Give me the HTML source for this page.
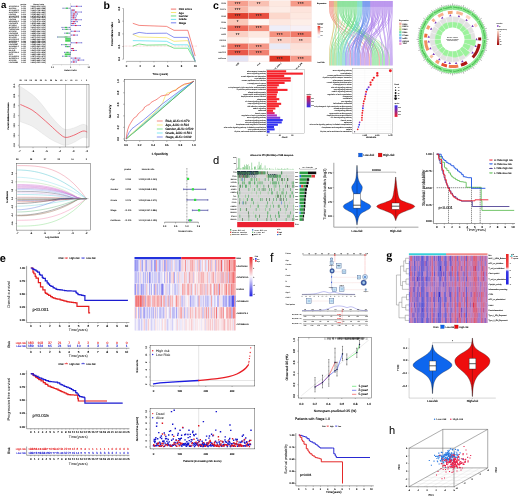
<!DOCTYPE html>
<html><head><meta charset="utf-8"><title>Figure</title>
<style>
html,body{margin:0;padding:0;background:#fff;overflow:hidden}
svg{display:block;font-family:"Liberation Sans",sans-serif}
text{font-family:"Liberation Sans",sans-serif;stroke:#000;stroke-width:.035em}
.m{text-anchor:middle}.e{text-anchor:end}.n{stroke:none}
</style></head><body>
<svg width="520" height="498" viewBox="0 0 520 498" shape-rendering="geometricPrecision" text-rendering="geometricPrecision">
<defs><filter id="bl" x="0" y="0" width="100%" height="100%"><feGaussianBlur stdDeviation="0.3"/></filter></defs>
<rect x="0" y="0" width="520" height="498" fill="#ffffff"/>
<g filter="url(#bl)">
<g id="panel_a">
<text x="1" y="8.1" font-size="9.6" class="n" font-weight="bold">a</text>
<text x="23.4" y="4.6" font-size="1.9" class="m n" font-weight="bold">pvalue</text>
<text x="38.6" y="4.6" font-size="1.9" class="m n" font-weight="bold">Hazard ratio</text>
<text x="8.8" y="6.95" font-size="1.8" class="n" font-weight="bold">AC005261.1</text>
<text x="23.4" y="6.95" font-size="1.8" class="m n" font-weight="bold">0.021</text>
<text x="30.4" y="6.95" font-size="1.8" class="n" font-weight="bold">2.401(1.921-3.121)</text>
<text x="8.8" y="8.87" font-size="1.8" class="n" font-weight="bold">AL13914</text>
<text x="23.4" y="8.87" font-size="1.8" class="m n" font-weight="bold">0.026</text>
<text x="30.4" y="8.87" font-size="1.8" class="n" font-weight="bold">1.837(1.469-2.388)</text>
<text x="8.8" y="10.79" font-size="1.8" class="n" font-weight="bold">AC104695.3</text>
<text x="23.4" y="10.79" font-size="1.8" class="m n" font-weight="bold">0.005</text>
<text x="30.4" y="10.79" font-size="1.8" class="n" font-weight="bold">2.160(1.728-2.809)</text>
<text x="8.8" y="12.71" font-size="1.8" class="n" font-weight="bold">AL117336.2</text>
<text x="23.4" y="12.71" font-size="1.8" class="m n" font-weight="bold">0.007</text>
<text x="30.4" y="12.71" font-size="1.8" class="n" font-weight="bold">1.295(1.036-1.683)</text>
<text x="8.8" y="14.63" font-size="1.8" class="n" font-weight="bold">LINC010</text>
<text x="23.4" y="14.63" font-size="1.8" class="m n" font-weight="bold">0.004</text>
<text x="30.4" y="14.63" font-size="1.8" class="n" font-weight="bold">2.328(1.863-3.027)</text>
<text x="8.8" y="16.55" font-size="1.8" class="n" font-weight="bold">AC010776.3</text>
<text x="23.4" y="16.55" font-size="1.8" class="m n" font-weight="bold">0.014</text>
<text x="30.4" y="16.55" font-size="1.8" class="n" font-weight="bold">0.671(0.537-0.873)</text>
<text x="8.8" y="18.47" font-size="1.8" class="n" font-weight="bold">AC073957.3</text>
<text x="23.4" y="18.47" font-size="1.8" class="m n" font-weight="bold">0.028</text>
<text x="30.4" y="18.47" font-size="1.8" class="n" font-weight="bold">1.395(1.116-1.813)</text>
<text x="8.8" y="20.39" font-size="1.8" class="n" font-weight="bold">LINC016</text>
<text x="23.4" y="20.39" font-size="1.8" class="m n" font-weight="bold">0.016</text>
<text x="30.4" y="20.39" font-size="1.8" class="n" font-weight="bold">0.772(0.618-1.004)</text>
<text x="8.8" y="22.31" font-size="1.8" class="n" font-weight="bold">AP000695.2</text>
<text x="23.4" y="22.31" font-size="1.8" class="m n" font-weight="bold">0.028</text>
<text x="30.4" y="22.31" font-size="1.8" class="n" font-weight="bold">0.712(0.570-0.926)</text>
<text x="8.8" y="24.23" font-size="1.8" class="n" font-weight="bold">LINC01579</text>
<text x="23.4" y="24.23" font-size="1.8" class="m n" font-weight="bold">0.037</text>
<text x="30.4" y="24.23" font-size="1.8" class="n" font-weight="bold">0.835(0.668-1.086)</text>
<text x="8.8" y="26.15" font-size="1.8" class="n" font-weight="bold">AC24504</text>
<text x="23.4" y="26.15" font-size="1.8" class="m n" font-weight="bold">0.015</text>
<text x="30.4" y="26.15" font-size="1.8" class="n" font-weight="bold">1.798(1.439-2.338)</text>
<text x="8.8" y="28.07" font-size="1.8" class="n" font-weight="bold">AL355312.2</text>
<text x="23.4" y="28.07" font-size="1.8" class="m n" font-weight="bold">0.038</text>
<text x="30.4" y="28.07" font-size="1.8" class="n" font-weight="bold">2.401(1.921-3.121)</text>
<text x="8.8" y="29.99" font-size="1.8" class="n" font-weight="bold">TNFRSF10A</text>
<text x="23.4" y="29.99" font-size="1.8" class="m n" font-weight="bold">0.037</text>
<text x="30.4" y="29.99" font-size="1.8" class="n" font-weight="bold">1.713(1.370-2.226)</text>
<text x="8.8" y="31.91" font-size="1.8" class="n" font-weight="bold">AC02636</text>
<text x="23.4" y="31.91" font-size="1.8" class="m n" font-weight="bold">0.004</text>
<text x="30.4" y="31.91" font-size="1.8" class="n" font-weight="bold">2.455(1.964-3.191)</text>
<text x="8.8" y="33.83" font-size="1.8" class="n" font-weight="bold">LINC00205</text>
<text x="23.4" y="33.83" font-size="1.8" class="m n" font-weight="bold">0.003</text>
<text x="30.4" y="33.83" font-size="1.8" class="n" font-weight="bold">1.658(1.326-2.155)</text>
<text x="8.8" y="35.75" font-size="1.8" class="n" font-weight="bold">AL161785.1</text>
<text x="23.4" y="35.75" font-size="1.8" class="m n" font-weight="bold">0.009</text>
<text x="30.4" y="35.75" font-size="1.8" class="n" font-weight="bold">1.150(0.920-1.495)</text>
<text x="8.8" y="37.67" font-size="1.8" class="n" font-weight="bold">AC14765</text>
<text x="23.4" y="37.67" font-size="1.8" class="m n" font-weight="bold">0.010</text>
<text x="30.4" y="37.67" font-size="1.8" class="n" font-weight="bold">1.627(1.302-2.115)</text>
<text x="8.8" y="39.59" font-size="1.8" class="n" font-weight="bold">AC022031.2</text>
<text x="23.4" y="39.59" font-size="1.8" class="m n" font-weight="bold">0.037</text>
<text x="30.4" y="39.59" font-size="1.8" class="n" font-weight="bold">1.186(0.949-1.542)</text>
<text x="8.8" y="41.51" font-size="1.8" class="n" font-weight="bold">AL512506.1</text>
<text x="23.4" y="41.51" font-size="1.8" class="m n" font-weight="bold">0.044</text>
<text x="30.4" y="41.51" font-size="1.8" class="n" font-weight="bold">0.943(0.755-1.226)</text>
<text x="8.8" y="43.43" font-size="1.8" class="n" font-weight="bold">AC08764</text>
<text x="23.4" y="43.43" font-size="1.8" class="m n" font-weight="bold">0.038</text>
<text x="30.4" y="43.43" font-size="1.8" class="n" font-weight="bold">1.685(1.348-2.191)</text>
<text x="8.8" y="45.35" font-size="1.8" class="n" font-weight="bold">LINC02587</text>
<text x="23.4" y="45.35" font-size="1.8" class="m n" font-weight="bold">0.013</text>
<text x="30.4" y="45.35" font-size="1.8" class="n" font-weight="bold">1.308(1.046-1.700)</text>
<text x="8.8" y="47.27" font-size="1.8" class="n" font-weight="bold">AL049840.2</text>
<text x="23.4" y="47.27" font-size="1.8" class="m n" font-weight="bold">0.036</text>
<text x="30.4" y="47.27" font-size="1.8" class="n" font-weight="bold">1.953(1.562-2.539)</text>
<text x="8.8" y="49.19" font-size="1.8" class="n" font-weight="bold">AC01673</text>
<text x="23.4" y="49.19" font-size="1.8" class="m n" font-weight="bold">0.037</text>
<text x="30.4" y="49.19" font-size="1.8" class="n" font-weight="bold">0.713(0.571-0.927)</text>
<text x="8.8" y="51.11" font-size="1.8" class="n" font-weight="bold">HAGLR</text>
<text x="23.4" y="51.11" font-size="1.8" class="m n" font-weight="bold">0.014</text>
<text x="30.4" y="51.11" font-size="1.8" class="n" font-weight="bold">1.543(1.235-2.006)</text>
<text x="8.8" y="53.03" font-size="1.8" class="n" font-weight="bold">AL357054.4</text>
<text x="23.4" y="53.03" font-size="1.8" class="m n" font-weight="bold">0.035</text>
<text x="30.4" y="53.03" font-size="1.8" class="n" font-weight="bold">1.412(1.130-1.836)</text>
<text x="8.8" y="54.95" font-size="1.8" class="n" font-weight="bold">PVT1</text>
<text x="23.4" y="54.95" font-size="1.8" class="m n" font-weight="bold">0.021</text>
<text x="30.4" y="54.95" font-size="1.8" class="n" font-weight="bold">1.485(1.188-1.930)</text>
<text x="8.8" y="56.87" font-size="1.8" class="n" font-weight="bold">AC104083.1</text>
<text x="23.4" y="56.87" font-size="1.8" class="m n" font-weight="bold">0.030</text>
<text x="30.4" y="56.87" font-size="1.8" class="n" font-weight="bold">1.287(1.030-1.673)</text>
<text x="8.8" y="58.79" font-size="1.8" class="n" font-weight="bold">AL355574.1</text>
<text x="23.4" y="58.79" font-size="1.8" class="m n" font-weight="bold">0.016</text>
<text x="30.4" y="58.79" font-size="1.8" class="n" font-weight="bold">2.109(1.687-2.742)</text>
<text x="8.8" y="60.71" font-size="1.8" class="n" font-weight="bold">AC09389</text>
<text x="23.4" y="60.71" font-size="1.8" class="m n" font-weight="bold">0.045</text>
<text x="30.4" y="60.71" font-size="1.8" class="n" font-weight="bold">2.082(1.665-2.706)</text>
<text x="8.8" y="62.63" font-size="1.8" class="n" font-weight="bold">LINC01980</text>
<text x="23.4" y="62.63" font-size="1.8" class="m n" font-weight="bold">0.006</text>
<text x="30.4" y="62.63" font-size="1.8" class="n" font-weight="bold">1.691(1.353-2.199)</text>
<path d="M70.5 3.5L70.5 63.5" stroke="#333" stroke-width="0.3" stroke-dasharray="0.6,0.5"/>
<path d="M71.2 6.3L81.7 6.3" stroke="#3a34c8" stroke-width="0.5"/>
<rect x="71.05" y="5.8" width="0.5" height="1" fill="#2a2ab8"/>
<rect x="81.35" y="5.8" width="0.5" height="1" fill="#2a2ab8"/>
<rect x="75.95" y="5.75" width="1.5" height="1.1" fill="#ee1838"/>
<path d="M62.8 8.22L70.2 8.22" stroke="#4a5a9a" stroke-width="0.5"/>
<rect x="62.65" y="7.72" width="0.5" height="1" fill="#2a2ab8"/>
<rect x="69.85" y="7.72" width="0.5" height="1" fill="#2a2ab8"/>
<rect x="65.8" y="7.67" width="2.2" height="1.1" fill="#35c84a"/>
<path d="M71 10.14L74.8 10.14" stroke="#3a34c8" stroke-width="0.5"/>
<rect x="70.85" y="9.64" width="0.5" height="1" fill="#2a2ab8"/>
<rect x="74.45" y="9.64" width="0.5" height="1" fill="#2a2ab8"/>
<rect x="72.25" y="9.59" width="1.5" height="1.1" fill="#ee1838"/>
<path d="M71 12.06L81.7 12.06" stroke="#3a34c8" stroke-width="0.5"/>
<rect x="70.85" y="11.56" width="0.5" height="1" fill="#2a2ab8"/>
<rect x="81.35" y="11.56" width="0.5" height="1" fill="#2a2ab8"/>
<rect x="75.05" y="11.51" width="1.5" height="1.1" fill="#ee1838"/>
<path d="M71 13.98L77.7 13.98" stroke="#3a34c8" stroke-width="0.5"/>
<rect x="70.85" y="13.48" width="0.5" height="1" fill="#2a2ab8"/>
<rect x="77.35" y="13.48" width="0.5" height="1" fill="#2a2ab8"/>
<rect x="73.25" y="13.43" width="1.5" height="1.1" fill="#ee1838"/>
<path d="M71 15.9L76.5 15.9" stroke="#3a34c8" stroke-width="0.5"/>
<rect x="70.85" y="15.4" width="0.5" height="1" fill="#2a2ab8"/>
<rect x="76.15" y="15.4" width="0.5" height="1" fill="#2a2ab8"/>
<rect x="72.75" y="15.35" width="1.5" height="1.1" fill="#ee1838"/>
<path d="M71 17.82L76 17.82" stroke="#3a34c8" stroke-width="0.5"/>
<rect x="70.85" y="17.32" width="0.5" height="1" fill="#2a2ab8"/>
<rect x="75.65" y="17.32" width="0.5" height="1" fill="#2a2ab8"/>
<rect x="72.75" y="17.27" width="1.5" height="1.1" fill="#ee1838"/>
<path d="M71 19.74L81.5 19.74" stroke="#3a34c8" stroke-width="0.5"/>
<rect x="70.85" y="19.24" width="0.5" height="1" fill="#2a2ab8"/>
<rect x="81.15" y="19.24" width="0.5" height="1" fill="#2a2ab8"/>
<rect x="75.25" y="19.19" width="1.5" height="1.1" fill="#ee1838"/>
<path d="M71 21.66L77.5 21.66" stroke="#3a34c8" stroke-width="0.5"/>
<rect x="70.85" y="21.16" width="0.5" height="1" fill="#2a2ab8"/>
<rect x="77.15" y="21.16" width="0.5" height="1" fill="#2a2ab8"/>
<rect x="73.25" y="21.11" width="1.5" height="1.1" fill="#ee1838"/>
<path d="M71 23.58L75.5 23.58" stroke="#3a34c8" stroke-width="0.5"/>
<rect x="70.85" y="23.08" width="0.5" height="1" fill="#2a2ab8"/>
<rect x="75.15" y="23.08" width="0.5" height="1" fill="#2a2ab8"/>
<rect x="72.25" y="23.03" width="1.5" height="1.1" fill="#ee1838"/>
<path d="M71 25.5L80.8 25.5" stroke="#3a34c8" stroke-width="0.5"/>
<rect x="70.85" y="25" width="0.5" height="1" fill="#2a2ab8"/>
<rect x="80.45" y="25" width="0.5" height="1" fill="#2a2ab8"/>
<rect x="75.05" y="24.95" width="1.5" height="1.1" fill="#ee1838"/>
<path d="M61.8 27.42L70 27.42" stroke="#4a5a9a" stroke-width="0.5"/>
<rect x="61.65" y="26.92" width="0.5" height="1" fill="#2a2ab8"/>
<rect x="69.65" y="26.92" width="0.5" height="1" fill="#2a2ab8"/>
<rect x="64.9" y="26.87" width="2.2" height="1.1" fill="#35c84a"/>
<path d="M62.3 29.34L70.5 29.34" stroke="#4a5a9a" stroke-width="0.5"/>
<rect x="62.15" y="28.84" width="0.5" height="1" fill="#2a2ab8"/>
<rect x="70.15" y="28.84" width="0.5" height="1" fill="#2a2ab8"/>
<rect x="65.4" y="28.79" width="2.2" height="1.1" fill="#35c84a"/>
<path d="M71 31.26L79.6 31.26" stroke="#3a34c8" stroke-width="0.5"/>
<rect x="70.85" y="30.76" width="0.5" height="1" fill="#2a2ab8"/>
<rect x="79.25" y="30.76" width="0.5" height="1" fill="#2a2ab8"/>
<rect x="74.25" y="30.71" width="1.5" height="1.1" fill="#ee1838"/>
<path d="M64.7 33.18L70 33.18" stroke="#4a5a9a" stroke-width="0.5"/>
<rect x="64.55" y="32.68" width="0.5" height="1" fill="#2a2ab8"/>
<rect x="69.65" y="32.68" width="0.5" height="1" fill="#2a2ab8"/>
<rect x="66.2" y="32.63" width="2.2" height="1.1" fill="#35c84a"/>
<path d="M71 35.1L77.7 35.1" stroke="#3a34c8" stroke-width="0.5"/>
<rect x="70.85" y="34.6" width="0.5" height="1" fill="#2a2ab8"/>
<rect x="77.35" y="34.6" width="0.5" height="1" fill="#2a2ab8"/>
<rect x="73.25" y="34.55" width="1.5" height="1.1" fill="#ee1838"/>
<rect x="57.5" y="36.22" width="13" height="1.6" fill="#a9c6c0"/>
<rect x="64.5" y="36.22" width="3" height="1.6" fill="#7fd08a"/>
<rect x="57.35" y="36.52" width="0.5" height="1" fill="#2a2ab8"/>
<rect x="65.2" y="38.09" width="5.3" height="1.7" fill="#48d05a"/>
<rect x="70.1" y="38.44" width="0.5" height="1" fill="#2a2ab8"/>
<rect x="65.2" y="40.01" width="5.3" height="1.7" fill="#48d05a"/>
<rect x="70.1" y="40.36" width="0.5" height="1" fill="#2a2ab8"/>
<path d="M71 42.78L82 42.78" stroke="#3a34c8" stroke-width="0.5"/>
<rect x="70.85" y="42.28" width="0.5" height="1" fill="#2a2ab8"/>
<rect x="81.65" y="42.28" width="0.5" height="1" fill="#2a2ab8"/>
<rect x="75.75" y="42.23" width="1.5" height="1.1" fill="#ee1838"/>
<path d="M61.3 44.7L70.5 44.7" stroke="#4a5a9a" stroke-width="0.5"/>
<rect x="61.15" y="44.2" width="0.5" height="1" fill="#2a2ab8"/>
<rect x="70.15" y="44.2" width="0.5" height="1" fill="#2a2ab8"/>
<rect x="64.9" y="44.15" width="2.2" height="1.1" fill="#35c84a"/>
<path d="M65.2 46.62L70 46.62" stroke="#4a5a9a" stroke-width="0.5"/>
<rect x="65.05" y="46.12" width="0.5" height="1" fill="#2a2ab8"/>
<rect x="69.65" y="46.12" width="0.5" height="1" fill="#2a2ab8"/>
<rect x="66.5" y="46.07" width="2.2" height="1.1" fill="#35c84a"/>
<path d="M71 48.54L73.8 48.54" stroke="#3a34c8" stroke-width="0.5"/>
<rect x="70.85" y="48.04" width="0.5" height="1" fill="#2a2ab8"/>
<rect x="73.45" y="48.04" width="0.5" height="1" fill="#2a2ab8"/>
<rect x="71.65" y="47.99" width="1.5" height="1.1" fill="#ee1838"/>
<path d="M71 50.46L76.3 50.46" stroke="#3a34c8" stroke-width="0.5"/>
<rect x="70.85" y="49.96" width="0.5" height="1" fill="#2a2ab8"/>
<rect x="75.95" y="49.96" width="0.5" height="1" fill="#2a2ab8"/>
<rect x="72.75" y="49.91" width="1.5" height="1.1" fill="#ee1838"/>
<path d="M64.2 52.38L70.5 52.38" stroke="#4a5a9a" stroke-width="0.5"/>
<rect x="64.05" y="51.88" width="0.5" height="1" fill="#2a2ab8"/>
<rect x="70.15" y="51.88" width="0.5" height="1" fill="#2a2ab8"/>
<rect x="66.4" y="51.83" width="2.2" height="1.1" fill="#35c84a"/>
<rect x="64.7" y="53.45" width="5.8" height="1.7" fill="#48d05a"/>
<rect x="70.1" y="53.8" width="0.5" height="1" fill="#2a2ab8"/>
<path d="M62.3 56.22L70 56.22" stroke="#4a5a9a" stroke-width="0.5"/>
<rect x="62.15" y="55.72" width="0.5" height="1" fill="#2a2ab8"/>
<rect x="69.65" y="55.72" width="0.5" height="1" fill="#2a2ab8"/>
<rect x="65.1" y="55.67" width="2.2" height="1.1" fill="#35c84a"/>
<path d="M71 58.14L80.1 58.14" stroke="#3a34c8" stroke-width="0.5"/>
<rect x="70.85" y="57.64" width="0.5" height="1" fill="#2a2ab8"/>
<rect x="79.75" y="57.64" width="0.5" height="1" fill="#2a2ab8"/>
<rect x="74.75" y="57.59" width="1.5" height="1.1" fill="#ee1838"/>
<path d="M72.9 60.06L84 60.06" stroke="#3a34c8" stroke-width="0.5"/>
<rect x="72.75" y="59.56" width="0.5" height="1" fill="#2a2ab8"/>
<rect x="83.65" y="59.56" width="0.5" height="1" fill="#2a2ab8"/>
<rect x="77.75" y="59.51" width="1.5" height="1.1" fill="#ee1838"/>
<path d="M71 61.98L76.7 61.98" stroke="#3a34c8" stroke-width="0.5"/>
<rect x="70.85" y="61.48" width="0.5" height="1" fill="#2a2ab8"/>
<rect x="76.35" y="61.48" width="0.5" height="1" fill="#2a2ab8"/>
<rect x="73.05" y="61.43" width="1.5" height="1.1" fill="#ee1838"/>
<path d="M52.5 64.6L88.75 64.6" stroke="#888" stroke-width="0.35"/>
<path d="M52.5 64.6L52.5 65.4" stroke="#888" stroke-width="0.3"/>
<path d="M61.5 64.6L61.5 65.4" stroke="#888" stroke-width="0.3"/>
<path d="M70.5 64.6L70.5 65.4" stroke="#888" stroke-width="0.3"/>
<path d="M79.6 64.6L79.6 65.4" stroke="#888" stroke-width="0.3"/>
<path d="M88.75 64.6L88.75 65.4" stroke="#888" stroke-width="0.3"/>
<text x="52.5" y="67.8" font-size="2.2" class="m n" font-weight="bold">0.1</text>
<text x="70.5" y="67.8" font-size="2.2" class="m n" font-weight="bold">1</text>
<text x="88.75" y="67.8" font-size="2.2" class="m n" font-weight="bold">10</text>
<text x="70.5" y="71.4" font-size="2.2" class="m n" font-weight="bold">Hazard ratio</text>
<path d="M20.4,86.5 C22.35,87.85 28.65,91.75 32.1,94.6 C35.55,97.45 38.08,100.13 41.1,103.6 C44.12,107.07 47.18,111.78 50.2,115.4 C53.22,119.02 56.65,122.95 59.2,125.3 C61.75,127.65 63.08,129.05 65.5,129.5 C67.92,129.95 70.83,128.85 73.7,128 C76.57,127.15 80.45,124.75 82.7,124.4 C84.95,124.05 86.45,125.65 87.2,125.9 L87.2,138 C86.45,137.9 84.95,136.65 82.7,137.4 C80.45,138.15 76.57,141.2 73.7,142.5 C70.83,143.8 67.92,145.05 65.5,145.2 C63.08,145.35 61.75,144.45 59.2,143.4 C56.65,142.35 53.22,140.72 50.2,138.9 C47.18,137.08 44.12,134.62 41.1,132.5 C38.08,130.38 35.55,128 32.1,126.2 C28.65,124.4 22.35,122.45 20.4,121.7Z" fill="#efefef" stroke="#d4d4d4" stroke-width="0.35"/>
<path d="M20.4,104.5 C22.35,105.42 28.65,107.88 32.1,110 C35.55,112.12 38.08,114.65 41.1,117.2 C44.12,119.75 47.18,122.58 50.2,125.3 C53.22,128.02 56.65,131.48 59.2,133.5 C61.75,135.52 63.08,137.1 65.5,137.4 C67.92,137.7 70.83,136.35 73.7,135.3 C76.57,134.25 80.45,131.65 82.7,131.1 C84.95,130.55 86.45,131.85 87.2,132" fill="none" stroke="#ee3344" stroke-width="0.7" />
<path d="M65.5 84.3L65.5 147" stroke="#777" stroke-width="0.4"/>
<path d="M86.7 84.3L86.7 147" stroke="#777" stroke-width="0.4"/>
<rect x="19.1" y="84.3" width="69.9" height="62.7" fill="none" stroke="#333" stroke-width="0.4"/>
<text x="20.6" y="80.9" font-size="2.0" class="m n" font-weight="bold">28</text>
<text x="25.67" y="80.9" font-size="2.0" class="m n" font-weight="bold">28</text>
<text x="30.74" y="80.9" font-size="2.0" class="m n" font-weight="bold">28</text>
<text x="35.81" y="80.9" font-size="2.0" class="m n" font-weight="bold">28</text>
<text x="40.88" y="80.9" font-size="2.0" class="m n" font-weight="bold">28</text>
<text x="45.95" y="80.9" font-size="2.0" class="m n" font-weight="bold">27</text>
<text x="51.02" y="80.9" font-size="2.0" class="m n" font-weight="bold">26</text>
<text x="56.08" y="80.9" font-size="2.0" class="m n" font-weight="bold">25</text>
<text x="61.15" y="80.9" font-size="2.0" class="m n" font-weight="bold">19</text>
<text x="66.22" y="80.9" font-size="2.0" class="m n" font-weight="bold">17</text>
<text x="71.29" y="80.9" font-size="2.0" class="m n" font-weight="bold">16</text>
<text x="76.36" y="80.9" font-size="2.0" class="m n" font-weight="bold">10</text>
<text x="81.43" y="80.9" font-size="2.0" class="m n" font-weight="bold">7</text>
<text x="86.5" y="80.9" font-size="2.0" class="m n" font-weight="bold">2</text>
<path d="M19.6 147L19.6 148.2" stroke="#222" stroke-width="0.3"/>
<text x="19.6" y="151.9" font-size="2.58" class="m">-7</text>
<path d="M33.02 147L33.02 148.2" stroke="#222" stroke-width="0.3"/>
<text x="33.02" y="151.9" font-size="2.58" class="m">-6</text>
<path d="M46.44 147L46.44 148.2" stroke="#222" stroke-width="0.3"/>
<text x="46.44" y="151.9" font-size="2.58" class="m">-5</text>
<path d="M59.86 147L59.86 148.2" stroke="#222" stroke-width="0.3"/>
<text x="59.86" y="151.9" font-size="2.58" class="m">-4</text>
<path d="M73.28 147L73.28 148.2" stroke="#222" stroke-width="0.3"/>
<text x="73.28" y="151.9" font-size="2.58" class="m">-3</text>
<path d="M86.7 147L86.7 148.2" stroke="#222" stroke-width="0.3"/>
<text x="86.7" y="151.9" font-size="2.58" class="m">-2</text>
<path d="M17.9 86L19.1 86" stroke="#222" stroke-width="0.3"/>
<text x="15.2" y="86" font-size="2.13" class="m" transform="rotate(-90 15.2 86)">13.0</text>
<path d="M17.9 95.87L19.1 95.87" stroke="#222" stroke-width="0.3"/>
<text x="15.2" y="95.87" font-size="2.13" class="m" transform="rotate(-90 15.2 95.87)">12.8</text>
<path d="M17.9 105.73L19.1 105.73" stroke="#222" stroke-width="0.3"/>
<text x="15.2" y="105.73" font-size="2.13" class="m" transform="rotate(-90 15.2 105.73)">12.6</text>
<path d="M17.9 115.6L19.1 115.6" stroke="#222" stroke-width="0.3"/>
<text x="15.2" y="115.6" font-size="2.13" class="m" transform="rotate(-90 15.2 115.6)">12.4</text>
<path d="M17.9 125.47L19.1 125.47" stroke="#222" stroke-width="0.3"/>
<text x="15.2" y="125.47" font-size="2.13" class="m" transform="rotate(-90 15.2 125.47)">12.2</text>
<path d="M17.9 135.33L19.1 135.33" stroke="#222" stroke-width="0.3"/>
<text x="15.2" y="135.33" font-size="2.13" class="m" transform="rotate(-90 15.2 135.33)">12.0</text>
<path d="M17.9 145.2L19.1 145.2" stroke="#222" stroke-width="0.3"/>
<text x="15.2" y="145.2" font-size="2.13" class="m" transform="rotate(-90 15.2 145.2)">11.8</text>
<text x="9.3" y="116" font-size="2.24" class="m" transform="rotate(-90 9.3 116)">Partial Likelihood Deviance</text>
<text x="17.3" y="160.4" font-size="2.2" class="m n" font-weight="bold">28</text>
<path d="M17.3 230.1L17.3 231.3" stroke="#222" stroke-width="0.3"/>
<text x="17.3" y="234.2" font-size="2.58" class="m">-7</text>
<text x="31.1" y="160.4" font-size="2.2" class="m n" font-weight="bold">28</text>
<path d="M31.1 230.1L31.1 231.3" stroke="#222" stroke-width="0.3"/>
<text x="31.1" y="234.2" font-size="2.58" class="m">-6</text>
<text x="44.9" y="160.4" font-size="2.2" class="m n" font-weight="bold">27</text>
<path d="M44.9 230.1L44.9 231.3" stroke="#222" stroke-width="0.3"/>
<text x="44.9" y="234.2" font-size="2.58" class="m">-5</text>
<text x="58.7" y="160.4" font-size="2.2" class="m n" font-weight="bold">22</text>
<path d="M58.7 230.1L58.7 231.3" stroke="#222" stroke-width="0.3"/>
<text x="58.7" y="234.2" font-size="2.58" class="m">-4</text>
<text x="72.5" y="160.4" font-size="2.2" class="m n" font-weight="bold">16</text>
<path d="M72.5 230.1L72.5 231.3" stroke="#222" stroke-width="0.3"/>
<text x="72.5" y="234.2" font-size="2.58" class="m">-3</text>
<text x="86.3" y="160.4" font-size="2.2" class="m n" font-weight="bold">2</text>
<path d="M86.3 230.1L86.3 231.3" stroke="#222" stroke-width="0.3"/>
<text x="86.3" y="234.2" font-size="2.58" class="m">-2</text>
<path d="M17.3,165.6 C18.02,165.6 20.18,165.6 21.61,165.61 C23.05,165.62 24.49,165.63 25.93,165.66 C27.36,165.7 28.8,165.74 30.24,165.82 C31.68,165.89 33.11,165.98 34.55,166.12 C35.99,166.25 37.42,166.4 38.86,166.61 C40.3,166.81 41.74,167.05 43.17,167.34 C44.61,167.63 46.05,167.97 47.49,168.36 C48.92,168.76 50.36,169.21 51.8,169.72 C53.24,170.24 54.67,170.82 56.11,171.47 C57.55,172.13 58.99,172.85 60.42,173.66 C61.86,174.46 63.3,175.35 64.74,176.32 C66.17,177.3 67.61,178.36 69.05,179.52 C70.49,180.68 71.92,181.94 73.36,183.3 C74.8,184.66 76.24,186.13 77.67,187.71 C79.11,189.29 80.55,190.98 81.99,192.79 C83.42,194.61 85.58,197.63 86.3,198.6" fill="none" stroke="#e8607a" stroke-width="0.38" />
<path d="M17.3,170 C18.02,170.01 20.18,170.02 21.61,170.08 C23.05,170.15 24.49,170.24 25.93,170.36 C27.36,170.49 28.8,170.65 30.24,170.85 C31.68,171.05 33.11,171.28 34.55,171.56 C35.99,171.83 37.42,172.14 38.86,172.49 C40.3,172.83 41.74,173.22 43.17,173.65 C44.61,174.07 46.05,174.54 47.49,175.04 C48.92,175.54 50.36,176.09 51.8,176.67 C53.24,177.26 54.67,177.88 56.11,178.54 C57.55,179.21 58.99,179.91 60.42,180.66 C61.86,181.41 63.3,182.19 64.74,183.02 C66.17,183.85 67.61,184.72 69.05,185.63 C70.49,186.54 71.92,187.5 73.36,188.49 C74.8,189.49 76.24,190.53 77.67,191.61 C79.11,192.69 80.55,193.81 81.99,194.98 C83.42,196.14 85.58,198 86.3,198.6" fill="none" stroke="#28b8c8" stroke-width="0.38" />
<path d="M17.3,177.3 C18.02,177.32 20.18,177.34 21.61,177.41 C23.05,177.48 24.49,177.58 25.93,177.71 C27.36,177.84 28.8,178 30.24,178.19 C31.68,178.37 33.11,178.59 34.55,178.83 C35.99,179.07 37.42,179.34 38.86,179.64 C40.3,179.93 41.74,180.26 43.17,180.6 C44.61,180.95 46.05,181.33 47.49,181.73 C48.92,182.13 50.36,182.56 51.8,183.01 C53.24,183.46 54.67,183.94 56.11,184.44 C57.55,184.94 58.99,185.47 60.42,186.02 C61.86,186.57 63.3,187.15 64.74,187.75 C66.17,188.35 67.61,188.98 69.05,189.63 C70.49,190.28 71.92,190.96 73.36,191.66 C74.8,192.36 76.24,193.08 77.67,193.83 C79.11,194.57 80.55,195.35 81.99,196.14 C83.42,196.94 85.58,198.19 86.3,198.6" fill="none" stroke="#7adcea" stroke-width="0.38" />
<path d="M17.3,181.8 C18.02,181.8 20.18,181.8 21.61,181.83 C23.05,181.85 24.49,181.89 25.93,181.95 C27.36,182.01 28.8,182.08 30.24,182.19 C31.68,182.29 33.11,182.42 34.55,182.58 C35.99,182.73 37.42,182.91 38.86,183.13 C40.3,183.34 41.74,183.58 43.17,183.85 C44.61,184.13 46.05,184.43 47.49,184.77 C48.92,185.12 50.36,185.49 51.8,185.9 C53.24,186.31 54.67,186.75 56.11,187.24 C57.55,187.72 58.99,188.24 60.42,188.8 C61.86,189.36 63.3,189.96 64.74,190.6 C66.17,191.24 67.61,191.92 69.05,192.65 C70.49,193.37 71.92,194.13 73.36,194.94 C74.8,195.75 76.24,196.89 77.67,197.5 C79.11,198.11 80.55,198.42 81.99,198.6 C83.42,198.78 85.58,198.6 86.3,198.6" fill="none" stroke="#a0d890" stroke-width="0.38" />
<path d="M17.3,184.5 C18.02,184.5 20.18,184.5 21.61,184.51 C23.05,184.53 24.49,184.55 25.93,184.58 C27.36,184.62 28.8,184.67 30.24,184.74 C31.68,184.81 33.11,184.89 34.55,185 C35.99,185.11 37.42,185.24 38.86,185.4 C40.3,185.56 41.74,185.74 43.17,185.95 C44.61,186.16 46.05,186.39 47.49,186.66 C48.92,186.93 50.36,187.23 51.8,187.56 C53.24,187.89 54.67,188.25 56.11,188.65 C57.55,189.06 58.99,189.49 60.42,189.96 C61.86,190.44 63.3,190.95 64.74,191.5 C66.17,192.05 67.61,192.64 69.05,193.28 C70.49,193.91 71.92,194.59 73.36,195.31 C74.8,196.03 76.24,197.06 77.67,197.6 C79.11,198.15 80.55,198.43 81.99,198.6 C83.42,198.77 85.58,198.6 86.3,198.6" fill="none" stroke="#d868d0" stroke-width="0.38" />
<path d="M17.3,185.3 C18.02,185.3 20.18,185.3 21.61,185.32 C23.05,185.34 24.49,185.37 25.93,185.42 C27.36,185.46 28.8,185.53 30.24,185.61 C31.68,185.69 33.11,185.79 34.55,185.91 C35.99,186.04 37.42,186.18 38.86,186.35 C40.3,186.52 41.74,186.71 43.17,186.93 C44.61,187.14 46.05,187.39 47.49,187.66 C48.92,187.92 50.36,188.22 51.8,188.54 C53.24,188.87 54.67,189.22 56.11,189.6 C57.55,189.99 58.99,190.4 60.42,190.84 C61.86,191.29 63.3,191.76 64.74,192.27 C66.17,192.78 67.61,193.31 69.05,193.89 C70.49,194.46 71.92,195.06 73.36,195.71 C74.8,196.35 76.24,197.25 77.67,197.73 C79.11,198.21 80.55,198.46 81.99,198.6 C83.42,198.74 85.58,198.6 86.3,198.6" fill="none" stroke="#c070e0" stroke-width="0.38" />
<path d="M17.3,186.2 C18.02,186.2 20.18,186.2 21.61,186.21 C23.05,186.22 24.49,186.22 25.93,186.25 C27.36,186.27 28.8,186.3 30.24,186.35 C31.68,186.4 33.11,186.46 34.55,186.54 C35.99,186.62 37.42,186.72 38.86,186.84 C40.3,186.96 41.74,187.1 43.17,187.27 C44.61,187.44 46.05,187.62 47.49,187.85 C48.92,188.07 50.36,188.31 51.8,188.59 C53.24,188.87 54.67,189.18 56.11,189.53 C57.55,189.87 58.99,190.25 60.42,190.67 C61.86,191.08 63.3,191.54 64.74,192.03 C66.17,192.53 67.61,193.06 69.05,193.64 C70.49,194.22 71.92,194.84 73.36,195.51 C74.8,196.18 76.24,197.14 77.67,197.66 C79.11,198.17 80.55,198.44 81.99,198.6 C83.42,198.76 85.58,198.6 86.3,198.6" fill="none" stroke="#e078c8" stroke-width="0.38" />
<path d="M17.3,187 C18.02,187 20.18,187 21.61,187.01 C23.05,187.03 24.49,187.05 25.93,187.08 C27.36,187.12 28.8,187.17 30.24,187.23 C31.68,187.29 33.11,187.37 34.55,187.47 C35.99,187.57 37.42,187.69 38.86,187.82 C40.3,187.96 41.74,188.12 43.17,188.3 C44.61,188.48 46.05,188.68 47.49,188.91 C48.92,189.14 50.36,189.39 51.8,189.67 C53.24,189.95 54.67,190.25 56.11,190.58 C57.55,190.91 58.99,191.27 60.42,191.66 C61.86,192.05 63.3,192.47 64.74,192.92 C66.17,193.36 67.61,193.84 69.05,194.35 C70.49,194.86 71.92,195.41 73.36,195.98 C74.8,196.56 76.24,197.37 77.67,197.81 C79.11,198.25 80.55,198.47 81.99,198.6 C83.42,198.73 85.58,198.6 86.3,198.6" fill="none" stroke="#b060d8" stroke-width="0.38" />
<path d="M17.3,187.8 C18.02,187.8 20.18,187.8 21.61,187.8 C23.05,187.81 24.49,187.82 25.93,187.84 C27.36,187.85 28.8,187.88 30.24,187.91 C31.68,187.95 33.11,188 34.55,188.06 C35.99,188.13 37.42,188.2 38.86,188.3 C40.3,188.4 41.74,188.51 43.17,188.65 C44.61,188.79 46.05,188.95 47.49,189.13 C48.92,189.32 50.36,189.53 51.8,189.76 C53.24,190 54.67,190.27 56.11,190.56 C57.55,190.86 58.99,191.19 60.42,191.55 C61.86,191.91 63.3,192.31 64.74,192.75 C66.17,193.18 67.61,193.65 69.05,194.16 C70.49,194.68 71.92,195.23 73.36,195.83 C74.8,196.43 76.24,197.29 77.67,197.75 C79.11,198.21 80.55,198.46 81.99,198.6 C83.42,198.74 85.58,198.6 86.3,198.6" fill="none" stroke="#e890d0" stroke-width="0.38" />
<path d="M17.3,188.5 C18.02,188.5 20.18,188.5 21.61,188.51 C23.05,188.52 24.49,188.53 25.93,188.56 C27.36,188.59 28.8,188.62 30.24,188.67 C31.68,188.72 33.11,188.78 34.55,188.86 C35.99,188.94 37.42,189.03 38.86,189.15 C40.3,189.26 41.74,189.39 43.17,189.54 C44.61,189.69 46.05,189.86 47.49,190.05 C48.92,190.24 50.36,190.45 51.8,190.69 C53.24,190.93 54.67,191.19 56.11,191.48 C57.55,191.76 58.99,192.07 60.42,192.41 C61.86,192.75 63.3,193.12 64.74,193.51 C66.17,193.91 67.61,194.33 69.05,194.79 C70.49,195.24 71.92,195.73 73.36,196.24 C74.8,196.76 76.24,197.49 77.67,197.89 C79.11,198.28 80.55,198.48 81.99,198.6 C83.42,198.72 85.58,198.6 86.3,198.6" fill="none" stroke="#9070d8" stroke-width="0.38" />
<path d="M17.3,191.4 C18.02,191.4 20.18,191.4 21.61,191.4 C23.05,191.41 24.49,191.42 25.93,191.43 C27.36,191.45 28.8,191.47 30.24,191.51 C31.68,191.54 33.11,191.58 34.55,191.64 C35.99,191.7 37.42,191.77 38.86,191.85 C40.3,191.94 41.74,192.03 43.17,192.15 C44.61,192.27 46.05,192.4 47.49,192.56 C48.92,192.71 50.36,192.89 51.8,193.08 C53.24,193.28 54.67,193.5 56.11,193.74 C57.55,193.99 58.99,194.25 60.42,194.55 C61.86,194.84 63.3,195.16 64.74,195.51 C66.17,195.86 67.61,196.23 69.05,196.64 C70.49,197.05 71.92,197.63 73.36,197.96 C74.8,198.29 76.24,198.49 77.67,198.6 C79.11,198.71 80.55,198.6 81.99,198.6 C83.42,198.6 85.58,198.6 86.3,198.6" fill="none" stroke="#404060" stroke-width="0.38" />
<path d="M17.3,194.5 C18.02,194.5 20.18,194.5 21.61,194.5 C23.05,194.51 24.49,194.52 25.93,194.53 C27.36,194.54 28.8,194.56 30.24,194.58 C31.68,194.61 33.11,194.64 34.55,194.68 C35.99,194.71 37.42,194.76 38.86,194.81 C40.3,194.87 41.74,194.93 43.17,195 C44.61,195.08 46.05,195.16 47.49,195.25 C48.92,195.35 50.36,195.45 51.8,195.56 C53.24,195.68 54.67,195.81 56.11,195.95 C57.55,196.08 58.99,196.24 60.42,196.4 C61.86,196.57 63.3,196.74 64.74,196.94 C66.17,197.13 67.61,197.33 69.05,197.55 C70.49,197.77 71.92,198.09 73.36,198.26 C74.8,198.43 76.24,198.54 77.67,198.6 C79.11,198.66 80.55,198.6 81.99,198.6 C83.42,198.6 85.58,198.6 86.3,198.6" fill="none" stroke="#50c8e0" stroke-width="0.38" />
<path d="M17.3,197.2 C18.02,197.2 20.18,197.2 21.61,197.2 C23.05,197.21 24.49,197.21 25.93,197.21 C27.36,197.22 28.8,197.23 30.24,197.24 C31.68,197.25 33.11,197.26 34.55,197.28 C35.99,197.29 37.42,197.31 38.86,197.33 C40.3,197.35 41.74,197.38 43.17,197.4 C44.61,197.43 46.05,197.46 47.49,197.49 C48.92,197.53 50.36,197.56 51.8,197.6 C53.24,197.64 54.67,197.69 56.11,197.73 C57.55,197.78 58.99,197.83 60.42,197.89 C61.86,197.94 63.3,198 64.74,198.07 C66.17,198.13 67.61,198.2 69.05,198.27 C70.49,198.34 71.92,198.44 73.36,198.49 C74.8,198.55 76.24,198.58 77.67,198.6 C79.11,198.62 80.55,198.6 81.99,198.6 C83.42,198.6 85.58,198.6 86.3,198.6" fill="none" stroke="#e07070" stroke-width="0.38" />
<path d="M17.3,198 C18.02,198 20.18,198 21.61,198 C23.05,198 24.49,198 25.93,198.01 C27.36,198.01 28.8,198.01 30.24,198.02 C31.68,198.02 33.11,198.03 34.55,198.03 C35.99,198.04 37.42,198.05 38.86,198.06 C40.3,198.06 41.74,198.08 43.17,198.09 C44.61,198.1 46.05,198.11 47.49,198.13 C48.92,198.14 50.36,198.16 51.8,198.17 C53.24,198.19 54.67,198.21 56.11,198.23 C57.55,198.25 58.99,198.27 60.42,198.3 C61.86,198.32 63.3,198.34 64.74,198.37 C66.17,198.4 67.61,198.43 69.05,198.46 C70.49,198.49 71.92,198.53 73.36,198.55 C74.8,198.58 76.24,198.59 77.67,198.6 C79.11,198.61 80.55,198.6 81.99,198.6 C83.42,198.6 85.58,198.6 86.3,198.6" fill="none" stroke="#888" stroke-width="0.38" />
<path d="M17.3,199.2 C18.02,199.2 20.18,199.2 21.61,199.2 C23.05,199.2 24.49,199.2 25.93,199.19 C27.36,199.19 28.8,199.19 30.24,199.18 C31.68,199.18 33.11,199.17 34.55,199.17 C35.99,199.16 37.42,199.15 38.86,199.14 C40.3,199.14 41.74,199.12 43.17,199.11 C44.61,199.1 46.05,199.09 47.49,199.07 C48.92,199.06 50.36,199.04 51.8,199.03 C53.24,199.01 54.67,198.99 56.11,198.97 C57.55,198.95 58.99,198.93 60.42,198.9 C61.86,198.88 63.3,198.86 64.74,198.83 C66.17,198.8 67.61,198.77 69.05,198.74 C70.49,198.71 71.92,198.67 73.36,198.65 C74.8,198.62 76.24,198.61 77.67,198.6 C79.11,198.59 80.55,198.6 81.99,198.6 C83.42,198.6 85.58,198.6 86.3,198.6" fill="none" stroke="#333" stroke-width="0.38" />
<path d="M17.3,199.8 C18.02,199.8 20.18,199.8 21.61,199.8 C23.05,199.8 24.49,199.79 25.93,199.79 C27.36,199.78 28.8,199.78 30.24,199.77 C31.68,199.76 33.11,199.75 34.55,199.73 C35.99,199.72 37.42,199.71 38.86,199.69 C40.3,199.67 41.74,199.65 43.17,199.63 C44.61,199.6 46.05,199.58 47.49,199.55 C48.92,199.52 50.36,199.49 51.8,199.45 C53.24,199.42 54.67,199.38 56.11,199.34 C57.55,199.3 58.99,199.26 60.42,199.21 C61.86,199.16 63.3,199.11 64.74,199.06 C66.17,199 67.61,198.95 69.05,198.89 C70.49,198.82 71.92,198.74 73.36,198.69 C74.8,198.64 76.24,198.62 77.67,198.6 C79.11,198.58 80.55,198.6 81.99,198.6 C83.42,198.6 85.58,198.6 86.3,198.6" fill="none" stroke="#a08050" stroke-width="0.38" />
<path d="M17.3,200.5 C18.02,200.5 20.18,200.5 21.61,200.5 C23.05,200.49 24.49,200.49 25.93,200.48 C27.36,200.47 28.8,200.46 30.24,200.45 C31.68,200.43 33.11,200.42 34.55,200.4 C35.99,200.38 37.42,200.35 38.86,200.32 C40.3,200.29 41.74,200.26 43.17,200.23 C44.61,200.19 46.05,200.15 47.49,200.1 C48.92,200.06 50.36,200.01 51.8,199.95 C53.24,199.9 54.67,199.84 56.11,199.77 C57.55,199.71 58.99,199.64 60.42,199.57 C61.86,199.49 63.3,199.41 64.74,199.33 C66.17,199.24 67.61,199.15 69.05,199.05 C70.49,198.96 71.92,198.82 73.36,198.75 C74.8,198.67 76.24,198.62 77.67,198.6 C79.11,198.58 80.55,198.6 81.99,198.6 C83.42,198.6 85.58,198.6 86.3,198.6" fill="none" stroke="#5050a0" stroke-width="0.38" />
<path d="M17.3,203.5 C18.02,203.49 20.18,203.47 21.61,203.42 C23.05,203.38 24.49,203.31 25.93,203.23 C27.36,203.14 28.8,203.04 30.24,202.93 C31.68,202.82 33.11,202.69 34.55,202.54 C35.99,202.4 37.42,202.24 38.86,202.07 C40.3,201.9 41.74,201.72 43.17,201.52 C44.61,201.32 46.05,201.11 47.49,200.88 C48.92,200.66 50.36,200.42 51.8,200.17 C53.24,199.92 54.67,199.65 56.11,199.39 C57.55,199.13 58.99,198.73 60.42,198.6 C61.86,198.47 63.3,198.6 64.74,198.6 C66.17,198.6 67.61,198.6 69.05,198.6 C70.49,198.6 71.92,198.6 73.36,198.6 C74.8,198.6 76.24,198.6 77.67,198.6 C79.11,198.6 80.55,198.6 81.99,198.6 C83.42,198.6 85.58,198.6 86.3,198.6" fill="none" stroke="#222" stroke-width="0.38" />
<path d="M17.3,206.2 C18.02,206.18 20.18,206.16 21.61,206.11 C23.05,206.06 24.49,205.99 25.93,205.9 C27.36,205.82 28.8,205.72 30.24,205.61 C31.68,205.49 33.11,205.37 34.55,205.23 C35.99,205.09 37.42,204.95 38.86,204.78 C40.3,204.62 41.74,204.45 43.17,204.27 C44.61,204.09 46.05,203.9 47.49,203.69 C48.92,203.49 50.36,203.28 51.8,203.05 C53.24,202.83 54.67,202.6 56.11,202.36 C57.55,202.11 58.99,201.86 60.42,201.6 C61.86,201.34 63.3,201.07 64.74,200.79 C66.17,200.52 67.61,200.23 69.05,199.93 C70.49,199.64 71.92,199.24 73.36,199.02 C74.8,198.8 76.24,198.67 77.67,198.6 C79.11,198.53 80.55,198.6 81.99,198.6 C83.42,198.6 85.58,198.6 86.3,198.6" fill="none" stroke="#60d0d8" stroke-width="0.38" />
<path d="M17.3,209.8 C18.02,209.77 20.18,209.72 21.61,209.62 C23.05,209.52 24.49,209.36 25.93,209.17 C27.36,208.99 28.8,208.76 30.24,208.5 C31.68,208.24 33.11,207.94 34.55,207.62 C35.99,207.29 37.42,206.93 38.86,206.54 C40.3,206.15 41.74,205.72 43.17,205.27 C44.61,204.82 46.05,204.33 47.49,203.82 C48.92,203.31 50.36,202.77 51.8,202.2 C53.24,201.63 54.67,201 56.11,200.4 C57.55,199.8 58.99,198.9 60.42,198.6 C61.86,198.3 63.3,198.6 64.74,198.6 C66.17,198.6 67.61,198.6 69.05,198.6 C70.49,198.6 71.92,198.6 73.36,198.6 C74.8,198.6 76.24,198.6 77.67,198.6 C79.11,198.6 80.55,198.6 81.99,198.6 C83.42,198.6 85.58,198.6 86.3,198.6" fill="none" stroke="#4868d8" stroke-width="0.38" />
<path d="M17.3,215.3 C18.02,215.29 20.18,215.27 21.61,215.22 C23.05,215.17 24.49,215.09 25.93,214.98 C27.36,214.87 28.8,214.74 30.24,214.58 C31.68,214.41 33.11,214.23 34.55,214.01 C35.99,213.8 37.42,213.56 38.86,213.29 C40.3,213.02 41.74,212.72 43.17,212.4 C44.61,212.08 46.05,211.73 47.49,211.35 C48.92,210.98 50.36,210.58 51.8,210.15 C53.24,209.72 54.67,209.26 56.11,208.78 C57.55,208.29 58.99,207.78 60.42,207.25 C61.86,206.71 63.3,206.15 64.74,205.56 C66.17,204.96 67.61,204.35 69.05,203.7 C70.49,203.06 71.92,202.39 73.36,201.69 C74.8,200.99 76.24,200.03 77.67,199.51 C79.11,199 80.55,198.75 81.99,198.6 C83.42,198.45 85.58,198.6 86.3,198.6" fill="none" stroke="#333" stroke-width="0.38" />
<path d="M17.3,215.8 C18.02,215.79 20.18,215.79 21.61,215.76 C23.05,215.73 24.49,215.69 25.93,215.62 C27.36,215.54 28.8,215.45 30.24,215.33 C31.68,215.21 33.11,215.07 34.55,214.9 C35.99,214.72 37.42,214.52 38.86,214.29 C40.3,214.06 41.74,213.8 43.17,213.5 C44.61,213.21 46.05,212.89 47.49,212.53 C48.92,212.17 50.36,211.78 51.8,211.35 C53.24,210.92 54.67,210.46 56.11,209.96 C57.55,209.47 58.99,208.94 60.42,208.36 C61.86,207.79 63.3,207.19 64.74,206.54 C66.17,205.9 67.61,205.21 69.05,204.49 C70.49,203.77 71.92,203.01 73.36,202.21 C74.8,201.4 76.24,200.28 77.67,199.68 C79.11,199.08 80.55,198.78 81.99,198.6 C83.42,198.42 85.58,198.6 86.3,198.6" fill="none" stroke="#885030" stroke-width="0.38" />
<path d="M17.3,220.3 C18.02,220.3 20.18,220.3 21.61,220.28 C23.05,220.27 24.49,220.25 25.93,220.2 C27.36,220.16 28.8,220.1 30.24,220.02 C31.68,219.94 33.11,219.84 34.55,219.71 C35.99,219.58 37.42,219.43 38.86,219.25 C40.3,219.06 41.74,218.85 43.17,218.61 C44.61,218.36 46.05,218.08 47.49,217.77 C48.92,217.46 50.36,217.11 51.8,216.72 C53.24,216.33 54.67,215.91 56.11,215.44 C57.55,214.97 58.99,214.46 60.42,213.91 C61.86,213.35 63.3,212.75 64.74,212.11 C66.17,211.46 67.61,210.77 69.05,210.03 C70.49,209.29 71.92,208.5 73.36,207.65 C74.8,206.81 76.24,205.92 77.67,204.97 C79.11,204.02 80.55,203.01 81.99,201.95 C83.42,200.89 85.58,199.16 86.3,198.6" fill="none" stroke="#f070a0" stroke-width="0.38" />
<path d="M17.3,226.1 C18.02,226.1 20.18,226.1 21.61,226.09 C23.05,226.07 24.49,226.06 25.93,226.02 C27.36,225.98 28.8,225.93 30.24,225.85 C31.68,225.77 33.11,225.67 34.55,225.53 C35.99,225.4 37.42,225.24 38.86,225.04 C40.3,224.84 41.74,224.61 43.17,224.34 C44.61,224.06 46.05,223.75 47.49,223.38 C48.92,223.02 50.36,222.61 51.8,222.15 C53.24,221.69 54.67,221.18 56.11,220.61 C57.55,220.04 58.99,219.41 60.42,218.72 C61.86,218.03 63.3,217.29 64.74,216.47 C66.17,215.65 67.61,214.77 69.05,213.81 C70.49,212.85 71.92,211.83 73.36,210.72 C74.8,209.62 76.24,208.44 77.67,207.18 C79.11,205.92 80.55,204.58 81.99,203.15 C83.42,201.72 85.58,199.36 86.3,198.6" fill="none" stroke="#70d870" stroke-width="0.38" />
<path d="M17.3,192.8 C18.02,192.8 20.18,192.8 21.61,192.81 C23.05,192.82 24.49,192.84 25.93,192.86 C27.36,192.88 28.8,192.92 30.24,192.96 C31.68,193 33.11,193.05 34.55,193.12 C35.99,193.18 37.42,193.25 38.86,193.34 C40.3,193.43 41.74,193.53 43.17,193.64 C44.61,193.75 46.05,193.87 47.49,194.01 C48.92,194.15 50.36,194.3 51.8,194.47 C53.24,194.64 54.67,194.82 56.11,195.02 C57.55,195.21 58.99,195.42 60.42,195.65 C61.86,195.88 63.3,196.13 64.74,196.39 C66.17,196.65 67.61,196.92 69.05,197.22 C70.49,197.51 71.92,197.92 73.36,198.15 C74.8,198.38 76.24,198.53 77.67,198.6 C79.11,198.67 80.55,198.6 81.99,198.6 C83.42,198.6 85.58,198.6 86.3,198.6" fill="none" stroke="#d0a0e0" stroke-width="0.38" />
<path d="M17.3,189.6 C18.02,189.6 20.18,189.6 21.61,189.61 C23.05,189.62 24.49,189.63 25.93,189.65 C27.36,189.68 28.8,189.71 30.24,189.76 C31.68,189.81 33.11,189.86 34.55,189.94 C35.99,190.02 37.42,190.11 38.86,190.22 C40.3,190.34 41.74,190.47 43.17,190.62 C44.61,190.77 46.05,190.95 47.49,191.15 C48.92,191.35 50.36,191.57 51.8,191.82 C53.24,192.07 54.67,192.34 56.11,192.65 C57.55,192.95 58.99,193.29 60.42,193.65 C61.86,194.02 63.3,194.41 64.74,194.84 C66.17,195.27 67.61,195.73 69.05,196.23 C70.49,196.73 71.92,197.43 73.36,197.83 C74.8,198.22 76.24,198.47 77.67,198.6 C79.11,198.73 80.55,198.6 81.99,198.6 C83.42,198.6 85.58,198.6 86.3,198.6" fill="none" stroke="#70a0e8" stroke-width="0.38" />
<path d="M17.3,201.8 C18.02,201.8 20.18,201.79 21.61,201.77 C23.05,201.75 24.49,201.73 25.93,201.7 C27.36,201.67 28.8,201.63 30.24,201.58 C31.68,201.54 33.11,201.49 34.55,201.44 C35.99,201.38 37.42,201.32 38.86,201.26 C40.3,201.2 41.74,201.13 43.17,201.05 C44.61,200.98 46.05,200.9 47.49,200.81 C48.92,200.73 50.36,200.64 51.8,200.54 C53.24,200.45 54.67,200.35 56.11,200.25 C57.55,200.14 58.99,200.03 60.42,199.92 C61.86,199.81 63.3,199.69 64.74,199.57 C66.17,199.45 67.61,199.32 69.05,199.19 C70.49,199.06 71.92,198.88 73.36,198.79 C74.8,198.69 76.24,198.63 77.67,198.6 C79.11,198.57 80.55,198.6 81.99,198.6 C83.42,198.6 85.58,198.6 86.3,198.6" fill="none" stroke="#c04040" stroke-width="0.38" />
<path d="M17.3,212 C18.02,211.99 20.18,211.97 21.61,211.92 C23.05,211.86 24.49,211.78 25.93,211.69 C27.36,211.59 28.8,211.46 30.24,211.32 C31.68,211.18 33.11,211.01 34.55,210.82 C35.99,210.64 37.42,210.43 38.86,210.2 C40.3,209.98 41.74,209.73 43.17,209.46 C44.61,209.19 46.05,208.9 47.49,208.6 C48.92,208.29 50.36,207.96 51.8,207.61 C53.24,207.27 54.67,206.9 56.11,206.51 C57.55,206.13 58.99,205.72 60.42,205.3 C61.86,204.87 63.3,204.43 64.74,203.97 C66.17,203.5 67.61,203.02 69.05,202.52 C70.49,202.02 71.92,201.5 73.36,200.97 C74.8,200.43 76.24,199.69 77.67,199.3 C79.11,198.9 80.55,198.72 81.99,198.6 C83.42,198.48 85.58,198.6 86.3,198.6" fill="none" stroke="#50b070" stroke-width="0.38" />
<path d="M86.3 198.6L88.5 198.6" stroke="#333" stroke-width="0.3"/>
<rect x="16.7" y="163.7" width="73.6" height="66.4" fill="none" stroke="#333" stroke-width="0.4"/>
<path d="M15.5 173.5L16.7 173.5" stroke="#222" stroke-width="0.3"/>
<text x="13.4" y="173.5" font-size="2.13" class="m" transform="rotate(-90 13.4 173.5)">0.6</text>
<path d="M15.5 181.83L16.7 181.83" stroke="#222" stroke-width="0.3"/>
<text x="13.4" y="181.83" font-size="2.13" class="m" transform="rotate(-90 13.4 181.83)">0.4</text>
<path d="M15.5 190.17L16.7 190.17" stroke="#222" stroke-width="0.3"/>
<text x="13.4" y="190.17" font-size="2.13" class="m" transform="rotate(-90 13.4 190.17)">0.2</text>
<path d="M15.5 198.5L16.7 198.5" stroke="#222" stroke-width="0.3"/>
<text x="13.4" y="198.5" font-size="2.13" class="m" transform="rotate(-90 13.4 198.5)">0.0</text>
<path d="M15.5 206.83L16.7 206.83" stroke="#222" stroke-width="0.3"/>
<text x="13.4" y="206.83" font-size="2.13" class="m" transform="rotate(-90 13.4 206.83)">-0.2</text>
<path d="M15.5 215.17L16.7 215.17" stroke="#222" stroke-width="0.3"/>
<text x="13.4" y="215.17" font-size="2.13" class="m" transform="rotate(-90 13.4 215.17)">-0.4</text>
<path d="M15.5 223.5L16.7 223.5" stroke="#222" stroke-width="0.3"/>
<text x="13.4" y="223.5" font-size="2.13" class="m" transform="rotate(-90 13.4 223.5)">-0.6</text>
<text x="8.2" y="197" font-size="2.35" class="m" transform="rotate(-90 8.2 197)">Coefficients</text>
<text x="52" y="237.8" font-size="2.46" class="m">Log Lambda</text>
</g>
<g id="panel_b">
<text x="103.6" y="8.5" font-size="10.5" class="n" font-weight="bold">b</text>
<path d="M123.5 8.5L123.5 59.2" stroke="#222" stroke-width="0.35"/>
<path d="M122.3 8.5L123.5 8.5" stroke="#222" stroke-width="0.3"/>
<text x="120.2" y="8.5" font-size="2.69" class="m" transform="rotate(-90 120.2 8.5)">0.8</text>
<path d="M122.3 21.18L123.5 21.18" stroke="#222" stroke-width="0.3"/>
<text x="120.2" y="21.18" font-size="2.69" class="m" transform="rotate(-90 120.2 21.18)">0.7</text>
<path d="M122.3 33.85L123.5 33.85" stroke="#222" stroke-width="0.3"/>
<text x="120.2" y="33.85" font-size="2.69" class="m" transform="rotate(-90 120.2 33.85)">0.6</text>
<path d="M122.3 46.53L123.5 46.53" stroke="#222" stroke-width="0.3"/>
<text x="120.2" y="46.53" font-size="2.69" class="m" transform="rotate(-90 120.2 46.53)">0.5</text>
<path d="M122.3 59.2L123.5 59.2" stroke="#222" stroke-width="0.3"/>
<text x="120.2" y="59.2" font-size="2.69" class="m" transform="rotate(-90 120.2 59.2)">0.4</text>
<path d="M126.4 61.4L195.2 61.4" stroke="#222" stroke-width="0.35"/>
<path d="M126.4 61.4L126.4 62.4" stroke="#222" stroke-width="0.3"/>
<text x="126.4" y="67" font-size="2.7" class="m">0</text>
<path d="M140.16 61.4L140.16 62.4" stroke="#222" stroke-width="0.3"/>
<text x="140.16" y="67" font-size="2.7" class="m">2</text>
<path d="M153.92 61.4L153.92 62.4" stroke="#222" stroke-width="0.3"/>
<text x="153.92" y="67" font-size="2.7" class="m">4</text>
<path d="M167.68 61.4L167.68 62.4" stroke="#222" stroke-width="0.3"/>
<text x="167.68" y="67" font-size="2.7" class="m">6</text>
<path d="M181.44 61.4L181.44 62.4" stroke="#222" stroke-width="0.3"/>
<text x="181.44" y="67" font-size="2.7" class="m">8</text>
<path d="M195.2 61.4L195.2 62.4" stroke="#222" stroke-width="0.3"/>
<text x="195.2" y="67" font-size="2.7" class="m">10</text>
<text x="160.3" y="74.6" font-size="2.8" class="m">Time (years)</text>
<text x="112.8" y="34" font-size="2.8" class="m" transform="rotate(-90 112.8 34)">Concordance index</text>
<path d="M123.5 46.1L197.5 46.1" stroke="#ee4444" stroke-width="0.3" stroke-dasharray="0.7,0.7"/>
<polyline points="132.8,46.1 139.1,44 146.5,45.1 166.6,44.8 174,48.2 187.8,48.2 195.2,61.3" fill="none" stroke="#2fd04a" stroke-width="0.6" stroke-linejoin="round"/>
<polyline points="132.8,40.6 166.6,41.3 174,44.8 187.8,44.8 195.2,61.3" fill="none" stroke="#30d8ee" stroke-width="0.6" stroke-linejoin="round"/>
<polyline points="132.8,34.3 139.1,37 166.6,37.7 174,41.3 187.8,40.6 195.2,61.3" fill="none" stroke="#f2dc3a" stroke-width="0.6" stroke-linejoin="round"/>
<polyline points="132.8,34.3 139.1,32.4 146.5,33.4 166.6,33.2 174,37.4 187.8,37.4 195.2,61.3" fill="none" stroke="#3a48e8" stroke-width="0.6" stroke-linejoin="round"/>
<polyline points="132.8,23.3 139.1,25.4 166.6,26.4 174,30.3 187.8,30.3 195.2,56" fill="none" stroke="#ee3a30" stroke-width="0.6" stroke-linejoin="round"/>
<path d="M170.9 9.1L176.2 9.1" stroke="#ee3a30" stroke-width="0.7"/>
<text x="178.7" y="10.1" font-size="2.85">Risk score</text>
<path d="M170.9 12.53L176.2 12.53" stroke="#f2dc3a" stroke-width="0.7"/>
<text x="178.7" y="13.53" font-size="2.85">Age</text>
<path d="M170.9 15.96L176.2 15.96" stroke="#2fd04a" stroke-width="0.7"/>
<text x="178.7" y="16.96" font-size="2.85">Gender</text>
<path d="M170.9 19.39L176.2 19.39" stroke="#30d8ee" stroke-width="0.7"/>
<text x="178.7" y="20.39" font-size="2.85">Grade</text>
<path d="M170.9 22.82L176.2 22.82" stroke="#3a48e8" stroke-width="0.7"/>
<text x="178.7" y="23.82" font-size="2.85">Stage</text>
<path d="M126.2 138.9L193.8 81.2" stroke="#111" stroke-width="0.45"/>
<polyline points="126.15,138.92 143.46,124.88 162.69,108.15 181.92,91.23 193.85,81.23" fill="none" stroke="#2fd04a" stroke-width="0.6" stroke-linejoin="round"/>
<polyline points="126.15,138.92 143.46,123.54 162.69,106.23 181.92,90.27 193.85,81.23" fill="none" stroke="#30d8ee" stroke-width="0.6" stroke-linejoin="round"/>
<polyline points="126.15,138.92 143.46,122.77 157.88,109.5 160.77,105.08 162.69,102.77 165,96.62 166.92,93.15 171.35,92 172.69,91.04 179.04,87.77 181.92,85.85 193.85,81.23" fill="none" stroke="#f2dc3a" stroke-width="0.6" stroke-linejoin="round"/>
<polyline points="126.15,138.92 127.69,135.46 129.04,132.58 131.92,128.73 143.46,120.08 162.69,103.73 181.92,89.31 193.85,81.23" fill="none" stroke="#3a48e8" stroke-width="0.6" stroke-linejoin="round"/>
<polyline points="126.15,138.92 126.92,133.54 127.69,129.69 129.04,125.85 130.38,123.54 131.92,121.04 133.85,118.15 136.73,116.23 138.08,113.92 139.62,112.77 141.92,110.46 143.46,109.5 144.62,107 145.38,106.62 147.69,105.08 149.23,104.69 151.15,102.38 152.12,101.81 154.62,100.46 155.96,99.88 158.46,98.15 158.85,97.96 160.77,96.04 165.58,95.08 168.46,94.69 170,92.77 172.31,91.23 176.15,90.27 177.69,88.15 179.04,87.38 181.92,85.46 184.81,83.92 189.62,83.15 193.85,81.23" fill="none" stroke="#ee3a30" stroke-width="0.6" stroke-linejoin="round"/>
<rect x="124.2" y="79.3" width="71.2" height="61.5" fill="none" stroke="#222" stroke-width="0.4"/>
<path d="M126.2 140.8L126.2 142" stroke="#222" stroke-width="0.3"/>
<text x="126.2" y="146.4" font-size="2.7" class="m">0.0</text>
<path d="M123 138.9L124.2 138.9" stroke="#222" stroke-width="0.3"/>
<text x="119" y="138.9" font-size="2.8" class="m" transform="rotate(-90 119 138.9)">0.0</text>
<path d="M139.72 140.8L139.72 142" stroke="#222" stroke-width="0.3"/>
<text x="139.72" y="146.4" font-size="2.7" class="m">0.2</text>
<path d="M123 127.36L124.2 127.36" stroke="#222" stroke-width="0.3"/>
<text x="119" y="127.36" font-size="2.8" class="m" transform="rotate(-90 119 127.36)">0.2</text>
<path d="M153.24 140.8L153.24 142" stroke="#222" stroke-width="0.3"/>
<text x="153.24" y="146.4" font-size="2.7" class="m">0.4</text>
<path d="M123 115.82L124.2 115.82" stroke="#222" stroke-width="0.3"/>
<text x="119" y="115.82" font-size="2.8" class="m" transform="rotate(-90 119 115.82)">0.4</text>
<path d="M166.76 140.8L166.76 142" stroke="#222" stroke-width="0.3"/>
<text x="166.76" y="146.4" font-size="2.7" class="m">0.6</text>
<path d="M123 104.28L124.2 104.28" stroke="#222" stroke-width="0.3"/>
<text x="119" y="104.28" font-size="2.8" class="m" transform="rotate(-90 119 104.28)">0.6</text>
<path d="M180.28 140.8L180.28 142" stroke="#222" stroke-width="0.3"/>
<text x="180.28" y="146.4" font-size="2.7" class="m">0.8</text>
<path d="M123 92.74L124.2 92.74" stroke="#222" stroke-width="0.3"/>
<text x="119" y="92.74" font-size="2.8" class="m" transform="rotate(-90 119 92.74)">0.8</text>
<path d="M193.8 140.8L193.8 142" stroke="#222" stroke-width="0.3"/>
<text x="193.8" y="146.4" font-size="2.7" class="m">1.0</text>
<path d="M123 81.2L124.2 81.2" stroke="#222" stroke-width="0.3"/>
<text x="119" y="81.2" font-size="2.8" class="m" transform="rotate(-90 119 81.2)">1.0</text>
<text x="159.8" y="155.2" font-size="3.1" class="m">1-Specificity</text>
<text x="111.4" y="111.4" font-size="3.0" class="m" transform="rotate(-90 111.4 111.4)">Sensitivity</text>
<path d="M156.9 121L162.7 121" stroke="#ee3a30" stroke-width="0.6"/>
<text x="165.4" y="122.1" font-size="3.15">Risk, AUC=0.679</text>
<path d="M156.9 125L162.7 125" stroke="#f2dc3a" stroke-width="0.6"/>
<text x="165.4" y="126.1" font-size="3.15">Age, AUC=0.594</text>
<path d="M156.9 129L162.7 129" stroke="#2fd04a" stroke-width="0.6"/>
<text x="165.4" y="130.1" font-size="3.15">Gender, AUC=0.522</text>
<path d="M156.9 133L162.7 133" stroke="#30d8ee" stroke-width="0.6"/>
<text x="165.4" y="134.1" font-size="3.15">Grade, AUC=0.561</text>
<path d="M156.9 137L162.7 137" stroke="#3a48e8" stroke-width="0.6"/>
<text x="165.4" y="138.1" font-size="3.15">Stage, AUC=0.632</text>
<text x="127.6" y="169.5" font-size="2.2" class="m n" font-weight="bold">pvalue</text>
<text x="148" y="169.5" font-size="2.2" class="m n" font-weight="bold">Hazard ratio</text>
<path d="M186.9 168L186.9 222" stroke="#111" stroke-width="0.45" stroke-dasharray="0.8,0.7"/>
<text x="110.6" y="179.7" font-size="2.2" class="n" font-weight="bold">Age</text>
<text x="128.2" y="179.7" font-size="2.2" class="m n" font-weight="bold">0.034</text>
<text x="147.8" y="179.7" font-size="2.2" class="m n" font-weight="bold">1.020(1.002-1.040)</text>
<path d="M187.4 178.9L188.6 178.9" stroke="#22228c" stroke-width="0.65"/>
<path d="M187.4 178L187.4 179.8" stroke="#22228c" stroke-width="0.5"/>
<path d="M188.6 178L188.6 179.8" stroke="#22228c" stroke-width="0.5"/>
<rect x="186.9" y="177.8" width="2.2" height="2.2" fill="#30e040"/>
<text x="110.6" y="190.1" font-size="2.2" class="n" font-weight="bold">Gender</text>
<text x="128.2" y="190.1" font-size="2.2" class="m n" font-weight="bold">0.224</text>
<text x="147.8" y="190.1" font-size="2.2" class="m n" font-weight="bold">1.246(0.868-1.805)</text>
<path d="M183.6 189.3L205.7 189.3" stroke="#22228c" stroke-width="0.65"/>
<path d="M183.6 188.4L183.6 190.2" stroke="#22228c" stroke-width="0.5"/>
<path d="M205.7 188.4L205.7 190.2" stroke="#22228c" stroke-width="0.5"/>
<rect x="191.8" y="188.2" width="2.2" height="2.2" fill="#30e040"/>
<text x="110.6" y="200.7" font-size="2.2" class="n" font-weight="bold">Grade</text>
<text x="128.2" y="200.7" font-size="2.2" class="m n" font-weight="bold">0.076</text>
<text x="147.8" y="200.7" font-size="2.2" class="m n" font-weight="bold">1.391(0.966-1.971)</text>
<path d="M186.9 199.9L207.9 199.9" stroke="#22228c" stroke-width="0.65"/>
<path d="M186.9 199L186.9 200.8" stroke="#22228c" stroke-width="0.5"/>
<path d="M207.9 199L207.9 200.8" stroke="#22228c" stroke-width="0.5"/>
<rect x="194" y="198.8" width="2.2" height="2.2" fill="#30e040"/>
<text x="110.6" y="211.1" font-size="2.2" class="n" font-weight="bold">Stage</text>
<text x="128.2" y="211.1" font-size="2.2" class="m n" font-weight="bold">&lt;0.001</text>
<text x="147.8" y="211.1" font-size="2.2" class="m n" font-weight="bold">1.534(1.247-1.886)</text>
<path d="M192.4 210.3L207.9 210.3" stroke="#22228c" stroke-width="0.65"/>
<path d="M192.4 209.4L192.4 211.2" stroke="#22228c" stroke-width="0.5"/>
<path d="M207.9 209.4L207.9 211.2" stroke="#22228c" stroke-width="0.5"/>
<rect x="198" y="209.2" width="2.2" height="2.2" fill="#30e040"/>
<text x="110.6" y="221.1" font-size="2.2" class="n" font-weight="bold">riskScore</text>
<text x="128.2" y="221.1" font-size="2.2" class="m n" font-weight="bold">&lt;0.001</text>
<text x="147.8" y="221.1" font-size="2.2" class="m n" font-weight="bold">1.101(1.069-1.135)</text>
<path d="M188.5 220.3L191.8 220.3" stroke="#22228c" stroke-width="0.65"/>
<path d="M188.5 219.4L188.5 221.2" stroke="#22228c" stroke-width="0.5"/>
<path d="M191.8 219.4L191.8 221.2" stroke="#22228c" stroke-width="0.5"/>
<rect x="189" y="219.2" width="2.2" height="2.2" fill="#30e040"/>
<path d="M164.6 222.2L198.4 222.2" stroke="#111" stroke-width="0.4"/>
<path d="M164.6 222.2L164.6 223.4" stroke="#111" stroke-width="0.35"/>
<text x="164.6" y="226.8" font-size="2.4" class="m n" font-weight="bold">0.0</text>
<path d="M175.6 222.2L175.6 223.4" stroke="#111" stroke-width="0.35"/>
<text x="175.6" y="226.8" font-size="2.4" class="m n" font-weight="bold">0.5</text>
<path d="M186.9 222.2L186.9 223.4" stroke="#111" stroke-width="0.35"/>
<text x="186.9" y="226.8" font-size="2.4" class="m n" font-weight="bold">1.0</text>
<path d="M198.4 222.2L198.4 223.4" stroke="#111" stroke-width="0.35"/>
<text x="198.4" y="226.8" font-size="2.4" class="m n" font-weight="bold">1.5</text>
<text x="185.5" y="232.2" font-size="2.4" class="m n" font-weight="bold">Hazard ratio</text>
</g>
<g id="panel_c">
<text x="213.1" y="8.8" font-size="10.5" class="n" font-weight="bold">c</text>
<rect x="227.3" y="0.7" width="21.05" height="6.11" fill="#f6a08f" stroke="#f3d6cf" stroke-width="0.25"/>
<text x="237.83" y="5.05" font-size="4.2" class="m n" style="fill:#222;stroke:#222" letter-spacing="0.45">***</text>
<rect x="248.35" y="0.7" width="21.05" height="6.11" fill="#f9c0b2" stroke="#f3d6cf" stroke-width="0.25"/>
<text x="258.88" y="5.05" font-size="4.2" class="m n" style="fill:#222;stroke:#222" letter-spacing="0.45">**</text>
<rect x="269.4" y="0.7" width="21.05" height="6.11" fill="#fde8e0" stroke="#f3d6cf" stroke-width="0.25"/>
<rect x="290.45" y="0.7" width="21.05" height="6.11" fill="#f59a88" stroke="#f3d6cf" stroke-width="0.25"/>
<text x="300.97" y="5.05" font-size="4.2" class="m n" style="fill:#222;stroke:#222" letter-spacing="0.45">***</text>
<rect x="227.3" y="6.81" width="21.05" height="6.11" fill="#f9b7a7" stroke="#f3d6cf" stroke-width="0.25"/>
<text x="237.83" y="11.16" font-size="4.2" class="m n" style="fill:#222;stroke:#222" letter-spacing="0.45">***</text>
<rect x="248.35" y="6.81" width="21.05" height="6.11" fill="#fce0d8" stroke="#f3d6cf" stroke-width="0.25"/>
<rect x="269.4" y="6.81" width="21.05" height="6.11" fill="#fdece6" stroke="#f3d6cf" stroke-width="0.25"/>
<rect x="290.45" y="6.81" width="21.05" height="6.11" fill="#fde4dc" stroke="#f3d6cf" stroke-width="0.25"/>
<rect x="227.3" y="12.92" width="21.05" height="6.11" fill="#e1402f" stroke="#f3d6cf" stroke-width="0.25"/>
<text x="237.83" y="17.27" font-size="4.2" class="m n" style="fill:#222;stroke:#222" letter-spacing="0.45">***</text>
<rect x="248.35" y="12.92" width="21.05" height="6.11" fill="#e8503f" stroke="#f3d6cf" stroke-width="0.25"/>
<text x="258.88" y="17.27" font-size="4.2" class="m n" style="fill:#222;stroke:#222" letter-spacing="0.45">***</text>
<rect x="269.4" y="12.92" width="21.05" height="6.11" fill="#fcd8cc" stroke="#f3d6cf" stroke-width="0.25"/>
<rect x="290.45" y="12.92" width="21.05" height="6.11" fill="#fde8e0" stroke="#f3d6cf" stroke-width="0.25"/>
<rect x="227.3" y="19.03" width="21.05" height="6.11" fill="#fbc8b8" stroke="#f3d6cf" stroke-width="0.25"/>
<text x="237.83" y="23.38" font-size="4.2" class="m n" style="fill:#222;stroke:#222" letter-spacing="0.45">*</text>
<rect x="248.35" y="19.03" width="21.05" height="6.11" fill="#fef6f2" stroke="#f3d6cf" stroke-width="0.25"/>
<rect x="269.4" y="19.03" width="21.05" height="6.11" fill="#fde8e0" stroke="#f3d6cf" stroke-width="0.25"/>
<rect x="290.45" y="19.03" width="21.05" height="6.11" fill="#fdeee8" stroke="#f3d6cf" stroke-width="0.25"/>
<rect x="227.3" y="25.14" width="21.05" height="6.11" fill="#ee6958" stroke="#f3d6cf" stroke-width="0.25"/>
<text x="237.83" y="29.49" font-size="4.2" class="m n" style="fill:#222;stroke:#222" letter-spacing="0.45">***</text>
<rect x="248.35" y="25.14" width="21.05" height="6.11" fill="#f4907e" stroke="#f3d6cf" stroke-width="0.25"/>
<text x="258.88" y="29.49" font-size="4.2" class="m n" style="fill:#222;stroke:#222" letter-spacing="0.45">***</text>
<rect x="269.4" y="25.14" width="21.05" height="6.11" fill="#eeeef8" stroke="#f3d6cf" stroke-width="0.25"/>
<rect x="290.45" y="25.14" width="21.05" height="6.11" fill="#f6f0f6" stroke="#f3d6cf" stroke-width="0.25"/>
<rect x="227.3" y="31.25" width="21.05" height="6.11" fill="#fbd0c4" stroke="#f3d6cf" stroke-width="0.25"/>
<text x="237.83" y="35.6" font-size="4.2" class="m n" style="fill:#222;stroke:#222" letter-spacing="0.45">**</text>
<rect x="248.35" y="31.25" width="21.05" height="6.11" fill="#fde8e0" stroke="#f3d6cf" stroke-width="0.25"/>
<rect x="269.4" y="31.25" width="21.05" height="6.11" fill="#f4907e" stroke="#f3d6cf" stroke-width="0.25"/>
<text x="279.92" y="35.6" font-size="4.2" class="m n" style="fill:#222;stroke:#222" letter-spacing="0.45">***</text>
<rect x="290.45" y="31.25" width="21.05" height="6.11" fill="#f07868" stroke="#f3d6cf" stroke-width="0.25"/>
<text x="300.97" y="35.6" font-size="4.2" class="m n" style="fill:#222;stroke:#222" letter-spacing="0.45">***</text>
<rect x="227.3" y="37.36" width="21.05" height="6.11" fill="#fdebe4" stroke="#f3d6cf" stroke-width="0.25"/>
<rect x="248.35" y="37.36" width="21.05" height="6.11" fill="#fff8f6" stroke="#f3d6cf" stroke-width="0.25"/>
<rect x="269.4" y="37.36" width="21.05" height="6.11" fill="#fbd0c4" stroke="#f3d6cf" stroke-width="0.25"/>
<text x="279.92" y="41.71" font-size="4.2" class="m n" style="fill:#222;stroke:#222" letter-spacing="0.45">**</text>
<rect x="290.45" y="37.36" width="21.05" height="6.11" fill="#fbc8bc" stroke="#f3d6cf" stroke-width="0.25"/>
<text x="300.97" y="41.71" font-size="4.2" class="m n" style="fill:#222;stroke:#222" letter-spacing="0.45">**</text>
<rect x="227.3" y="43.47" width="21.05" height="6.11" fill="#ee7060" stroke="#f3d6cf" stroke-width="0.25"/>
<text x="237.83" y="47.82" font-size="4.2" class="m n" style="fill:#222;stroke:#222" letter-spacing="0.45">***</text>
<rect x="248.35" y="43.47" width="21.05" height="6.11" fill="#f59888" stroke="#f3d6cf" stroke-width="0.25"/>
<text x="258.88" y="47.82" font-size="4.2" class="m n" style="fill:#222;stroke:#222" letter-spacing="0.45">***</text>
<rect x="269.4" y="43.47" width="21.05" height="6.11" fill="#eaeaf6" stroke="#f3d6cf" stroke-width="0.25"/>
<rect x="290.45" y="43.47" width="21.05" height="6.11" fill="#fce0d8" stroke="#f3d6cf" stroke-width="0.25"/>
<rect x="227.3" y="49.58" width="21.05" height="6.11" fill="#e85848" stroke="#f3d6cf" stroke-width="0.25"/>
<text x="237.83" y="53.93" font-size="4.2" class="m n" style="fill:#222;stroke:#222" letter-spacing="0.45">***</text>
<rect x="248.35" y="49.58" width="21.05" height="6.11" fill="#f08070" stroke="#f3d6cf" stroke-width="0.25"/>
<text x="258.88" y="53.93" font-size="4.2" class="m n" style="fill:#222;stroke:#222" letter-spacing="0.45">***</text>
<rect x="269.4" y="49.58" width="21.05" height="6.11" fill="#fdece6" stroke="#f3d6cf" stroke-width="0.25"/>
<rect x="290.45" y="49.58" width="21.05" height="6.11" fill="#fde4dc" stroke="#f3d6cf" stroke-width="0.25"/>
<rect x="227.3" y="55.69" width="21.05" height="6.11" fill="#e4e4f4" stroke="#f3d6cf" stroke-width="0.25"/>
<rect x="248.35" y="55.69" width="21.05" height="6.11" fill="#fffafa" stroke="#f3d6cf" stroke-width="0.25"/>
<rect x="269.4" y="55.69" width="21.05" height="6.11" fill="#e03828" stroke="#f3d6cf" stroke-width="0.25"/>
<text x="279.92" y="60.04" font-size="4.2" class="m n" style="fill:#222;stroke:#222" letter-spacing="0.45">***</text>
<rect x="290.45" y="55.69" width="21.05" height="6.11" fill="#f59888" stroke="#f3d6cf" stroke-width="0.25"/>
<text x="300.97" y="60.04" font-size="4.2" class="m n" style="fill:#222;stroke:#222" letter-spacing="0.45">***</text>
<text x="226" y="4.35" font-size="1.9" class="e" style="fill:#444;stroke:#444">CD28</text>
<text x="226" y="10.46" font-size="1.9" class="e" style="fill:#444;stroke:#444">CD274</text>
<text x="226" y="16.57" font-size="1.9" class="e" style="fill:#444;stroke:#444">CD80</text>
<text x="226" y="22.68" font-size="1.9" class="e" style="fill:#444;stroke:#444">CD86</text>
<text x="226" y="28.79" font-size="1.9" class="e" style="fill:#444;stroke:#444">CTLA4</text>
<text x="226" y="34.9" font-size="1.9" class="e" style="fill:#444;stroke:#444">LAG3</text>
<text x="226" y="41.02" font-size="1.9" class="e" style="fill:#444;stroke:#444">PDCD1</text>
<text x="226" y="47.12" font-size="1.9" class="e" style="fill:#444;stroke:#444">TIGIT</text>
<text x="226" y="53.23" font-size="1.9" class="e" style="fill:#444;stroke:#444">HAVCR2</text>
<text x="226" y="59.34" font-size="1.9" class="e" style="fill:#444;stroke:#444">riskScore</text>
<text x="239.33" y="63.4" font-size="1.9" class="e" transform="rotate(-45 239.33 63.4)">CCR</text>
<text x="260.38" y="63.4" font-size="1.9" class="e" transform="rotate(-45 260.38 63.4)">HLA</text>
<text x="281.42" y="63.4" font-size="1.9" class="e" transform="rotate(-45 281.42 63.4)">MHC_class_I</text>
<text x="302.47" y="63.4" font-size="1.9" class="e" transform="rotate(-45 302.47 63.4)">Type_II_IFN</text>
<defs><linearGradient id="cg1" x1="0" y1="0" x2="0" y2="1"><stop offset="0" stop-color="#e03020"/><stop offset="0.8" stop-color="#ffffff"/><stop offset="1" stop-color="#dcdcf4"/></linearGradient></defs>
<rect x="317.6" y="26" width="2.6" height="11.5" fill="url(#cg1)"/>
<text x="317.2" y="25.2" font-size="1.46">* p&lt;0.05</text>
<text x="317.2" y="23.8" font-size="1.46">** p&lt;0.01</text>
<text x="320.6" y="27.5" font-size="1.46">0.4</text>
<text x="320.6" y="31.9" font-size="1.46">0.2</text>
<text x="320.6" y="36.3" font-size="1.46">0.0</text>
<text x="317" y="4.2" font-size="1.9">Expression</text>
<text x="317.5" y="62.8" font-size="1.9">LncRNA</text>
<path d="M334.5 0.9V8.5C334.5 33.5 388.48 33.5 388.48 58.5V65.4h0.7V58.5C389.18 33.5 335.2 33.5 335.2 8.5V0.9z" fill="#d4c26c" fill-opacity=".72"/>
<path d="M341.56 0.9V8.5C341.56 33.5 389.18 33.5 389.18 58.5V65.4h0.71V58.5C389.89 33.5 342.28 33.5 342.28 8.5V0.9z" fill="#74dc88" fill-opacity=".72"/>
<path d="M331.74 0.9V8.5C331.74 33.5 378.62 33.5 378.62 58.5V65.4h0.69V58.5C379.31 33.5 332.43 33.5 332.43 8.5V0.9z" fill="#f08c80" fill-opacity=".72"/>
<path d="M333.11 0.9V8.5C333.11 33.5 379.31 33.5 379.31 58.5V65.4h0.69V58.5C379.99 33.5 333.8 33.5 333.8 8.5V0.9z" fill="#f08c80" fill-opacity=".72"/>
<path d="M338.72 0.9V8.5C338.72 33.5 383.54 33.5 383.54 58.5V65.4h0.71V58.5C384.25 33.5 339.43 33.5 339.43 8.5V0.9z" fill="#74dc88" fill-opacity=".72"/>
<path d="M339.43 0.9V8.5C339.43 33.5 379.99 33.5 379.99 58.5V65.4h0.71V58.5C380.7 33.5 340.14 33.5 340.14 8.5V0.9z" fill="#74dc88" fill-opacity=".72"/>
<path d="M340.14 0.9V8.5C340.14 33.5 380.7 33.5 380.7 58.5V65.4h0.71V58.5C381.42 33.5 340.85 33.5 340.85 8.5V0.9z" fill="#74dc88" fill-opacity=".72"/>
<path d="M329 0.9V8.5C329 33.5 368.75 33.5 368.75 58.5V65.4h0.69V58.5C369.43 33.5 329.69 33.5 329.69 8.5V0.9z" fill="#f08c80" fill-opacity=".72"/>
<path d="M342.27 0.9V8.5C342.27 33.5 381.42 33.5 381.42 58.5V65.4h0.71V58.5C382.13 33.5 342.99 33.5 342.99 8.5V0.9z" fill="#74dc88" fill-opacity=".72"/>
<path d="M330.37 0.9V8.5C330.37 33.5 369.43 33.5 369.43 58.5V65.4h0.69V58.5C370.12 33.5 331.06 33.5 331.06 8.5V0.9z" fill="#f08c80" fill-opacity=".72"/>
<path d="M345.83 0.9V8.5C345.83 33.5 384.25 33.5 384.25 58.5V65.4h0.71V58.5C384.96 33.5 346.54 33.5 346.54 8.5V0.9z" fill="#74dc88" fill-opacity=".72"/>
<path d="M335.2 0.9V8.5C335.2 33.5 371.53 33.5 371.53 58.5V65.4h0.7V58.5C372.23 33.5 335.9 33.5 335.9 8.5V0.9z" fill="#d4c26c" fill-opacity=".72"/>
<path d="M382.86 0.9V8.5C382.86 33.5 346.92 33.5 346.92 58.5V65.4h0.7V58.5C347.62 33.5 383.56 33.5 383.56 8.5V0.9z" fill="#ac80ea" fill-opacity=".72"/>
<path d="M331.06 0.9V8.5C331.06 33.5 364.55 33.5 364.55 58.5V65.4h0.69V58.5C365.23 33.5 331.74 33.5 331.74 8.5V0.9z" fill="#f08c80" fill-opacity=".72"/>
<path d="M340.85 0.9V8.5C340.85 33.5 373.65 33.5 373.65 58.5V65.4h0.71V58.5C374.36 33.5 341.56 33.5 341.56 8.5V0.9z" fill="#74dc88" fill-opacity=".72"/>
<path d="M378.64 0.9V8.5C378.64 33.5 346.21 33.5 346.21 58.5V65.4h0.7V58.5C346.92 33.5 379.34 33.5 379.34 8.5V0.9z" fill="#ac80ea" fill-opacity=".72"/>
<path d="M344.41 0.9V8.5C344.41 33.5 376.49 33.5 376.49 58.5V65.4h0.71V58.5C377.2 33.5 345.12 33.5 345.12 8.5V0.9z" fill="#74dc88" fill-opacity=".72"/>
<path d="M350.8 0.9V8.5C350.8 33.5 382.83 33.5 382.83 58.5V65.4h0.71V58.5C383.54 33.5 351.51 33.5 351.51 8.5V0.9z" fill="#74dc88" fill-opacity=".72"/>
<path d="M380.04 0.9V8.5C380.04 33.5 349.07 33.5 349.07 58.5V65.4h0.7V58.5C349.77 33.5 380.75 33.5 380.75 8.5V0.9z" fill="#ac80ea" fill-opacity=".72"/>
<path d="M347.25 0.9V8.5C347.25 33.5 377.91 33.5 377.91 58.5V65.4h0.71V58.5C378.62 33.5 347.96 33.5 347.96 8.5V0.9z" fill="#74dc88" fill-opacity=".72"/>
<path d="M329.69 0.9V8.5C329.69 33.5 360.35 33.5 360.35 58.5V65.4h0.69V58.5C361.03 33.5 330.37 33.5 330.37 8.5V0.9z" fill="#f08c80" fill-opacity=".72"/>
<path d="M342.99 0.9V8.5C342.99 33.5 372.94 33.5 372.94 58.5V65.4h0.71V58.5C373.65 33.5 343.7 33.5 343.7 8.5V0.9z" fill="#74dc88" fill-opacity=".72"/>
<path d="M345.12 0.9V8.5C345.12 33.5 375.07 33.5 375.07 58.5V65.4h0.71V58.5C375.78 33.5 345.83 33.5 345.83 8.5V0.9z" fill="#74dc88" fill-opacity=".72"/>
<path d="M389.89 0.9V8.5C389.89 33.5 361.73 33.5 361.73 58.5V65.4h0.7V58.5C362.44 33.5 390.59 33.5 390.59 8.5V0.9z" fill="#ac80ea" fill-opacity=".72"/>
<path d="M347.96 0.9V8.5C347.96 33.5 375.78 33.5 375.78 58.5V65.4h0.71V58.5C376.49 33.5 348.67 33.5 348.67 8.5V0.9z" fill="#74dc88" fill-opacity=".72"/>
<path d="M387.07 0.9V8.5C387.07 33.5 359.64 33.5 359.64 58.5V65.4h0.7V58.5C360.35 33.5 387.78 33.5 387.78 8.5V0.9z" fill="#ac80ea" fill-opacity=".72"/>
<path d="M391.29 0.9V8.5C391.29 33.5 365.94 33.5 365.94 58.5V65.4h0.7V58.5C366.64 33.5 392 33.5 392 8.5V0.9z" fill="#ac80ea" fill-opacity=".72"/>
<path d="M375.12 0.9V8.5C375.12 33.5 349.77 33.5 349.77 58.5V65.4h0.7V58.5C350.47 33.5 375.82 33.5 375.82 8.5V0.9z" fill="#ac80ea" fill-opacity=".72"/>
<path d="M349.38 0.9V8.5C349.38 33.5 374.36 33.5 374.36 58.5V65.4h0.71V58.5C375.07 33.5 350.09 33.5 350.09 8.5V0.9z" fill="#74dc88" fill-opacity=".72"/>
<path d="M360.91 0.9V8.5C360.91 33.5 336.79 33.5 336.79 58.5V65.4h0.74V58.5C337.53 33.5 361.66 33.5 361.66 8.5V0.9z" fill="#6cd8c0" fill-opacity=".72"/>
<path d="M361.66 0.9V8.5C361.66 33.5 337.53 33.5 337.53 58.5V65.4h0.74V58.5C338.27 33.5 362.4 33.5 362.4 8.5V0.9z" fill="#6cd8c0" fill-opacity=".72"/>
<path d="M377.93 0.9V8.5C377.93 33.5 353.98 33.5 353.98 58.5V65.4h0.7V58.5C354.68 33.5 378.64 33.5 378.64 8.5V0.9z" fill="#ac80ea" fill-opacity=".72"/>
<path d="M384.97 0.9V8.5C384.97 33.5 361.03 33.5 361.03 58.5V65.4h0.7V58.5C361.73 33.5 385.67 33.5 385.67 8.5V0.9z" fill="#ac80ea" fill-opacity=".72"/>
<path d="M353.65 0.9V8.5C353.65 33.5 377.2 33.5 377.2 58.5V65.4h0.71V58.5C377.91 33.5 354.36 33.5 354.36 8.5V0.9z" fill="#74dc88" fill-opacity=".72"/>
<path d="M376.53 0.9V8.5C376.53 33.5 353.28 33.5 353.28 58.5V65.4h0.7V58.5C353.98 33.5 377.23 33.5 377.23 8.5V0.9z" fill="#ac80ea" fill-opacity=".72"/>
<path d="M379.34 0.9V8.5C379.34 33.5 356.1 33.5 356.1 58.5V65.4h0.7V58.5C356.81 33.5 380.04 33.5 380.04 8.5V0.9z" fill="#ac80ea" fill-opacity=".72"/>
<path d="M368.07 0.9V8.5C368.07 33.5 345.5 33.5 345.5 58.5V65.4h0.71V58.5C346.21 33.5 368.78 33.5 368.78 8.5V0.9z" fill="#6088ec" fill-opacity=".72"/>
<path d="M370.9 0.9V8.5C370.9 33.5 348.36 33.5 348.36 58.5V65.4h0.7V58.5C349.07 33.5 371.61 33.5 371.61 8.5V0.9z" fill="#ac80ea" fill-opacity=".72"/>
<path d="M356.49 0.9V8.5C356.49 33.5 333.95 33.5 333.95 58.5V65.4h0.71V58.5C334.66 33.5 357.2 33.5 357.2 8.5V0.9z" fill="#74dc88" fill-opacity=".72"/>
<path d="M366.65 0.9V8.5C366.65 33.5 344.79 33.5 344.79 58.5V65.4h0.71V58.5C345.5 33.5 367.36 33.5 367.36 8.5V0.9z" fill="#6088ec" fill-opacity=".72"/>
<path d="M385.67 0.9V8.5C385.67 33.5 363.84 33.5 363.84 58.5V65.4h0.7V58.5C364.55 33.5 386.37 33.5 386.37 8.5V0.9z" fill="#ac80ea" fill-opacity=".72"/>
<path d="M352.23 0.9V8.5C352.23 33.5 330.41 33.5 330.41 58.5V65.4h0.71V58.5C331.12 33.5 352.94 33.5 352.94 8.5V0.9z" fill="#74dc88" fill-opacity=".72"/>
<path d="M373.72 0.9V8.5C373.72 33.5 352.58 33.5 352.58 58.5V65.4h0.7V58.5C353.28 33.5 374.42 33.5 374.42 8.5V0.9z" fill="#ac80ea" fill-opacity=".72"/>
<path d="M362.4 0.9V8.5C362.4 33.5 342.6 33.5 342.6 58.5V65.4h0.71V58.5C343.31 33.5 363.11 33.5 363.11 8.5V0.9z" fill="#6088ec" fill-opacity=".72"/>
<path d="M355.78 0.9V8.5C355.78 33.5 336.07 33.5 336.07 58.5V65.4h0.71V58.5C336.79 33.5 356.49 33.5 356.49 8.5V0.9z" fill="#74dc88" fill-opacity=".72"/>
<path d="M358.69 0.9V8.5C358.69 33.5 338.98 33.5 338.98 58.5V65.4h0.74V58.5C339.72 33.5 359.43 33.5 359.43 8.5V0.9z" fill="#6cd8c0" fill-opacity=".72"/>
<path d="M352.94 0.9V8.5C352.94 33.5 372.23 33.5 372.23 58.5V65.4h0.71V58.5C372.94 33.5 353.65 33.5 353.65 8.5V0.9z" fill="#74dc88" fill-opacity=".72"/>
<path d="M351.51 0.9V8.5C351.51 33.5 333.24 33.5 333.24 58.5V65.4h0.71V58.5C333.95 33.5 352.23 33.5 352.23 8.5V0.9z" fill="#74dc88" fill-opacity=".72"/>
<path d="M332.43 0.9V8.5C332.43 33.5 350.47 33.5 350.47 58.5V65.4h0.69V58.5C351.16 33.5 333.11 33.5 333.11 8.5V0.9z" fill="#f08c80" fill-opacity=".72"/>
<path d="M359.43 0.9V8.5C359.43 33.5 341.86 33.5 341.86 58.5V65.4h0.74V58.5C342.6 33.5 360.17 33.5 360.17 8.5V0.9z" fill="#6cd8c0" fill-opacity=".72"/>
<path d="M386.37 0.9V8.5C386.37 33.5 370.82 33.5 370.82 58.5V65.4h0.7V58.5C371.53 33.5 387.07 33.5 387.07 8.5V0.9z" fill="#ac80ea" fill-opacity=".72"/>
<path d="M383.56 0.9V8.5C383.56 33.5 368.05 33.5 368.05 58.5V65.4h0.7V58.5C368.75 33.5 384.26 33.5 384.26 8.5V0.9z" fill="#ac80ea" fill-opacity=".72"/>
<path d="M370.2 0.9V8.5C370.2 33.5 384.96 33.5 384.96 58.5V65.4h0.7V58.5C385.66 33.5 370.9 33.5 370.9 8.5V0.9z" fill="#ac80ea" fill-opacity=".72"/>
<path d="M350.09 0.9V8.5C350.09 33.5 335.36 33.5 335.36 58.5V65.4h0.71V58.5C336.07 33.5 350.8 33.5 350.8 8.5V0.9z" fill="#74dc88" fill-opacity=".72"/>
<path d="M346.54 0.9V8.5C346.54 33.5 332.53 33.5 332.53 58.5V65.4h0.71V58.5C333.24 33.5 347.25 33.5 347.25 8.5V0.9z" fill="#74dc88" fill-opacity=".72"/>
<path d="M343.7 0.9V8.5C343.7 33.5 329.7 33.5 329.7 58.5V65.4h0.71V58.5C330.41 33.5 344.41 33.5 344.41 8.5V0.9z" fill="#74dc88" fill-opacity=".72"/>
<path d="M354.36 0.9V8.5C354.36 33.5 340.44 33.5 340.44 58.5V65.4h0.71V58.5C341.15 33.5 355.07 33.5 355.07 8.5V0.9z" fill="#74dc88" fill-opacity=".72"/>
<path d="M355.07 0.9V8.5C355.07 33.5 341.15 33.5 341.15 58.5V65.4h0.71V58.5C341.86 33.5 355.78 33.5 355.78 8.5V0.9z" fill="#74dc88" fill-opacity=".72"/>
<path d="M357.2 0.9V8.5C357.2 33.5 343.31 33.5 343.31 58.5V65.4h0.74V58.5C344.05 33.5 357.94 33.5 357.94 8.5V0.9z" fill="#6cd8c0" fill-opacity=".72"/>
<path d="M357.94 0.9V8.5C357.94 33.5 344.05 33.5 344.05 58.5V65.4h0.74V58.5C344.79 33.5 358.69 33.5 358.69 8.5V0.9z" fill="#6cd8c0" fill-opacity=".72"/>
<path d="M380.75 0.9V8.5C380.75 33.5 367.34 33.5 367.34 58.5V65.4h0.7V58.5C368.05 33.5 381.45 33.5 381.45 8.5V0.9z" fill="#ac80ea" fill-opacity=".72"/>
<path d="M364.53 0.9V8.5C364.53 33.5 351.16 33.5 351.16 58.5V65.4h0.71V58.5C351.87 33.5 365.24 33.5 365.24 8.5V0.9z" fill="#6088ec" fill-opacity=".72"/>
<path d="M365.24 0.9V8.5C365.24 33.5 351.87 33.5 351.87 58.5V65.4h0.71V58.5C352.58 33.5 365.95 33.5 365.95 8.5V0.9z" fill="#6088ec" fill-opacity=".72"/>
<path d="M360.17 0.9V8.5C360.17 33.5 347.62 33.5 347.62 58.5V65.4h0.74V58.5C348.36 33.5 360.91 33.5 360.91 8.5V0.9z" fill="#6cd8c0" fill-opacity=".72"/>
<path d="M374.42 0.9V8.5C374.42 33.5 363.14 33.5 363.14 58.5V65.4h0.7V58.5C363.84 33.5 375.12 33.5 375.12 8.5V0.9z" fill="#ac80ea" fill-opacity=".72"/>
<path d="M369.49 0.9V8.5C369.49 33.5 358.93 33.5 358.93 58.5V65.4h0.71V58.5C359.64 33.5 370.2 33.5 370.2 8.5V0.9z" fill="#6088ec" fill-opacity=".72"/>
<path d="M368.78 0.9V8.5C368.78 33.5 358.22 33.5 358.22 58.5V65.4h0.71V58.5C358.93 33.5 369.49 33.5 369.49 8.5V0.9z" fill="#6088ec" fill-opacity=".72"/>
<path d="M372.31 0.9V8.5C372.31 33.5 362.44 33.5 362.44 58.5V65.4h0.7V58.5C363.14 33.5 373.01 33.5 373.01 8.5V0.9z" fill="#ac80ea" fill-opacity=".72"/>
<path d="M367.36 0.9V8.5C367.36 33.5 357.52 33.5 357.52 58.5V65.4h0.71V58.5C358.22 33.5 368.07 33.5 368.07 8.5V0.9z" fill="#6088ec" fill-opacity=".72"/>
<path d="M375.82 0.9V8.5C375.82 33.5 366.64 33.5 366.64 58.5V65.4h0.7V58.5C367.34 33.5 376.53 33.5 376.53 8.5V0.9z" fill="#ac80ea" fill-opacity=".72"/>
<path d="M365.95 0.9V8.5C365.95 33.5 356.81 33.5 356.81 58.5V65.4h0.71V58.5C357.52 33.5 366.65 33.5 366.65 8.5V0.9z" fill="#6088ec" fill-opacity=".72"/>
<path d="M348.67 0.9V8.5C348.67 33.5 339.72 33.5 339.72 58.5V65.4h0.71V58.5C340.44 33.5 349.38 33.5 349.38 8.5V0.9z" fill="#74dc88" fill-opacity=".72"/>
<path d="M363.82 0.9V8.5C363.82 33.5 355.39 33.5 355.39 58.5V65.4h0.71V58.5C356.1 33.5 364.53 33.5 364.53 8.5V0.9z" fill="#6088ec" fill-opacity=".72"/>
<path d="M363.11 0.9V8.5C363.11 33.5 354.68 33.5 354.68 58.5V65.4h0.71V58.5C355.39 33.5 363.82 33.5 363.82 8.5V0.9z" fill="#6088ec" fill-opacity=".72"/>
<path d="M373.01 0.9V8.5C373.01 33.5 365.23 33.5 365.23 58.5V65.4h0.7V58.5C365.94 33.5 373.72 33.5 373.72 8.5V0.9z" fill="#ac80ea" fill-opacity=".72"/>
<path d="M335.9 0.9V8.5C335.9 33.5 329 33.5 329 58.5V65.4h0.7V58.5C329.7 33.5 336.6 33.5 336.6 8.5V0.9z" fill="#d4c26c" fill-opacity=".72"/>
<path d="M384.26 0.9V8.5C384.26 33.5 389.89 33.5 389.89 58.5V65.4h0.7V58.5C390.59 33.5 384.97 33.5 384.97 8.5V0.9z" fill="#ac80ea" fill-opacity=".72"/>
<path d="M337.3 0.9V8.5C337.3 33.5 331.82 33.5 331.82 58.5V65.4h0.71V58.5C332.53 33.5 338.01 33.5 338.01 8.5V0.9z" fill="#74dc88" fill-opacity=".72"/>
<path d="M377.23 0.9V8.5C377.23 33.5 382.13 33.5 382.13 58.5V65.4h0.7V58.5C382.83 33.5 377.93 33.5 377.93 8.5V0.9z" fill="#ac80ea" fill-opacity=".72"/>
<path d="M392 0.9V8.5C392 33.5 387.77 33.5 387.77 58.5V65.4h0.7V58.5C388.48 33.5 392.7 33.5 392.7 8.5V0.9z" fill="#ac80ea" fill-opacity=".72"/>
<path d="M381.45 0.9V8.5C381.45 33.5 385.66 33.5 385.66 58.5V65.4h0.7V58.5C386.37 33.5 382.15 33.5 382.15 8.5V0.9z" fill="#ac80ea" fill-opacity=".72"/>
<path d="M382.15 0.9V8.5C382.15 33.5 386.37 33.5 386.37 58.5V65.4h0.7V58.5C387.07 33.5 382.86 33.5 382.86 8.5V0.9z" fill="#ac80ea" fill-opacity=".72"/>
<path d="M387.78 0.9V8.5C387.78 33.5 390.59 33.5 390.59 58.5V65.4h0.7V58.5C391.29 33.5 388.48 33.5 388.48 8.5V0.9z" fill="#ac80ea" fill-opacity=".72"/>
<path d="M333.8 0.9V8.5C333.8 33.5 331.12 33.5 331.12 58.5V65.4h0.7V58.5C331.82 33.5 334.5 33.5 334.5 8.5V0.9z" fill="#d4c26c" fill-opacity=".72"/>
<path d="M389.18 0.9V8.5C389.18 33.5 391.29 33.5 391.29 58.5V65.4h0.7V58.5C392 33.5 389.89 33.5 389.89 8.5V0.9z" fill="#ac80ea" fill-opacity=".72"/>
<path d="M336.6 0.9V8.5C336.6 33.5 334.66 33.5 334.66 58.5V65.4h0.7V58.5C335.36 33.5 337.3 33.5 337.3 8.5V0.9z" fill="#d4c26c" fill-opacity=".72"/>
<path d="M371.61 0.9V8.5C371.61 33.5 370.12 33.5 370.12 58.5V65.4h0.7V58.5C370.82 33.5 372.31 33.5 372.31 8.5V0.9z" fill="#ac80ea" fill-opacity=".72"/>
<path d="M388.48 0.9V8.5C388.48 33.5 387.07 33.5 387.07 58.5V65.4h0.7V58.5C387.77 33.5 389.18 33.5 389.18 8.5V0.9z" fill="#ac80ea" fill-opacity=".72"/>
<path d="M390.59 0.9V8.5C390.59 33.5 392 33.5 392 58.5V65.4h0.7V58.5C392.7 33.5 391.29 33.5 391.29 8.5V0.9z" fill="#ac80ea" fill-opacity=".72"/>
<path d="M338.01 0.9V8.5C338.01 33.5 338.27 33.5 338.27 58.5V65.4h0.71V58.5C338.98 33.5 338.72 33.5 338.72 8.5V0.9z" fill="#74dc88" fill-opacity=".72"/>
<rect x="329" y="0.9" width="4.8" height="6" fill="#f08c80" fill-opacity=".5"/>
<rect x="333.8" y="0.9" width="3.5" height="6" fill="#d4c26c" fill-opacity=".5"/>
<rect x="337.3" y="0.9" width="19.9" height="6" fill="#74dc88" fill-opacity=".5"/>
<rect x="357.2" y="0.9" width="5.2" height="6" fill="#6cd8c0" fill-opacity=".5"/>
<rect x="362.4" y="0.9" width="7.8" height="6" fill="#6088ec" fill-opacity=".5"/>
<rect x="370.2" y="0.9" width="22.5" height="6" fill="#ac80ea" fill-opacity=".5"/>
<text x="399" y="21.2" font-size="1.8" class="n" font-weight="bold">Expression</text>
<rect x="399.2" y="22.6" width="2.3" height="2.3" fill="#f4a79c"/>
<text x="402.4" y="24.5" font-size="1.9">CD28</text>
<rect x="399.2" y="25.45" width="2.3" height="2.3" fill="#dccf90"/>
<text x="402.4" y="27.35" font-size="1.9">CD274</text>
<rect x="399.2" y="28.3" width="2.3" height="2.3" fill="#b4dc7a"/>
<text x="402.4" y="30.2" font-size="1.9">CD80</text>
<rect x="399.2" y="31.15" width="2.3" height="2.3" fill="#6fdca6"/>
<text x="402.4" y="33.05" font-size="1.9">CD86</text>
<rect x="399.2" y="34" width="2.3" height="2.3" fill="#6fd4e0"/>
<text x="402.4" y="35.9" font-size="1.9">CTLA4</text>
<rect x="399.2" y="36.85" width="2.3" height="2.3" fill="#7aacf0"/>
<text x="402.4" y="38.75" font-size="1.9">LAG3</text>
<rect x="399.2" y="39.7" width="2.3" height="2.3" fill="#b894f0"/>
<text x="402.4" y="41.6" font-size="1.9">PDCD1</text>
<rect x="399.2" y="42.55" width="2.3" height="2.3" fill="#f094c8"/>
<text x="402.4" y="44.45" font-size="1.9">TIGIT</text>
<path d="M452.6 5.7L452.6 3.4" stroke="#222" stroke-width="0.35"/>
<path d="M454.72 5.77L454.8 4.47" stroke="#222" stroke-width="0.35"/>
<path d="M456.82 5.97L456.99 4.68" stroke="#222" stroke-width="0.35"/>
<path d="M458.91 6.3L459.16 5.02" stroke="#222" stroke-width="0.35"/>
<path d="M460.98 6.76L461.3 5.5" stroke="#222" stroke-width="0.35"/>
<path d="M463.01 7.35L463.72 5.16" stroke="#222" stroke-width="0.35"/>
<path d="M465.01 8.07L465.48 6.86" stroke="#222" stroke-width="0.35"/>
<path d="M466.95 8.91L467.5 7.73" stroke="#222" stroke-width="0.35"/>
<path d="M468.84 9.87L469.46 8.73" stroke="#222" stroke-width="0.35"/>
<path d="M470.66 10.95L471.35 9.85" stroke="#222" stroke-width="0.35"/>
<path d="M472.41 12.14L473.76 10.28" stroke="#222" stroke-width="0.35"/>
<path d="M474.08 13.43L474.91 12.43" stroke="#222" stroke-width="0.35"/>
<path d="M475.67 14.83L476.56 13.89" stroke="#222" stroke-width="0.35"/>
<path d="M477.17 16.33L478.11 15.44" stroke="#222" stroke-width="0.35"/>
<path d="M478.57 17.92L479.57 17.09" stroke="#222" stroke-width="0.35"/>
<path d="M479.86 19.59L481.72 18.24" stroke="#222" stroke-width="0.35"/>
<path d="M481.05 21.34L482.15 20.65" stroke="#222" stroke-width="0.35"/>
<path d="M482.13 23.16L483.27 22.54" stroke="#222" stroke-width="0.35"/>
<path d="M483.09 25.05L484.27 24.5" stroke="#222" stroke-width="0.35"/>
<path d="M483.93 26.99L485.14 26.52" stroke="#222" stroke-width="0.35"/>
<path d="M484.65 28.99L486.84 28.28" stroke="#222" stroke-width="0.35"/>
<path d="M485.24 31.02L486.5 30.7" stroke="#222" stroke-width="0.35"/>
<path d="M485.7 33.09L486.98 32.84" stroke="#222" stroke-width="0.35"/>
<path d="M486.03 35.18L487.32 35.01" stroke="#222" stroke-width="0.35"/>
<path d="M486.23 37.28L487.53 37.2" stroke="#222" stroke-width="0.35"/>
<path d="M486.3 39.4L488.6 39.4" stroke="#222" stroke-width="0.35"/>
<path d="M486.23 41.52L487.53 41.6" stroke="#222" stroke-width="0.35"/>
<path d="M486.03 43.62L487.32 43.79" stroke="#222" stroke-width="0.35"/>
<path d="M485.7 45.71L486.98 45.96" stroke="#222" stroke-width="0.35"/>
<path d="M485.24 47.78L486.5 48.1" stroke="#222" stroke-width="0.35"/>
<path d="M484.65 49.81L486.84 50.52" stroke="#222" stroke-width="0.35"/>
<path d="M483.93 51.81L485.14 52.28" stroke="#222" stroke-width="0.35"/>
<path d="M483.09 53.75L484.27 54.3" stroke="#222" stroke-width="0.35"/>
<path d="M482.13 55.64L483.27 56.26" stroke="#222" stroke-width="0.35"/>
<path d="M481.05 57.46L482.15 58.15" stroke="#222" stroke-width="0.35"/>
<path d="M479.86 59.21L481.72 60.56" stroke="#222" stroke-width="0.35"/>
<path d="M478.57 60.88L479.57 61.71" stroke="#222" stroke-width="0.35"/>
<path d="M477.17 62.47L478.11 63.36" stroke="#222" stroke-width="0.35"/>
<path d="M475.67 63.97L476.56 64.91" stroke="#222" stroke-width="0.35"/>
<path d="M474.08 65.37L474.91 66.37" stroke="#222" stroke-width="0.35"/>
<path d="M472.41 66.66L473.76 68.52" stroke="#222" stroke-width="0.35"/>
<path d="M470.66 67.85L471.35 68.95" stroke="#222" stroke-width="0.35"/>
<path d="M468.84 68.93L469.46 70.07" stroke="#222" stroke-width="0.35"/>
<path d="M466.95 69.89L467.5 71.07" stroke="#222" stroke-width="0.35"/>
<path d="M465.01 70.73L465.48 71.94" stroke="#222" stroke-width="0.35"/>
<path d="M463.01 71.45L463.72 73.64" stroke="#222" stroke-width="0.35"/>
<path d="M460.98 72.04L461.3 73.3" stroke="#222" stroke-width="0.35"/>
<path d="M458.91 72.5L459.16 73.78" stroke="#222" stroke-width="0.35"/>
<path d="M456.82 72.83L456.99 74.12" stroke="#222" stroke-width="0.35"/>
<path d="M454.72 73.03L454.8 74.33" stroke="#222" stroke-width="0.35"/>
<path d="M452.6 73.1L452.6 75.4" stroke="#222" stroke-width="0.35"/>
<path d="M450.48 73.03L450.4 74.33" stroke="#222" stroke-width="0.35"/>
<path d="M448.38 72.83L448.21 74.12" stroke="#222" stroke-width="0.35"/>
<path d="M446.29 72.5L446.04 73.78" stroke="#222" stroke-width="0.35"/>
<path d="M444.22 72.04L443.9 73.3" stroke="#222" stroke-width="0.35"/>
<path d="M442.19 71.45L441.48 73.64" stroke="#222" stroke-width="0.35"/>
<path d="M440.19 70.73L439.72 71.94" stroke="#222" stroke-width="0.35"/>
<path d="M438.25 69.89L437.7 71.07" stroke="#222" stroke-width="0.35"/>
<path d="M436.36 68.93L435.74 70.07" stroke="#222" stroke-width="0.35"/>
<path d="M434.54 67.85L433.85 68.95" stroke="#222" stroke-width="0.35"/>
<path d="M432.79 66.66L431.44 68.52" stroke="#222" stroke-width="0.35"/>
<path d="M431.12 65.37L430.29 66.37" stroke="#222" stroke-width="0.35"/>
<path d="M429.53 63.97L428.64 64.91" stroke="#222" stroke-width="0.35"/>
<path d="M428.03 62.47L427.09 63.36" stroke="#222" stroke-width="0.35"/>
<path d="M426.63 60.88L425.63 61.71" stroke="#222" stroke-width="0.35"/>
<path d="M425.34 59.21L423.48 60.56" stroke="#222" stroke-width="0.35"/>
<path d="M424.15 57.46L423.05 58.15" stroke="#222" stroke-width="0.35"/>
<path d="M423.07 55.64L421.93 56.26" stroke="#222" stroke-width="0.35"/>
<path d="M422.11 53.75L420.93 54.3" stroke="#222" stroke-width="0.35"/>
<path d="M421.27 51.81L420.06 52.28" stroke="#222" stroke-width="0.35"/>
<path d="M420.55 49.81L418.36 50.52" stroke="#222" stroke-width="0.35"/>
<path d="M419.96 47.78L418.7 48.1" stroke="#222" stroke-width="0.35"/>
<path d="M419.5 45.71L418.22 45.96" stroke="#222" stroke-width="0.35"/>
<path d="M419.17 43.62L417.88 43.79" stroke="#222" stroke-width="0.35"/>
<path d="M418.97 41.52L417.67 41.6" stroke="#222" stroke-width="0.35"/>
<path d="M418.9 39.4L416.6 39.4" stroke="#222" stroke-width="0.35"/>
<path d="M418.97 37.28L417.67 37.2" stroke="#222" stroke-width="0.35"/>
<path d="M419.17 35.18L417.88 35.01" stroke="#222" stroke-width="0.35"/>
<path d="M419.5 33.09L418.22 32.84" stroke="#222" stroke-width="0.35"/>
<path d="M419.96 31.02L418.7 30.7" stroke="#222" stroke-width="0.35"/>
<path d="M420.55 28.99L418.36 28.28" stroke="#222" stroke-width="0.35"/>
<path d="M421.27 26.99L420.06 26.52" stroke="#222" stroke-width="0.35"/>
<path d="M422.11 25.05L420.93 24.5" stroke="#222" stroke-width="0.35"/>
<path d="M423.07 23.16L421.93 22.54" stroke="#222" stroke-width="0.35"/>
<path d="M424.15 21.34L423.05 20.65" stroke="#222" stroke-width="0.35"/>
<path d="M425.34 19.59L423.48 18.24" stroke="#222" stroke-width="0.35"/>
<path d="M426.63 17.92L425.63 17.09" stroke="#222" stroke-width="0.35"/>
<path d="M428.03 16.33L427.09 15.44" stroke="#222" stroke-width="0.35"/>
<path d="M429.53 14.83L428.64 13.89" stroke="#222" stroke-width="0.35"/>
<path d="M431.12 13.43L430.29 12.43" stroke="#222" stroke-width="0.35"/>
<path d="M432.79 12.14L431.44 10.28" stroke="#222" stroke-width="0.35"/>
<path d="M434.54 10.95L433.85 9.85" stroke="#222" stroke-width="0.35"/>
<path d="M436.36 9.87L435.74 8.73" stroke="#222" stroke-width="0.35"/>
<path d="M438.25 8.91L437.7 7.73" stroke="#222" stroke-width="0.35"/>
<path d="M440.19 8.07L439.72 6.86" stroke="#222" stroke-width="0.35"/>
<path d="M442.19 7.35L441.48 5.16" stroke="#222" stroke-width="0.35"/>
<path d="M444.22 6.76L443.9 5.5" stroke="#222" stroke-width="0.35"/>
<path d="M446.29 6.3L446.04 5.02" stroke="#222" stroke-width="0.35"/>
<path d="M448.38 5.97L448.21 4.68" stroke="#222" stroke-width="0.35"/>
<path d="M450.48 5.77L450.4 4.47" stroke="#222" stroke-width="0.35"/>
<path d="M452.89 5.7A33.7 33.7 0 0 1 462.73 7.26L461.62 10.79A30 30 0 0 0 452.86 9.4z" fill="#90ec90" stroke="#3ecb4e" stroke-width="0.35"/>
<text x="457.58" y="7.94" font-size="1.9" class="m n" font-weight="bold" dominant-baseline="middle" style="fill:#158c2a" transform="rotate(9 457.58 7.94)">hsa04510</text>
<path d="M463.29 7.44A33.7 33.7 0 0 1 472.17 11.96L470.02 14.98A30 30 0 0 0 462.12 10.95z" fill="#90ec90" stroke="#3ecb4e" stroke-width="0.35"/>
<text x="467.06" y="11.02" font-size="1.9" class="m n" font-weight="bold" dominant-baseline="middle" style="fill:#158c2a" transform="rotate(27 467.06 11.02)">hsa04517</text>
<path d="M472.65 12.31A33.7 33.7 0 0 1 479.69 19.35L476.72 21.56A30 30 0 0 0 470.44 15.28z" fill="#90ec90" stroke="#3ecb4e" stroke-width="0.35"/>
<text x="475.12" y="16.88" font-size="1.9" class="m n" font-weight="bold" dominant-baseline="middle" style="fill:#158c2a" transform="rotate(45 475.12 16.88)">hsa04524</text>
<path d="M480.04 19.83A33.7 33.7 0 0 1 484.56 28.71L481.05 29.88A30 30 0 0 0 477.02 21.98z" fill="#90ec90" stroke="#3ecb4e" stroke-width="0.35"/>
<text x="480.98" y="24.94" font-size="1.9" class="m n" font-weight="bold" dominant-baseline="middle" style="fill:#158c2a" transform="rotate(63 480.98 24.94)">hsa04531</text>
<path d="M484.74 29.27A33.7 33.7 0 0 1 486.3 39.11L482.6 39.14A30 30 0 0 0 481.21 30.38z" fill="#90ec90" stroke="#3ecb4e" stroke-width="0.35"/>
<text x="484.06" y="34.42" font-size="1.9" class="m n" font-weight="bold" dominant-baseline="middle" style="fill:#158c2a" transform="rotate(81 484.06 34.42)">hsa04538</text>
<path d="M486.3 39.69A33.7 33.7 0 0 1 484.74 49.53L481.21 48.42A30 30 0 0 0 482.6 39.66z" fill="#90ec90" stroke="#3ecb4e" stroke-width="0.35"/>
<text x="484.06" y="44.38" font-size="1.9" class="m n" font-weight="bold" dominant-baseline="middle" style="fill:#158c2a" transform="rotate(279 484.06 44.38)">hsa04545</text>
<path d="M484.56 50.09A33.7 33.7 0 0 1 480.04 58.97L477.02 56.82A30 30 0 0 0 481.05 48.92z" fill="#90ec90" stroke="#3ecb4e" stroke-width="0.35"/>
<text x="480.98" y="53.86" font-size="1.9" class="m n" font-weight="bold" dominant-baseline="middle" style="fill:#158c2a" transform="rotate(297 480.98 53.86)">hsa04552</text>
<path d="M479.69 59.45A33.7 33.7 0 0 1 472.65 66.49L470.44 63.52A30 30 0 0 0 476.72 57.24z" fill="#90ec90" stroke="#3ecb4e" stroke-width="0.35"/>
<text x="475.12" y="61.92" font-size="1.9" class="m n" font-weight="bold" dominant-baseline="middle" style="fill:#158c2a" transform="rotate(315 475.12 61.92)">hsa04559</text>
<path d="M472.17 66.84A33.7 33.7 0 0 1 463.29 71.36L462.12 67.85A30 30 0 0 0 470.02 63.82z" fill="#90ec90" stroke="#3ecb4e" stroke-width="0.35"/>
<text x="467.06" y="67.78" font-size="1.9" class="m n" font-weight="bold" dominant-baseline="middle" style="fill:#158c2a" transform="rotate(333 467.06 67.78)">hsa04566</text>
<path d="M462.73 71.54A33.7 33.7 0 0 1 452.89 73.1L452.86 69.4A30 30 0 0 0 461.62 68.01z" fill="#90ec90" stroke="#3ecb4e" stroke-width="0.35"/>
<text x="457.58" y="70.86" font-size="1.9" class="m n" font-weight="bold" dominant-baseline="middle" style="fill:#158c2a" transform="rotate(351 457.58 70.86)">hsa04573</text>
<path d="M452.31 73.1A33.7 33.7 0 0 1 442.47 71.54L443.58 68.01A30 30 0 0 0 452.34 69.4z" fill="#90ec90" stroke="#3ecb4e" stroke-width="0.35"/>
<text x="447.62" y="70.86" font-size="1.9" class="m n" font-weight="bold" dominant-baseline="middle" style="fill:#158c2a" transform="rotate(369 447.62 70.86)">hsa04580</text>
<path d="M441.91 71.36A33.7 33.7 0 0 1 433.03 66.84L435.18 63.82A30 30 0 0 0 443.08 67.85z" fill="#90ec90" stroke="#3ecb4e" stroke-width="0.35"/>
<text x="438.14" y="67.78" font-size="1.9" class="m n" font-weight="bold" dominant-baseline="middle" style="fill:#158c2a" transform="rotate(387 438.14 67.78)">hsa04587</text>
<path d="M432.55 66.49A33.7 33.7 0 0 1 425.51 59.45L428.48 57.24A30 30 0 0 0 434.76 63.52z" fill="#90ec90" stroke="#3ecb4e" stroke-width="0.35"/>
<text x="430.08" y="61.92" font-size="1.9" class="m n" font-weight="bold" dominant-baseline="middle" style="fill:#158c2a" transform="rotate(405 430.08 61.92)">hsa04594</text>
<path d="M425.16 58.97A33.7 33.7 0 0 1 420.64 50.09L424.15 48.92A30 30 0 0 0 428.18 56.82z" fill="#90ec90" stroke="#3ecb4e" stroke-width="0.35"/>
<text x="424.22" y="53.86" font-size="1.9" class="m n" font-weight="bold" dominant-baseline="middle" style="fill:#158c2a" transform="rotate(423 424.22 53.86)">hsa04601</text>
<path d="M420.46 49.53A33.7 33.7 0 0 1 418.9 39.69L422.6 39.66A30 30 0 0 0 423.99 48.42z" fill="#90ec90" stroke="#3ecb4e" stroke-width="0.35"/>
<text x="421.14" y="44.38" font-size="1.9" class="m n" font-weight="bold" dominant-baseline="middle" style="fill:#158c2a" transform="rotate(441 421.14 44.38)">hsa04608</text>
<path d="M418.9 39.11A33.7 33.7 0 0 1 420.46 29.27L423.99 30.38A30 30 0 0 0 422.6 39.14z" fill="#90ec90" stroke="#3ecb4e" stroke-width="0.35"/>
<text x="421.14" y="34.42" font-size="1.9" class="m n" font-weight="bold" dominant-baseline="middle" style="fill:#158c2a" transform="rotate(279 421.14 34.42)">hsa04615</text>
<path d="M420.64 28.71A33.7 33.7 0 0 1 425.16 19.83L428.18 21.98A30 30 0 0 0 424.15 29.88z" fill="#90ec90" stroke="#3ecb4e" stroke-width="0.35"/>
<text x="424.22" y="24.94" font-size="1.9" class="m n" font-weight="bold" dominant-baseline="middle" style="fill:#158c2a" transform="rotate(297 424.22 24.94)">hsa04622</text>
<path d="M425.51 19.35A33.7 33.7 0 0 1 432.55 12.31L434.76 15.28A30 30 0 0 0 428.48 21.56z" fill="#90ec90" stroke="#3ecb4e" stroke-width="0.35"/>
<text x="430.08" y="16.88" font-size="1.9" class="m n" font-weight="bold" dominant-baseline="middle" style="fill:#158c2a" transform="rotate(315 430.08 16.88)">hsa04629</text>
<path d="M433.03 11.96A33.7 33.7 0 0 1 441.91 7.44L443.08 10.95A30 30 0 0 0 435.18 14.98z" fill="#90ec90" stroke="#3ecb4e" stroke-width="0.35"/>
<text x="438.14" y="11.02" font-size="1.9" class="m n" font-weight="bold" dominant-baseline="middle" style="fill:#158c2a" transform="rotate(333 438.14 11.02)">hsa04636</text>
<path d="M442.47 7.26A33.7 33.7 0 0 1 452.31 5.7L452.34 9.4A30 30 0 0 0 443.58 10.79z" fill="#90ec90" stroke="#3ecb4e" stroke-width="0.35"/>
<text x="447.62" y="7.94" font-size="1.9" class="m n" font-weight="bold" dominant-baseline="middle" style="fill:#158c2a" transform="rotate(351 447.62 7.94)">hsa04643</text>
<path d="M437.44 15.15A28.6 28.6 0 0 1 442.82 12.52L443.84 15.34A25.6 25.6 0 0 0 439.03 17.69z" fill="#f8b090"/>
<path d="M447.63 11.23A28.6 28.6 0 0 1 452.6 10.8L452.6 13.8A25.6 25.6 0 0 0 448.15 14.19z" fill="#f4a070"/>
<path d="M456.58 11.08A28.6 28.6 0 0 1 463.31 12.88L462.19 15.66A25.6 25.6 0 0 0 456.16 14.05z" fill="#f8b898"/>
<path d="M466.9 14.63A28.6 28.6 0 0 1 470.98 17.49L469.06 19.79A25.6 25.6 0 0 0 465.4 17.23z" fill="#fcd8c4"/>
<path d="M476.03 23A28.6 28.6 0 0 1 477.85 25.97L475.2 27.38A25.6 25.6 0 0 0 473.57 24.72z" fill="#fcd8c4"/>
<path d="M481.13 37.4A28.6 28.6 0 0 1 481.18 40.4L478.18 40.29A25.6 25.6 0 0 0 478.14 37.61z" fill="#8b0a0a"/>
<path d="M480.77 44.37A28.6 28.6 0 0 1 473.85 58.54L471.62 56.53A25.6 25.6 0 0 0 477.81 43.85z" fill="#a31515"/>
<path d="M467.76 63.65A28.6 28.6 0 0 1 461.44 66.6L460.51 63.75A25.6 25.6 0 0 0 466.17 61.11z" fill="#b01212"/>
<path d="M458.55 67.38A28.6 28.6 0 0 1 448.62 67.72L449.04 64.75A25.6 25.6 0 0 0 457.92 64.44z" fill="#f07850"/>
<path d="M446.65 67.38A28.6 28.6 0 0 1 440.97 65.53L442.19 62.79A25.6 25.6 0 0 0 447.28 64.44z" fill="#e85030"/>
<path d="M438.3 64.17A28.6 28.6 0 0 1 434.99 61.94L436.84 59.57A25.6 25.6 0 0 0 439.8 61.57z" fill="#f4a070"/>
<path d="M431.35 58.54A28.6 28.6 0 0 1 429.46 56.21L431.89 54.45A25.6 25.6 0 0 0 433.58 56.53z" fill="#f8c0a0"/>
<path d="M426.47 51.03A28.6 28.6 0 0 1 424.02 40.4L427.02 40.29A25.6 25.6 0 0 0 429.21 49.81z" fill="#f09060"/>
<path d="M424.07 37.4A28.6 28.6 0 0 1 424.62 33.45L427.56 34.08A25.6 25.6 0 0 0 427.06 37.61z" fill="#ee7040"/>
<path d="M426.08 28.69A28.6 28.6 0 0 1 427.83 25.1L430.43 26.6A25.6 25.6 0 0 0 428.86 29.81z" fill="#f4a070"/>
<path d="M431.35 20.26A28.6 28.6 0 0 1 433.46 18.15L435.47 20.38A25.6 25.6 0 0 0 433.58 22.27z" fill="#f8b090"/>
<path d="M441.01 18.78h2.6L442.31 16.53z" fill="#7a38b8"/>
<path d="M449.02 16.56h2.6L450.32 14.31z" fill="#7a38b8"/>
<path d="M457.62 17.3h2.6L458.92 15.05z" fill="#7a38b8"/>
<path d="M465.16 20.88h2.6L466.46 18.63z" fill="#7a38b8"/>
<path d="M471.19 27.1h2.6L472.49 24.85z" fill="#7a38b8"/>
<path d="M475.2 40.17h2.6L476.5 37.92z" fill="#7a38b8"/>
<path d="M474.28 46.93h2.6L475.58 44.68z" fill="#7a38b8"/>
<path d="M471.23 53.55h2.6L472.53 51.3z" fill="#7a38b8"/>
<path d="M461.05 62.17h2.6L462.35 59.92z" fill="#7a38b8"/>
<path d="M454.81 63.99h2.6L456.11 61.74z" fill="#7a38b8"/>
<path d="M448.41 64.07h2.6L449.71 61.82z" fill="#7a38b8"/>
<path d="M443.79 63.04h2.6L445.09 60.79z" fill="#7a38b8"/>
<path d="M438.02 60.22h2.6L439.32 57.97z" fill="#7a38b8"/>
<path d="M432.38 54.95h2.6L433.68 52.7z" fill="#7a38b8"/>
<path d="M429.09 49.17h2.6L430.39 46.92z" fill="#7a38b8"/>
<path d="M427.49 42.43h2.6L428.79 40.18z" fill="#7a38b8"/>
<path d="M427.54 37.8h2.6L428.84 35.55z" fill="#7a38b8"/>
<path d="M429.89 29.72h2.6L431.19 27.47z" fill="#7a38b8"/>
<path d="M434.38 23.47h2.6L435.68 21.22z" fill="#7a38b8"/>
<path d="M452.76 16.6A22.8 22.8 0 0 1 459.49 17.67L456.17 28.15A11.8 11.8 0 0 0 452.68 27.6z" fill="#e2e2e2" stroke="#f6f6f6" stroke-width="0.25"/>
<path d="M452.72 21.88A17.52 17.52 0 0 1 457.9 22.7L456.17 28.15A11.8 11.8 0 0 0 452.68 27.6z" fill="#9cf29c" stroke="#d8ffd8" stroke-width="0.2"/>
<path d="M459.8 17.77A22.8 22.8 0 0 1 465.87 20.86L459.47 29.81A11.8 11.8 0 0 0 456.32 28.2z" fill="#e2e2e2" stroke="#f6f6f6" stroke-width="0.25"/>
<path d="M458.23 22.46A17.85 17.85 0 0 1 462.99 24.89L459.47 29.81A11.8 11.8 0 0 0 456.32 28.2z" fill="#9cf29c" stroke="#d8ffd8" stroke-width="0.2"/>
<path d="M466.13 21.05A22.8 22.8 0 0 1 470.95 25.87L462.1 32.4A11.8 11.8 0 0 0 459.6 29.9z" fill="#e2e2e2" stroke="#f6f6f6" stroke-width="0.25"/>
<path d="M462.87 25.48A17.3 17.3 0 0 1 466.52 29.13L462.1 32.4A11.8 11.8 0 0 0 459.6 29.9z" fill="#9cf29c" stroke="#d8ffd8" stroke-width="0.2"/>
<path d="M471.14 26.13A22.8 22.8 0 0 1 474.23 32.2L463.8 35.68A11.8 11.8 0 0 0 462.19 32.53z" fill="#e2e2e2" stroke="#f6f6f6" stroke-width="0.25"/>
<path d="M467.11 29.01A17.85 17.85 0 0 1 469.54 33.77L463.8 35.68A11.8 11.8 0 0 0 462.19 32.53z" fill="#9cf29c" stroke="#d8ffd8" stroke-width="0.2"/>
<path d="M474.33 32.51A22.8 22.8 0 0 1 475.4 39.24L464.4 39.32A11.8 11.8 0 0 0 463.85 35.83z" fill="#e2e2e2" stroke="#f6f6f6" stroke-width="0.25"/>
<path d="M470.35 33.77A18.62 18.62 0 0 1 471.22 39.27L464.4 39.32A11.8 11.8 0 0 0 463.85 35.83z" fill="#9cf29c" stroke="#d8ffd8" stroke-width="0.2"/>
<path d="M475.4 39.56A22.8 22.8 0 0 1 474.33 46.29L463.85 42.97A11.8 11.8 0 0 0 464.4 39.48z" fill="#e2e2e2" stroke="#f6f6f6" stroke-width="0.25"/>
<path d="M475.95 39.56A23.35 23.35 0 0 1 474.86 46.46L463.85 42.97A11.8 11.8 0 0 0 464.4 39.48z" fill="#9cf29c" stroke="#d8ffd8" stroke-width="0.2"/>
<path d="M474.23 46.6A22.8 22.8 0 0 1 471.14 52.67L462.19 46.27A11.8 11.8 0 0 0 463.8 43.12z" fill="#e2e2e2" stroke="#f6f6f6" stroke-width="0.25"/>
<path d="M470.69 45.42A19.06 19.06 0 0 1 468.1 50.5L462.19 46.27A11.8 11.8 0 0 0 463.8 43.12z" fill="#9cf29c" stroke="#d8ffd8" stroke-width="0.2"/>
<path d="M470.95 52.93A22.8 22.8 0 0 1 466.13 57.75L459.6 48.9A11.8 11.8 0 0 0 462.1 46.4z" fill="#e2e2e2" stroke="#f6f6f6" stroke-width="0.25"/>
<path d="M469.89 52.15A21.48 21.48 0 0 1 465.35 56.69L459.6 48.9A11.8 11.8 0 0 0 462.1 46.4z" fill="#9cf29c" stroke="#d8ffd8" stroke-width="0.2"/>
<path d="M465.87 57.94A22.8 22.8 0 0 1 459.8 61.03L456.32 50.6A11.8 11.8 0 0 0 459.47 48.99z" fill="#e2e2e2" stroke="#f6f6f6" stroke-width="0.25"/>
<path d="M463.44 54.54A18.62 18.62 0 0 1 458.48 57.07L456.32 50.6A11.8 11.8 0 0 0 459.47 48.99z" fill="#9cf29c" stroke="#d8ffd8" stroke-width="0.2"/>
<path d="M459.49 61.13A22.8 22.8 0 0 1 452.76 62.2L452.68 51.2A11.8 11.8 0 0 0 456.17 50.65z" fill="#e2e2e2" stroke="#f6f6f6" stroke-width="0.25"/>
<path d="M458.1 56.73A18.18 18.18 0 0 1 452.73 57.58L452.68 51.2A11.8 11.8 0 0 0 456.17 50.65z" fill="#9cf29c" stroke="#d8ffd8" stroke-width="0.2"/>
<path d="M452.44 62.2A22.8 22.8 0 0 1 445.71 61.13L449.03 50.65A11.8 11.8 0 0 0 452.52 51.2z" fill="#e2e2e2" stroke="#f6f6f6" stroke-width="0.25"/>
<path d="M452.48 56.92A17.52 17.52 0 0 1 447.3 56.1L449.03 50.65A11.8 11.8 0 0 0 452.52 51.2z" fill="#9cf29c" stroke="#d8ffd8" stroke-width="0.2"/>
<path d="M445.4 61.03A22.8 22.8 0 0 1 439.33 57.94L445.73 48.99A11.8 11.8 0 0 0 448.88 50.6z" fill="#e2e2e2" stroke="#f6f6f6" stroke-width="0.25"/>
<path d="M446.97 56.34A17.85 17.85 0 0 1 442.21 53.91L445.73 48.99A11.8 11.8 0 0 0 448.88 50.6z" fill="#9cf29c" stroke="#d8ffd8" stroke-width="0.2"/>
<path d="M439.07 57.75A22.8 22.8 0 0 1 434.25 52.93L443.1 46.4A11.8 11.8 0 0 0 445.6 48.9z" fill="#e2e2e2" stroke="#f6f6f6" stroke-width="0.25"/>
<path d="M442.33 53.32A17.3 17.3 0 0 1 438.68 49.67L443.1 46.4A11.8 11.8 0 0 0 445.6 48.9z" fill="#9cf29c" stroke="#d8ffd8" stroke-width="0.2"/>
<path d="M434.06 52.67A22.8 22.8 0 0 1 430.97 46.6L441.4 43.12A11.8 11.8 0 0 0 443.01 46.27z" fill="#e2e2e2" stroke="#f6f6f6" stroke-width="0.25"/>
<path d="M438.35 49.6A17.52 17.52 0 0 1 435.98 44.93L441.4 43.12A11.8 11.8 0 0 0 443.01 46.27z" fill="#9cf29c" stroke="#d8ffd8" stroke-width="0.2"/>
<path d="M430.87 46.29A22.8 22.8 0 0 1 429.8 39.56L440.8 39.48A11.8 11.8 0 0 0 441.35 42.97z" fill="#e2e2e2" stroke="#f6f6f6" stroke-width="0.25"/>
<path d="M435.59 44.8A17.85 17.85 0 0 1 434.75 39.52L440.8 39.48A11.8 11.8 0 0 0 441.35 42.97z" fill="#9cf29c" stroke="#d8ffd8" stroke-width="0.2"/>
<path d="M429.8 39.24A22.8 22.8 0 0 1 430.87 32.51L441.35 35.83A11.8 11.8 0 0 0 440.8 39.32z" fill="#e2e2e2" stroke="#f6f6f6" stroke-width="0.25"/>
<path d="M435.08 39.28A17.52 17.52 0 0 1 435.9 34.1L441.35 35.83A11.8 11.8 0 0 0 440.8 39.32z" fill="#9cf29c" stroke="#d8ffd8" stroke-width="0.2"/>
<path d="M430.97 32.2A22.8 22.8 0 0 1 434.06 26.13L443.01 32.53A11.8 11.8 0 0 0 441.4 35.68z" fill="#e2e2e2" stroke="#f6f6f6" stroke-width="0.25"/>
<path d="M436.18 33.94A17.3 17.3 0 0 1 438.53 29.33L443.01 32.53A11.8 11.8 0 0 0 441.4 35.68z" fill="#9cf29c" stroke="#d8ffd8" stroke-width="0.2"/>
<path d="M434.25 25.87A22.8 22.8 0 0 1 439.07 21.05L445.6 29.9A11.8 11.8 0 0 0 443.1 32.4z" fill="#e2e2e2" stroke="#f6f6f6" stroke-width="0.25"/>
<path d="M438.5 29A17.52 17.52 0 0 1 442.2 25.3L445.6 29.9A11.8 11.8 0 0 0 443.1 32.4z" fill="#9cf29c" stroke="#d8ffd8" stroke-width="0.2"/>
<path d="M439.33 20.86A22.8 22.8 0 0 1 445.4 17.77L448.88 28.2A11.8 11.8 0 0 0 445.73 29.81z" fill="#e2e2e2" stroke="#f6f6f6" stroke-width="0.25"/>
<path d="M442.21 24.89A17.85 17.85 0 0 1 446.97 22.46L448.88 28.2A11.8 11.8 0 0 0 445.73 29.81z" fill="#9cf29c" stroke="#d8ffd8" stroke-width="0.2"/>
<path d="M445.71 17.67A22.8 22.8 0 0 1 452.44 16.6L452.52 27.6A11.8 11.8 0 0 0 449.03 28.15z" fill="#e2e2e2" stroke="#f6f6f6" stroke-width="0.25"/>
<path d="M447.3 22.7A17.52 17.52 0 0 1 452.48 21.88L452.52 27.6A11.8 11.8 0 0 0 449.03 28.15z" fill="#9cf29c" stroke="#d8ffd8" stroke-width="0.2"/>
<circle cx="452.6" cy="39.4" r="11.7" fill="#fff"/>
<text x="452.6" y="38.2" font-size="1.4" class="m" style="fill:#444;stroke:#444">Number of Genes</text>
<text x="452.6" y="39.8" font-size="1.4" class="m" style="fill:#444;stroke:#444">Number of selected</text>
<text x="452.6" y="41.4" font-size="1.4" class="m" style="fill:#444;stroke:#444">Rich Factor(0-1)</text>
<text x="496.5" y="24.4" font-size="1.6" class="n" font-weight="bold">Number</text>
<text x="496.5" y="29.6" font-size="1.5" class="n" font-weight="bold">-log10(Pvalue)</text>
<rect x="497" y="25.2" width="1.6" height="1.6" fill="#8a48c8"/>
<text x="499" y="26.6" font-size="1.46">up</text>
<defs><linearGradient id="cg2" x1="0" y1="0" x2="0" y2="1"><stop offset="0" stop-color="#fde0d0"/><stop offset="1" stop-color="#a00808"/></linearGradient></defs>
<rect x="497" y="30.6" width="2.2" height="14.4" fill="url(#cg2)"/>
<text x="499.8" y="32.2" font-size="1.46">2</text>
<text x="499.8" y="34.7" font-size="1.46">4</text>
<text x="499.8" y="37.2" font-size="1.46">6</text>
<text x="499.8" y="39.7" font-size="1.46">8</text>
<text x="499.8" y="42.2" font-size="1.46">10</text>
<text x="499.8" y="44.7" font-size="1.46">12</text>
<rect x="266.9" y="69.4" width="37.3" height="63.8" fill="#fff" stroke="#777" stroke-width="0.3"/>
<path d="M279.4 69.4L279.4 133.2" stroke="#e8e8e8" stroke-width="0.3"/>
<path d="M291.9 69.4L291.9 133.2" stroke="#e8e8e8" stroke-width="0.3"/>
<rect x="266.9" y="70.27" width="19.25" height="2.08" fill="#f5202a"/>
<text x="266" y="71.91" font-size="1.6" class="e n" style="fill:#222;stroke:#222" font-weight="bold">ECM-receptor interaction</text>
<rect x="266.9" y="72.59" width="35.98" height="2.08" fill="#f5202a"/>
<text x="266" y="74.23" font-size="1.6" class="e n" style="fill:#222;stroke:#222" font-weight="bold">MAPK signaling pathway</text>
<rect x="266.9" y="74.91" width="17.33" height="2.08" fill="#f5202a"/>
<text x="266" y="76.55" font-size="1.6" class="e n" style="fill:#222;stroke:#222" font-weight="bold">Protein digestion and absorption</text>
<rect x="266.9" y="77.24" width="23.87" height="2.08" fill="#f5202a"/>
<text x="266" y="78.88" font-size="1.6" class="e n" style="fill:#222;stroke:#222" font-weight="bold">Focal adhesion</text>
<rect x="266.9" y="79.56" width="23.87" height="2.08" fill="#f5202a"/>
<text x="266" y="81.2" font-size="1.6" class="e n" style="fill:#222;stroke:#222" font-weight="bold">Human papillomavirus infection</text>
<rect x="266.9" y="81.88" width="17.72" height="2.08" fill="#f5202a"/>
<text x="266" y="83.52" font-size="1.6" class="e n" style="fill:#222;stroke:#222" font-weight="bold">Proteoglycans in cancer</text>
<rect x="266.9" y="84.2" width="11.95" height="2.08" fill="#f5202a"/>
<text x="266" y="85.85" font-size="1.6" class="e n" style="fill:#222;stroke:#222" font-weight="bold">Amoebiasis</text>
<rect x="266.9" y="86.53" width="10.41" height="2.08" fill="#f5202a"/>
<text x="266" y="88.17" font-size="1.6" class="e n" style="fill:#222;stroke:#222" font-weight="bold">Arrhythmogenic right ventricular cardiomyopathy</text>
<rect x="266.9" y="88.85" width="20.6" height="2.08" fill="#f5202a"/>
<text x="266" y="90.49" font-size="1.6" class="e n" style="fill:#222;stroke:#222" font-weight="bold">Cytokine-cytokine receptor interaction</text>
<rect x="266.9" y="91.17" width="10.98" height="2.08" fill="#f5202a"/>
<text x="266" y="92.82" font-size="1.6" class="e n" style="fill:#222;stroke:#222" font-weight="bold">Dilated cardiomyopathy</text>
<rect x="266.9" y="93.5" width="10.02" height="2.08" fill="#f5202a"/>
<text x="266" y="95.14" font-size="1.6" class="e n" style="fill:#222;stroke:#222" font-weight="bold">Hypertrophic cardiomyopathy</text>
<rect x="266.9" y="95.82" width="9.64" height="2.08" fill="#f5202a"/>
<text x="266" y="97.46" font-size="1.6" class="e n" style="fill:#222;stroke:#222" font-weight="bold">Staphylococcus aureus infection</text>
<rect x="266.9" y="98.14" width="12.33" height="2.08" fill="#f5202a"/>
<text x="266" y="99.78" font-size="1.6" class="e n" style="fill:#222;stroke:#222" font-weight="bold">Phagosome</text>
<rect x="266.9" y="100.47" width="10.02" height="2.08" fill="#f5202a"/>
<text x="266" y="102.11" font-size="1.6" class="e n" style="fill:#222;stroke:#222" font-weight="bold">TGF-beta signaling pathway</text>
<rect x="266.9" y="102.79" width="14.25" height="2.08" fill="#f5202a"/>
<text x="266" y="104.43" font-size="1.6" class="e n" style="fill:#222;stroke:#222" font-weight="bold">Rap1 signaling pathway</text>
<rect x="266.9" y="105.11" width="11.95" height="2.08" fill="#f5202a"/>
<text x="266" y="106.75" font-size="1.6" class="e n" style="fill:#222;stroke:#222" font-weight="bold">Cell adhesion molecules</text>
<rect x="266.9" y="107.44" width="8.48" height="2.08" fill="#f5202a"/>
<text x="266" y="109.08" font-size="1.6" class="e n" style="fill:#222;stroke:#222" font-weight="bold">Relaxin signaling</text>
<rect x="266.9" y="109.76" width="6.18" height="2.08" fill="#f5202a"/>
<text x="266" y="111.4" font-size="1.6" class="e n" style="fill:#222;stroke:#222" font-weight="bold">Melanoma</text>
<rect x="266.9" y="112.08" width="7.72" height="2.08" fill="#e0206a"/>
<text x="266" y="113.72" font-size="1.6" class="e n" style="fill:#222;stroke:#222" font-weight="bold">Gastric cancer</text>
<rect x="266.9" y="114.4" width="10.02" height="2.08" fill="#b030c0"/>
<text x="266" y="116.05" font-size="1.6" class="e n" style="fill:#222;stroke:#222" font-weight="bold">Regulation of actin cytoskeleton</text>
<rect x="266.9" y="116.73" width="13.29" height="2.08" fill="#8038d8"/>
<text x="266" y="118.37" font-size="1.6" class="e n" style="fill:#222;stroke:#222" font-weight="bold">MAPK signaling pathway</text>
<rect x="266.9" y="119.05" width="15.79" height="2.08" fill="#3030f0"/>
<text x="266" y="120.69" font-size="1.6" class="e n" style="fill:#222;stroke:#222" font-weight="bold">Wnt/Ras signaling pathway</text>
<rect x="266.9" y="121.37" width="14.83" height="2.08" fill="#3030f0"/>
<text x="266" y="123.02" font-size="1.6" class="e n" style="fill:#222;stroke:#222" font-weight="bold">PI3K-Akt signaling pathway</text>
<rect x="266.9" y="123.7" width="10.98" height="2.08" fill="#3030f0"/>
<text x="266" y="125.34" font-size="1.6" class="e n" style="fill:#222;stroke:#222" font-weight="bold">Complement and coagulation cascades</text>
<rect x="266.9" y="126.02" width="7.14" height="2.08" fill="#3030f0"/>
<text x="266" y="127.66" font-size="1.6" class="e n" style="fill:#222;stroke:#222" font-weight="bold">AGE-RAGE signaling pathway in diabetic complications</text>
<rect x="266.9" y="128.34" width="7.72" height="2.08" fill="#3030f0"/>
<text x="266" y="129.98" font-size="1.6" class="e n" style="fill:#222;stroke:#222" font-weight="bold">Axon guidance pathway</text>
<rect x="266.9" y="130.67" width="2.72" height="2.08" fill="#3030f0"/>
<text x="266" y="132.31" font-size="1.6" class="e n" style="fill:#222;stroke:#222" font-weight="bold">Glycine, serine and threonine metabolism</text>
<text x="267.3" y="135.9" font-size="1.9" class="m">0</text>
<text x="279.8" y="135.9" font-size="1.9" class="m">10</text>
<text x="292.3" y="135.9" font-size="1.9" class="m">20</text>
<text x="284.6" y="138.2" font-size="2.13" class="m">Count</text>
<defs><linearGradient id="cg3" x1="0" y1="0" x2="0" y2="1"><stop offset="0" stop-color="#f5202a"/><stop offset="1" stop-color="#3030f0"/></linearGradient></defs>
<rect x="306.7" y="95.7" width="3.9" height="11.6" fill="url(#cg3)"/>
<text x="306.5" y="94.8" font-size="1.68">qvalue</text>
<text x="311" y="98.5" font-size="1.46">0.01</text>
<text x="311" y="102.1" font-size="1.46">0.02</text>
<text x="311" y="105.7" font-size="1.46">0.03</text>
<rect x="352.7" y="68.2" width="40" height="65" fill="#fff" stroke="#777" stroke-width="0.3"/>
<path d="M364.8 68.2L364.8 133.2" stroke="#eeeeee" stroke-width="0.25"/>
<path d="M377.3 68.2L377.3 133.2" stroke="#eeeeee" stroke-width="0.25"/>
<path d="M390.4 68.2L390.4 133.2" stroke="#eeeeee" stroke-width="0.25"/>
<path d="M352.7 70.73L392.7 70.73" stroke="#f0f0f0" stroke-width="0.25"/>
<path d="M352.7 73.08L392.7 73.08" stroke="#f0f0f0" stroke-width="0.25"/>
<path d="M352.7 75.42L392.7 75.42" stroke="#f0f0f0" stroke-width="0.25"/>
<path d="M352.7 77.77L392.7 77.77" stroke="#f0f0f0" stroke-width="0.25"/>
<path d="M352.7 80.12L392.7 80.12" stroke="#f0f0f0" stroke-width="0.25"/>
<path d="M352.7 82.46L392.7 82.46" stroke="#f0f0f0" stroke-width="0.25"/>
<path d="M352.7 84.81L392.7 84.81" stroke="#f0f0f0" stroke-width="0.25"/>
<path d="M352.7 87.15L392.7 87.15" stroke="#f0f0f0" stroke-width="0.25"/>
<path d="M352.7 89.5L392.7 89.5" stroke="#f0f0f0" stroke-width="0.25"/>
<path d="M352.7 91.85L392.7 91.85" stroke="#f0f0f0" stroke-width="0.25"/>
<path d="M352.7 94.19L392.7 94.19" stroke="#f0f0f0" stroke-width="0.25"/>
<path d="M352.7 96.54L392.7 96.54" stroke="#f0f0f0" stroke-width="0.25"/>
<path d="M352.7 98.88L392.7 98.88" stroke="#f0f0f0" stroke-width="0.25"/>
<path d="M352.7 101.23L392.7 101.23" stroke="#f0f0f0" stroke-width="0.25"/>
<path d="M352.7 103.58L392.7 103.58" stroke="#f0f0f0" stroke-width="0.25"/>
<path d="M352.7 105.92L392.7 105.92" stroke="#f0f0f0" stroke-width="0.25"/>
<path d="M352.7 108.27L392.7 108.27" stroke="#f0f0f0" stroke-width="0.25"/>
<path d="M352.7 110.62L392.7 110.62" stroke="#f0f0f0" stroke-width="0.25"/>
<path d="M352.7 112.96L392.7 112.96" stroke="#f0f0f0" stroke-width="0.25"/>
<path d="M352.7 115.31L392.7 115.31" stroke="#f0f0f0" stroke-width="0.25"/>
<path d="M352.7 117.65L392.7 117.65" stroke="#f0f0f0" stroke-width="0.25"/>
<path d="M352.7 120L392.7 120" stroke="#f0f0f0" stroke-width="0.25"/>
<path d="M352.7 122.35L392.7 122.35" stroke="#f0f0f0" stroke-width="0.25"/>
<path d="M352.7 124.69L392.7 124.69" stroke="#f0f0f0" stroke-width="0.25"/>
<path d="M352.7 127.04L392.7 127.04" stroke="#f0f0f0" stroke-width="0.25"/>
<path d="M352.7 129.38L392.7 129.38" stroke="#f0f0f0" stroke-width="0.25"/>
<path d="M352.7 131.73L392.7 131.73" stroke="#f0f0f0" stroke-width="0.25"/>
<circle cx="390.38" cy="70.73" r="1.45" fill="#ee1c24"/>
<text x="351.8" y="71.33" font-size="1.6" class="e n" style="fill:#222;stroke:#222" font-weight="bold">MAPK signaling pathway</text>
<circle cx="377.31" cy="73.08" r="1.2" fill="#ee1c24"/>
<text x="351.8" y="73.68" font-size="1.6" class="e n" style="fill:#222;stroke:#222" font-weight="bold">Focal adhesion</text>
<circle cx="377.31" cy="75.42" r="1.2" fill="#ee1c24"/>
<text x="351.8" y="76.02" font-size="1.6" class="e n" style="fill:#222;stroke:#222" font-weight="bold">Human papillomavirus infection</text>
<circle cx="373.85" cy="77.77" r="1.1" fill="#ee1c24"/>
<text x="351.8" y="78.37" font-size="1.6" class="e n" style="fill:#222;stroke:#222" font-weight="bold">Cytokine-cytokine receptor interaction</text>
<circle cx="372.5" cy="80.12" r="1.1" fill="#ee1c24"/>
<text x="351.8" y="80.72" font-size="1.6" class="e n" style="fill:#222;stroke:#222" font-weight="bold">ECM-receptor interaction</text>
<circle cx="370.58" cy="82.46" r="1.05" fill="#ee1c24"/>
<text x="351.8" y="83.06" font-size="1.6" class="e n" style="fill:#222;stroke:#222" font-weight="bold">Protein digestion and absorption</text>
<circle cx="370.58" cy="84.81" r="1.05" fill="#ee1c24"/>
<text x="351.8" y="85.41" font-size="1.6" class="e n" style="fill:#222;stroke:#222" font-weight="bold">Proteoglycans in cancer</text>
<circle cx="368.65" cy="87.15" r="1" fill="#8a30c8"/>
<text x="351.8" y="87.75" font-size="1.6" class="e n" style="fill:#222;stroke:#222" font-weight="bold">PI3K-Akt signaling pathway</text>
<circle cx="367.12" cy="89.5" r="1" fill="#3030e8"/>
<text x="351.8" y="90.1" font-size="1.6" class="e n" style="fill:#222;stroke:#222" font-weight="bold">Rap1 signaling pathway</text>
<circle cx="366.15" cy="91.85" r="1" fill="#ee1c24"/>
<text x="351.8" y="92.45" font-size="1.6" class="e n" style="fill:#222;stroke:#222" font-weight="bold">Relaxin signaling pathway</text>
<circle cx="365.77" cy="94.19" r="1" fill="#8a30c8"/>
<text x="351.8" y="94.79" font-size="1.6" class="e n" style="fill:#222;stroke:#222" font-weight="bold">Regulation of actin cytoskeleton</text>
<circle cx="365.19" cy="96.54" r="0.95" fill="#ee1c24"/>
<text x="351.8" y="97.14" font-size="1.6" class="e n" style="fill:#222;stroke:#222" font-weight="bold">Phagosome</text>
<circle cx="364.81" cy="98.88" r="0.95" fill="#ee1c24"/>
<text x="351.8" y="99.48" font-size="1.6" class="e n" style="fill:#222;stroke:#222" font-weight="bold">Amoebiasis</text>
<circle cx="363.85" cy="101.23" r="0.95" fill="#ee1c24"/>
<text x="351.8" y="101.83" font-size="1.6" class="e n" style="fill:#222;stroke:#222" font-weight="bold">Wnt signaling</text>
<circle cx="363.46" cy="103.58" r="0.9" fill="#ee1c24"/>
<text x="351.8" y="104.18" font-size="1.6" class="e n" style="fill:#222;stroke:#222" font-weight="bold">Cell adhesion molecules</text>
<circle cx="363.08" cy="105.92" r="0.9" fill="#c02890"/>
<text x="351.8" y="106.52" font-size="1.6" class="e n" style="fill:#222;stroke:#222" font-weight="bold">Arrhythmogenic right ventricular cardiomyopathy</text>
<circle cx="362.88" cy="108.27" r="0.9" fill="#3030e8"/>
<text x="351.8" y="108.87" font-size="1.6" class="e n" style="fill:#222;stroke:#222" font-weight="bold">Dilated cardiomyopathy</text>
<circle cx="362.69" cy="110.62" r="0.9" fill="#ee1c24"/>
<text x="351.8" y="111.22" font-size="1.6" class="e n" style="fill:#222;stroke:#222" font-weight="bold">Ras signaling pathway</text>
<circle cx="362.31" cy="112.96" r="0.9" fill="#ee1c24"/>
<text x="351.8" y="113.56" font-size="1.6" class="e n" style="fill:#222;stroke:#222" font-weight="bold">Hypertrophic cardiomyopathy</text>
<circle cx="362.12" cy="115.31" r="0.85" fill="#ee1c24"/>
<text x="351.8" y="115.91" font-size="1.6" class="e n" style="fill:#222;stroke:#222" font-weight="bold">Staphylococcus aureus infection</text>
<circle cx="361.92" cy="117.65" r="0.85" fill="#ee1c24"/>
<text x="351.8" y="118.25" font-size="1.6" class="e n" style="fill:#222;stroke:#222" font-weight="bold">TGF-beta signaling pathway</text>
<circle cx="361.92" cy="120" r="0.85" fill="#ee1c24"/>
<text x="351.8" y="120.6" font-size="1.6" class="e n" style="fill:#222;stroke:#222" font-weight="bold">Gastric cancer</text>
<circle cx="359.62" cy="122.35" r="0.85" fill="#8a30c8"/>
<text x="351.8" y="122.95" font-size="1.6" class="e n" style="fill:#222;stroke:#222" font-weight="bold">Melanoma</text>
<circle cx="359.23" cy="124.69" r="0.85" fill="#3030e8"/>
<text x="351.8" y="125.29" font-size="1.6" class="e n" style="fill:#222;stroke:#222" font-weight="bold">AGE-RAGE signaling pathway in diabetic complications</text>
<circle cx="358.46" cy="127.04" r="0.8" fill="#3030e8"/>
<text x="351.8" y="127.64" font-size="1.6" class="e n" style="fill:#222;stroke:#222" font-weight="bold">Complement and coagulation cascades</text>
<circle cx="357.69" cy="129.38" r="0.8" fill="#ee1c24"/>
<text x="351.8" y="129.98" font-size="1.6" class="e n" style="fill:#222;stroke:#222" font-weight="bold">Malaria</text>
<circle cx="354.62" cy="131.73" r="0.6" fill="#201030"/>
<text x="351.8" y="132.33" font-size="1.6" class="e n" style="fill:#222;stroke:#222" font-weight="bold">Glycine, serine and threonine metabolism</text>
<text x="364.8" y="135.9" font-size="1.79" class="m">0.025</text>
<text x="377.3" y="135.9" font-size="1.79" class="m">0.050</text>
<text x="390.4" y="135.9" font-size="1.79" class="m">0.075</text>
<text x="371" y="138" font-size="2.13" class="m">GeneRatio</text>
<text x="394.2" y="85.4" font-size="1.79">Count</text>
<circle cx="395.6" cy="87.4" r="0.5" fill="#111"/>
<text x="397.8" y="88" font-size="1.46">10</text>
<circle cx="395.6" cy="90.2" r="0.7" fill="#111"/>
<text x="397.8" y="90.8" font-size="1.46">15</text>
<circle cx="395.6" cy="93" r="0.9" fill="#111"/>
<text x="397.8" y="93.6" font-size="1.46">20</text>
<circle cx="395.6" cy="95.8" r="1.1" fill="#111"/>
<text x="397.8" y="96.4" font-size="1.46">25</text>
<circle cx="395.6" cy="98.6" r="1.3" fill="#111"/>
<text x="397.8" y="99.2" font-size="1.46">30</text>
<defs><linearGradient id="cg4" x1="0" y1="0" x2="0" y2="1"><stop offset="0" stop-color="#3030f0"/><stop offset="1" stop-color="#f5202a"/></linearGradient></defs>
<rect x="394.6" y="105.3" width="2.9" height="11.6" fill="url(#cg4)"/>
<text x="394.4" y="104.4" font-size="1.68">qvalue</text>
<text x="398" y="108" font-size="1.46">0.03</text>
<text x="398" y="111.6" font-size="1.46">0.02</text>
<text x="398" y="115.2" font-size="1.46">0.01</text>
</g>
<g id="panel_d">
<text x="212.9" y="163.5" font-size="11.2" class="n">d</text>
<text x="272" y="155.6" font-size="2.35" class="m n" font-weight="bold" style="stroke:#000;stroke-width:.08px">Altered in 173 (50.29%) of 195 samples.</text>
<path d="M236.6 157.3L236.6 169.5" stroke="#333" stroke-width="0.25"/>
<rect x="237.2" y="167.94" width="0.48" height="1.56" fill="#4fb35a"/>
<rect x="237.8" y="166.96" width="0.48" height="2.54" fill="#a8dca8"/>
<rect x="238.4" y="158.19" width="0.48" height="11.31" fill="#4fb35a"/>
<rect x="239" y="168.5" width="0.48" height="1" fill="#a8dca8"/>
<rect x="239.6" y="158.25" width="0.48" height="11.25" fill="#4fb35a"/>
<rect x="240.2" y="168.49" width="0.48" height="1.01" fill="#4fb35a"/>
<rect x="240.8" y="168.24" width="0.48" height="1.26" fill="#4fb35a"/>
<rect x="241.4" y="169.48" width="0.48" height="0.02" fill="#4fb35a"/>
<rect x="242" y="168.98" width="0.48" height="0.52" fill="#a8dca8"/>
<rect x="242.6" y="167.18" width="0.48" height="2.32" fill="#4fb35a"/>
<rect x="243.2" y="166.95" width="0.48" height="2.55" fill="#4fb35a"/>
<rect x="243.8" y="167.96" width="0.48" height="1.54" fill="#4fb35a"/>
<rect x="244.4" y="164.76" width="0.48" height="4.74" fill="#4fb35a"/>
<rect x="245" y="169.11" width="0.48" height="0.39" fill="#a8dca8"/>
<rect x="245.6" y="166.21" width="0.48" height="3.29" fill="#4fb35a"/>
<rect x="246.2" y="164.29" width="0.48" height="5.21" fill="#4fb35a"/>
<rect x="246.8" y="167.69" width="0.48" height="1.81" fill="#4fb35a"/>
<rect x="247.4" y="164.97" width="0.48" height="4.53" fill="#4fb35a"/>
<rect x="248" y="164.06" width="0.48" height="5.44" fill="#a8dca8"/>
<rect x="248.6" y="168.93" width="0.48" height="0.57" fill="#4fb35a"/>
<rect x="249.2" y="166.21" width="0.48" height="3.29" fill="#4fb35a"/>
<rect x="249.8" y="168.93" width="0.48" height="0.57" fill="#4fb35a"/>
<rect x="250.4" y="169.49" width="0.48" height="0.01" fill="#4fb35a"/>
<rect x="251" y="168.84" width="0.48" height="0.66" fill="#4fb35a"/>
<rect x="251.6" y="162.56" width="0.48" height="6.94" fill="#4fb35a"/>
<rect x="252.2" y="168.45" width="0.48" height="1.05" fill="#4fb35a"/>
<rect x="252.8" y="169.41" width="0.48" height="0.09" fill="#a8dca8"/>
<rect x="253.4" y="169.46" width="0.48" height="0.04" fill="#4fb35a"/>
<rect x="254" y="166.52" width="0.48" height="2.98" fill="#4fb35a"/>
<rect x="254.6" y="167.02" width="0.48" height="2.48" fill="#4fb35a"/>
<rect x="255.2" y="166.48" width="0.48" height="3.02" fill="#4fb35a"/>
<rect x="255.8" y="169.18" width="0.48" height="0.32" fill="#a8dca8"/>
<rect x="256.4" y="169.15" width="0.48" height="0.35" fill="#4fb35a"/>
<rect x="257" y="165.25" width="0.48" height="4.25" fill="#a8dca8"/>
<rect x="257.6" y="168.82" width="0.48" height="0.68" fill="#4fb35a"/>
<rect x="258.2" y="168.31" width="0.48" height="1.19" fill="#4fb35a"/>
<rect x="258.8" y="161.75" width="0.48" height="7.75" fill="#4fb35a"/>
<rect x="259.4" y="166.36" width="0.48" height="3.14" fill="#4fb35a"/>
<rect x="260" y="164.84" width="0.48" height="4.66" fill="#4fb35a"/>
<rect x="260.6" y="168.83" width="0.48" height="0.67" fill="#4fb35a"/>
<rect x="261.2" y="162.98" width="0.48" height="6.52" fill="#a8dca8"/>
<rect x="261.8" y="168.24" width="0.48" height="1.26" fill="#4fb35a"/>
<rect x="262.4" y="168.89" width="0.48" height="0.61" fill="#4fb35a"/>
<rect x="263" y="169.37" width="0.48" height="0.13" fill="#4fb35a"/>
<rect x="263.6" y="167.63" width="0.48" height="1.87" fill="#a8dca8"/>
<rect x="264.2" y="169.22" width="0.48" height="0.28" fill="#4fb35a"/>
<rect x="264.8" y="165.43" width="0.48" height="4.07" fill="#4fb35a"/>
<rect x="265.4" y="169.07" width="0.48" height="0.43" fill="#4fb35a"/>
<rect x="266" y="168.71" width="0.48" height="0.79" fill="#4fb35a"/>
<rect x="266.6" y="169.25" width="0.48" height="0.25" fill="#4fb35a"/>
<rect x="267.2" y="168.39" width="0.48" height="1.11" fill="#4fb35a"/>
<rect x="267.8" y="169.19" width="0.48" height="0.31" fill="#a8dca8"/>
<rect x="268.4" y="169.44" width="0.48" height="0.06" fill="#4fb35a"/>
<rect x="269" y="168.15" width="0.48" height="1.35" fill="#4fb35a"/>
<rect x="269.6" y="168.8" width="0.48" height="0.7" fill="#4fb35a"/>
<rect x="270.2" y="169.24" width="0.48" height="0.26" fill="#4fb35a"/>
<rect x="270.8" y="168.66" width="0.48" height="0.84" fill="#4fb35a"/>
<rect x="271.4" y="169.23" width="0.48" height="0.27" fill="#a8dca8"/>
<rect x="272" y="168.64" width="0.48" height="0.86" fill="#a8dca8"/>
<rect x="272.6" y="169.23" width="0.48" height="0.27" fill="#4fb35a"/>
<rect x="273.2" y="168.91" width="0.48" height="0.59" fill="#4fb35a"/>
<rect x="273.8" y="169.35" width="0.48" height="0.15" fill="#4fb35a"/>
<rect x="274.4" y="169.43" width="0.48" height="0.07" fill="#4fb35a"/>
<rect x="275" y="167.49" width="0.48" height="2.01" fill="#a8dca8"/>
<rect x="275.6" y="169.06" width="0.48" height="0.44" fill="#4fb35a"/>
<rect x="276.2" y="169.31" width="0.48" height="0.19" fill="#4fb35a"/>
<rect x="276.8" y="169.36" width="0.48" height="0.14" fill="#4fb35a"/>
<rect x="277.4" y="168.59" width="0.48" height="0.91" fill="#4fb35a"/>
<rect x="278" y="168.81" width="0.48" height="0.69" fill="#4fb35a"/>
<rect x="278.6" y="168.97" width="0.48" height="0.53" fill="#4fb35a"/>
<rect x="279.2" y="168.86" width="0.48" height="0.64" fill="#4fb35a"/>
<rect x="279.8" y="168.95" width="0.48" height="0.55" fill="#4fb35a"/>
<rect x="280.4" y="169.2" width="0.48" height="0.3" fill="#4fb35a"/>
<rect x="281" y="168.97" width="0.48" height="0.53" fill="#4fb35a"/>
<rect x="281.6" y="168.19" width="0.48" height="1.31" fill="#4fb35a"/>
<rect x="282.2" y="169.11" width="0.48" height="0.39" fill="#4fb35a"/>
<rect x="282.8" y="169.14" width="0.48" height="0.36" fill="#4fb35a"/>
<rect x="283.4" y="169" width="0.48" height="0.5" fill="#4fb35a"/>
<rect x="284" y="168.74" width="0.48" height="0.76" fill="#4fb35a"/>
<rect x="284.6" y="168.78" width="0.48" height="0.72" fill="#4fb35a"/>
<rect x="285.2" y="169.04" width="0.48" height="0.46" fill="#4fb35a"/>
<rect x="285.8" y="168.71" width="0.48" height="0.79" fill="#4fb35a"/>
<rect x="286.4" y="168.67" width="0.48" height="0.83" fill="#a8dca8"/>
<rect x="287" y="168.98" width="0.48" height="0.52" fill="#a8dca8"/>
<rect x="287.6" y="168.09" width="0.48" height="1.41" fill="#4fb35a"/>
<rect x="288.2" y="169.16" width="0.48" height="0.34" fill="#4fb35a"/>
<rect x="288.8" y="168.68" width="0.48" height="0.82" fill="#a8dca8"/>
<rect x="289.4" y="169.21" width="0.48" height="0.29" fill="#4fb35a"/>
<rect x="290" y="168.93" width="0.48" height="0.57" fill="#4fb35a"/>
<rect x="290.6" y="169.42" width="0.48" height="0.08" fill="#4fb35a"/>
<rect x="291.2" y="169.11" width="0.48" height="0.39" fill="#4fb35a"/>
<rect x="291.8" y="169.25" width="0.48" height="0.25" fill="#4fb35a"/>
<rect x="292.4" y="168.83" width="0.48" height="0.67" fill="#4fb35a"/>
<rect x="293" y="168.93" width="0.48" height="0.57" fill="#4fb35a"/>
<rect x="293.6" y="169.42" width="0.48" height="0.08" fill="#4fb35a"/>
<text x="236.2" y="158.3" font-size="1.46" class="e">1037</text>
<text x="236.2" y="163.9" font-size="1.46" class="e">518</text>
<text x="236.2" y="169.5" font-size="1.46" class="e">0</text>
<rect x="237.2" y="171.2" width="57" height="50" fill="#d4d4d4"/>
<path d="M237.2 171.2L294.2 171.2" stroke="#f2f2f2" stroke-width="0.3"/>
<path d="M237.2 174.53L294.2 174.53" stroke="#f2f2f2" stroke-width="0.3"/>
<path d="M237.2 177.87L294.2 177.87" stroke="#f2f2f2" stroke-width="0.3"/>
<path d="M237.2 181.2L294.2 181.2" stroke="#f2f2f2" stroke-width="0.3"/>
<path d="M237.2 184.53L294.2 184.53" stroke="#f2f2f2" stroke-width="0.3"/>
<path d="M237.2 187.87L294.2 187.87" stroke="#f2f2f2" stroke-width="0.3"/>
<path d="M237.2 191.2L294.2 191.2" stroke="#f2f2f2" stroke-width="0.3"/>
<path d="M237.2 194.53L294.2 194.53" stroke="#f2f2f2" stroke-width="0.3"/>
<path d="M237.2 197.87L294.2 197.87" stroke="#f2f2f2" stroke-width="0.3"/>
<path d="M237.2 201.2L294.2 201.2" stroke="#f2f2f2" stroke-width="0.3"/>
<path d="M237.2 204.53L294.2 204.53" stroke="#f2f2f2" stroke-width="0.3"/>
<path d="M237.2 207.87L294.2 207.87" stroke="#f2f2f2" stroke-width="0.3"/>
<path d="M237.2 211.2L294.2 211.2" stroke="#f2f2f2" stroke-width="0.3"/>
<path d="M237.2 214.53L294.2 214.53" stroke="#f2f2f2" stroke-width="0.3"/>
<path d="M237.2 217.87L294.2 217.87" stroke="#f2f2f2" stroke-width="0.3"/>
<path d="M237.2 221.2L294.2 221.2" stroke="#f2f2f2" stroke-width="0.3"/>
<rect x="237.24" y="171.35" width="0.52" height="3.03" fill="#2a8a3c"/>
<rect x="237.84" y="171.35" width="0.52" height="3.03" fill="#2a8a3c"/>
<rect x="238.44" y="171.35" width="0.52" height="3.03" fill="#1b5e20"/>
<rect x="239.04" y="171.35" width="0.52" height="3.03" fill="#1f7a33"/>
<rect x="239.64" y="171.35" width="0.52" height="3.03" fill="#1f7a33"/>
<rect x="240.24" y="171.35" width="0.52" height="3.03" fill="#1f7a33"/>
<rect x="240.84" y="171.35" width="0.52" height="3.03" fill="#2f9e44"/>
<rect x="241.44" y="171.35" width="0.52" height="3.03" fill="#1b5e20"/>
<rect x="242.04" y="171.35" width="0.52" height="3.03" fill="#1f7a33"/>
<rect x="242.64" y="171.35" width="0.52" height="3.03" fill="#1b5e20"/>
<rect x="243.24" y="171.35" width="0.52" height="3.03" fill="#2f9e44"/>
<rect x="243.84" y="171.35" width="0.52" height="3.03" fill="#2f9e44"/>
<rect x="244.44" y="171.35" width="0.52" height="3.03" fill="#2f9e44"/>
<rect x="245.04" y="171.35" width="0.52" height="3.03" fill="#1f7a33"/>
<rect x="245.64" y="171.35" width="0.52" height="3.03" fill="#2f9e44"/>
<rect x="246.24" y="171.35" width="0.52" height="3.03" fill="#2a8a3c"/>
<rect x="246.84" y="171.35" width="0.52" height="3.03" fill="#2f9e44"/>
<rect x="247.44" y="171.35" width="0.52" height="3.03" fill="#1b5e20"/>
<rect x="248.04" y="171.35" width="0.52" height="3.03" fill="#2a8a3c"/>
<rect x="248.64" y="171.35" width="0.52" height="3.03" fill="#2f9e44"/>
<rect x="249.24" y="171.35" width="0.52" height="3.03" fill="#2f9e44"/>
<rect x="249.84" y="171.35" width="0.52" height="3.03" fill="#1f7a33"/>
<rect x="250.44" y="171.35" width="0.52" height="3.03" fill="#3a6ae0"/>
<rect x="251.04" y="171.35" width="0.52" height="3.03" fill="#2f9e44"/>
<rect x="251.64" y="171.35" width="0.52" height="3.03" fill="#1f7a33"/>
<rect x="252.24" y="171.35" width="0.52" height="3.03" fill="#1b5e20"/>
<rect x="252.84" y="171.35" width="0.52" height="3.03" fill="#3a6ae0"/>
<rect x="253.44" y="171.35" width="0.52" height="3.03" fill="#1b5e20"/>
<rect x="254.04" y="171.35" width="0.52" height="3.03" fill="#2f9e44"/>
<rect x="254.64" y="171.35" width="0.52" height="3.03" fill="#c9a46a"/>
<rect x="255.24" y="171.35" width="0.52" height="3.03" fill="#1f7a33"/>
<rect x="255.84" y="171.35" width="0.52" height="3.03" fill="#2f9e44"/>
<rect x="256.44" y="171.35" width="0.52" height="3.03" fill="#2f9e44"/>
<rect x="257.04" y="171.35" width="0.52" height="3.03" fill="#2f9e44"/>
<rect x="257.64" y="171.35" width="0.52" height="3.03" fill="#2f9e44"/>
<rect x="258.24" y="171.35" width="0.52" height="3.03" fill="#1f7a33"/>
<rect x="258.84" y="171.35" width="0.52" height="3.03" fill="#2f9e44"/>
<rect x="259.44" y="171.35" width="0.52" height="3.03" fill="#2f9e44"/>
<rect x="260.04" y="171.35" width="0.52" height="3.03" fill="#1f7a33"/>
<rect x="260.64" y="171.35" width="0.52" height="3.03" fill="#1f7a33"/>
<rect x="261.24" y="171.35" width="0.52" height="3.03" fill="#1b5e20"/>
<rect x="261.84" y="171.35" width="0.52" height="3.03" fill="#e03a3a"/>
<rect x="262.44" y="171.35" width="0.52" height="3.03" fill="#1f7a33"/>
<rect x="263.04" y="171.35" width="0.52" height="3.03" fill="#2f9e44"/>
<rect x="263.64" y="171.35" width="0.52" height="3.03" fill="#2a8a3c"/>
<rect x="264.24" y="171.35" width="0.52" height="3.03" fill="#1f7a33"/>
<rect x="264.84" y="171.35" width="0.52" height="3.03" fill="#1f7a33"/>
<rect x="267.24" y="171.35" width="0.52" height="3.03" fill="#1b5e20"/>
<rect x="281.04" y="171.35" width="0.52" height="3.03" fill="#1f7a33"/>
<rect x="281.64" y="171.35" width="0.52" height="3.03" fill="#1f7a33"/>
<text x="236.4" y="173.47" font-size="1.7" class="e n" font-weight="bold">TTN</text>
<text x="295" y="173.47" font-size="1.6" class="n" font-weight="bold">51%</text>
<rect x="237.24" y="174.68" width="0.52" height="3.03" fill="#a8dca8"/>
<rect x="237.84" y="174.68" width="0.52" height="3.03" fill="#1b5e20"/>
<rect x="238.44" y="174.68" width="0.52" height="3.03" fill="#74c476"/>
<rect x="239.04" y="174.68" width="0.52" height="3.03" fill="#b89a6a"/>
<rect x="239.64" y="174.68" width="0.52" height="3.03" fill="#111"/>
<rect x="240.24" y="174.68" width="0.52" height="3.03" fill="#8a9a7a"/>
<rect x="240.84" y="174.68" width="0.52" height="3.03" fill="#74c476"/>
<rect x="241.44" y="174.68" width="0.52" height="3.03" fill="#8a9a7a"/>
<rect x="242.04" y="174.68" width="0.52" height="3.03" fill="#8a9a7a"/>
<rect x="242.64" y="174.68" width="0.52" height="3.03" fill="#e03a3a"/>
<rect x="243.24" y="174.68" width="0.52" height="3.03" fill="#2f9e44"/>
<rect x="243.84" y="174.68" width="0.52" height="3.03" fill="#1b5e20"/>
<rect x="244.44" y="174.68" width="0.52" height="3.03" fill="#2f9e44"/>
<rect x="245.04" y="174.68" width="0.52" height="3.03" fill="#e03a3a"/>
<rect x="245.64" y="174.68" width="0.52" height="3.03" fill="#8a9a7a"/>
<rect x="246.24" y="174.68" width="0.52" height="3.03" fill="#1b5e20"/>
<rect x="246.84" y="174.68" width="0.52" height="3.03" fill="#1b5e20"/>
<rect x="247.44" y="174.68" width="0.52" height="3.03" fill="#2f9e44"/>
<rect x="248.04" y="174.68" width="0.52" height="3.03" fill="#74c476"/>
<rect x="248.64" y="174.68" width="0.52" height="3.03" fill="#74c476"/>
<rect x="249.24" y="174.68" width="0.52" height="3.03" fill="#a8dca8"/>
<rect x="266.64" y="174.68" width="0.52" height="3.03" fill="#c9a46a"/>
<rect x="267.24" y="174.68" width="0.52" height="3.03" fill="#a8dca8"/>
<rect x="267.84" y="174.68" width="0.52" height="3.03" fill="#2f9e44"/>
<rect x="268.44" y="174.68" width="0.52" height="3.03" fill="#2f9e44"/>
<rect x="269.04" y="174.68" width="0.52" height="3.03" fill="#2f9e44"/>
<rect x="269.64" y="174.68" width="0.52" height="3.03" fill="#74c476"/>
<rect x="270.24" y="174.68" width="0.52" height="3.03" fill="#2f9e44"/>
<rect x="270.84" y="174.68" width="0.52" height="3.03" fill="#a8dca8"/>
<rect x="271.44" y="174.68" width="0.52" height="3.03" fill="#2f9e44"/>
<rect x="272.64" y="174.68" width="0.52" height="3.03" fill="#2f9e44"/>
<rect x="273.24" y="174.68" width="0.52" height="3.03" fill="#2f9e44"/>
<rect x="273.84" y="174.68" width="0.52" height="3.03" fill="#2f9e44"/>
<rect x="274.44" y="174.68" width="0.52" height="3.03" fill="#2f9e44"/>
<rect x="275.04" y="174.68" width="0.52" height="3.03" fill="#c9a46a"/>
<rect x="275.64" y="174.68" width="0.52" height="3.03" fill="#2f9e44"/>
<rect x="276.24" y="174.68" width="0.52" height="3.03" fill="#2f9e44"/>
<rect x="276.84" y="174.68" width="0.52" height="3.03" fill="#2f9e44"/>
<rect x="277.44" y="174.68" width="0.52" height="3.03" fill="#2f9e44"/>
<rect x="278.04" y="174.68" width="0.52" height="3.03" fill="#a8dca8"/>
<rect x="278.64" y="174.68" width="0.52" height="3.03" fill="#2f9e44"/>
<rect x="279.24" y="174.68" width="0.52" height="3.03" fill="#2f9e44"/>
<rect x="279.84" y="174.68" width="0.52" height="3.03" fill="#2f9e44"/>
<rect x="280.44" y="174.68" width="0.52" height="3.03" fill="#2f9e44"/>
<rect x="286.44" y="174.68" width="0.52" height="3.03" fill="#a8dca8"/>
<text x="236.4" y="176.8" font-size="1.7" class="e n" font-weight="bold">TP53</text>
<text x="295" y="176.8" font-size="1.6" class="n" font-weight="bold">44%</text>
<rect x="237.84" y="178.02" width="0.52" height="3.03" fill="#2f9e44"/>
<rect x="240.84" y="178.02" width="0.52" height="3.03" fill="#2f9e44"/>
<rect x="242.04" y="178.02" width="0.52" height="3.03" fill="#3a6ae0"/>
<rect x="244.44" y="178.02" width="0.52" height="3.03" fill="#2f9e44"/>
<rect x="250.44" y="178.02" width="0.52" height="3.03" fill="#74c476"/>
<rect x="251.04" y="178.02" width="0.52" height="3.03" fill="#2f9e44"/>
<rect x="252.24" y="178.02" width="0.52" height="3.03" fill="#74c476"/>
<rect x="254.04" y="178.02" width="0.52" height="3.03" fill="#2f9e44"/>
<rect x="256.44" y="178.02" width="0.52" height="3.03" fill="#2f9e44"/>
<rect x="257.04" y="178.02" width="0.52" height="3.03" fill="#a8dca8"/>
<rect x="258.84" y="178.02" width="0.52" height="3.03" fill="#c9a46a"/>
<rect x="264.84" y="178.02" width="0.52" height="3.03" fill="#2f9e44"/>
<rect x="268.44" y="178.02" width="0.52" height="3.03" fill="#2f9e44"/>
<rect x="272.04" y="178.02" width="0.52" height="3.03" fill="#1b5e20"/>
<rect x="272.64" y="178.02" width="0.52" height="3.03" fill="#2f9e44"/>
<rect x="276.84" y="178.02" width="0.52" height="3.03" fill="#a8dca8"/>
<rect x="277.44" y="178.02" width="0.52" height="3.03" fill="#2f9e44"/>
<rect x="279.24" y="178.02" width="0.52" height="3.03" fill="#74c476"/>
<rect x="281.04" y="178.02" width="0.52" height="3.03" fill="#1b5e20"/>
<rect x="282.24" y="178.02" width="0.52" height="3.03" fill="#1b5e20"/>
<rect x="284.04" y="178.02" width="0.52" height="3.03" fill="#2f9e44"/>
<rect x="287.04" y="178.02" width="0.52" height="3.03" fill="#1b5e20"/>
<rect x="287.64" y="178.02" width="0.52" height="3.03" fill="#1b5e20"/>
<text x="236.4" y="180.13" font-size="1.7" class="e n" font-weight="bold">MUC16</text>
<text x="295" y="180.13" font-size="1.6" class="n" font-weight="bold">31%</text>
<rect x="238.44" y="181.35" width="0.52" height="3.03" fill="#2f9e44"/>
<rect x="242.04" y="181.35" width="0.52" height="3.03" fill="#2f9e44"/>
<rect x="243.24" y="181.35" width="0.52" height="3.03" fill="#74c476"/>
<rect x="244.44" y="181.35" width="0.52" height="3.03" fill="#2f9e44"/>
<rect x="248.64" y="181.35" width="0.52" height="3.03" fill="#2f9e44"/>
<rect x="249.24" y="181.35" width="0.52" height="3.03" fill="#2f9e44"/>
<rect x="250.44" y="181.35" width="0.52" height="3.03" fill="#2f9e44"/>
<rect x="252.24" y="181.35" width="0.52" height="3.03" fill="#a8dca8"/>
<rect x="254.04" y="181.35" width="0.52" height="3.03" fill="#2f9e44"/>
<rect x="254.64" y="181.35" width="0.52" height="3.03" fill="#2f9e44"/>
<rect x="257.04" y="181.35" width="0.52" height="3.03" fill="#74c476"/>
<rect x="258.24" y="181.35" width="0.52" height="3.03" fill="#a8dca8"/>
<rect x="258.84" y="181.35" width="0.52" height="3.03" fill="#2f9e44"/>
<rect x="260.64" y="181.35" width="0.52" height="3.03" fill="#2f9e44"/>
<rect x="261.84" y="181.35" width="0.52" height="3.03" fill="#2f9e44"/>
<rect x="270.24" y="181.35" width="0.52" height="3.03" fill="#74c476"/>
<rect x="272.04" y="181.35" width="0.52" height="3.03" fill="#2f9e44"/>
<rect x="273.24" y="181.35" width="0.52" height="3.03" fill="#2f9e44"/>
<rect x="274.44" y="181.35" width="0.52" height="3.03" fill="#2f9e44"/>
<rect x="275.04" y="181.35" width="0.52" height="3.03" fill="#2f9e44"/>
<rect x="276.24" y="181.35" width="0.52" height="3.03" fill="#2f9e44"/>
<rect x="278.04" y="181.35" width="0.52" height="3.03" fill="#2f9e44"/>
<rect x="279.24" y="181.35" width="0.52" height="3.03" fill="#a8dca8"/>
<rect x="282.24" y="181.35" width="0.52" height="3.03" fill="#74c476"/>
<rect x="286.44" y="181.35" width="0.52" height="3.03" fill="#74c476"/>
<rect x="291.84" y="181.35" width="0.52" height="3.03" fill="#2f9e44"/>
<rect x="293.04" y="181.35" width="0.52" height="3.03" fill="#2f9e44"/>
<text x="236.4" y="183.47" font-size="1.7" class="e n" font-weight="bold">LRP1B</text>
<text x="295" y="183.47" font-size="1.6" class="n" font-weight="bold">26%</text>
<rect x="239.64" y="184.68" width="0.52" height="3.03" fill="#2f9e44"/>
<rect x="240.24" y="184.68" width="0.52" height="3.03" fill="#1b5e20"/>
<rect x="242.04" y="184.68" width="0.52" height="3.03" fill="#2f9e44"/>
<rect x="245.04" y="184.68" width="0.52" height="3.03" fill="#2f9e44"/>
<rect x="245.64" y="184.68" width="0.52" height="3.03" fill="#2f9e44"/>
<rect x="246.24" y="184.68" width="0.52" height="3.03" fill="#2f9e44"/>
<rect x="248.04" y="184.68" width="0.52" height="3.03" fill="#a8dca8"/>
<rect x="250.44" y="184.68" width="0.52" height="3.03" fill="#74c476"/>
<rect x="256.44" y="184.68" width="0.52" height="3.03" fill="#74c476"/>
<rect x="257.04" y="184.68" width="0.52" height="3.03" fill="#2f9e44"/>
<rect x="260.04" y="184.68" width="0.52" height="3.03" fill="#a8dca8"/>
<rect x="263.64" y="184.68" width="0.52" height="3.03" fill="#2f9e44"/>
<rect x="268.44" y="184.68" width="0.52" height="3.03" fill="#1b5e20"/>
<rect x="273.84" y="184.68" width="0.52" height="3.03" fill="#2f9e44"/>
<rect x="274.44" y="184.68" width="0.52" height="3.03" fill="#a8dca8"/>
<rect x="275.64" y="184.68" width="0.52" height="3.03" fill="#2f9e44"/>
<rect x="279.24" y="184.68" width="0.52" height="3.03" fill="#2f9e44"/>
<rect x="285.24" y="184.68" width="0.52" height="3.03" fill="#2f9e44"/>
<rect x="287.04" y="184.68" width="0.52" height="3.03" fill="#111"/>
<rect x="288.84" y="184.68" width="0.52" height="3.03" fill="#74c476"/>
<rect x="292.44" y="184.68" width="0.52" height="3.03" fill="#2f9e44"/>
<rect x="293.64" y="184.68" width="0.52" height="3.03" fill="#1b5e20"/>
<text x="236.4" y="186.8" font-size="1.7" class="e n" font-weight="bold">ARID1A</text>
<text x="295" y="186.8" font-size="1.6" class="n" font-weight="bold">25%</text>
<rect x="239.04" y="188.02" width="0.52" height="3.03" fill="#1b5e20"/>
<rect x="248.64" y="188.02" width="0.52" height="3.03" fill="#2f9e44"/>
<rect x="252.24" y="188.02" width="0.52" height="3.03" fill="#a8dca8"/>
<rect x="254.04" y="188.02" width="0.52" height="3.03" fill="#2f9e44"/>
<rect x="257.04" y="188.02" width="0.52" height="3.03" fill="#a8dca8"/>
<rect x="258.84" y="188.02" width="0.52" height="3.03" fill="#2f9e44"/>
<rect x="261.84" y="188.02" width="0.52" height="3.03" fill="#2f9e44"/>
<rect x="263.64" y="188.02" width="0.52" height="3.03" fill="#1b5e20"/>
<rect x="264.84" y="188.02" width="0.52" height="3.03" fill="#2f9e44"/>
<rect x="269.04" y="188.02" width="0.52" height="3.03" fill="#2f9e44"/>
<rect x="271.44" y="188.02" width="0.52" height="3.03" fill="#2f9e44"/>
<rect x="274.44" y="188.02" width="0.52" height="3.03" fill="#74c476"/>
<rect x="279.24" y="188.02" width="0.52" height="3.03" fill="#74c476"/>
<rect x="280.44" y="188.02" width="0.52" height="3.03" fill="#a8dca8"/>
<rect x="282.84" y="188.02" width="0.52" height="3.03" fill="#2f9e44"/>
<rect x="290.04" y="188.02" width="0.52" height="3.03" fill="#2f9e44"/>
<text x="236.4" y="190.13" font-size="1.7" class="e n" font-weight="bold">SYNE1</text>
<text x="295" y="190.13" font-size="1.6" class="n" font-weight="bold">23%</text>
<rect x="237.24" y="191.35" width="0.52" height="3.03" fill="#1b5e20"/>
<rect x="239.64" y="191.35" width="0.52" height="3.03" fill="#2f9e44"/>
<rect x="251.64" y="191.35" width="0.52" height="3.03" fill="#a8dca8"/>
<rect x="256.44" y="191.35" width="0.52" height="3.03" fill="#74c476"/>
<rect x="260.04" y="191.35" width="0.52" height="3.03" fill="#74c476"/>
<rect x="267.84" y="191.35" width="0.52" height="3.03" fill="#74c476"/>
<rect x="271.44" y="191.35" width="0.52" height="3.03" fill="#2f9e44"/>
<rect x="272.04" y="191.35" width="0.52" height="3.03" fill="#2f9e44"/>
<rect x="276.84" y="191.35" width="0.52" height="3.03" fill="#1b5e20"/>
<rect x="277.44" y="191.35" width="0.52" height="3.03" fill="#a8dca8"/>
<rect x="279.24" y="191.35" width="0.52" height="3.03" fill="#a8dca8"/>
<rect x="281.64" y="191.35" width="0.52" height="3.03" fill="#2f9e44"/>
<rect x="282.24" y="191.35" width="0.52" height="3.03" fill="#74c476"/>
<rect x="282.84" y="191.35" width="0.52" height="3.03" fill="#2f9e44"/>
<rect x="286.44" y="191.35" width="0.52" height="3.03" fill="#2f9e44"/>
<rect x="291.24" y="191.35" width="0.52" height="3.03" fill="#74c476"/>
<rect x="292.44" y="191.35" width="0.52" height="3.03" fill="#2f9e44"/>
<text x="236.4" y="193.47" font-size="1.7" class="e n" font-weight="bold">CSMD3</text>
<text x="295" y="193.47" font-size="1.6" class="n" font-weight="bold">21%</text>
<rect x="238.44" y="194.68" width="0.52" height="3.03" fill="#2f9e44"/>
<rect x="245.04" y="194.68" width="0.52" height="3.03" fill="#74c476"/>
<rect x="248.04" y="194.68" width="0.52" height="3.03" fill="#2f9e44"/>
<rect x="258.24" y="194.68" width="0.52" height="3.03" fill="#a8dca8"/>
<rect x="275.64" y="194.68" width="0.52" height="3.03" fill="#74c476"/>
<rect x="276.84" y="194.68" width="0.52" height="3.03" fill="#a8dca8"/>
<rect x="277.44" y="194.68" width="0.52" height="3.03" fill="#1b5e20"/>
<rect x="278.04" y="194.68" width="0.52" height="3.03" fill="#1b5e20"/>
<rect x="280.44" y="194.68" width="0.52" height="3.03" fill="#1b5e20"/>
<rect x="281.04" y="194.68" width="0.52" height="3.03" fill="#a8dca8"/>
<rect x="283.44" y="194.68" width="0.52" height="3.03" fill="#74c476"/>
<rect x="285.24" y="194.68" width="0.52" height="3.03" fill="#2f9e44"/>
<rect x="289.44" y="194.68" width="0.52" height="3.03" fill="#74c476"/>
<rect x="290.04" y="194.68" width="0.52" height="3.03" fill="#2f9e44"/>
<rect x="293.04" y="194.68" width="0.52" height="3.03" fill="#2f9e44"/>
<text x="236.4" y="196.8" font-size="1.7" class="e n" font-weight="bold">FLG</text>
<text x="295" y="196.8" font-size="1.6" class="n" font-weight="bold">20%</text>
<rect x="239.64" y="198.02" width="0.52" height="3.03" fill="#2f9e44"/>
<rect x="243.24" y="198.02" width="0.52" height="3.03" fill="#a8dca8"/>
<rect x="246.84" y="198.02" width="0.52" height="3.03" fill="#74c476"/>
<rect x="247.44" y="198.02" width="0.52" height="3.03" fill="#2f9e44"/>
<rect x="251.04" y="198.02" width="0.52" height="3.03" fill="#2f9e44"/>
<rect x="252.24" y="198.02" width="0.52" height="3.03" fill="#2f9e44"/>
<rect x="260.04" y="198.02" width="0.52" height="3.03" fill="#2f9e44"/>
<rect x="261.84" y="198.02" width="0.52" height="3.03" fill="#2f9e44"/>
<rect x="266.04" y="198.02" width="0.52" height="3.03" fill="#1b5e20"/>
<rect x="269.04" y="198.02" width="0.52" height="3.03" fill="#1b5e20"/>
<rect x="273.24" y="198.02" width="0.52" height="3.03" fill="#2f9e44"/>
<rect x="276.24" y="198.02" width="0.52" height="3.03" fill="#2f9e44"/>
<rect x="279.84" y="198.02" width="0.52" height="3.03" fill="#111"/>
<rect x="281.04" y="198.02" width="0.52" height="3.03" fill="#2f9e44"/>
<rect x="283.44" y="198.02" width="0.52" height="3.03" fill="#1b5e20"/>
<rect x="286.44" y="198.02" width="0.52" height="3.03" fill="#2f9e44"/>
<text x="236.4" y="200.13" font-size="1.7" class="e n" font-weight="bold">FAT4</text>
<text x="295" y="200.13" font-size="1.6" class="n" font-weight="bold">19%</text>
<rect x="239.04" y="201.35" width="0.52" height="3.03" fill="#1b5e20"/>
<rect x="242.64" y="201.35" width="0.52" height="3.03" fill="#3a6ae0"/>
<rect x="243.24" y="201.35" width="0.52" height="3.03" fill="#2f9e44"/>
<rect x="245.64" y="201.35" width="0.52" height="3.03" fill="#1b5e20"/>
<rect x="251.64" y="201.35" width="0.52" height="3.03" fill="#a8dca8"/>
<rect x="253.44" y="201.35" width="0.52" height="3.03" fill="#2f9e44"/>
<rect x="257.64" y="201.35" width="0.52" height="3.03" fill="#a8dca8"/>
<rect x="267.24" y="201.35" width="0.52" height="3.03" fill="#2f9e44"/>
<rect x="272.04" y="201.35" width="0.52" height="3.03" fill="#74c476"/>
<rect x="281.04" y="201.35" width="0.52" height="3.03" fill="#3a6ae0"/>
<rect x="284.04" y="201.35" width="0.52" height="3.03" fill="#74c476"/>
<rect x="289.44" y="201.35" width="0.52" height="3.03" fill="#a8dca8"/>
<text x="236.4" y="203.47" font-size="1.7" class="e n" font-weight="bold">PCLO</text>
<text x="295" y="203.47" font-size="1.6" class="n" font-weight="bold">18%</text>
<rect x="250.44" y="204.68" width="0.52" height="3.03" fill="#74c476"/>
<rect x="257.04" y="204.68" width="0.52" height="3.03" fill="#74c476"/>
<rect x="258.24" y="204.68" width="0.52" height="3.03" fill="#2f9e44"/>
<rect x="265.44" y="204.68" width="0.52" height="3.03" fill="#a8dca8"/>
<rect x="266.64" y="204.68" width="0.52" height="3.03" fill="#2f9e44"/>
<rect x="270.24" y="204.68" width="0.52" height="3.03" fill="#74c476"/>
<rect x="273.24" y="204.68" width="0.52" height="3.03" fill="#2f9e44"/>
<rect x="277.44" y="204.68" width="0.52" height="3.03" fill="#a8dca8"/>
<rect x="278.04" y="204.68" width="0.52" height="3.03" fill="#a8dca8"/>
<rect x="278.64" y="204.68" width="0.52" height="3.03" fill="#1b5e20"/>
<rect x="279.24" y="204.68" width="0.52" height="3.03" fill="#74c476"/>
<rect x="284.64" y="204.68" width="0.52" height="3.03" fill="#2f9e44"/>
<rect x="287.04" y="204.68" width="0.52" height="3.03" fill="#2f9e44"/>
<rect x="293.04" y="204.68" width="0.52" height="3.03" fill="#74c476"/>
<text x="236.4" y="206.8" font-size="1.7" class="e n" font-weight="bold">CSMD1</text>
<text x="295" y="206.8" font-size="1.6" class="n" font-weight="bold">17%</text>
<rect x="240.24" y="208.02" width="0.52" height="3.03" fill="#2f9e44"/>
<rect x="245.64" y="208.02" width="0.52" height="3.03" fill="#a8dca8"/>
<rect x="246.24" y="208.02" width="0.52" height="3.03" fill="#1b5e20"/>
<rect x="255.84" y="208.02" width="0.52" height="3.03" fill="#2f9e44"/>
<rect x="259.44" y="208.02" width="0.52" height="3.03" fill="#a8dca8"/>
<rect x="265.44" y="208.02" width="0.52" height="3.03" fill="#74c476"/>
<rect x="269.64" y="208.02" width="0.52" height="3.03" fill="#2f9e44"/>
<rect x="280.44" y="208.02" width="0.52" height="3.03" fill="#2f9e44"/>
<rect x="285.84" y="208.02" width="0.52" height="3.03" fill="#2f9e44"/>
<rect x="293.64" y="208.02" width="0.52" height="3.03" fill="#74c476"/>
<text x="236.4" y="210.13" font-size="1.7" class="e n" font-weight="bold">DNAH5</text>
<text x="295" y="210.13" font-size="1.6" class="n" font-weight="bold">17%</text>
<rect x="248.04" y="211.35" width="0.52" height="3.03" fill="#1b5e20"/>
<rect x="253.44" y="211.35" width="0.52" height="3.03" fill="#a8dca8"/>
<rect x="267.24" y="211.35" width="0.52" height="3.03" fill="#2f9e44"/>
<rect x="267.84" y="211.35" width="0.52" height="3.03" fill="#74c476"/>
<rect x="278.04" y="211.35" width="0.52" height="3.03" fill="#2f9e44"/>
<rect x="278.64" y="211.35" width="0.52" height="3.03" fill="#2f9e44"/>
<rect x="285.24" y="211.35" width="0.52" height="3.03" fill="#a8dca8"/>
<rect x="290.04" y="211.35" width="0.52" height="3.03" fill="#2f9e44"/>
<text x="236.4" y="213.47" font-size="1.7" class="e n" font-weight="bold">OBSCN</text>
<text x="295" y="213.47" font-size="1.6" class="n" font-weight="bold">16%</text>
<rect x="239.64" y="214.68" width="0.52" height="3.03" fill="#2f9e44"/>
<rect x="248.64" y="214.68" width="0.52" height="3.03" fill="#1b5e20"/>
<rect x="255.24" y="214.68" width="0.52" height="3.03" fill="#2f9e44"/>
<rect x="255.84" y="214.68" width="0.52" height="3.03" fill="#74c476"/>
<rect x="259.44" y="214.68" width="0.52" height="3.03" fill="#1b5e20"/>
<rect x="267.24" y="214.68" width="0.52" height="3.03" fill="#2f9e44"/>
<rect x="270.24" y="214.68" width="0.52" height="3.03" fill="#2f9e44"/>
<rect x="275.04" y="214.68" width="0.52" height="3.03" fill="#2f9e44"/>
<rect x="278.64" y="214.68" width="0.52" height="3.03" fill="#2f9e44"/>
<rect x="279.24" y="214.68" width="0.52" height="3.03" fill="#2f9e44"/>
<rect x="287.64" y="214.68" width="0.52" height="3.03" fill="#2f9e44"/>
<rect x="288.84" y="214.68" width="0.52" height="3.03" fill="#2f9e44"/>
<rect x="293.04" y="214.68" width="0.52" height="3.03" fill="#2f9e44"/>
<text x="236.4" y="216.8" font-size="1.7" class="e n" font-weight="bold">ZFHX4</text>
<text x="295" y="216.8" font-size="1.6" class="n" font-weight="bold">15%</text>
<rect x="242.04" y="218.02" width="0.52" height="3.03" fill="#1b5e20"/>
<rect x="248.64" y="218.02" width="0.52" height="3.03" fill="#74c476"/>
<rect x="257.04" y="218.02" width="0.52" height="3.03" fill="#2f9e44"/>
<rect x="266.64" y="218.02" width="0.52" height="3.03" fill="#1b5e20"/>
<rect x="270.84" y="218.02" width="0.52" height="3.03" fill="#2f9e44"/>
<rect x="276.24" y="218.02" width="0.52" height="3.03" fill="#2f9e44"/>
<rect x="285.84" y="218.02" width="0.52" height="3.03" fill="#2f9e44"/>
<rect x="292.44" y="218.02" width="0.52" height="3.03" fill="#2f9e44"/>
<rect x="293.64" y="218.02" width="0.52" height="3.03" fill="#1b5e20"/>
<text x="236.4" y="220.13" font-size="1.7" class="e n" font-weight="bold">HMCN1</text>
<text x="295" y="220.13" font-size="1.6" class="n" font-weight="bold">15%</text>
<rect x="237.3" y="171.5" width="0.96" height="2.73" fill="none" stroke="#123" stroke-width="0.3"/>
<rect x="238.5" y="171.5" width="0.96" height="2.73" fill="none" stroke="#123" stroke-width="0.3"/>
<rect x="239.7" y="171.5" width="0.96" height="2.73" fill="none" stroke="#123" stroke-width="0.3"/>
<rect x="240.9" y="171.5" width="0.96" height="2.73" fill="none" stroke="#123" stroke-width="0.3"/>
<rect x="242.1" y="171.5" width="0.96" height="2.73" fill="none" stroke="#123" stroke-width="0.3"/>
<rect x="243.3" y="171.5" width="0.96" height="2.73" fill="none" stroke="#123" stroke-width="0.3"/>
<rect x="244.5" y="171.5" width="0.96" height="2.73" fill="none" stroke="#123" stroke-width="0.3"/>
<rect x="245.7" y="171.5" width="0.96" height="2.73" fill="none" stroke="#123" stroke-width="0.3"/>
<rect x="246.9" y="171.5" width="0.96" height="2.73" fill="none" stroke="#123" stroke-width="0.3"/>
<rect x="248.1" y="171.5" width="0.96" height="2.73" fill="none" stroke="#123" stroke-width="0.3"/>
<rect x="249.3" y="171.5" width="0.96" height="2.73" fill="none" stroke="#123" stroke-width="0.3"/>
<rect x="250.5" y="171.5" width="0.96" height="2.73" fill="none" stroke="#123" stroke-width="0.3"/>
<rect x="251.7" y="171.5" width="0.96" height="2.73" fill="none" stroke="#123" stroke-width="0.3"/>
<rect x="252.9" y="171.5" width="0.96" height="2.73" fill="none" stroke="#123" stroke-width="0.3"/>
<rect x="254.1" y="171.5" width="0.96" height="2.73" fill="none" stroke="#123" stroke-width="0.3"/>
<rect x="255.3" y="171.5" width="0.96" height="2.73" fill="none" stroke="#123" stroke-width="0.3"/>
<rect x="256.5" y="171.5" width="0.96" height="2.73" fill="none" stroke="#123" stroke-width="0.3"/>
<rect x="257.7" y="171.5" width="0.96" height="2.73" fill="none" stroke="#123" stroke-width="0.3"/>
<rect x="238.5" y="174.83" width="1.32" height="2.73" fill="none" stroke="#345" stroke-width="0.25"/>
<rect x="240.3" y="174.83" width="1.32" height="2.73" fill="none" stroke="#345" stroke-width="0.25"/>
<rect x="242.1" y="174.83" width="1.32" height="2.73" fill="none" stroke="#345" stroke-width="0.25"/>
<rect x="243.9" y="174.83" width="1.32" height="2.73" fill="none" stroke="#345" stroke-width="0.25"/>
<rect x="245.7" y="174.83" width="1.32" height="2.73" fill="none" stroke="#345" stroke-width="0.25"/>
<rect x="247.5" y="174.83" width="1.32" height="2.73" fill="none" stroke="#345" stroke-width="0.25"/>
<rect x="249.3" y="174.83" width="1.32" height="2.73" fill="none" stroke="#345" stroke-width="0.25"/>
<rect x="251.1" y="174.83" width="1.32" height="2.73" fill="none" stroke="#345" stroke-width="0.25"/>
<rect x="252.9" y="174.83" width="1.32" height="2.73" fill="none" stroke="#345" stroke-width="0.25"/>
<rect x="254.7" y="174.83" width="1.32" height="2.73" fill="none" stroke="#345" stroke-width="0.25"/>
<rect x="268.5" y="174.83" width="1.32" height="2.73" fill="none" stroke="#345" stroke-width="0.25"/>
<rect x="270.3" y="174.83" width="1.32" height="2.73" fill="none" stroke="#345" stroke-width="0.25"/>
<rect x="272.1" y="174.83" width="1.32" height="2.73" fill="none" stroke="#345" stroke-width="0.25"/>
<rect x="273.9" y="174.83" width="1.32" height="2.73" fill="none" stroke="#345" stroke-width="0.25"/>
<rect x="275.7" y="174.83" width="1.32" height="2.73" fill="none" stroke="#345" stroke-width="0.25"/>
<rect x="237.2" y="222" width="57" height="5.2" fill="#ea2430"/>
<text x="295" y="225.4" font-size="1.7" class="n" font-weight="bold">Risk</text>
<path d="M299.5 169.3L316.2 169.3" stroke="#333" stroke-width="0.25"/>
<text x="307.8" y="168.2" font-size="1.57" class="m">No. of samples</text>
<text x="299.5" y="168.6" font-size="1.34" class="m">0</text>
<text x="316.2" y="168.6" font-size="1.34" class="m">99</text>
<rect x="299.5" y="171.55" width="8.5" height="2.63" fill="#2f9e44"/>
<rect x="308" y="171.55" width="8.2" height="2.63" fill="#111"/>
<rect x="299.5" y="174.88" width="1.6" height="2.63" fill="#2a6ae0"/>
<rect x="301.1" y="174.88" width="10.4" height="2.63" fill="#2f9e44"/>
<rect x="311.5" y="174.88" width="3.5" height="2.63" fill="#e03a3a"/>
<rect x="299.5" y="178.22" width="7.4" height="2.63" fill="#2f9e44"/>
<rect x="306.9" y="178.22" width="2.3" height="2.63" fill="#111"/>
<rect x="299.5" y="181.55" width="6.9" height="2.63" fill="#2f9e44"/>
<rect x="306.4" y="181.55" width="2.3" height="2.63" fill="#111"/>
<rect x="299.5" y="184.88" width="1.6" height="2.63" fill="#2a6ae0"/>
<rect x="301.1" y="184.88" width="2.3" height="2.63" fill="#e03a3a"/>
<rect x="303.4" y="184.88" width="2.3" height="2.63" fill="#2f9e44"/>
<rect x="305.7" y="184.88" width="2.3" height="2.63" fill="#111"/>
<rect x="299.5" y="188.22" width="5.1" height="2.63" fill="#2f9e44"/>
<rect x="304.6" y="188.22" width="2.3" height="2.63" fill="#111"/>
<rect x="299.5" y="191.55" width="5" height="2.63" fill="#2f9e44"/>
<rect x="304.5" y="191.55" width="2" height="2.63" fill="#111"/>
<rect x="299.5" y="194.88" width="4.8" height="2.63" fill="#2f9e44"/>
<rect x="304.3" y="194.88" width="1.8" height="2.63" fill="#111"/>
<rect x="299.5" y="198.22" width="4.6" height="2.63" fill="#2f9e44"/>
<rect x="304.1" y="198.22" width="1.6" height="2.63" fill="#111"/>
<rect x="299.5" y="201.55" width="4.4" height="2.63" fill="#2f9e44"/>
<rect x="303.9" y="201.55" width="1.5" height="2.63" fill="#111"/>
<rect x="299.5" y="204.88" width="1" height="2.63" fill="#2a6ae0"/>
<rect x="300.5" y="204.88" width="3.4" height="2.63" fill="#2f9e44"/>
<rect x="303.9" y="204.88" width="1.4" height="2.63" fill="#111"/>
<rect x="299.5" y="208.22" width="4" height="2.63" fill="#2f9e44"/>
<rect x="303.5" y="208.22" width="1.4" height="2.63" fill="#111"/>
<rect x="299.5" y="211.55" width="1.2" height="2.63" fill="#2a6ae0"/>
<rect x="300.7" y="211.55" width="2.8" height="2.63" fill="#2f9e44"/>
<rect x="303.5" y="211.55" width="1.2" height="2.63" fill="#111"/>
<rect x="299.5" y="214.88" width="3.4" height="2.63" fill="#2f9e44"/>
<rect x="302.9" y="214.88" width="1.2" height="2.63" fill="#111"/>
<rect x="299.5" y="218.22" width="3" height="2.63" fill="#2f9e44"/>
<rect x="302.5" y="218.22" width="1.1" height="2.63" fill="#111"/>
<rect x="230" y="229.2" width="1.3" height="1.3" fill="#2f9e44"/>
<text x="231.9" y="230.5" font-size="1.65" class="n" font-weight="bold">Frame_Shift_Del</text>
<rect x="230" y="231.6" width="1.3" height="1.3" fill="#e03a3a"/>
<text x="231.9" y="232.9" font-size="1.65" class="n" font-weight="bold">Missense_Mutation</text>
<rect x="230" y="234" width="1.3" height="1.3" fill="#c9a46a"/>
<text x="231.9" y="235.3" font-size="1.65" class="n" font-weight="bold">Nonsense_Mutation</text>
<rect x="252" y="229.2" width="1.3" height="1.3" fill="#2a6ae0"/>
<text x="253.9" y="230.5" font-size="1.65" class="n" font-weight="bold">Frame_Shift_Ins</text>
<rect x="252" y="231.6" width="1.3" height="1.3" fill="#74c476"/>
<text x="253.9" y="232.9" font-size="1.65" class="n" font-weight="bold">In_Frame_Del</text>
<rect x="252" y="234" width="1.3" height="1.3" fill="#111"/>
<text x="253.9" y="235.3" font-size="1.65" class="n" font-weight="bold">Multi_Hit</text>
<text x="277" y="230.4" font-size="1.6" class="n" font-weight="bold">Risk</text>
<rect x="277" y="231.6" width="1.2" height="1.2" fill="#ea2430"/>
<text x="278.8" y="232.8" font-size="1.68">high</text>
<rect x="277" y="234" width="1.2" height="1.2" fill="#2a6ae0"/>
<text x="278.8" y="235.2" font-size="1.68">low</text>
<path d="M333.8 162.8L333.8 227.2" stroke="#222" stroke-width="0.4"/>
<path d="M333.8 227.2L418.4 227.2" stroke="#222" stroke-width="0.4"/>
<path d="M332.6 172.8L333.8 172.8" stroke="#222" stroke-width="0.3"/>
<text x="331.8" y="173.8" font-size="2.8" class="e">7.5</text>
<path d="M332.6 187.6L333.8 187.6" stroke="#222" stroke-width="0.3"/>
<text x="331.8" y="188.6" font-size="2.8" class="e">5.0</text>
<path d="M332.6 201.8L333.8 201.8" stroke="#222" stroke-width="0.3"/>
<text x="331.8" y="202.8" font-size="2.8" class="e">2.5</text>
<path d="M332.6 216.2L333.8 216.2" stroke="#222" stroke-width="0.3"/>
<text x="331.8" y="217.2" font-size="2.8" class="e">0.0</text>
<text x="325.8" y="194" font-size="3.9" class="m n" style="fill:#444;stroke:#444" transform="rotate(-90 325.8 194)">Tumor mutation burden (log2)</text>
<path d="M356.95,165.4 C356.89,166.45 356.75,169.58 356.58,171.7 C356.41,173.82 356.29,176.33 355.94,178.1 C355.59,179.87 355.1,181.07 354.5,182.3 C353.9,183.53 352.82,184.62 352.35,185.5 C351.88,186.38 351.7,186.72 351.7,187.6 C351.7,188.48 352,189.75 352.35,190.8 C352.7,191.85 353.53,192.85 353.8,193.9 C354.07,194.95 354.24,196.03 354,197.1 C353.76,198.17 353.27,199.42 352.35,200.3 C351.43,201.18 349.77,201.7 348.5,202.4 C347.23,203.1 345.57,203.8 344.7,204.5 C343.82,205.2 343.25,205.88 343.25,206.6 C343.25,207.32 343.82,208.08 344.7,208.8 C345.57,209.52 347.23,210.2 348.5,210.9 C349.77,211.6 351.28,212.12 352.35,213 C353.42,213.88 354.27,214.97 354.9,216.2 C355.53,217.43 355.81,219 356.15,220.4 C356.49,221.8 356.8,223.9 356.95,224.6 C357.1,225.3 356.9,225.3 357.05,224.6 C357.2,223.9 357.51,221.8 357.85,220.4 C358.19,219 358.47,217.43 359.1,216.2 C359.73,214.97 360.58,213.88 361.65,213 C362.72,212.12 364.23,211.6 365.5,210.9 C366.77,210.2 368.43,209.52 369.3,208.8 C370.18,208.08 370.75,207.32 370.75,206.6 C370.75,205.88 370.18,205.2 369.3,204.5 C368.43,203.8 366.77,203.1 365.5,202.4 C364.23,201.7 362.57,201.18 361.65,200.3 C360.73,199.42 360.24,198.17 360,197.1 C359.76,196.03 359.93,194.95 360.2,193.9 C360.47,192.85 361.3,191.85 361.65,190.8 C362,189.75 362.3,188.48 362.3,187.6 C362.3,186.72 362.12,186.38 361.65,185.5 C361.18,184.62 360.1,183.53 359.5,182.3 C358.9,181.07 358.41,179.87 358.06,178.1 C357.71,176.33 357.59,173.82 357.42,171.7 C357.25,169.58 357.11,166.45 357.05,165.4Z" fill="#1166ee" stroke="#111" stroke-width="0.3" />
<path d="M395.65,177 C395.55,177.88 395.27,180.53 395.07,182.3 C394.87,184.07 394.68,185.83 394.43,187.6 C394.19,189.37 393.89,191.32 393.6,192.9 C393.31,194.48 393.23,195.87 392.7,197.1 C392.17,198.33 391.67,199.42 390.4,200.3 C389.13,201.18 386.97,201.7 385.1,202.4 C383.23,203.1 380.6,203.8 379.2,204.5 C377.8,205.2 376.6,205.88 376.7,206.6 C376.8,207.32 378.33,208.08 379.8,208.8 C381.27,209.52 383.73,210.2 385.5,210.9 C387.27,211.6 389.12,212.3 390.4,213 C391.68,213.7 392.46,214.22 393.2,215.1 C393.94,215.98 394.44,217.42 394.85,218.3 C395.26,219.18 395.5,220.05 395.65,220.4 C395.8,220.75 395.6,220.75 395.75,220.4 C395.9,220.05 396.14,219.18 396.55,218.3 C396.96,217.42 397.46,215.98 398.2,215.1 C398.94,214.22 399.72,213.7 401,213 C402.28,212.3 404.13,211.6 405.9,210.9 C407.67,210.2 410.13,209.52 411.6,208.8 C413.07,208.08 414.6,207.32 414.7,206.6 C414.8,205.88 413.6,205.2 412.2,204.5 C410.8,203.8 408.17,203.1 406.3,202.4 C404.43,201.7 402.27,201.18 401,200.3 C399.73,199.42 399.23,198.33 398.7,197.1 C398.17,195.87 398.09,194.48 397.8,192.9 C397.51,191.32 397.21,189.37 396.97,187.6 C396.72,185.83 396.53,184.07 396.33,182.3 C396.13,180.53 395.85,177.88 395.75,177Z" fill="#ee1111" stroke="#111" stroke-width="0.3" />
<path d="M357 165.4L357 224.6" stroke="#111" stroke-width="0.3"/>
<path d="M395.7 177L395.7 220.4" stroke="#111" stroke-width="0.3"/>
<rect x="353.2" y="193.9" width="7.6" height="14.2" fill="#fff" stroke="#111" stroke-width="0.35"/>
<path d="M353.2 205.2L360.8 205.2" stroke="#111" stroke-width="0.7"/>
<rect x="391.9" y="203" width="7.6" height="6.4" fill="#fff" stroke="#111" stroke-width="0.35"/>
<path d="M391.9 206.2L399.5 206.2" stroke="#111" stroke-width="0.7"/>
<polyline points="357,173.2 357,172.2 395.7,172.2 395.7,173.2" fill="none" stroke="#222" stroke-width="0.3" />
<text x="376.3" y="171.3" font-size="2.9" class="m">0.0014</text>
<rect x="358.5" y="153.1" width="3.8" height="3.8" fill="#1166ee" stroke="#0a3a99" stroke-width="0.3"/>
<text x="363.4" y="156.1" font-size="2.9">Low-risk</text>
<rect x="378.2" y="153.1" width="3.8" height="3.8" fill="#ee1111" stroke="#880a0a" stroke-width="0.3"/>
<text x="383.1" y="156.1" font-size="2.9">High-risk</text>
<text x="357" y="231.6" font-size="2.9" class="m">Low-risk</text>
<text x="395.7" y="231.6" font-size="2.9" class="m">High-risk</text>
<path d="M357 227.2L357 228.4" stroke="#222" stroke-width="0.3"/>
<path d="M395.7 227.2L395.7 228.4" stroke="#222" stroke-width="0.3"/>
<path d="M433.5 152.1L433.5 223.5" stroke="#222" stroke-width="0.45"/>
<path d="M433.5 223.5L515 223.5" stroke="#222" stroke-width="0.45"/>
<path d="M432.3 154.2L433.5 154.2" stroke="#222" stroke-width="0.3"/>
<text x="431.6" y="155.2" font-size="2.9" class="e">1.00</text>
<path d="M432.3 171L433.5 171" stroke="#222" stroke-width="0.3"/>
<text x="431.6" y="172" font-size="2.9" class="e">0.75</text>
<path d="M432.3 187.7L433.5 187.7" stroke="#222" stroke-width="0.3"/>
<text x="431.6" y="188.7" font-size="2.9" class="e">0.50</text>
<path d="M432.3 204.6L433.5 204.6" stroke="#222" stroke-width="0.3"/>
<text x="431.6" y="205.6" font-size="2.9" class="e">0.25</text>
<path d="M432.3 221.3L433.5 221.3" stroke="#222" stroke-width="0.3"/>
<text x="431.6" y="222.3" font-size="2.9" class="e">0.00</text>
<path d="M436.7 223.5L436.7 224.7" stroke="#222" stroke-width="0.3"/>
<text x="436.7" y="227.8" font-size="2.9" class="m">0</text>
<path d="M444.32 223.5L444.32 224.7" stroke="#222" stroke-width="0.3"/>
<text x="444.32" y="227.8" font-size="2.9" class="m">1</text>
<path d="M451.94 223.5L451.94 224.7" stroke="#222" stroke-width="0.3"/>
<text x="451.94" y="227.8" font-size="2.9" class="m">2</text>
<path d="M459.56 223.5L459.56 224.7" stroke="#222" stroke-width="0.3"/>
<text x="459.56" y="227.8" font-size="2.9" class="m">3</text>
<path d="M467.18 223.5L467.18 224.7" stroke="#222" stroke-width="0.3"/>
<text x="467.18" y="227.8" font-size="2.9" class="m">4</text>
<path d="M474.8 223.5L474.8 224.7" stroke="#222" stroke-width="0.3"/>
<text x="474.8" y="227.8" font-size="2.9" class="m">5</text>
<path d="M482.42 223.5L482.42 224.7" stroke="#222" stroke-width="0.3"/>
<text x="482.42" y="227.8" font-size="2.9" class="m">6</text>
<path d="M490.04 223.5L490.04 224.7" stroke="#222" stroke-width="0.3"/>
<text x="490.04" y="227.8" font-size="2.9" class="m">7</text>
<path d="M497.66 223.5L497.66 224.7" stroke="#222" stroke-width="0.3"/>
<text x="497.66" y="227.8" font-size="2.9" class="m">8</text>
<path d="M505.28 223.5L505.28 224.7" stroke="#222" stroke-width="0.3"/>
<text x="505.28" y="227.8" font-size="2.9" class="m">9</text>
<path d="M512.9 223.5L512.9 224.7" stroke="#222" stroke-width="0.3"/>
<text x="512.9" y="227.8" font-size="2.9" class="m">10</text>
<text x="476.3" y="230.9" font-size="3.7" class="m n">Time(years)</text>
<text x="424.9" y="187.8" font-size="4.3" class="m n" style="fill:#333;stroke:#333" transform="rotate(-90 424.9 187.8)">Survival probability</text>
<path d="M436.7 187.7L481.2 187.7" stroke="#222" stroke-width="0.6" stroke-dasharray="1.1,0.9"/>
<path d="M448.5 187.7L448.5 223.5" stroke="#222" stroke-width="0.6" stroke-dasharray="1.1,0.9"/>
<path d="M471.5 187.7L471.5 223.5" stroke="#222" stroke-width="0.6" stroke-dasharray="1.1,0.9"/>
<path d="M480.2 187.7L480.2 223.5" stroke="#222" stroke-width="0.6" stroke-dasharray="1.1,0.9"/>
<path d="M436.7,154.2 H438.22 V155.59 H439.2 V156.5 H441.12 V160.34 H442.1 V162.3 H444.47 V167.04 H445 V168.1 H446.87 V170.46 H448.8 V172.9 H450.47 V175.08 H451.7 V176.7 H452.96 V177.64 H453.82 V178.27 H455.6 V179.6 H457.41 V180.5 H459.4 V181.5 H460.81 V181.71 H462.71 V181.99 H464.23 V182.21 H465.76 V182.44 H466.2 V182.5 H466.2 V187.3 H481.2 V187.3 H481.2 V200.8 H481.9 V200.8 H481.9 V210.4 H514.2 V210.4" fill="none" stroke="#52b848" stroke-width="0.8"/>
<path d="M436.7,154.2 H439.2 V154.2 H441.2 V156.5 H442.39 V158.32 H443.1 V159.4 H444.23 V160.53 H446 V162.3 H447.88 V163.3 H448.8 V163.8 H450.66 V165.09 H451.7 V165.8 H453.94 V167.58 H454.6 V168.1 H455.65 V169.15 H457.5 V171 H459.17 V172.1 H460.4 V172.9 H461.7 V174.61 H463.3 V176.7 H464.9 V177.03 H466.72 V177.41 H467.59 V177.59 H468.1 V177.7 H471.5 V177.7 H471.5 V188.3 H485.4 V188.3" fill="none" stroke="#1a50e0" stroke-width="0.9"/>
<path d="M436.7,154.2 H439.2 V160.4 H440.05 V163.51 H442.1 V171 H442.9 V173.66 H444.09 V177.57 H445 V180.6 H445.83 V182.62 H446.81 V185.04 H447.9 V187.7 H449.53 V190.73 H450.8 V193.1 H452.39 V194.96 H453.12 V195.82 H453.7 V196.5 H455.75 V198.07 H457.5 V199.4 H459.15 V200.18 H461.3 V201.2 H471.5 V201.2 H472.3 V206.5 H509.4 V206.5" fill="none" stroke="#3a2a88" stroke-width="0.8"/>
<path d="M436.7,154.2 H438.65 V158.26 H439.2 V159.4 H441.55 V167.99 H442.1 V170 H443.58 V174.9 H445 V179.6 H446.29 V183.47 H447.12 V185.96 H447.9 V188.3 H449.42 V191.29 H450.8 V194 H452.7 V196.16 H453.7 V197.3 H454.87 V198.07 H456.19 V198.94 H457.5 V199.8 H459.9 V200.43 H461.3 V200.8 H475 V200.8 H475 V199.8 H488.3 V199.8" fill="none" stroke="#ee2030" stroke-width="0.9"/>
<text x="438.6" y="209.4" font-size="3.9" class="n" style="stroke:#000;stroke-width:.1px">p&lt;0.001</text>
<path d="M489.2 160L492.7 160" stroke="#ee2030" stroke-width="0.8"/>
<text x="491" y="160.7" font-size="2.69" class="m" style="fill:#ee2030;stroke:#ee2030">+</text>
<text x="494" y="160.8" font-size="2.52">H-TMB+high risk</text>
<path d="M489.2 163.8L492.7 163.8" stroke="#1a50e0" stroke-width="0.8"/>
<text x="491" y="164.5" font-size="2.69" class="m" style="fill:#1a50e0;stroke:#1a50e0">+</text>
<text x="494" y="164.6" font-size="2.52">H-TMB+low risk</text>
<path d="M489.2 168.5L492.7 168.5" stroke="#3a2a88" stroke-width="0.8"/>
<text x="491" y="169.2" font-size="2.69" class="m" style="fill:#3a2a88;stroke:#3a2a88">+</text>
<text x="494" y="169.3" font-size="2.52">L-TMB+high risk</text>
<path d="M489.2 172.9L492.7 172.9" stroke="#52b848" stroke-width="0.8"/>
<text x="491" y="173.6" font-size="2.69" class="m" style="fill:#52b848;stroke:#52b848">+</text>
<text x="494" y="173.7" font-size="2.52">L-TMB+low risk</text>
</g>
<g id="panel_e">
<text x="-0.3" y="261.9" font-size="11" class="n" font-weight="bold">e</text>
<path d="M26.6 265.9L26.6 322.5" stroke="#222" stroke-width="0.4"/>
<path d="M26.6 322.5L129.4 322.5" stroke="#222" stroke-width="0.4"/>
<path d="M25.6 268L26.6 268" stroke="#222" stroke-width="0.3"/>
<text x="24.9" y="268.95" font-size="2.7" class="e">1.00</text>
<path d="M25.6 281L26.6 281" stroke="#222" stroke-width="0.3"/>
<text x="24.9" y="281.95" font-size="2.7" class="e">0.75</text>
<path d="M25.6 294.1L26.6 294.1" stroke="#222" stroke-width="0.3"/>
<text x="24.9" y="295.05" font-size="2.7" class="e">0.50</text>
<path d="M25.6 307.1L26.6 307.1" stroke="#222" stroke-width="0.3"/>
<text x="24.9" y="308.05" font-size="2.7" class="e">0.25</text>
<path d="M25.6 320.2L26.6 320.2" stroke="#222" stroke-width="0.3"/>
<text x="24.9" y="321.15" font-size="2.7" class="e">0.00</text>
<path d="M30.8 322.5L30.8 323.5" stroke="#222" stroke-width="0.3"/>
<text x="30.8" y="326.5" font-size="3.0" class="m">0</text>
<path d="M40.38 322.5L40.38 323.5" stroke="#222" stroke-width="0.3"/>
<text x="40.38" y="326.5" font-size="3.0" class="m">1</text>
<path d="M49.96 322.5L49.96 323.5" stroke="#222" stroke-width="0.3"/>
<text x="49.96" y="326.5" font-size="3.0" class="m">2</text>
<path d="M59.54 322.5L59.54 323.5" stroke="#222" stroke-width="0.3"/>
<text x="59.54" y="326.5" font-size="3.0" class="m">3</text>
<path d="M69.12 322.5L69.12 323.5" stroke="#222" stroke-width="0.3"/>
<text x="69.12" y="326.5" font-size="3.0" class="m">4</text>
<path d="M78.7 322.5L78.7 323.5" stroke="#222" stroke-width="0.3"/>
<text x="78.7" y="326.5" font-size="3.0" class="m">5</text>
<path d="M88.28 322.5L88.28 323.5" stroke="#222" stroke-width="0.3"/>
<text x="88.28" y="326.5" font-size="3.0" class="m">6</text>
<path d="M97.86 322.5L97.86 323.5" stroke="#222" stroke-width="0.3"/>
<text x="97.86" y="326.5" font-size="3.0" class="m">7</text>
<path d="M107.44 322.5L107.44 323.5" stroke="#222" stroke-width="0.3"/>
<text x="107.44" y="326.5" font-size="3.0" class="m">8</text>
<path d="M117.02 322.5L117.02 323.5" stroke="#222" stroke-width="0.3"/>
<text x="117.02" y="326.5" font-size="3.0" class="m">9</text>
<path d="M126.6 322.5L126.6 323.5" stroke="#222" stroke-width="0.3"/>
<text x="126.6" y="326.5" font-size="3.0" class="m">10</text>
<text x="78.3" y="331" font-size="3.6" class="m n">Time(years)</text>
<text x="10.4" y="294.6" font-size="3.9" class="m n" transform="rotate(-90 10.4 294.6)">Overall survival</text>
<path d="M30.8,268 H32.99 V272.14 H33.85 V273.76 H35.2 V276.3 H36.09 V278.07 H38.38 V282.61 H40.5 V286.8 H42.88 V289.78 H45.08 V292.53 H45.7 V293.3 H47.15 V294.28 H48.66 V295.3 H50.6 V296.62 H52.2 V297.7 H53.64 V298.08 H55.32 V298.53 H56.25 V298.78 H57.55 V299.12 H60.1 V299.8 H61.51 V300.18 H62.53 V300.45 H63.82 V300.8 H65.16 V301.16 H66.72 V301.58 H67.9 V301.9 H69.65 V302.11 H71.63 V302.35 H73.41 V302.57 H74.17 V302.66 H75.49 V302.82 H77 V303 H77 V306.4 H87.5 V306.4 H88.8 V312.9 H90.1 V312.9" fill="none" stroke="#e41a1c" stroke-width="1.2"/>
<path d="M30.8,268 H32.33 V268.82 H33.49 V269.44 H34.44 V269.94 H35.91 V270.73 H36.6 V271.1 H37.54 V272.16 H39.46 V274.31 H40.22 V275.16 H42.24 V277.43 H43.1 V278.4 H45.31 V280.82 H47.18 V282.86 H48.31 V284.1 H49.6 V285.5 H50.96 V286.31 H53.07 V287.58 H54.19 V288.25 H56.1 V289.4 H57.68 V289.62 H59.94 V289.94 H62.26 V290.27 H64.51 V290.59 H65.3 V290.7 H66.05 V290.74 H67.26 V290.81 H68.21 V290.86 H69.37 V290.92 H71.11 V291.02 H73.39 V291.14 H74.4 V291.2 H76.01 V292.6 H76.74 V293.24 H77.81 V294.18 H78.3 V294.6 H79.86 V294.91 H81.73 V295.28 H82.59 V295.45 H83.4 V295.6 H84.9 V295.9 H84.9 V300.4 H127.9 V300.4" fill="none" stroke="#1a1ad0" stroke-width="1.2"/>
<text x="32.6" y="311.2" font-size="4.4" class="n" style="stroke:#000;stroke-width:.1px">p&lt;0.001</text>
<text x="58.6" y="258.8" font-size="2.58">Risk</text>
<path d="M64.6 258L68 258" stroke="#e41a1c" stroke-width="0.7"/>
<text x="66.3" y="258.75" font-size="2.69" class="m" style="fill:#e41a1c;stroke:#e41a1c">+</text>
<text x="69.4" y="258.8" font-size="2.58">High risk</text>
<path d="M81.4 258L84.8 258" stroke="#1a1ad0" stroke-width="0.7"/>
<text x="83.1" y="258.75" font-size="2.69" class="m" style="fill:#1a1ad0;stroke:#1a1ad0">+</text>
<text x="86.2" y="258.8" font-size="2.58">Low risk</text>
<text x="25.8" y="343.7" font-size="2.58" class="e" style="fill:#e41a1c;stroke:#e41a1c">High risk</text>
<text x="25.8" y="347" font-size="2.58" class="e" style="fill:#1a1ad0;stroke:#1a1ad0">Low risk</text>
<text x="10.2" y="344.55" font-size="3.3" class="m" transform="rotate(-90 10.2 344.55)">Risk</text>
<path d="M26.6 340.7L26.6 348.3" stroke="#222" stroke-width="0.4"/>
<path d="M26.6 348.3L129.4 348.3" stroke="#222" stroke-width="0.4"/>
<text x="30.8" y="343.7" font-size="3.3" class="m" style="fill:#e41a1c;stroke:#e41a1c">183</text>
<text x="30.8" y="347" font-size="3.3" class="m" style="fill:#1a1ad0;stroke:#1a1ad0">189</text>
<path d="M30.8 348.3L30.8 349.3" stroke="#222" stroke-width="0.3"/>
<text x="30.8" y="352.5" font-size="3.0" class="m">0</text>
<text x="40.38" y="343.7" font-size="3.3" class="m" style="fill:#e41a1c;stroke:#e41a1c">103</text>
<text x="40.38" y="347" font-size="3.3" class="m" style="fill:#1a1ad0;stroke:#1a1ad0">134</text>
<path d="M40.38 348.3L40.38 349.3" stroke="#222" stroke-width="0.3"/>
<text x="40.38" y="352.5" font-size="3.0" class="m">1</text>
<text x="49.96" y="343.7" font-size="3.3" class="m" style="fill:#e41a1c;stroke:#e41a1c">37</text>
<text x="49.96" y="347" font-size="3.3" class="m" style="fill:#1a1ad0;stroke:#1a1ad0">65</text>
<path d="M49.96 348.3L49.96 349.3" stroke="#222" stroke-width="0.3"/>
<text x="49.96" y="352.5" font-size="3.0" class="m">2</text>
<text x="59.54" y="343.7" font-size="3.3" class="m" style="fill:#e41a1c;stroke:#e41a1c">21</text>
<text x="59.54" y="347" font-size="3.3" class="m" style="fill:#1a1ad0;stroke:#1a1ad0">24</text>
<path d="M59.54 348.3L59.54 349.3" stroke="#222" stroke-width="0.3"/>
<text x="59.54" y="352.5" font-size="3.0" class="m">3</text>
<text x="69.12" y="343.7" font-size="3.3" class="m" style="fill:#e41a1c;stroke:#e41a1c">7</text>
<text x="69.12" y="347" font-size="3.3" class="m" style="fill:#1a1ad0;stroke:#1a1ad0">14</text>
<path d="M69.12 348.3L69.12 349.3" stroke="#222" stroke-width="0.3"/>
<text x="69.12" y="352.5" font-size="3.0" class="m">4</text>
<text x="78.7" y="343.7" font-size="3.3" class="m" style="fill:#e41a1c;stroke:#e41a1c">3</text>
<text x="78.7" y="347" font-size="3.3" class="m" style="fill:#1a1ad0;stroke:#1a1ad0">10</text>
<path d="M78.7 348.3L78.7 349.3" stroke="#222" stroke-width="0.3"/>
<text x="78.7" y="352.5" font-size="3.0" class="m">5</text>
<text x="88.28" y="343.7" font-size="3.3" class="m" style="fill:#e41a1c;stroke:#e41a1c">2</text>
<text x="88.28" y="347" font-size="3.3" class="m" style="fill:#1a1ad0;stroke:#1a1ad0">4</text>
<path d="M88.28 348.3L88.28 349.3" stroke="#222" stroke-width="0.3"/>
<text x="88.28" y="352.5" font-size="3.0" class="m">6</text>
<text x="97.86" y="343.7" font-size="3.3" class="m" style="fill:#e41a1c;stroke:#e41a1c">0</text>
<text x="97.86" y="347" font-size="3.3" class="m" style="fill:#1a1ad0;stroke:#1a1ad0">3</text>
<path d="M97.86 348.3L97.86 349.3" stroke="#222" stroke-width="0.3"/>
<text x="97.86" y="352.5" font-size="3.0" class="m">7</text>
<text x="107.44" y="343.7" font-size="3.3" class="m" style="fill:#e41a1c;stroke:#e41a1c">0</text>
<text x="107.44" y="347" font-size="3.3" class="m" style="fill:#1a1ad0;stroke:#1a1ad0">3</text>
<path d="M107.44 348.3L107.44 349.3" stroke="#222" stroke-width="0.3"/>
<text x="107.44" y="352.5" font-size="3.0" class="m">8</text>
<text x="117.02" y="343.7" font-size="3.3" class="m" style="fill:#e41a1c;stroke:#e41a1c">0</text>
<text x="117.02" y="347" font-size="3.3" class="m" style="fill:#1a1ad0;stroke:#1a1ad0">3</text>
<path d="M117.02 348.3L117.02 349.3" stroke="#222" stroke-width="0.3"/>
<text x="117.02" y="352.5" font-size="3.0" class="m">9</text>
<text x="126.6" y="343.7" font-size="3.3" class="m" style="fill:#e41a1c;stroke:#e41a1c">0</text>
<text x="126.6" y="347" font-size="3.3" class="m" style="fill:#1a1ad0;stroke:#1a1ad0">1</text>
<path d="M126.6 348.3L126.6 349.3" stroke="#222" stroke-width="0.3"/>
<text x="126.6" y="352.5" font-size="3.0" class="m">10</text>
<text x="78.3" y="357.2" font-size="3.6" class="m n">Time(years)</text>
<path d="M26.6 370.4L26.6 428.7" stroke="#222" stroke-width="0.4"/>
<path d="M26.6 428.7L129.4 428.7" stroke="#222" stroke-width="0.4"/>
<path d="M25.6 373.6L26.6 373.6" stroke="#222" stroke-width="0.3"/>
<text x="24.9" y="374.55" font-size="2.7" class="e">1.00</text>
<path d="M25.6 386.9L26.6 386.9" stroke="#222" stroke-width="0.3"/>
<text x="24.9" y="387.85" font-size="2.7" class="e">0.75</text>
<path d="M25.6 400.2L26.6 400.2" stroke="#222" stroke-width="0.3"/>
<text x="24.9" y="401.15" font-size="2.7" class="e">0.50</text>
<path d="M25.6 413.5L26.6 413.5" stroke="#222" stroke-width="0.3"/>
<text x="24.9" y="414.45" font-size="2.7" class="e">0.25</text>
<path d="M25.6 426.8L26.6 426.8" stroke="#222" stroke-width="0.3"/>
<text x="24.9" y="427.75" font-size="2.7" class="e">0.00</text>
<path d="M30.8 428.7L30.8 429.7" stroke="#222" stroke-width="0.3"/>
<text x="30.8" y="432.9" font-size="2.8" class="m">0</text>
<path d="M34.68 428.7L34.68 429.7" stroke="#222" stroke-width="0.3"/>
<text x="34.68" y="432.9" font-size="2.8" class="m">1</text>
<path d="M38.57 428.7L38.57 429.7" stroke="#222" stroke-width="0.3"/>
<text x="38.57" y="432.9" font-size="2.8" class="m">2</text>
<path d="M42.45 428.7L42.45 429.7" stroke="#222" stroke-width="0.3"/>
<text x="42.45" y="432.9" font-size="2.8" class="m">3</text>
<path d="M46.34 428.7L46.34 429.7" stroke="#222" stroke-width="0.3"/>
<text x="46.34" y="432.9" font-size="2.8" class="m">4</text>
<path d="M50.22 428.7L50.22 429.7" stroke="#222" stroke-width="0.3"/>
<text x="50.22" y="432.9" font-size="2.8" class="m">5</text>
<path d="M54.1 428.7L54.1 429.7" stroke="#222" stroke-width="0.3"/>
<text x="54.1" y="432.9" font-size="2.8" class="m">6</text>
<path d="M57.99 428.7L57.99 429.7" stroke="#222" stroke-width="0.3"/>
<text x="57.99" y="432.9" font-size="2.8" class="m">7</text>
<path d="M61.87 428.7L61.87 429.7" stroke="#222" stroke-width="0.3"/>
<text x="61.87" y="432.9" font-size="2.8" class="m">8</text>
<path d="M65.76 428.7L65.76 429.7" stroke="#222" stroke-width="0.3"/>
<text x="65.76" y="432.9" font-size="2.8" class="m">9</text>
<path d="M69.64 428.7L69.64 429.7" stroke="#222" stroke-width="0.3"/>
<text x="69.64" y="432.9" font-size="2.8" class="m">10</text>
<path d="M73.52 428.7L73.52 429.7" stroke="#222" stroke-width="0.3"/>
<text x="73.52" y="432.9" font-size="2.8" class="m">11</text>
<path d="M77.41 428.7L77.41 429.7" stroke="#222" stroke-width="0.3"/>
<text x="77.41" y="432.9" font-size="2.8" class="m">12</text>
<path d="M81.29 428.7L81.29 429.7" stroke="#222" stroke-width="0.3"/>
<text x="81.29" y="432.9" font-size="2.8" class="m">13</text>
<path d="M85.18 428.7L85.18 429.7" stroke="#222" stroke-width="0.3"/>
<text x="85.18" y="432.9" font-size="2.8" class="m">14</text>
<path d="M89.06 428.7L89.06 429.7" stroke="#222" stroke-width="0.3"/>
<text x="89.06" y="432.9" font-size="2.8" class="m">15</text>
<path d="M92.94 428.7L92.94 429.7" stroke="#222" stroke-width="0.3"/>
<text x="92.94" y="432.9" font-size="2.8" class="m">16</text>
<path d="M96.83 428.7L96.83 429.7" stroke="#222" stroke-width="0.3"/>
<text x="96.83" y="432.9" font-size="2.8" class="m">17</text>
<path d="M100.71 428.7L100.71 429.7" stroke="#222" stroke-width="0.3"/>
<text x="100.71" y="432.9" font-size="2.8" class="m">18</text>
<path d="M104.6 428.7L104.6 429.7" stroke="#222" stroke-width="0.3"/>
<text x="104.6" y="432.9" font-size="2.8" class="m">19</text>
<path d="M108.48 428.7L108.48 429.7" stroke="#222" stroke-width="0.3"/>
<text x="108.48" y="432.9" font-size="2.8" class="m">20</text>
<path d="M112.36 428.7L112.36 429.7" stroke="#222" stroke-width="0.3"/>
<text x="112.36" y="432.9" font-size="2.8" class="m">21</text>
<path d="M116.25 428.7L116.25 429.7" stroke="#222" stroke-width="0.3"/>
<text x="116.25" y="432.9" font-size="2.8" class="m">22</text>
<path d="M120.13 428.7L120.13 429.7" stroke="#222" stroke-width="0.3"/>
<text x="120.13" y="432.9" font-size="2.8" class="m">23</text>
<path d="M124.02 428.7L124.02 429.7" stroke="#222" stroke-width="0.3"/>
<text x="124.02" y="432.9" font-size="2.8" class="m">24</text>
<path d="M127.9 428.7L127.9 429.7" stroke="#222" stroke-width="0.3"/>
<text x="127.9" y="432.9" font-size="2.8" class="m">25</text>
<text x="78.3" y="437.6" font-size="3.6" class="m n">Time(years)</text>
<text x="10.4" y="399.2" font-size="3.9" class="m n" transform="rotate(-90 10.4 399.2)">Progression free survival</text>
<path d="M30.8,373.6 H33.15 V375.28 H34.12 V375.97 H35.61 V377.03 H36.43 V377.62 H37.65 V378.49 H38.59 V379.17 H39.2 V379.6 H41.02 V380.9 H43.31 V382.53 H45.2 V383.88 H45.95 V384.42 H47.8 V385.74 H48.3 V386.1 H50.33 V386.91 H51.55 V387.39 H53.12 V388.01 H54.34 V388.5 H56.1 V389.2 H58.06 V390.04 H59.48 V390.66 H60.55 V391.12 H61.54 V391.54 H62.58 V391.99 H64 V392.6 H64.78 V393.02 H66.2 V393.78 H67.9 V394.7 H70.15 V394.82 H71 V394.87 H72.25 V394.94 H73.09 V394.99 H73.8 V395.02 H74.62 V395.07 H75.65 V395.13 H77 V395.2 H77.76 V398.58 H78.3 V401 H107 V401" fill="none" stroke="#e41a1c" stroke-width="1.2"/>
<path d="M30.8,373.6 H31.52 V373.96 H33.26 V374.83 H34.13 V375.27 H35.75 V376.07 H36.45 V376.42 H38.07 V377.23 H39.2 V377.8 H40.01 V378.12 H41.67 V378.78 H43.1 V379.34 H43.85 V379.64 H45.57 V380.32 H46.38 V380.64 H48.3 V381.4 H50 V381.57 H51.5 V381.73 H53.16 V381.9 H53.99 V381.98 H55.12 V382.1 H56.1 V382.2 H57.53 V382.91 H59.73 V383.99 H60.96 V384.6 H62.23 V385.23 H64 V386.1 H64.95 V386.48 H66.42 V387.07 H68.09 V387.74 H69.68 V388.37 H70.5 V388.7 H71.57 V389.5 H73.16 V390.69 H75.7 V392.6 H77.05 V393.98 H78.52 V395.49 H79.6 V396.6 H82 V397.19 H84.21 V397.73 H84.9 V397.9 H84.9 V403.1 H122.7 V403.1" fill="none" stroke="#1a1ad0" stroke-width="1.2"/>
<text x="32.6" y="417" font-size="4.4" class="n" style="stroke:#000;stroke-width:.1px">p=0.015</text>
<text x="58.6" y="364.5" font-size="2.58">Risk</text>
<path d="M64.6 363.7L68 363.7" stroke="#e41a1c" stroke-width="0.7"/>
<text x="66.3" y="364.45" font-size="2.69" class="m" style="fill:#e41a1c;stroke:#e41a1c">+</text>
<text x="69.4" y="364.5" font-size="2.58">High risk</text>
<path d="M81.4 363.7L84.8 363.7" stroke="#1a1ad0" stroke-width="0.7"/>
<text x="83.1" y="364.45" font-size="2.69" class="m" style="fill:#1a1ad0;stroke:#1a1ad0">+</text>
<text x="86.2" y="364.5" font-size="2.58">Low risk</text>
<text x="25.8" y="449.6" font-size="2.58" class="e" style="fill:#e41a1c;stroke:#e41a1c">High risk</text>
<text x="25.8" y="453.5" font-size="2.58" class="e" style="fill:#1a1ad0;stroke:#1a1ad0">Low risk</text>
<text x="10.2" y="450.75" font-size="3.3" class="m" transform="rotate(-90 10.2 450.75)">Risk</text>
<path d="M26.6 446.6L26.6 455.3" stroke="#222" stroke-width="0.4"/>
<path d="M26.6 455.3L129.4 455.3" stroke="#222" stroke-width="0.4"/>
<text x="30.8" y="449.6" font-size="3.0" class="m" style="fill:#e41a1c;stroke:#e41a1c">183</text>
<text x="30.8" y="453.5" font-size="3.0" class="m" style="fill:#1a1ad0;stroke:#1a1ad0">189</text>
<path d="M30.8 455.3L30.8 456.3" stroke="#222" stroke-width="0.3"/>
<text x="30.8" y="460.3" font-size="2.8" class="m">0</text>
<text x="34.68" y="449.6" font-size="3.0" class="m" style="fill:#e41a1c;stroke:#e41a1c">160</text>
<text x="34.68" y="453.5" font-size="3.0" class="m" style="fill:#1a1ad0;stroke:#1a1ad0">172</text>
<path d="M34.68 455.3L34.68 456.3" stroke="#222" stroke-width="0.3"/>
<text x="34.68" y="460.3" font-size="2.8" class="m">1</text>
<text x="38.57" y="449.6" font-size="3.0" class="m" style="fill:#e41a1c;stroke:#e41a1c">141</text>
<text x="38.57" y="453.5" font-size="3.0" class="m" style="fill:#1a1ad0;stroke:#1a1ad0">159</text>
<path d="M38.57 455.3L38.57 456.3" stroke="#222" stroke-width="0.3"/>
<text x="38.57" y="460.3" font-size="2.8" class="m">2</text>
<text x="42.45" y="449.6" font-size="3.0" class="m" style="fill:#e41a1c;stroke:#e41a1c">118</text>
<text x="42.45" y="453.5" font-size="3.0" class="m" style="fill:#1a1ad0;stroke:#1a1ad0">138</text>
<path d="M42.45 455.3L42.45 456.3" stroke="#222" stroke-width="0.3"/>
<text x="42.45" y="460.3" font-size="2.8" class="m">3</text>
<text x="46.34" y="449.6" font-size="3.0" class="m" style="fill:#e41a1c;stroke:#e41a1c">87</text>
<text x="46.34" y="453.5" font-size="3.0" class="m" style="fill:#1a1ad0;stroke:#1a1ad0">116</text>
<path d="M46.34 455.3L46.34 456.3" stroke="#222" stroke-width="0.3"/>
<text x="46.34" y="460.3" font-size="2.8" class="m">4</text>
<text x="50.22" y="449.6" font-size="3.0" class="m" style="fill:#e41a1c;stroke:#e41a1c">70</text>
<text x="50.22" y="453.5" font-size="3.0" class="m" style="fill:#1a1ad0;stroke:#1a1ad0">95</text>
<path d="M50.22 455.3L50.22 456.3" stroke="#222" stroke-width="0.3"/>
<text x="50.22" y="460.3" font-size="2.8" class="m">5</text>
<text x="54.1" y="449.6" font-size="3.0" class="m" style="fill:#e41a1c;stroke:#e41a1c">58</text>
<text x="54.1" y="453.5" font-size="3.0" class="m" style="fill:#1a1ad0;stroke:#1a1ad0">77</text>
<path d="M54.1 455.3L54.1 456.3" stroke="#222" stroke-width="0.3"/>
<text x="54.1" y="460.3" font-size="2.8" class="m">6</text>
<text x="57.99" y="449.6" font-size="3.0" class="m" style="fill:#e41a1c;stroke:#e41a1c">42</text>
<text x="57.99" y="453.5" font-size="3.0" class="m" style="fill:#1a1ad0;stroke:#1a1ad0">61</text>
<path d="M57.99 455.3L57.99 456.3" stroke="#222" stroke-width="0.3"/>
<text x="57.99" y="460.3" font-size="2.8" class="m">7</text>
<text x="61.87" y="449.6" font-size="3.0" class="m" style="fill:#e41a1c;stroke:#e41a1c">31</text>
<text x="61.87" y="453.5" font-size="3.0" class="m" style="fill:#1a1ad0;stroke:#1a1ad0">44</text>
<path d="M61.87 455.3L61.87 456.3" stroke="#222" stroke-width="0.3"/>
<text x="61.87" y="460.3" font-size="2.8" class="m">8</text>
<text x="65.76" y="449.6" font-size="3.0" class="m" style="fill:#e41a1c;stroke:#e41a1c">22</text>
<text x="65.76" y="453.5" font-size="3.0" class="m" style="fill:#1a1ad0;stroke:#1a1ad0">32</text>
<path d="M65.76 455.3L65.76 456.3" stroke="#222" stroke-width="0.3"/>
<text x="65.76" y="460.3" font-size="2.8" class="m">9</text>
<text x="69.64" y="449.6" font-size="3.0" class="m" style="fill:#e41a1c;stroke:#e41a1c">15</text>
<text x="69.64" y="453.5" font-size="3.0" class="m" style="fill:#1a1ad0;stroke:#1a1ad0">27</text>
<path d="M69.64 455.3L69.64 456.3" stroke="#222" stroke-width="0.3"/>
<text x="69.64" y="460.3" font-size="2.8" class="m">10</text>
<text x="73.52" y="449.6" font-size="3.0" class="m" style="fill:#e41a1c;stroke:#e41a1c">12</text>
<text x="73.52" y="453.5" font-size="3.0" class="m" style="fill:#1a1ad0;stroke:#1a1ad0">19</text>
<path d="M73.52 455.3L73.52 456.3" stroke="#222" stroke-width="0.3"/>
<text x="73.52" y="460.3" font-size="2.8" class="m">11</text>
<text x="77.41" y="449.6" font-size="3.0" class="m" style="fill:#e41a1c;stroke:#e41a1c">6</text>
<text x="77.41" y="453.5" font-size="3.0" class="m" style="fill:#1a1ad0;stroke:#1a1ad0">14</text>
<path d="M77.41 455.3L77.41 456.3" stroke="#222" stroke-width="0.3"/>
<text x="77.41" y="460.3" font-size="2.8" class="m">12</text>
<text x="81.29" y="449.6" font-size="3.0" class="m" style="fill:#e41a1c;stroke:#e41a1c">5</text>
<text x="81.29" y="453.5" font-size="3.0" class="m" style="fill:#1a1ad0;stroke:#1a1ad0">5</text>
<path d="M81.29 455.3L81.29 456.3" stroke="#222" stroke-width="0.3"/>
<text x="81.29" y="460.3" font-size="2.8" class="m">13</text>
<text x="85.18" y="449.6" font-size="3.0" class="m" style="fill:#e41a1c;stroke:#e41a1c">4</text>
<text x="85.18" y="453.5" font-size="3.0" class="m" style="fill:#1a1ad0;stroke:#1a1ad0">5</text>
<path d="M85.18 455.3L85.18 456.3" stroke="#222" stroke-width="0.3"/>
<text x="85.18" y="460.3" font-size="2.8" class="m">14</text>
<text x="89.06" y="449.6" font-size="3.0" class="m" style="fill:#e41a1c;stroke:#e41a1c">1</text>
<text x="89.06" y="453.5" font-size="3.0" class="m" style="fill:#1a1ad0;stroke:#1a1ad0">5</text>
<path d="M89.06 455.3L89.06 456.3" stroke="#222" stroke-width="0.3"/>
<text x="89.06" y="460.3" font-size="2.8" class="m">15</text>
<text x="92.94" y="449.6" font-size="3.0" class="m" style="fill:#e41a1c;stroke:#e41a1c">1</text>
<text x="92.94" y="453.5" font-size="3.0" class="m" style="fill:#1a1ad0;stroke:#1a1ad0">3</text>
<path d="M92.94 455.3L92.94 456.3" stroke="#222" stroke-width="0.3"/>
<text x="92.94" y="460.3" font-size="2.8" class="m">16</text>
<text x="96.83" y="449.6" font-size="3.0" class="m" style="fill:#e41a1c;stroke:#e41a1c">1</text>
<text x="96.83" y="453.5" font-size="3.0" class="m" style="fill:#1a1ad0;stroke:#1a1ad0">3</text>
<path d="M96.83 455.3L96.83 456.3" stroke="#222" stroke-width="0.3"/>
<text x="96.83" y="460.3" font-size="2.8" class="m">17</text>
<text x="100.71" y="449.6" font-size="3.0" class="m" style="fill:#e41a1c;stroke:#e41a1c">1</text>
<text x="100.71" y="453.5" font-size="3.0" class="m" style="fill:#1a1ad0;stroke:#1a1ad0">3</text>
<path d="M100.71 455.3L100.71 456.3" stroke="#222" stroke-width="0.3"/>
<text x="100.71" y="460.3" font-size="2.8" class="m">18</text>
<text x="104.6" y="449.6" font-size="3.0" class="m" style="fill:#e41a1c;stroke:#e41a1c">1</text>
<text x="104.6" y="453.5" font-size="3.0" class="m" style="fill:#1a1ad0;stroke:#1a1ad0">3</text>
<path d="M104.6 455.3L104.6 456.3" stroke="#222" stroke-width="0.3"/>
<text x="104.6" y="460.3" font-size="2.8" class="m">19</text>
<text x="108.48" y="449.6" font-size="3.0" class="m" style="fill:#e41a1c;stroke:#e41a1c">1</text>
<text x="108.48" y="453.5" font-size="3.0" class="m" style="fill:#1a1ad0;stroke:#1a1ad0">3</text>
<path d="M108.48 455.3L108.48 456.3" stroke="#222" stroke-width="0.3"/>
<text x="108.48" y="460.3" font-size="2.8" class="m">20</text>
<text x="112.36" y="449.6" font-size="3.0" class="m" style="fill:#e41a1c;stroke:#e41a1c">0</text>
<text x="112.36" y="453.5" font-size="3.0" class="m" style="fill:#1a1ad0;stroke:#1a1ad0">3</text>
<path d="M112.36 455.3L112.36 456.3" stroke="#222" stroke-width="0.3"/>
<text x="112.36" y="460.3" font-size="2.8" class="m">21</text>
<text x="116.25" y="449.6" font-size="3.0" class="m" style="fill:#e41a1c;stroke:#e41a1c">0</text>
<text x="116.25" y="453.5" font-size="3.0" class="m" style="fill:#1a1ad0;stroke:#1a1ad0">2</text>
<path d="M116.25 455.3L116.25 456.3" stroke="#222" stroke-width="0.3"/>
<text x="116.25" y="460.3" font-size="2.8" class="m">22</text>
<text x="120.13" y="449.6" font-size="3.0" class="m" style="fill:#e41a1c;stroke:#e41a1c">0</text>
<text x="120.13" y="453.5" font-size="3.0" class="m" style="fill:#1a1ad0;stroke:#1a1ad0">1</text>
<path d="M120.13 455.3L120.13 456.3" stroke="#222" stroke-width="0.3"/>
<text x="120.13" y="460.3" font-size="2.8" class="m">23</text>
<text x="124.02" y="449.6" font-size="3.0" class="m" style="fill:#e41a1c;stroke:#e41a1c">0</text>
<text x="124.02" y="453.5" font-size="3.0" class="m" style="fill:#1a1ad0;stroke:#1a1ad0">0</text>
<path d="M124.02 455.3L124.02 456.3" stroke="#222" stroke-width="0.3"/>
<text x="124.02" y="460.3" font-size="2.8" class="m">24</text>
<text x="127.9" y="449.6" font-size="3.0" class="m" style="fill:#e41a1c;stroke:#e41a1c">0</text>
<text x="127.9" y="453.5" font-size="3.0" class="m" style="fill:#1a1ad0;stroke:#1a1ad0">0</text>
<path d="M127.9 455.3L127.9 456.3" stroke="#222" stroke-width="0.3"/>
<text x="127.9" y="460.3" font-size="2.8" class="m">25</text>
<text x="78.3" y="465" font-size="3.6" class="m n">Time(years)</text>
<rect x="134.5" y="257" width="46.8" height="2.3" fill="#2233dd"/>
<rect x="181.3" y="257" width="54.2" height="2.3" fill="#ee2233"/>
<path d="M134.5 260h0.77v11.75h-0.77zM146.04 260h0.77v11.75h-0.77zM157.59 260h0.77v11.75h-0.77zM159.03 260h0.77v11.75h-0.77zM179.23 260h0.77v11.75h-0.77zM138.11 271.75h0.77v11.75h-0.77zM143.16 271.75h0.77v11.75h-0.77zM148.93 271.75h0.77v11.75h-0.77zM149.65 271.75h0.77v11.75h-0.77zM164.08 271.75h0.77v11.75h-0.77zM166.96 271.75h0.77v11.75h-0.77zM188.61 271.75h0.77v11.75h-0.77zM224.68 271.75h0.77v11.75h-0.77zM134.5 283.5h0.77v11.75h-0.77zM135.22 283.5h0.77v11.75h-0.77zM138.11 283.5h0.77v11.75h-0.77zM139.55 283.5h0.77v11.75h-0.77zM140.99 283.5h0.77v11.75h-0.77zM143.16 283.5h0.77v11.75h-0.77zM148.93 283.5h0.77v11.75h-0.77zM142.44 295.25h0.77v11.75h-0.77zM145.32 295.25h0.77v11.75h-0.77zM209.53 295.25h0.77v11.75h-0.77zM214.58 295.25h0.77v11.75h-0.77zM223.24 295.25h0.77v11.75h-0.77zM231.17 295.25h0.77v11.75h-0.77zM143.16 307h0.77v11.75h-0.77zM147.49 307h0.77v11.75h-0.77zM156.86 307h0.77v11.75h-0.77zM159.75 307h0.77v11.75h-0.77zM170.57 307h0.77v11.75h-0.77z" fill="#918ff0"/>
<path d="M135.22 260h0.77v11.75h-0.77zM151.09 260h0.77v11.75h-0.77zM164.08 260h0.77v11.75h-0.77zM165.52 260h0.77v11.75h-0.77zM170.57 260h0.77v11.75h-0.77zM178.51 260h0.77v11.75h-0.77zM151.81 271.75h0.77v11.75h-0.77zM174.18 271.75h0.77v11.75h-0.77zM141.71 283.5h0.77v11.75h-0.77zM151.09 283.5h0.77v11.75h-0.77zM153.98 283.5h0.77v11.75h-0.77zM159.75 283.5h0.77v11.75h-0.77zM164.8 295.25h0.77v11.75h-0.77zM191.49 295.25h0.77v11.75h-0.77zM224.68 295.25h0.77v11.75h-0.77zM226.12 295.25h0.77v11.75h-0.77zM230.45 295.25h0.77v11.75h-0.77z" fill="#7c7aee"/>
<path d="M135.94 260h0.77v11.75h-0.77zM137.39 260h0.77v11.75h-0.77zM138.11 260h0.77v11.75h-0.77zM150.37 260h0.77v11.75h-0.77zM166.96 260h0.77v11.75h-0.77zM172.01 260h0.77v11.75h-0.77zM174.9 260h0.77v11.75h-0.77zM188.61 260h0.77v11.75h-0.77zM197.26 260h0.77v11.75h-0.77zM200.15 260h0.77v11.75h-0.77zM204.48 260h0.77v11.75h-0.77zM210.97 260h0.77v11.75h-0.77zM134.5 271.75h0.77v11.75h-0.77zM135.22 271.75h0.77v11.75h-0.77zM135.94 271.75h0.77v11.75h-0.77zM139.55 271.75h0.77v11.75h-0.77zM146.76 271.75h0.77v11.75h-0.77zM147.49 271.75h0.77v11.75h-0.77zM153.98 271.75h0.77v11.75h-0.77zM156.14 271.75h0.77v11.75h-0.77zM158.31 271.75h0.77v11.75h-0.77zM159.03 271.75h0.77v11.75h-0.77zM159.75 271.75h0.77v11.75h-0.77zM180.67 271.75h0.77v11.75h-0.77zM192.94 271.75h0.77v11.75h-0.77zM215.3 271.75h0.77v11.75h-0.77zM221.79 271.75h0.77v11.75h-0.77zM136.66 283.5h0.77v11.75h-0.77zM137.39 283.5h0.77v11.75h-0.77zM142.44 283.5h0.77v11.75h-0.77zM143.88 283.5h0.77v11.75h-0.77zM147.49 283.5h0.77v11.75h-0.77zM149.65 283.5h0.77v11.75h-0.77zM154.7 283.5h0.77v11.75h-0.77zM156.86 283.5h0.77v11.75h-0.77zM157.59 283.5h0.77v11.75h-0.77zM159.03 283.5h0.77v11.75h-0.77zM162.64 283.5h0.77v11.75h-0.77zM163.36 283.5h0.77v11.75h-0.77zM166.96 283.5h0.77v11.75h-0.77zM174.18 283.5h0.77v11.75h-0.77zM177.79 283.5h0.77v11.75h-0.77zM166.24 295.25h0.77v11.75h-0.77zM182.11 295.25h0.77v11.75h-0.77zM182.84 295.25h0.77v11.75h-0.77zM184.28 295.25h0.77v11.75h-0.77zM194.38 295.25h0.77v11.75h-0.77zM197.26 295.25h0.77v11.75h-0.77zM197.99 295.25h0.77v11.75h-0.77zM208.09 295.25h0.77v11.75h-0.77zM211.69 295.25h0.77v11.75h-0.77zM216.74 295.25h0.77v11.75h-0.77zM217.46 295.25h0.77v11.75h-0.77zM223.96 295.25h0.77v11.75h-0.77zM227.56 295.25h0.77v11.75h-0.77zM228.29 295.25h0.77v11.75h-0.77zM139.55 307h0.77v11.75h-0.77zM140.99 307h0.77v11.75h-0.77zM146.76 307h0.77v11.75h-0.77zM151.09 307h0.77v11.75h-0.77zM151.81 307h0.77v11.75h-0.77zM159.03 307h0.77v11.75h-0.77zM160.47 307h0.77v11.75h-0.77zM162.64 307h0.77v11.75h-0.77zM163.36 307h0.77v11.75h-0.77zM169.13 307h0.77v11.75h-0.77zM172.01 307h0.77v11.75h-0.77zM172.74 307h0.77v11.75h-0.77zM174.18 307h0.77v11.75h-0.77zM176.34 307h0.77v11.75h-0.77zM178.51 307h0.77v11.75h-0.77zM203.04 307h0.77v11.75h-0.77zM136.66 318.75h0.77v11.75h-0.77zM140.99 318.75h0.77v11.75h-0.77zM146.04 318.75h0.77v11.75h-0.77zM151.09 318.75h0.77v11.75h-0.77zM172.01 318.75h0.77v11.75h-0.77z" fill="#bbb8f4"/>
<path d="M136.66 260h0.77v11.75h-0.77zM145.32 271.75h0.77v11.75h-0.77zM161.19 283.5h0.77v11.75h-0.77zM190.05 295.25h0.77v11.75h-0.77zM229.01 295.25h0.77v11.75h-0.77zM234.78 295.25h0.77v11.75h-0.77zM175.62 307h0.77v11.75h-0.77z" fill="#6766ec"/>
<path d="M138.83 260h0.77v11.75h-0.77zM143.16 260h0.77v11.75h-0.77zM143.88 260h0.77v11.75h-0.77zM172.74 260h0.77v11.75h-0.77zM184.28 260h0.77v11.75h-0.77zM203.04 260h0.77v11.75h-0.77zM203.76 260h0.77v11.75h-0.77zM206.64 260h0.77v11.75h-0.77zM213.86 260h0.77v11.75h-0.77zM217.46 260h0.77v11.75h-0.77zM223.24 260h0.77v11.75h-0.77zM137.39 271.75h0.77v11.75h-0.77zM142.44 271.75h0.77v11.75h-0.77zM144.6 271.75h0.77v11.75h-0.77zM162.64 271.75h0.77v11.75h-0.77zM163.36 271.75h0.77v11.75h-0.77zM168.41 271.75h0.77v11.75h-0.77zM170.57 271.75h0.77v11.75h-0.77zM172.01 271.75h0.77v11.75h-0.77zM174.9 271.75h0.77v11.75h-0.77zM186.44 271.75h0.77v11.75h-0.77zM194.38 271.75h0.77v11.75h-0.77zM195.1 271.75h0.77v11.75h-0.77zM195.82 271.75h0.77v11.75h-0.77zM197.26 271.75h0.77v11.75h-0.77zM208.09 271.75h0.77v11.75h-0.77zM148.21 283.5h0.77v11.75h-0.77zM151.81 283.5h0.77v11.75h-0.77zM152.54 283.5h0.77v11.75h-0.77zM160.47 283.5h0.77v11.75h-0.77zM164.08 283.5h0.77v11.75h-0.77zM167.69 283.5h0.77v11.75h-0.77zM170.57 283.5h0.77v11.75h-0.77zM171.29 283.5h0.77v11.75h-0.77zM175.62 283.5h0.77v11.75h-0.77zM180.67 283.5h0.77v11.75h-0.77zM192.94 283.5h0.77v11.75h-0.77zM197.99 283.5h0.77v11.75h-0.77zM211.69 283.5h0.77v11.75h-0.77zM212.41 283.5h0.77v11.75h-0.77zM223.24 283.5h0.77v11.75h-0.77zM154.7 295.25h0.77v11.75h-0.77zM174.18 295.25h0.77v11.75h-0.77zM179.23 295.25h0.77v11.75h-0.77zM186.44 295.25h0.77v11.75h-0.77zM187.16 295.25h0.77v11.75h-0.77zM195.82 295.25h0.77v11.75h-0.77zM199.43 295.25h0.77v11.75h-0.77zM200.87 295.25h0.77v11.75h-0.77zM208.81 295.25h0.77v11.75h-0.77zM213.14 295.25h0.77v11.75h-0.77zM216.02 295.25h0.77v11.75h-0.77zM136.66 307h0.77v11.75h-0.77zM137.39 307h0.77v11.75h-0.77zM145.32 307h0.77v11.75h-0.77zM153.98 307h0.77v11.75h-0.77zM158.31 307h0.77v11.75h-0.77zM166.96 307h0.77v11.75h-0.77zM167.69 307h0.77v11.75h-0.77zM171.29 307h0.77v11.75h-0.77zM174.9 307h0.77v11.75h-0.77zM197.26 307h0.77v11.75h-0.77zM215.3 307h0.77v11.75h-0.77zM217.46 307h0.77v11.75h-0.77zM223.96 307h0.77v11.75h-0.77zM224.68 307h0.77v11.75h-0.77zM225.4 307h0.77v11.75h-0.77zM135.94 318.75h0.77v11.75h-0.77zM137.39 318.75h0.77v11.75h-0.77zM140.27 318.75h0.77v11.75h-0.77zM144.6 318.75h0.77v11.75h-0.77zM148.93 318.75h0.77v11.75h-0.77zM153.26 318.75h0.77v11.75h-0.77zM154.7 318.75h0.77v11.75h-0.77zM156.14 318.75h0.77v11.75h-0.77zM158.31 318.75h0.77v11.75h-0.77zM159.75 318.75h0.77v11.75h-0.77zM160.47 318.75h0.77v11.75h-0.77zM162.64 318.75h0.77v11.75h-0.77zM163.36 318.75h0.77v11.75h-0.77zM169.13 318.75h0.77v11.75h-0.77zM173.46 318.75h0.77v11.75h-0.77zM174.18 318.75h0.77v11.75h-0.77zM174.9 318.75h0.77v11.75h-0.77zM177.79 318.75h0.77v11.75h-0.77zM180.67 318.75h0.77v11.75h-0.77zM182.84 318.75h0.77v11.75h-0.77zM187.16 318.75h0.77v11.75h-0.77zM187.89 318.75h0.77v11.75h-0.77zM190.05 318.75h0.77v11.75h-0.77zM194.38 318.75h0.77v11.75h-0.77zM196.54 318.75h0.77v11.75h-0.77zM197.99 318.75h0.77v11.75h-0.77zM198.71 318.75h0.77v11.75h-0.77zM200.15 318.75h0.77v11.75h-0.77zM202.31 318.75h0.77v11.75h-0.77zM203.04 318.75h0.77v11.75h-0.77zM209.53 318.75h0.77v11.75h-0.77zM210.97 318.75h0.77v11.75h-0.77zM213.14 318.75h0.77v11.75h-0.77zM219.63 318.75h0.77v11.75h-0.77zM226.12 318.75h0.77v11.75h-0.77zM231.17 318.75h0.77v11.75h-0.77z" fill="#faf6fa"/>
<path d="M139.55 260h0.77v11.75h-0.77zM140.99 260h0.77v11.75h-0.77zM148.21 260h0.77v11.75h-0.77zM148.93 260h0.77v11.75h-0.77zM151.81 260h0.77v11.75h-0.77zM152.54 260h0.77v11.75h-0.77zM158.31 260h0.77v11.75h-0.77zM160.47 260h0.77v11.75h-0.77zM168.41 260h0.77v11.75h-0.77zM169.13 260h0.77v11.75h-0.77zM169.85 260h0.77v11.75h-0.77zM175.62 260h0.77v11.75h-0.77zM176.34 260h0.77v11.75h-0.77zM177.06 260h0.77v11.75h-0.77zM180.67 260h0.77v11.75h-0.77zM185.72 260h0.77v11.75h-0.77zM199.43 260h0.77v11.75h-0.77zM205.92 260h0.77v11.75h-0.77zM140.27 271.75h0.77v11.75h-0.77zM141.71 271.75h0.77v11.75h-0.77zM143.88 271.75h0.77v11.75h-0.77zM154.7 271.75h0.77v11.75h-0.77zM155.42 271.75h0.77v11.75h-0.77zM161.19 271.75h0.77v11.75h-0.77zM164.8 271.75h0.77v11.75h-0.77zM173.46 271.75h0.77v11.75h-0.77zM176.34 271.75h0.77v11.75h-0.77zM177.79 271.75h0.77v11.75h-0.77zM178.51 271.75h0.77v11.75h-0.77zM198.71 271.75h0.77v11.75h-0.77zM220.35 271.75h0.77v11.75h-0.77zM140.27 283.5h0.77v11.75h-0.77zM153.26 283.5h0.77v11.75h-0.77zM156.14 283.5h0.77v11.75h-0.77zM164.8 283.5h0.77v11.75h-0.77zM166.24 283.5h0.77v11.75h-0.77zM168.41 283.5h0.77v11.75h-0.77zM172.01 283.5h0.77v11.75h-0.77zM176.34 283.5h0.77v11.75h-0.77zM177.06 283.5h0.77v11.75h-0.77zM185.72 283.5h0.77v11.75h-0.77zM192.21 283.5h0.77v11.75h-0.77zM205.2 283.5h0.77v11.75h-0.77zM205.92 283.5h0.77v11.75h-0.77zM213.14 283.5h0.77v11.75h-0.77zM230.45 283.5h0.77v11.75h-0.77zM160.47 295.25h0.77v11.75h-0.77zM169.13 295.25h0.77v11.75h-0.77zM180.67 295.25h0.77v11.75h-0.77zM181.39 295.25h0.77v11.75h-0.77zM192.21 295.25h0.77v11.75h-0.77zM200.15 295.25h0.77v11.75h-0.77zM205.92 295.25h0.77v11.75h-0.77zM206.64 295.25h0.77v11.75h-0.77zM213.86 295.25h0.77v11.75h-0.77zM141.71 307h0.77v11.75h-0.77zM146.04 307h0.77v11.75h-0.77zM149.65 307h0.77v11.75h-0.77zM152.54 307h0.77v11.75h-0.77zM161.19 307h0.77v11.75h-0.77zM161.91 307h0.77v11.75h-0.77zM164.08 307h0.77v11.75h-0.77zM166.24 307h0.77v11.75h-0.77zM182.11 307h0.77v11.75h-0.77zM183.56 307h0.77v11.75h-0.77zM186.44 307h0.77v11.75h-0.77zM187.16 307h0.77v11.75h-0.77zM207.36 307h0.77v11.75h-0.77zM209.53 307h0.77v11.75h-0.77zM216.74 307h0.77v11.75h-0.77zM135.22 318.75h0.77v11.75h-0.77zM138.11 318.75h0.77v11.75h-0.77zM138.83 318.75h0.77v11.75h-0.77zM139.55 318.75h0.77v11.75h-0.77zM141.71 318.75h0.77v11.75h-0.77zM145.32 318.75h0.77v11.75h-0.77zM152.54 318.75h0.77v11.75h-0.77zM153.98 318.75h0.77v11.75h-0.77zM166.96 318.75h0.77v11.75h-0.77zM167.69 318.75h0.77v11.75h-0.77zM176.34 318.75h0.77v11.75h-0.77zM205.2 318.75h0.77v11.75h-0.77zM213.86 318.75h0.77v11.75h-0.77zM233.34 318.75h0.77v11.75h-0.77z" fill="#d0cdf6"/>
<path d="M140.27 260h0.77v11.75h-0.77zM144.6 260h0.77v11.75h-0.77zM163.36 260h0.77v11.75h-0.77zM166.24 260h0.77v11.75h-0.77zM183.56 260h0.77v11.75h-0.77zM190.77 260h0.77v11.75h-0.77zM192.94 260h0.77v11.75h-0.77zM205.2 260h0.77v11.75h-0.77zM208.81 260h0.77v11.75h-0.77zM211.69 260h0.77v11.75h-0.77zM214.58 260h0.77v11.75h-0.77zM216.02 260h0.77v11.75h-0.77zM216.74 260h0.77v11.75h-0.77zM225.4 260h0.77v11.75h-0.77zM190.77 271.75h0.77v11.75h-0.77zM192.21 271.75h0.77v11.75h-0.77zM193.66 271.75h0.77v11.75h-0.77zM197.99 271.75h0.77v11.75h-0.77zM199.43 271.75h0.77v11.75h-0.77zM214.58 271.75h0.77v11.75h-0.77zM218.19 271.75h0.77v11.75h-0.77zM225.4 271.75h0.77v11.75h-0.77zM226.12 271.75h0.77v11.75h-0.77zM231.89 271.75h0.77v11.75h-0.77zM146.04 283.5h0.77v11.75h-0.77zM198.71 283.5h0.77v11.75h-0.77zM206.64 283.5h0.77v11.75h-0.77zM210.97 283.5h0.77v11.75h-0.77zM221.07 283.5h0.77v11.75h-0.77zM223.96 283.5h0.77v11.75h-0.77zM147.49 295.25h0.77v11.75h-0.77zM150.37 295.25h0.77v11.75h-0.77zM151.81 295.25h0.77v11.75h-0.77zM152.54 295.25h0.77v11.75h-0.77zM153.26 295.25h0.77v11.75h-0.77zM162.64 295.25h0.77v11.75h-0.77zM163.36 295.25h0.77v11.75h-0.77zM171.29 295.25h0.77v11.75h-0.77zM175.62 295.25h0.77v11.75h-0.77zM179.95 295.25h0.77v11.75h-0.77zM135.94 307h0.77v11.75h-0.77zM138.83 307h0.77v11.75h-0.77zM154.7 307h0.77v11.75h-0.77zM169.85 307h0.77v11.75h-0.77zM187.89 307h0.77v11.75h-0.77zM196.54 307h0.77v11.75h-0.77zM212.41 307h0.77v11.75h-0.77zM214.58 307h0.77v11.75h-0.77zM220.35 307h0.77v11.75h-0.77zM228.29 307h0.77v11.75h-0.77zM143.88 318.75h0.77v11.75h-0.77zM164.8 318.75h0.77v11.75h-0.77zM210.25 318.75h0.77v11.75h-0.77zM214.58 318.75h0.77v11.75h-0.77zM216.02 318.75h0.77v11.75h-0.77zM223.96 318.75h0.77v11.75h-0.77zM224.68 318.75h0.77v11.75h-0.77zM228.29 318.75h0.77v11.75h-0.77zM234.06 318.75h0.77v11.75h-0.77zM234.78 318.75h0.77v11.75h-0.77z" fill="#f6b8bb"/>
<path d="M141.71 260h0.77v11.75h-0.77zM142.44 260h0.77v11.75h-0.77zM145.32 260h0.77v11.75h-0.77zM146.76 260h0.77v11.75h-0.77zM153.98 260h0.77v11.75h-0.77zM159.75 260h0.77v11.75h-0.77zM161.91 260h0.77v11.75h-0.77zM164.8 260h0.77v11.75h-0.77zM167.69 260h0.77v11.75h-0.77zM179.95 260h0.77v11.75h-0.77zM215.3 260h0.77v11.75h-0.77zM221.79 260h0.77v11.75h-0.77zM136.66 271.75h0.77v11.75h-0.77zM150.37 271.75h0.77v11.75h-0.77zM157.59 271.75h0.77v11.75h-0.77zM169.13 271.75h0.77v11.75h-0.77zM169.85 271.75h0.77v11.75h-0.77zM208.81 271.75h0.77v11.75h-0.77zM228.29 271.75h0.77v11.75h-0.77zM145.32 283.5h0.77v11.75h-0.77zM169.13 283.5h0.77v11.75h-0.77zM174.9 283.5h0.77v11.75h-0.77zM218.19 283.5h0.77v11.75h-0.77zM168.41 295.25h0.77v11.75h-0.77zM192.94 295.25h0.77v11.75h-0.77zM201.59 295.25h0.77v11.75h-0.77zM203.04 295.25h0.77v11.75h-0.77zM205.2 295.25h0.77v11.75h-0.77zM207.36 295.25h0.77v11.75h-0.77zM218.19 295.25h0.77v11.75h-0.77zM222.51 295.25h0.77v11.75h-0.77zM225.4 295.25h0.77v11.75h-0.77zM229.73 295.25h0.77v11.75h-0.77zM135.22 307h0.77v11.75h-0.77zM138.11 307h0.77v11.75h-0.77zM140.27 307h0.77v11.75h-0.77zM143.88 307h0.77v11.75h-0.77zM144.6 307h0.77v11.75h-0.77zM148.93 307h0.77v11.75h-0.77zM153.26 307h0.77v11.75h-0.77zM155.42 307h0.77v11.75h-0.77zM173.46 307h0.77v11.75h-0.77zM184.28 307h0.77v11.75h-0.77zM202.31 307h0.77v11.75h-0.77zM210.97 307h0.77v11.75h-0.77zM231.17 307h0.77v11.75h-0.77zM231.89 307h0.77v11.75h-0.77z" fill="#a6a4f2"/>
<path d="M147.49 260h0.77v11.75h-0.77zM162.64 260h0.77v11.75h-0.77zM182.84 260h0.77v11.75h-0.77zM187.89 260h0.77v11.75h-0.77zM189.33 260h0.77v11.75h-0.77zM195.82 260h0.77v11.75h-0.77zM197.99 260h0.77v11.75h-0.77zM209.53 260h0.77v11.75h-0.77zM213.14 260h0.77v11.75h-0.77zM218.91 260h0.77v11.75h-0.77zM138.83 271.75h0.77v11.75h-0.77zM140.99 271.75h0.77v11.75h-0.77zM146.04 271.75h0.77v11.75h-0.77zM148.21 271.75h0.77v11.75h-0.77zM156.86 271.75h0.77v11.75h-0.77zM165.52 271.75h0.77v11.75h-0.77zM167.69 271.75h0.77v11.75h-0.77zM179.95 271.75h0.77v11.75h-0.77zM181.39 271.75h0.77v11.75h-0.77zM183.56 271.75h0.77v11.75h-0.77zM185 271.75h0.77v11.75h-0.77zM187.89 271.75h0.77v11.75h-0.77zM204.48 271.75h0.77v11.75h-0.77zM205.2 271.75h0.77v11.75h-0.77zM205.92 271.75h0.77v11.75h-0.77zM206.64 271.75h0.77v11.75h-0.77zM209.53 271.75h0.77v11.75h-0.77zM210.25 271.75h0.77v11.75h-0.77zM210.97 271.75h0.77v11.75h-0.77zM212.41 271.75h0.77v11.75h-0.77zM213.86 271.75h0.77v11.75h-0.77zM216.02 271.75h0.77v11.75h-0.77zM218.91 271.75h0.77v11.75h-0.77zM138.83 283.5h0.77v11.75h-0.77zM146.76 283.5h0.77v11.75h-0.77zM172.74 283.5h0.77v11.75h-0.77zM179.95 283.5h0.77v11.75h-0.77zM186.44 283.5h0.77v11.75h-0.77zM189.33 283.5h0.77v11.75h-0.77zM191.49 283.5h0.77v11.75h-0.77zM193.66 283.5h0.77v11.75h-0.77zM199.43 283.5h0.77v11.75h-0.77zM200.87 283.5h0.77v11.75h-0.77zM208.09 283.5h0.77v11.75h-0.77zM208.81 283.5h0.77v11.75h-0.77zM215.3 283.5h0.77v11.75h-0.77zM217.46 283.5h0.77v11.75h-0.77zM220.35 283.5h0.77v11.75h-0.77zM226.84 283.5h0.77v11.75h-0.77zM146.04 295.25h0.77v11.75h-0.77zM165.52 295.25h0.77v11.75h-0.77zM166.96 295.25h0.77v11.75h-0.77zM170.57 295.25h0.77v11.75h-0.77zM172.74 295.25h0.77v11.75h-0.77zM183.56 295.25h0.77v11.75h-0.77zM185 295.25h0.77v11.75h-0.77zM187.89 295.25h0.77v11.75h-0.77zM203.76 295.25h0.77v11.75h-0.77zM218.91 295.25h0.77v11.75h-0.77zM221.07 295.25h0.77v11.75h-0.77zM142.44 307h0.77v11.75h-0.77zM156.14 307h0.77v11.75h-0.77zM164.8 307h0.77v11.75h-0.77zM179.95 307h0.77v11.75h-0.77zM181.39 307h0.77v11.75h-0.77zM190.77 307h0.77v11.75h-0.77zM192.94 307h0.77v11.75h-0.77zM193.66 307h0.77v11.75h-0.77zM200.15 307h0.77v11.75h-0.77zM203.76 307h0.77v11.75h-0.77zM208.81 307h0.77v11.75h-0.77zM218.19 307h0.77v11.75h-0.77zM218.91 307h0.77v11.75h-0.77zM143.16 318.75h0.77v11.75h-0.77zM149.65 318.75h0.77v11.75h-0.77zM157.59 318.75h0.77v11.75h-0.77zM164.08 318.75h0.77v11.75h-0.77zM165.52 318.75h0.77v11.75h-0.77zM170.57 318.75h0.77v11.75h-0.77zM175.62 318.75h0.77v11.75h-0.77zM179.23 318.75h0.77v11.75h-0.77zM182.11 318.75h0.77v11.75h-0.77zM183.56 318.75h0.77v11.75h-0.77zM185 318.75h0.77v11.75h-0.77zM185.72 318.75h0.77v11.75h-0.77zM186.44 318.75h0.77v11.75h-0.77zM188.61 318.75h0.77v11.75h-0.77zM189.33 318.75h0.77v11.75h-0.77zM192.21 318.75h0.77v11.75h-0.77zM192.94 318.75h0.77v11.75h-0.77zM195.1 318.75h0.77v11.75h-0.77zM195.82 318.75h0.77v11.75h-0.77zM197.26 318.75h0.77v11.75h-0.77zM199.43 318.75h0.77v11.75h-0.77zM201.59 318.75h0.77v11.75h-0.77zM203.76 318.75h0.77v11.75h-0.77zM204.48 318.75h0.77v11.75h-0.77zM205.92 318.75h0.77v11.75h-0.77zM207.36 318.75h0.77v11.75h-0.77zM216.74 318.75h0.77v11.75h-0.77zM217.46 318.75h0.77v11.75h-0.77zM218.91 318.75h0.77v11.75h-0.77zM220.35 318.75h0.77v11.75h-0.77zM221.07 318.75h0.77v11.75h-0.77zM221.79 318.75h0.77v11.75h-0.77zM225.4 318.75h0.77v11.75h-0.77zM229.01 318.75h0.77v11.75h-0.77zM232.61 318.75h0.77v11.75h-0.77z" fill="#f8e1e5"/>
<path d="M149.65 260h0.77v11.75h-0.77zM155.42 260h0.77v11.75h-0.77zM171.29 260h0.77v11.75h-0.77zM174.18 260h0.77v11.75h-0.77zM181.39 260h0.77v11.75h-0.77zM182.11 260h0.77v11.75h-0.77zM187.16 260h0.77v11.75h-0.77zM193.66 260h0.77v11.75h-0.77zM194.38 260h0.77v11.75h-0.77zM196.54 260h0.77v11.75h-0.77zM201.59 260h0.77v11.75h-0.77zM202.31 260h0.77v11.75h-0.77zM212.41 260h0.77v11.75h-0.77zM220.35 260h0.77v11.75h-0.77zM222.51 260h0.77v11.75h-0.77zM166.24 271.75h0.77v11.75h-0.77zM171.29 271.75h0.77v11.75h-0.77zM177.06 271.75h0.77v11.75h-0.77zM179.23 271.75h0.77v11.75h-0.77zM190.05 271.75h0.77v11.75h-0.77zM191.49 271.75h0.77v11.75h-0.77zM196.54 271.75h0.77v11.75h-0.77zM200.15 271.75h0.77v11.75h-0.77zM202.31 271.75h0.77v11.75h-0.77zM203.76 271.75h0.77v11.75h-0.77zM216.74 271.75h0.77v11.75h-0.77zM217.46 271.75h0.77v11.75h-0.77zM223.96 271.75h0.77v11.75h-0.77zM227.56 271.75h0.77v11.75h-0.77zM135.94 283.5h0.77v11.75h-0.77zM165.52 283.5h0.77v11.75h-0.77zM178.51 283.5h0.77v11.75h-0.77zM183.56 283.5h0.77v11.75h-0.77zM185 283.5h0.77v11.75h-0.77zM194.38 283.5h0.77v11.75h-0.77zM196.54 283.5h0.77v11.75h-0.77zM197.26 283.5h0.77v11.75h-0.77zM203.04 283.5h0.77v11.75h-0.77zM203.76 283.5h0.77v11.75h-0.77zM209.53 283.5h0.77v11.75h-0.77zM219.63 283.5h0.77v11.75h-0.77zM221.79 283.5h0.77v11.75h-0.77zM222.51 283.5h0.77v11.75h-0.77zM227.56 283.5h0.77v11.75h-0.77zM156.14 295.25h0.77v11.75h-0.77zM159.03 295.25h0.77v11.75h-0.77zM174.9 295.25h0.77v11.75h-0.77zM177.06 295.25h0.77v11.75h-0.77zM177.79 295.25h0.77v11.75h-0.77zM188.61 295.25h0.77v11.75h-0.77zM219.63 295.25h0.77v11.75h-0.77zM134.5 307h0.77v11.75h-0.77zM165.52 307h0.77v11.75h-0.77zM177.79 307h0.77v11.75h-0.77zM179.23 307h0.77v11.75h-0.77zM182.84 307h0.77v11.75h-0.77zM185 307h0.77v11.75h-0.77zM189.33 307h0.77v11.75h-0.77zM191.49 307h0.77v11.75h-0.77zM192.21 307h0.77v11.75h-0.77zM195.82 307h0.77v11.75h-0.77zM197.99 307h0.77v11.75h-0.77zM199.43 307h0.77v11.75h-0.77zM200.87 307h0.77v11.75h-0.77zM201.59 307h0.77v11.75h-0.77zM206.64 307h0.77v11.75h-0.77zM210.25 307h0.77v11.75h-0.77zM211.69 307h0.77v11.75h-0.77zM147.49 318.75h0.77v11.75h-0.77zM148.21 318.75h0.77v11.75h-0.77zM155.42 318.75h0.77v11.75h-0.77zM161.91 318.75h0.77v11.75h-0.77zM177.06 318.75h0.77v11.75h-0.77zM190.77 318.75h0.77v11.75h-0.77zM191.49 318.75h0.77v11.75h-0.77zM206.64 318.75h0.77v11.75h-0.77zM208.09 318.75h0.77v11.75h-0.77zM208.81 318.75h0.77v11.75h-0.77zM211.69 318.75h0.77v11.75h-0.77zM212.41 318.75h0.77v11.75h-0.77zM215.3 318.75h0.77v11.75h-0.77zM218.19 318.75h0.77v11.75h-0.77zM222.51 318.75h0.77v11.75h-0.77zM223.24 318.75h0.77v11.75h-0.77zM226.84 318.75h0.77v11.75h-0.77zM227.56 318.75h0.77v11.75h-0.77zM229.73 318.75h0.77v11.75h-0.77zM230.45 318.75h0.77v11.75h-0.77zM231.89 318.75h0.77v11.75h-0.77z" fill="#f7cdd0"/>
<path d="M153.26 260h0.77v11.75h-0.77zM156.86 260h0.77v11.75h-0.77zM161.19 260h0.77v11.75h-0.77zM173.46 260h0.77v11.75h-0.77zM177.79 260h0.77v11.75h-0.77zM186.44 260h0.77v11.75h-0.77zM195.1 260h0.77v11.75h-0.77zM200.87 260h0.77v11.75h-0.77zM207.36 260h0.77v11.75h-0.77zM151.09 271.75h0.77v11.75h-0.77zM152.54 271.75h0.77v11.75h-0.77zM153.26 271.75h0.77v11.75h-0.77zM160.47 271.75h0.77v11.75h-0.77zM161.91 271.75h0.77v11.75h-0.77zM175.62 271.75h0.77v11.75h-0.77zM182.11 271.75h0.77v11.75h-0.77zM182.84 271.75h0.77v11.75h-0.77zM187.16 271.75h0.77v11.75h-0.77zM144.6 283.5h0.77v11.75h-0.77zM150.37 283.5h0.77v11.75h-0.77zM158.31 283.5h0.77v11.75h-0.77zM169.85 283.5h0.77v11.75h-0.77zM173.46 283.5h0.77v11.75h-0.77zM179.23 283.5h0.77v11.75h-0.77zM181.39 283.5h0.77v11.75h-0.77zM190.05 283.5h0.77v11.75h-0.77zM195.82 283.5h0.77v11.75h-0.77zM202.31 283.5h0.77v11.75h-0.77zM134.5 295.25h0.77v11.75h-0.77zM151.09 295.25h0.77v11.75h-0.77zM161.91 295.25h0.77v11.75h-0.77zM173.46 295.25h0.77v11.75h-0.77zM185.72 295.25h0.77v11.75h-0.77zM189.33 295.25h0.77v11.75h-0.77zM190.77 295.25h0.77v11.75h-0.77zM193.66 295.25h0.77v11.75h-0.77zM195.1 295.25h0.77v11.75h-0.77zM196.54 295.25h0.77v11.75h-0.77zM202.31 295.25h0.77v11.75h-0.77zM204.48 295.25h0.77v11.75h-0.77zM210.25 295.25h0.77v11.75h-0.77zM212.41 295.25h0.77v11.75h-0.77zM215.3 295.25h0.77v11.75h-0.77zM220.35 295.25h0.77v11.75h-0.77zM221.79 295.25h0.77v11.75h-0.77zM226.84 295.25h0.77v11.75h-0.77zM148.21 307h0.77v11.75h-0.77zM150.37 307h0.77v11.75h-0.77zM157.59 307h0.77v11.75h-0.77zM168.41 307h0.77v11.75h-0.77zM177.06 307h0.77v11.75h-0.77zM185.72 307h0.77v11.75h-0.77zM188.61 307h0.77v11.75h-0.77zM194.38 307h0.77v11.75h-0.77zM205.2 307h0.77v11.75h-0.77zM213.14 307h0.77v11.75h-0.77zM222.51 307h0.77v11.75h-0.77zM134.5 318.75h0.77v11.75h-0.77zM142.44 318.75h0.77v11.75h-0.77zM146.76 318.75h0.77v11.75h-0.77zM150.37 318.75h0.77v11.75h-0.77zM151.81 318.75h0.77v11.75h-0.77zM156.86 318.75h0.77v11.75h-0.77zM159.03 318.75h0.77v11.75h-0.77zM161.19 318.75h0.77v11.75h-0.77zM166.24 318.75h0.77v11.75h-0.77zM168.41 318.75h0.77v11.75h-0.77zM169.85 318.75h0.77v11.75h-0.77zM171.29 318.75h0.77v11.75h-0.77zM172.74 318.75h0.77v11.75h-0.77zM178.51 318.75h0.77v11.75h-0.77zM179.95 318.75h0.77v11.75h-0.77zM181.39 318.75h0.77v11.75h-0.77zM184.28 318.75h0.77v11.75h-0.77zM193.66 318.75h0.77v11.75h-0.77zM200.87 318.75h0.77v11.75h-0.77z" fill="#e5e1f8"/>
<path d="M154.7 260h0.77v11.75h-0.77zM161.91 283.5h0.77v11.75h-0.77zM231.89 295.25h0.77v11.75h-0.77zM232.61 295.25h0.77v11.75h-0.77z" fill="#5251ea"/>
<path d="M156.14 260h0.77v11.75h-0.77zM192.21 260h0.77v11.75h-0.77zM208.09 260h0.77v11.75h-0.77zM218.19 260h0.77v11.75h-0.77zM219.63 260h0.77v11.75h-0.77zM223.96 260h0.77v11.75h-0.77zM226.84 260h0.77v11.75h-0.77zM231.89 260h0.77v11.75h-0.77zM172.74 271.75h0.77v11.75h-0.77zM189.33 271.75h0.77v11.75h-0.77zM201.59 271.75h0.77v11.75h-0.77zM211.69 271.75h0.77v11.75h-0.77zM213.14 271.75h0.77v11.75h-0.77zM222.51 271.75h0.77v11.75h-0.77zM226.84 271.75h0.77v11.75h-0.77zM229.73 271.75h0.77v11.75h-0.77zM231.17 271.75h0.77v11.75h-0.77zM234.06 271.75h0.77v11.75h-0.77zM182.11 283.5h0.77v11.75h-0.77zM210.25 283.5h0.77v11.75h-0.77zM214.58 283.5h0.77v11.75h-0.77zM216.74 283.5h0.77v11.75h-0.77zM225.4 283.5h0.77v11.75h-0.77zM228.29 283.5h0.77v11.75h-0.77zM231.89 283.5h0.77v11.75h-0.77zM233.34 283.5h0.77v11.75h-0.77zM234.78 283.5h0.77v11.75h-0.77zM138.83 295.25h0.77v11.75h-0.77zM143.16 295.25h0.77v11.75h-0.77zM143.88 295.25h0.77v11.75h-0.77zM146.76 295.25h0.77v11.75h-0.77zM148.21 295.25h0.77v11.75h-0.77zM148.93 295.25h0.77v11.75h-0.77zM153.98 295.25h0.77v11.75h-0.77zM158.31 295.25h0.77v11.75h-0.77zM159.75 295.25h0.77v11.75h-0.77zM167.69 295.25h0.77v11.75h-0.77zM169.85 295.25h0.77v11.75h-0.77zM210.97 295.25h0.77v11.75h-0.77zM234.06 295.25h0.77v11.75h-0.77zM208.09 307h0.77v11.75h-0.77zM213.86 307h0.77v11.75h-0.77zM221.07 307h0.77v11.75h-0.77zM234.06 307h0.77v11.75h-0.77zM234.78 307h0.77v11.75h-0.77z" fill="#f28f91"/>
<path d="M185 260h0.77v11.75h-0.77zM198.71 260h0.77v11.75h-0.77zM227.56 260h0.77v11.75h-0.77zM229.73 260h0.77v11.75h-0.77zM229.01 271.75h0.77v11.75h-0.77zM234.78 271.75h0.77v11.75h-0.77zM187.89 283.5h0.77v11.75h-0.77zM190.77 283.5h0.77v11.75h-0.77zM201.59 283.5h0.77v11.75h-0.77zM213.86 283.5h0.77v11.75h-0.77zM232.61 283.5h0.77v11.75h-0.77zM135.22 295.25h0.77v11.75h-0.77zM135.94 295.25h0.77v11.75h-0.77zM136.66 295.25h0.77v11.75h-0.77zM139.55 295.25h0.77v11.75h-0.77zM141.71 295.25h0.77v11.75h-0.77zM161.19 295.25h0.77v11.75h-0.77zM198.71 295.25h0.77v11.75h-0.77zM205.92 307h0.77v11.75h-0.77zM223.24 307h0.77v11.75h-0.77z" fill="#f17a7c"/>
<path d="M190.05 260h0.77v11.75h-0.77zM191.49 260h0.77v11.75h-0.77zM210.25 260h0.77v11.75h-0.77zM224.68 260h0.77v11.75h-0.77zM226.12 260h0.77v11.75h-0.77zM228.29 260h0.77v11.75h-0.77zM230.45 260h0.77v11.75h-0.77zM231.17 260h0.77v11.75h-0.77zM232.61 260h0.77v11.75h-0.77zM184.28 271.75h0.77v11.75h-0.77zM185.72 271.75h0.77v11.75h-0.77zM200.87 271.75h0.77v11.75h-0.77zM203.04 271.75h0.77v11.75h-0.77zM207.36 271.75h0.77v11.75h-0.77zM219.63 271.75h0.77v11.75h-0.77zM221.07 271.75h0.77v11.75h-0.77zM223.24 271.75h0.77v11.75h-0.77zM230.45 271.75h0.77v11.75h-0.77zM155.42 283.5h0.77v11.75h-0.77zM182.84 283.5h0.77v11.75h-0.77zM184.28 283.5h0.77v11.75h-0.77zM187.16 283.5h0.77v11.75h-0.77zM188.61 283.5h0.77v11.75h-0.77zM195.1 283.5h0.77v11.75h-0.77zM200.15 283.5h0.77v11.75h-0.77zM204.48 283.5h0.77v11.75h-0.77zM207.36 283.5h0.77v11.75h-0.77zM216.02 283.5h0.77v11.75h-0.77zM224.68 283.5h0.77v11.75h-0.77zM229.01 283.5h0.77v11.75h-0.77zM229.73 283.5h0.77v11.75h-0.77zM234.06 283.5h0.77v11.75h-0.77zM144.6 295.25h0.77v11.75h-0.77zM149.65 295.25h0.77v11.75h-0.77zM155.42 295.25h0.77v11.75h-0.77zM156.86 295.25h0.77v11.75h-0.77zM157.59 295.25h0.77v11.75h-0.77zM164.08 295.25h0.77v11.75h-0.77zM172.01 295.25h0.77v11.75h-0.77zM178.51 295.25h0.77v11.75h-0.77zM190.05 307h0.77v11.75h-0.77zM195.1 307h0.77v11.75h-0.77zM198.71 307h0.77v11.75h-0.77zM204.48 307h0.77v11.75h-0.77zM219.63 307h0.77v11.75h-0.77zM221.79 307h0.77v11.75h-0.77zM226.12 307h0.77v11.75h-0.77zM226.84 307h0.77v11.75h-0.77zM227.56 307h0.77v11.75h-0.77zM229.01 307h0.77v11.75h-0.77zM230.45 307h0.77v11.75h-0.77zM232.61 307h0.77v11.75h-0.77z" fill="#f4a4a6"/>
<path d="M221.07 260h0.77v11.75h-0.77zM140.27 295.25h0.77v11.75h-0.77z" fill="#ec3d3d"/>
<path d="M229.01 260h0.77v11.75h-0.77zM232.61 271.75h0.77v11.75h-0.77z" fill="#eb2828"/>
<path d="M233.34 260h0.77v11.75h-0.77zM234.06 260h0.77v11.75h-0.77zM226.12 283.5h0.77v11.75h-0.77zM231.17 283.5h0.77v11.75h-0.77zM137.39 295.25h0.77v11.75h-0.77zM138.11 295.25h0.77v11.75h-0.77zM140.99 295.25h0.77v11.75h-0.77zM176.34 295.25h0.77v11.75h-0.77zM229.73 307h0.77v11.75h-0.77z" fill="#f06667"/>
<path d="M234.78 260h0.77v11.75h-0.77zM233.34 271.75h0.77v11.75h-0.77zM218.91 283.5h0.77v11.75h-0.77zM180.67 307h0.77v11.75h-0.77zM216.02 307h0.77v11.75h-0.77zM233.34 307h0.77v11.75h-0.77z" fill="#ee5152"/>
<path d="M233.34 295.25h0.77v11.75h-0.77z" fill="#2828e6"/>
<path d="M134.5 271.75L235.5 271.75" stroke="#fff" stroke-width="0.25"/>
<path d="M134.5 283.5L235.5 283.5" stroke="#fff" stroke-width="0.25"/>
<path d="M134.5 295.25L235.5 295.25" stroke="#fff" stroke-width="0.25"/>
<path d="M134.5 307L235.5 307" stroke="#fff" stroke-width="0.25"/>
<path d="M134.5 318.75L235.5 318.75" stroke="#fff" stroke-width="0.25"/>
<text x="236.6" y="266.6" font-size="2.13">LINC01094</text>
<text x="236.6" y="278.35" font-size="2.13">AC147651.1</text>
<text x="236.6" y="290.1" font-size="2.13">HAGLR</text>
<text x="236.6" y="301.85" font-size="2.13">AC016394.2</text>
<text x="236.6" y="313.6" font-size="2.13">AL355574.1</text>
<text x="236.6" y="325.35" font-size="2.13">AC026369.3</text>
<text x="236.6" y="259" font-size="2.13">Risk</text>
<defs><linearGradient id="eg1" x1="0" y1="0" x2="0" y2="1"><stop offset="0" stop-color="#e62222"/><stop offset="0.5" stop-color="#fbf6fb"/><stop offset="1" stop-color="#2222e2"/></linearGradient></defs>
<rect x="249.5" y="257" width="3" height="39.3" fill="url(#eg1)"/>
<text x="253.2" y="260" font-size="1.68">4</text>
<text x="253.2" y="268.8" font-size="1.68">2</text>
<text x="253.2" y="277.6" font-size="1.68">0</text>
<text x="253.2" y="286.4" font-size="1.68">-2</text>
<text x="253.2" y="295.2" font-size="1.68">-4</text>
<text x="254.8" y="257.4" font-size="1.68">Risk</text>
<rect x="255" y="258.1" width="1.6" height="1.6" fill="#2233dd"/>
<text x="257" y="259.5" font-size="1.46">low</text>
<rect x="255" y="260.1" width="1.6" height="1.6" fill="#ee2233"/>
<text x="257" y="261.5" font-size="1.46">high</text>
<rect x="150.1" y="345.8" width="104.7" height="40.2" fill="none" stroke="#222" stroke-width="0.4"/>
<path d="M198.7 345.8L198.7 386" stroke="#555" stroke-width="0.3" stroke-dasharray="0.5,0.5"/>
<path d="M150.1 380.5L254.8 380.5" stroke="#555" stroke-width="0.3" stroke-dasharray="0.5,0.5"/>
<polyline points="153.5,383.8 160,382.9 175,381.9 198.7,380.5" fill="none" stroke="#1a1ae0" stroke-width="1.3" stroke-linecap="round"/>
<path d="M198.7,380.5 C201.8,380.18 212.28,379.23 217.3,378.6 C222.32,377.97 225.53,377.47 228.8,376.7 C232.07,375.93 234.58,375.02 236.9,374 C239.22,372.98 241.17,371.65 242.7,370.6 C244.23,369.55 245.15,368.67 246.1,367.7 C247.05,366.73 248.02,365.28 248.4,364.8" fill="none" stroke="#e81c24" stroke-width="1.3" stroke-linecap="round"/>
<circle cx="248.8" cy="362.8" r="0.65" fill="#e81c24"/>
<circle cx="249" cy="361.3" r="0.65" fill="#e81c24"/>
<circle cx="249.4" cy="358.6" r="0.65" fill="#e81c24"/>
<circle cx="249.8" cy="356.1" r="0.65" fill="#e81c24"/>
<circle cx="250.2" cy="352.5" r="0.65" fill="#e81c24"/>
<circle cx="250.7" cy="347.8" r="0.65" fill="#e81c24"/>
<circle cx="152.7" cy="350.7" r="0.7" fill="#ee1c24"/>
<text x="156" y="351.9" font-size="3.5" class="n">High risk</text>
<circle cx="152.7" cy="354.5" r="0.7" fill="#1a1ae0"/>
<text x="156" y="355.8" font-size="3.5" class="n">Low Risk</text>
<path d="M153.5 386L153.5 387" stroke="#222" stroke-width="0.3"/>
<text x="153.5" y="391.6" font-size="2.8" class="m">0</text>
<path d="M179.8 386L179.8 387" stroke="#222" stroke-width="0.3"/>
<text x="179.8" y="391.6" font-size="2.8" class="m">100</text>
<path d="M205.8 386L205.8 387" stroke="#222" stroke-width="0.3"/>
<text x="205.8" y="391.6" font-size="2.8" class="m">200</text>
<path d="M232.1 386L232.1 387" stroke="#222" stroke-width="0.3"/>
<text x="232.1" y="391.6" font-size="2.8" class="m">300</text>
<path d="M149.1 384.4L150.1 384.4" stroke="#222" stroke-width="0.3"/>
<text x="146.6" y="384.4" font-size="2.35" class="m" transform="rotate(-90 146.6 384.4)">2</text>
<path d="M149.1 377.02L150.1 377.02" stroke="#222" stroke-width="0.3"/>
<text x="146.6" y="377.02" font-size="2.35" class="m" transform="rotate(-90 146.6 377.02)">4</text>
<path d="M149.1 369.64L150.1 369.64" stroke="#222" stroke-width="0.3"/>
<text x="146.6" y="369.64" font-size="2.35" class="m" transform="rotate(-90 146.6 369.64)">6</text>
<path d="M149.1 362.26L150.1 362.26" stroke="#222" stroke-width="0.3"/>
<text x="146.6" y="362.26" font-size="2.35" class="m" transform="rotate(-90 146.6 362.26)">8</text>
<path d="M149.1 354.88L150.1 354.88" stroke="#222" stroke-width="0.3"/>
<text x="146.6" y="354.88" font-size="2.35" class="m" transform="rotate(-90 146.6 354.88)">10</text>
<path d="M149.1 347.5L150.1 347.5" stroke="#222" stroke-width="0.3"/>
<text x="146.6" y="347.5" font-size="2.35" class="m" transform="rotate(-90 146.6 347.5)">12</text>
<text x="138.4" y="366.2" font-size="2.8" class="m" transform="rotate(-90 138.4 366.2)">Risk score</text>
<rect x="150.1" y="408.7" width="104.7" height="40.2" fill="none" stroke="#222" stroke-width="0.4"/>
<path d="M198.7 408.7L198.7 448.9" stroke="#555" stroke-width="0.3" stroke-dasharray="0.5,0.5"/>
<path d="M152.8 445.03h1.4v1.4h-1.4zM153.33 440.42h1.4v1.4h-1.4zM153.59 438.79h1.4v1.4h-1.4zM154.11 441.77h1.4v1.4h-1.4zM154.38 445h1.4v1.4h-1.4zM154.64 440.46h1.4v1.4h-1.4zM154.9 438.71h1.4v1.4h-1.4zM155.17 437.06h1.4v1.4h-1.4zM155.43 444.99h1.4v1.4h-1.4zM155.69 444.87h1.4v1.4h-1.4zM155.95 443.2h1.4v1.4h-1.4zM156.22 422.36h1.4v1.4h-1.4zM156.48 442.87h1.4v1.4h-1.4zM157 438.01h1.4v1.4h-1.4zM157.27 444.8h1.4v1.4h-1.4zM158.06 431.91h1.4v1.4h-1.4zM158.32 444.71h1.4v1.4h-1.4zM158.84 441.38h1.4v1.4h-1.4zM159.37 442.35h1.4v1.4h-1.4zM159.63 436.86h1.4v1.4h-1.4zM159.9 443.83h1.4v1.4h-1.4zM160.42 445.71h1.4v1.4h-1.4zM160.68 435.36h1.4v1.4h-1.4zM160.95 437.75h1.4v1.4h-1.4zM162 440.61h1.4v1.4h-1.4zM162.52 443.14h1.4v1.4h-1.4zM163.05 441.19h1.4v1.4h-1.4zM163.31 440.29h1.4v1.4h-1.4zM163.57 432.32h1.4v1.4h-1.4zM163.84 445.48h1.4v1.4h-1.4zM164.36 442.41h1.4v1.4h-1.4zM164.89 438.08h1.4v1.4h-1.4zM165.15 435.76h1.4v1.4h-1.4zM165.41 443.79h1.4v1.4h-1.4zM165.68 443.8h1.4v1.4h-1.4zM165.94 437.96h1.4v1.4h-1.4zM166.2 440.67h1.4v1.4h-1.4zM166.99 443.29h1.4v1.4h-1.4zM167.25 442.15h1.4v1.4h-1.4zM167.52 438.83h1.4v1.4h-1.4zM167.78 443.75h1.4v1.4h-1.4zM168.04 434.33h1.4v1.4h-1.4zM168.31 444.72h1.4v1.4h-1.4zM168.57 441.21h1.4v1.4h-1.4zM168.83 430.72h1.4v1.4h-1.4zM169.09 445.04h1.4v1.4h-1.4zM169.62 444.45h1.4v1.4h-1.4zM169.88 430.06h1.4v1.4h-1.4zM170.41 445.38h1.4v1.4h-1.4zM170.93 439.58h1.4v1.4h-1.4zM171.2 445.48h1.4v1.4h-1.4zM171.46 444.47h1.4v1.4h-1.4zM171.72 434.06h1.4v1.4h-1.4zM171.98 423.54h1.4v1.4h-1.4zM172.51 438.33h1.4v1.4h-1.4zM172.77 444.51h1.4v1.4h-1.4zM173.56 443.66h1.4v1.4h-1.4zM173.82 443.73h1.4v1.4h-1.4zM174.09 441.84h1.4v1.4h-1.4zM174.61 427.84h1.4v1.4h-1.4zM174.88 442.2h1.4v1.4h-1.4zM175.14 444.89h1.4v1.4h-1.4zM175.4 439.27h1.4v1.4h-1.4zM176.72 441.48h1.4v1.4h-1.4zM176.98 434.51h1.4v1.4h-1.4zM177.5 432.73h1.4v1.4h-1.4zM178.03 437.96h1.4v1.4h-1.4zM178.29 443.62h1.4v1.4h-1.4zM179.08 439.3h1.4v1.4h-1.4zM179.34 429.55h1.4v1.4h-1.4zM179.61 438.02h1.4v1.4h-1.4zM180.39 444.81h1.4v1.4h-1.4zM180.66 437.6h1.4v1.4h-1.4zM180.92 434.52h1.4v1.4h-1.4zM181.18 445.71h1.4v1.4h-1.4zM181.71 444.11h1.4v1.4h-1.4zM182.23 427.14h1.4v1.4h-1.4zM182.5 443.55h1.4v1.4h-1.4zM182.76 443.11h1.4v1.4h-1.4zM183.02 444.36h1.4v1.4h-1.4zM183.29 443.99h1.4v1.4h-1.4zM183.55 444.3h1.4v1.4h-1.4zM183.81 443.23h1.4v1.4h-1.4zM184.07 434.08h1.4v1.4h-1.4zM184.34 439.15h1.4v1.4h-1.4zM184.6 442.85h1.4v1.4h-1.4zM184.86 433.51h1.4v1.4h-1.4zM185.12 445.17h1.4v1.4h-1.4zM185.39 444.1h1.4v1.4h-1.4zM185.65 444.19h1.4v1.4h-1.4zM185.91 445.72h1.4v1.4h-1.4zM186.18 441.01h1.4v1.4h-1.4zM186.44 443.29h1.4v1.4h-1.4zM186.7 442.7h1.4v1.4h-1.4zM186.96 444.35h1.4v1.4h-1.4zM187.23 433.82h1.4v1.4h-1.4zM187.49 436.95h1.4v1.4h-1.4zM187.75 443.75h1.4v1.4h-1.4zM188.02 442.38h1.4v1.4h-1.4zM188.28 429.53h1.4v1.4h-1.4zM188.54 439.95h1.4v1.4h-1.4zM188.8 445.62h1.4v1.4h-1.4zM189.33 436.1h1.4v1.4h-1.4zM189.59 433.66h1.4v1.4h-1.4zM189.86 445.59h1.4v1.4h-1.4zM190.12 445.2h1.4v1.4h-1.4zM190.38 441.02h1.4v1.4h-1.4zM190.64 438.99h1.4v1.4h-1.4zM191.43 439.19h1.4v1.4h-1.4zM191.96 431.79h1.4v1.4h-1.4zM192.22 430.62h1.4v1.4h-1.4zM192.48 444.26h1.4v1.4h-1.4zM192.75 442.7h1.4v1.4h-1.4zM193.01 434.08h1.4v1.4h-1.4zM193.53 434.86h1.4v1.4h-1.4zM193.8 445.8h1.4v1.4h-1.4zM194.06 443.63h1.4v1.4h-1.4zM194.32 442.07h1.4v1.4h-1.4zM194.59 444.91h1.4v1.4h-1.4zM194.85 442.79h1.4v1.4h-1.4zM195.11 433.62h1.4v1.4h-1.4zM195.64 442.68h1.4v1.4h-1.4zM195.9 443.56h1.4v1.4h-1.4zM196.16 437.71h1.4v1.4h-1.4zM196.43 444.29h1.4v1.4h-1.4zM196.95 442.36h1.4v1.4h-1.4zM197.21 439.56h1.4v1.4h-1.4zM197.48 444.51h1.4v1.4h-1.4zM198.26 444.38h1.4v1.4h-1.4zM198.79 440.48h1.4v1.4h-1.4zM199.05 444.37h1.4v1.4h-1.4zM199.32 443.72h1.4v1.4h-1.4zM199.84 445.63h1.4v1.4h-1.4zM200.37 444.11h1.4v1.4h-1.4zM200.63 445.37h1.4v1.4h-1.4zM200.89 444.26h1.4v1.4h-1.4zM201.42 440.6h1.4v1.4h-1.4zM201.68 443.06h1.4v1.4h-1.4zM201.94 442.17h1.4v1.4h-1.4zM202.21 445.78h1.4v1.4h-1.4zM202.47 443.81h1.4v1.4h-1.4zM203 444.46h1.4v1.4h-1.4zM203.26 445.69h1.4v1.4h-1.4zM203.52 442.51h1.4v1.4h-1.4zM203.78 443.91h1.4v1.4h-1.4zM204.05 444.23h1.4v1.4h-1.4zM205.1 439.35h1.4v1.4h-1.4zM205.36 444.52h1.4v1.4h-1.4zM205.62 443.61h1.4v1.4h-1.4zM205.89 435.46h1.4v1.4h-1.4zM206.41 442.35h1.4v1.4h-1.4zM206.67 445.27h1.4v1.4h-1.4zM207.2 444.61h1.4v1.4h-1.4zM207.46 445.75h1.4v1.4h-1.4zM207.73 442.57h1.4v1.4h-1.4zM208.25 437.42h1.4v1.4h-1.4zM208.78 435.27h1.4v1.4h-1.4zM209.04 444.88h1.4v1.4h-1.4zM209.83 444.11h1.4v1.4h-1.4zM210.09 441.63h1.4v1.4h-1.4zM210.35 445.24h1.4v1.4h-1.4zM210.62 442.85h1.4v1.4h-1.4zM210.88 433.55h1.4v1.4h-1.4zM211.14 442.61h1.4v1.4h-1.4zM211.67 444.73h1.4v1.4h-1.4zM211.93 443.59h1.4v1.4h-1.4zM212.19 435.01h1.4v1.4h-1.4zM212.98 445.36h1.4v1.4h-1.4zM213.24 444.12h1.4v1.4h-1.4zM214.82 440.52h1.4v1.4h-1.4zM215.08 429.39h1.4v1.4h-1.4zM215.61 445.13h1.4v1.4h-1.4zM216.14 441.84h1.4v1.4h-1.4zM216.66 443.44h1.4v1.4h-1.4zM217.19 444.81h1.4v1.4h-1.4zM218.24 441.4h1.4v1.4h-1.4zM218.76 441.32h1.4v1.4h-1.4zM219.03 443.17h1.4v1.4h-1.4zM219.29 443.86h1.4v1.4h-1.4zM219.81 431.06h1.4v1.4h-1.4zM220.6 445.62h1.4v1.4h-1.4zM220.87 445.62h1.4v1.4h-1.4zM221.13 444.54h1.4v1.4h-1.4zM222.44 441.36h1.4v1.4h-1.4zM222.71 443.78h1.4v1.4h-1.4zM222.97 444.94h1.4v1.4h-1.4zM223.23 445.07h1.4v1.4h-1.4zM223.76 443.87h1.4v1.4h-1.4zM224.28 439.23h1.4v1.4h-1.4zM224.55 436.17h1.4v1.4h-1.4zM224.81 440.99h1.4v1.4h-1.4zM225.86 441.5h1.4v1.4h-1.4zM226.12 444.17h1.4v1.4h-1.4zM226.38 444.78h1.4v1.4h-1.4zM226.65 445.77h1.4v1.4h-1.4zM227.17 442.83h1.4v1.4h-1.4zM227.7 443.4h1.4v1.4h-1.4zM227.96 441.21h1.4v1.4h-1.4zM228.22 439.2h1.4v1.4h-1.4zM228.49 443.97h1.4v1.4h-1.4zM228.75 440.94h1.4v1.4h-1.4zM229.01 437.87h1.4v1.4h-1.4zM229.28 442.34h1.4v1.4h-1.4zM229.54 445.59h1.4v1.4h-1.4zM229.8 445.74h1.4v1.4h-1.4zM230.06 429.63h1.4v1.4h-1.4zM230.33 444.39h1.4v1.4h-1.4zM230.85 442.98h1.4v1.4h-1.4zM232.43 442.82h1.4v1.4h-1.4zM232.69 445.72h1.4v1.4h-1.4zM232.95 439.54h1.4v1.4h-1.4zM234.53 443.42h1.4v1.4h-1.4zM235.06 438.46h1.4v1.4h-1.4zM235.32 442.9h1.4v1.4h-1.4zM235.58 439.23h1.4v1.4h-1.4zM236.63 438.81h1.4v1.4h-1.4zM236.9 445.7h1.4v1.4h-1.4zM237.16 443.91h1.4v1.4h-1.4zM237.42 443.43h1.4v1.4h-1.4zM237.69 444.83h1.4v1.4h-1.4zM238.47 441.44h1.4v1.4h-1.4zM239 445.09h1.4v1.4h-1.4zM239.26 444.77h1.4v1.4h-1.4zM240.05 441.48h1.4v1.4h-1.4zM241.1 440.5h1.4v1.4h-1.4zM241.36 441.01h1.4v1.4h-1.4zM241.63 435.54h1.4v1.4h-1.4zM242.42 445.13h1.4v1.4h-1.4zM242.68 434.23h1.4v1.4h-1.4zM242.94 445.37h1.4v1.4h-1.4zM243.2 445.08h1.4v1.4h-1.4zM243.47 439.37h1.4v1.4h-1.4zM243.73 441.59h1.4v1.4h-1.4zM244.26 442.5h1.4v1.4h-1.4zM244.52 445.15h1.4v1.4h-1.4zM244.78 445.46h1.4v1.4h-1.4zM245.04 437.24h1.4v1.4h-1.4zM245.31 444.83h1.4v1.4h-1.4zM245.83 441.62h1.4v1.4h-1.4zM246.1 441.06h1.4v1.4h-1.4zM246.88 443.28h1.4v1.4h-1.4zM247.15 444.21h1.4v1.4h-1.4zM247.41 444.66h1.4v1.4h-1.4zM247.67 444.21h1.4v1.4h-1.4zM247.93 444.3h1.4v1.4h-1.4zM248.2 443.75h1.4v1.4h-1.4zM248.99 439.87h1.4v1.4h-1.4zM249.51 443.42h1.4v1.4h-1.4zM249.77 443.76h1.4v1.4h-1.4zM250.3 429.48h1.4v1.4h-1.4zM173.5 409.5h1.4v1.4h-1.4zM170.8 410.9h1.4v1.4h-1.4zM215.6 410.9h1.4v1.4h-1.4zM202.7 420.9h1.4v1.4h-1.4zM229.3 424.3h1.4v1.4h-1.4zM155.9 425.6h1.4v1.4h-1.4z" fill="#1616cc"/>
<path d="M153.06 444.01h1.4v1.4h-1.4zM153.85 445.26h1.4v1.4h-1.4zM156.74 443.48h1.4v1.4h-1.4zM157.53 442.2h1.4v1.4h-1.4zM157.79 442.82h1.4v1.4h-1.4zM158.58 445.59h1.4v1.4h-1.4zM159.11 445.25h1.4v1.4h-1.4zM160.16 445.24h1.4v1.4h-1.4zM161.21 442.81h1.4v1.4h-1.4zM161.47 444.63h1.4v1.4h-1.4zM161.74 433.24h1.4v1.4h-1.4zM162.26 442.45h1.4v1.4h-1.4zM162.79 445.78h1.4v1.4h-1.4zM164.1 434.19h1.4v1.4h-1.4zM164.63 444.34h1.4v1.4h-1.4zM166.47 444.05h1.4v1.4h-1.4zM166.73 444.9h1.4v1.4h-1.4zM169.36 444.44h1.4v1.4h-1.4zM170.15 445.5h1.4v1.4h-1.4zM170.67 445.68h1.4v1.4h-1.4zM172.25 443.96h1.4v1.4h-1.4zM173.04 435.66h1.4v1.4h-1.4zM173.3 442.32h1.4v1.4h-1.4zM174.35 443.63h1.4v1.4h-1.4zM175.66 439.64h1.4v1.4h-1.4zM175.93 445.56h1.4v1.4h-1.4zM176.19 445.41h1.4v1.4h-1.4zM176.45 443.1h1.4v1.4h-1.4zM177.24 442.37h1.4v1.4h-1.4zM177.77 440.11h1.4v1.4h-1.4zM178.55 445.03h1.4v1.4h-1.4zM178.82 441.64h1.4v1.4h-1.4zM179.87 442.32h1.4v1.4h-1.4zM180.13 443.8h1.4v1.4h-1.4zM181.45 442.65h1.4v1.4h-1.4zM181.97 426.68h1.4v1.4h-1.4zM189.07 444.68h1.4v1.4h-1.4zM190.91 445.15h1.4v1.4h-1.4zM191.17 442.91h1.4v1.4h-1.4zM191.69 442.03h1.4v1.4h-1.4zM193.27 438.49h1.4v1.4h-1.4zM195.37 441.49h1.4v1.4h-1.4zM196.69 443.34h1.4v1.4h-1.4zM197.74 445.23h1.4v1.4h-1.4zM198 441.33h1.4v1.4h-1.4zM198.53 444.22h1.4v1.4h-1.4zM199.58 439.02h1.4v1.4h-1.4zM200.1 443.91h1.4v1.4h-1.4zM201.16 445.11h1.4v1.4h-1.4zM202.73 442.02h1.4v1.4h-1.4zM204.31 445.53h1.4v1.4h-1.4zM204.57 445.06h1.4v1.4h-1.4zM204.84 445.52h1.4v1.4h-1.4zM206.15 442.43h1.4v1.4h-1.4zM206.94 444h1.4v1.4h-1.4zM207.99 442.52h1.4v1.4h-1.4zM208.51 441.24h1.4v1.4h-1.4zM209.3 439.69h1.4v1.4h-1.4zM209.57 440.61h1.4v1.4h-1.4zM211.41 442.89h1.4v1.4h-1.4zM212.46 443.93h1.4v1.4h-1.4zM212.72 434.4h1.4v1.4h-1.4zM213.51 443.79h1.4v1.4h-1.4zM213.77 442.1h1.4v1.4h-1.4zM214.03 445.31h1.4v1.4h-1.4zM214.3 441.3h1.4v1.4h-1.4zM214.56 444.6h1.4v1.4h-1.4zM215.35 444.69h1.4v1.4h-1.4zM215.87 445.55h1.4v1.4h-1.4zM216.4 444.38h1.4v1.4h-1.4zM216.92 444.13h1.4v1.4h-1.4zM217.45 445.54h1.4v1.4h-1.4zM217.71 436.08h1.4v1.4h-1.4zM217.98 439.21h1.4v1.4h-1.4zM218.5 445.78h1.4v1.4h-1.4zM219.55 444.56h1.4v1.4h-1.4zM220.08 440.16h1.4v1.4h-1.4zM220.34 443.27h1.4v1.4h-1.4zM221.39 445.18h1.4v1.4h-1.4zM221.65 440.75h1.4v1.4h-1.4zM221.92 441.35h1.4v1.4h-1.4zM222.18 445.34h1.4v1.4h-1.4zM223.49 445.18h1.4v1.4h-1.4zM224.02 443.95h1.4v1.4h-1.4zM225.07 444.03h1.4v1.4h-1.4zM225.33 444.05h1.4v1.4h-1.4zM225.6 444.13h1.4v1.4h-1.4zM226.91 444.79h1.4v1.4h-1.4zM227.44 440.14h1.4v1.4h-1.4zM230.59 445.36h1.4v1.4h-1.4zM231.12 445.4h1.4v1.4h-1.4zM231.38 444.22h1.4v1.4h-1.4zM231.64 444.66h1.4v1.4h-1.4zM231.9 437.99h1.4v1.4h-1.4zM232.17 444.88h1.4v1.4h-1.4zM233.22 442.12h1.4v1.4h-1.4zM233.48 444.8h1.4v1.4h-1.4zM233.74 445.32h1.4v1.4h-1.4zM234.01 442.94h1.4v1.4h-1.4zM234.27 443.19h1.4v1.4h-1.4zM234.79 445.56h1.4v1.4h-1.4zM235.85 442.5h1.4v1.4h-1.4zM236.11 443.87h1.4v1.4h-1.4zM236.37 440.49h1.4v1.4h-1.4zM237.95 444.21h1.4v1.4h-1.4zM238.21 445.65h1.4v1.4h-1.4zM238.74 443.64h1.4v1.4h-1.4zM239.53 444.87h1.4v1.4h-1.4zM239.79 443.4h1.4v1.4h-1.4zM240.31 444.5h1.4v1.4h-1.4zM240.58 445.55h1.4v1.4h-1.4zM240.84 444.62h1.4v1.4h-1.4zM241.89 440.4h1.4v1.4h-1.4zM242.15 445.34h1.4v1.4h-1.4zM243.99 438.79h1.4v1.4h-1.4zM245.57 444.14h1.4v1.4h-1.4zM246.36 445.37h1.4v1.4h-1.4zM246.62 442.52h1.4v1.4h-1.4zM248.46 440.87h1.4v1.4h-1.4zM248.72 445.76h1.4v1.4h-1.4zM249.25 443.19h1.4v1.4h-1.4zM250.04 439.69h1.4v1.4h-1.4zM198 425h1.4v1.4h-1.4zM161.7 422.6h1.4v1.4h-1.4z" fill="#de1820"/>
<circle cx="152.7" cy="413.6" r="0.7" fill="#ee1c24"/>
<text x="156" y="414.8" font-size="3.5" class="n">Dead</text>
<circle cx="152.7" cy="417.7" r="0.7" fill="#1a1ae0"/>
<text x="156" y="418.9" font-size="3.5" class="n">Alive</text>
<path d="M153.5 448.9L153.5 449.9" stroke="#222" stroke-width="0.3"/>
<text x="153.5" y="454.7" font-size="2.8" class="m">0</text>
<path d="M179.8 448.9L179.8 449.9" stroke="#222" stroke-width="0.3"/>
<text x="179.8" y="454.7" font-size="2.8" class="m">100</text>
<path d="M205.8 448.9L205.8 449.9" stroke="#222" stroke-width="0.3"/>
<text x="205.8" y="454.7" font-size="2.8" class="m">200</text>
<path d="M232.1 448.9L232.1 449.9" stroke="#222" stroke-width="0.3"/>
<text x="232.1" y="454.7" font-size="2.8" class="m">300</text>
<path d="M149.1 446.8L150.1 446.8" stroke="#222" stroke-width="0.3"/>
<text x="146.6" y="446.8" font-size="2.35" class="m" transform="rotate(-90 146.6 446.8)">0</text>
<path d="M149.1 440.9L150.1 440.9" stroke="#222" stroke-width="0.3"/>
<text x="146.6" y="440.9" font-size="2.35" class="m" transform="rotate(-90 146.6 440.9)">2</text>
<path d="M149.1 435L150.1 435" stroke="#222" stroke-width="0.3"/>
<text x="146.6" y="435" font-size="2.35" class="m" transform="rotate(-90 146.6 435)">4</text>
<path d="M149.1 429.1L150.1 429.1" stroke="#222" stroke-width="0.3"/>
<text x="146.6" y="429.1" font-size="2.35" class="m" transform="rotate(-90 146.6 429.1)">6</text>
<path d="M149.1 423.2L150.1 423.2" stroke="#222" stroke-width="0.3"/>
<text x="146.6" y="423.2" font-size="2.35" class="m" transform="rotate(-90 146.6 423.2)">8</text>
<path d="M149.1 417.3L150.1 417.3" stroke="#222" stroke-width="0.3"/>
<text x="146.6" y="417.3" font-size="2.35" class="m" transform="rotate(-90 146.6 417.3)">10</text>
<path d="M149.1 411.4L150.1 411.4" stroke="#222" stroke-width="0.3"/>
<text x="146.6" y="411.4" font-size="2.35" class="m" transform="rotate(-90 146.6 411.4)">12</text>
<text x="138.4" y="429" font-size="2.7" class="m" transform="rotate(-90 138.4 429)">Survival time (years)</text>
<text x="202.3" y="462" font-size="2.8" class="m">Patients (increasing risk score)</text>
</g>
<g id="panel_f">
<text x="270" y="261.9" font-size="12.7" class="n">f</text>
<text x="285.6" y="254.1" font-size="1.7" class="n" font-weight="bold">Points</text>
<text x="285.6" y="261" font-size="1.7" class="n" font-weight="bold">Age</text>
<text x="285.6" y="264.5" font-size="1.7" class="n" font-weight="bold">Gender</text>
<text x="285.6" y="270.2" font-size="1.7" class="n" font-weight="bold">M</text>
<text x="285.6" y="276.4" font-size="1.7" class="n" font-weight="bold">Grade</text>
<text x="285.6" y="282.1" font-size="1.7" class="n" font-weight="bold">N</text>
<text x="285.6" y="287.4" font-size="1.7" class="n" font-weight="bold">Stage</text>
<text x="285.6" y="292.5" font-size="1.7" class="n" font-weight="bold">Age**</text>
<text x="285.6" y="298.3" font-size="1.7" class="n" font-weight="bold">risk***</text>
<text x="285.6" y="305.3" font-size="1.7" class="n" font-weight="bold">Total points</text>
<text x="301.6" y="314.7" font-size="1.4" class="e">Pr( futime &gt; 5 )</text>
<text x="301.6" y="318.9" font-size="1.4" class="e">Pr( futime &gt; 3 )</text>
<text x="301.6" y="323.5" font-size="1.4" class="e">Pr( futime &gt; 1 )</text>
<path d="M302.9 255L366.8 255" stroke="#222" stroke-width="0.4"/>
<path d="M302.9 254.1L302.9 255" stroke="#222" stroke-width="0.25"/>
<text x="302.9" y="253.5" font-size="1.46" class="m">0</text>
<path d="M309.29 254.1L309.29 255" stroke="#222" stroke-width="0.25"/>
<text x="309.29" y="253.5" font-size="1.46" class="m">10</text>
<path d="M315.68 254.1L315.68 255" stroke="#222" stroke-width="0.25"/>
<text x="315.68" y="253.5" font-size="1.46" class="m">20</text>
<path d="M322.07 254.1L322.07 255" stroke="#222" stroke-width="0.25"/>
<text x="322.07" y="253.5" font-size="1.46" class="m">30</text>
<path d="M328.46 254.1L328.46 255" stroke="#222" stroke-width="0.25"/>
<text x="328.46" y="253.5" font-size="1.46" class="m">40</text>
<path d="M334.85 254.1L334.85 255" stroke="#222" stroke-width="0.25"/>
<text x="334.85" y="253.5" font-size="1.46" class="m">50</text>
<path d="M341.24 254.1L341.24 255" stroke="#222" stroke-width="0.25"/>
<text x="341.24" y="253.5" font-size="1.46" class="m">60</text>
<path d="M347.63 254.1L347.63 255" stroke="#222" stroke-width="0.25"/>
<text x="347.63" y="253.5" font-size="1.46" class="m">70</text>
<path d="M354.02 254.1L354.02 255" stroke="#222" stroke-width="0.25"/>
<text x="354.02" y="253.5" font-size="1.46" class="m">80</text>
<path d="M360.41 254.1L360.41 255" stroke="#222" stroke-width="0.25"/>
<text x="360.41" y="253.5" font-size="1.46" class="m">90</text>
<path d="M366.8 254.1L366.8 255" stroke="#222" stroke-width="0.25"/>
<text x="366.8" y="253.5" font-size="1.46" class="m">100</text>
<path d="M365 255L365 277" stroke="#ee3030" stroke-width="0.35" stroke-dasharray="0.6,0.5"/>
<path d="M334.8 255L334.8 262" stroke="#ee3030" stroke-width="0.35" stroke-dasharray="0.6,0.5"/>
<circle cx="334.8" cy="255" r="0.7" fill="#ee3030"/>
<circle cx="365" cy="255" r="0.7" fill="#ee3030"/>
<path d="M331.6 257L331.6 290" stroke="#5a6ab0" stroke-width="0.35"/>
<path d="M334.5 271.8L344 271.8" stroke="#e09088" stroke-width="0.3" stroke-dasharray="0.5,0.45"/>
<path d="M333 277.3L359 277.3" stroke="#e09088" stroke-width="0.3" stroke-dasharray="0.5,0.45"/>
<path d="M333 282.7L363.7 282.7" stroke="#e09088" stroke-width="0.3" stroke-dasharray="0.5,0.45"/>
<path d="M344 289.7L365.9 289.7" stroke="#e09088" stroke-width="0.3" stroke-dasharray="0.5,0.45"/>
<path d="M311 301L329.5 301" stroke="#e09088" stroke-width="0.3" stroke-dasharray="0.5,0.45"/>
<rect x="330.4" y="258.1" width="2.4" height="2.4" fill="#d6ebf8" stroke="#3a5a8e" stroke-width="0.4"/>
<rect x="331" y="258.7" width="1.2" height="1.2" fill="#a8cce8"/>
<rect x="330.1" y="261.5" width="3" height="3" fill="#d6ebf8" stroke="#3a5a8e" stroke-width="0.4"/>
<rect x="330.85" y="262.25" width="1.5" height="1.5" fill="#a8cce8"/>
<text x="331.6" y="265.6" font-size="1.12" class="m">FEMALE</text>
<rect x="336.7" y="263.7" width="4.4" height="4.4" fill="#d6ebf8" stroke="#3a5a8e" stroke-width="0.4"/>
<rect x="337.8" y="264.8" width="2.2" height="2.2" fill="#a8cce8"/>
<text x="338.9" y="266.4" font-size="1.23" class="m">MALE</text>
<circle cx="332.1" cy="270.9" r="2.3" fill="#3a5aa8" stroke="#2c4478" stroke-width="0.35"/>
<circle cx="332.1" cy="270.9" r="1.15" fill="#a8cce8"/>
<rect x="342.1" y="269.9" width="3.8" height="3.8" fill="#d6ebf8" stroke="#3a5a8e" stroke-width="0.4"/>
<rect x="343.05" y="270.85" width="1.9" height="1.9" fill="#a8cce8"/>
<rect x="331.1" y="276.2" width="1" height="1.4" fill="#3a5ad0"/>
<rect x="331.1" y="281.7" width="1" height="1.4" fill="#3a5ad0"/>
<rect x="357.3" y="275.6" width="3.4" height="3.4" fill="#d6ebf8" stroke="#3a5a8e" stroke-width="0.4"/>
<rect x="358.15" y="276.45" width="1.7" height="1.7" fill="#a8cce8"/>
<circle cx="365" cy="276.9" r="2.5" fill="#d6ebf8" stroke="#2c4478" stroke-width="0.35"/>
<circle cx="365" cy="276.9" r="1.25" fill="#6a96d8"/>
<circle cx="363.7" cy="282.7" r="2.7" fill="#3a5aa8" stroke="#2c4478" stroke-width="0.35"/>
<circle cx="363.7" cy="282.7" r="1.35" fill="#a8cce8"/>
<text x="330.8" y="287.6" font-size="1.23" class="m">Stage I</text>
<text x="341.8" y="286.4" font-size="1.23" class="m">Stage III</text>
<text x="365.9" y="292" font-size="1.23" class="m">Stage IV</text>
<rect x="332.6" y="287.8" width="3.8" height="3.8" fill="#d6ebf8" stroke="#3a5a8e" stroke-width="0.4"/>
<rect x="333.55" y="288.75" width="1.9" height="1.9" fill="#a8cce8"/>
<rect x="339.6" y="286.9" width="4.4" height="4.4" fill="#d6ebf8" stroke="#3a5a8e" stroke-width="0.4"/>
<rect x="340.7" y="288" width="2.2" height="2.2" fill="#a8cce8"/>
<rect x="365.1" y="288.9" width="1.6" height="1.6" fill="#d6ebf8" stroke="#3a5a8e" stroke-width="0.4"/>
<rect x="365.5" y="289.3" width="0.8" height="0.8" fill="#a8cce8"/>
<path d="M302,294.4 C303.33,294.37 307.67,294.33 310,294.2 C312.33,294.07 314.17,293.93 316,293.6 C317.83,293.27 319.67,292.53 321,292.2 C322.33,291.87 323,291.58 324,291.6 C325,291.62 326,292.07 327,292.3 C328,292.53 329,293.02 330,293 C331,292.98 332,292.27 333,292.2 C334,292.13 334.67,292.33 336,292.6 C337.33,292.87 339,293.52 341,293.8 C343,294.08 345.67,294.2 348,294.3 C350.33,294.4 353.83,294.38 355,294.4" fill="none" stroke="#4a4ad8" stroke-width="0.35" />
<path d="M302 294.6L355 294.6" stroke="#222" stroke-width="0.35"/>
<path d="M302 294.6L302 295.3" stroke="#222" stroke-width="0.2"/>
<text x="302" y="296.7" font-size="1.23" class="m">25</text>
<path d="M306.08 294.6L306.08 295.3" stroke="#222" stroke-width="0.2"/>
<text x="306.08" y="296.7" font-size="1.23" class="m">30</text>
<path d="M310.16 294.6L310.16 295.3" stroke="#222" stroke-width="0.2"/>
<text x="310.16" y="296.7" font-size="1.23" class="m">35</text>
<path d="M314.24 294.6L314.24 295.3" stroke="#222" stroke-width="0.2"/>
<text x="314.24" y="296.7" font-size="1.23" class="m">40</text>
<path d="M318.32 294.6L318.32 295.3" stroke="#222" stroke-width="0.2"/>
<text x="318.32" y="296.7" font-size="1.23" class="m">45</text>
<path d="M322.4 294.6L322.4 295.3" stroke="#222" stroke-width="0.2"/>
<text x="322.4" y="296.7" font-size="1.23" class="m">50</text>
<path d="M326.48 294.6L326.48 295.3" stroke="#222" stroke-width="0.2"/>
<text x="326.48" y="296.7" font-size="1.23" class="m">55</text>
<path d="M330.56 294.6L330.56 295.3" stroke="#222" stroke-width="0.2"/>
<text x="330.56" y="296.7" font-size="1.23" class="m">60</text>
<path d="M334.64 294.6L334.64 295.3" stroke="#222" stroke-width="0.2"/>
<text x="334.64" y="296.7" font-size="1.23" class="m">65</text>
<path d="M338.72 294.6L338.72 295.3" stroke="#222" stroke-width="0.2"/>
<text x="338.72" y="296.7" font-size="1.23" class="m">70</text>
<path d="M342.8 294.6L342.8 295.3" stroke="#222" stroke-width="0.2"/>
<text x="342.8" y="296.7" font-size="1.23" class="m">75</text>
<path d="M346.88 294.6L346.88 295.3" stroke="#222" stroke-width="0.2"/>
<text x="346.88" y="296.7" font-size="1.23" class="m">80</text>
<path d="M350.96 294.6L350.96 295.3" stroke="#222" stroke-width="0.2"/>
<text x="350.96" y="296.7" font-size="1.23" class="m">85</text>
<path d="M355.04 294.6L355.04 295.3" stroke="#222" stroke-width="0.2"/>
<text x="355.04" y="296.7" font-size="1.23" class="m">90</text>
<rect x="306.7" y="298.8" width="4.4" height="4.4" fill="#d6ebf8" stroke="#3a5a8e" stroke-width="0.4"/>
<rect x="307.8" y="299.9" width="2.2" height="2.2" fill="#a8cce8"/>
<rect x="329.4" y="298.8" width="4.4" height="4.4" fill="#d6ebf8" stroke="#3a5a8e" stroke-width="0.4"/>
<rect x="330.5" y="299.9" width="2.2" height="2.2" fill="#a8cce8"/>
<path d="M302,310.6 C304.67,310.57 314,310.6 318,310.4 C322,310.2 323.83,309.87 326,309.4 C328.17,308.93 329.5,308.12 331,307.6 C332.5,307.08 333.5,306.57 335,306.3 C336.5,306.03 338.5,305.95 340,306 C341.5,306.05 342.83,306.33 344,306.6 C345.17,306.87 346,307.57 347,307.6 C348,307.63 349,306.87 350,306.8 C351,306.73 351.83,306.8 353,307.2 C354.17,307.6 355.5,308.67 357,309.2 C358.5,309.73 360.22,310.17 362,310.4 C363.78,310.63 366.75,310.57 367.7,310.6" fill="none" stroke="#4a4ad8" stroke-width="0.35" />
<path d="M302 311L367.7 311" stroke="#222" stroke-width="0.4"/>
<path d="M305 311L305 311.7" stroke="#222" stroke-width="0.2"/>
<text x="305" y="310.2" font-size="1.29" class="m">160</text>
<path d="M312.6 311L312.6 311.7" stroke="#222" stroke-width="0.2"/>
<text x="312.6" y="310.2" font-size="1.29" class="m">180</text>
<path d="M320.2 311L320.2 311.7" stroke="#222" stroke-width="0.2"/>
<text x="320.2" y="310.2" font-size="1.29" class="m">200</text>
<path d="M327.8 311L327.8 311.7" stroke="#222" stroke-width="0.2"/>
<text x="327.8" y="310.2" font-size="1.29" class="m">220</text>
<path d="M335.4 311L335.4 311.7" stroke="#222" stroke-width="0.2"/>
<text x="335.4" y="310.2" font-size="1.29" class="m">240</text>
<path d="M343 311L343 311.7" stroke="#222" stroke-width="0.2"/>
<text x="343" y="310.2" font-size="1.29" class="m">260</text>
<path d="M350.6 311L350.6 311.7" stroke="#222" stroke-width="0.2"/>
<text x="350.6" y="310.2" font-size="1.29" class="m">280</text>
<path d="M358.2 311L358.2 311.7" stroke="#222" stroke-width="0.2"/>
<text x="358.2" y="310.2" font-size="1.29" class="m">300</text>
<path d="M365.8 311L365.8 311.7" stroke="#222" stroke-width="0.2"/>
<text x="365.8" y="310.2" font-size="1.29" class="m">320</text>
<path d="M302.9 315.3L367.7 315.3" stroke="#222" stroke-width="0.4"/>
<path d="M305 315.3L305 315.9" stroke="#222" stroke-width="0.2"/>
<text x="305" y="317.3" font-size="1.34" class="m">0.95</text>
<path d="M313.79 315.3L313.79 315.9" stroke="#222" stroke-width="0.2"/>
<text x="313.79" y="317.3" font-size="1.34" class="m">0.9</text>
<path d="M322.57 315.3L322.57 315.9" stroke="#222" stroke-width="0.2"/>
<text x="322.57" y="317.3" font-size="1.34" class="m">0.8</text>
<path d="M331.36 315.3L331.36 315.9" stroke="#222" stroke-width="0.2"/>
<text x="331.36" y="317.3" font-size="1.34" class="m">0.7</text>
<path d="M340.14 315.3L340.14 315.9" stroke="#222" stroke-width="0.2"/>
<text x="340.14" y="317.3" font-size="1.34" class="m">0.5</text>
<path d="M348.93 315.3L348.93 315.9" stroke="#222" stroke-width="0.2"/>
<text x="348.93" y="317.3" font-size="1.34" class="m">0.3</text>
<path d="M357.71 315.3L357.71 315.9" stroke="#222" stroke-width="0.2"/>
<text x="357.71" y="317.3" font-size="1.34" class="m">0.16</text>
<path d="M366.5 315.3L366.5 315.9" stroke="#222" stroke-width="0.2"/>
<text x="366.5" y="317.3" font-size="1.34" class="m">0.08</text>
<path d="M302.9 319.7L367.7 319.7" stroke="#222" stroke-width="0.4"/>
<path d="M305 319.7L305 320.3" stroke="#222" stroke-width="0.2"/>
<text x="305" y="321.7" font-size="1.34" class="m">0.98</text>
<path d="M312.69 319.7L312.69 320.3" stroke="#222" stroke-width="0.2"/>
<text x="312.69" y="321.7" font-size="1.34" class="m">0.95</text>
<path d="M320.38 319.7L320.38 320.3" stroke="#222" stroke-width="0.2"/>
<text x="320.38" y="321.7" font-size="1.34" class="m">0.9</text>
<path d="M328.06 319.7L328.06 320.3" stroke="#222" stroke-width="0.2"/>
<text x="328.06" y="321.7" font-size="1.34" class="m">0.8</text>
<path d="M335.75 319.7L335.75 320.3" stroke="#222" stroke-width="0.2"/>
<text x="335.75" y="321.7" font-size="1.34" class="m">0.7</text>
<path d="M343.44 319.7L343.44 320.3" stroke="#222" stroke-width="0.2"/>
<text x="343.44" y="321.7" font-size="1.34" class="m">0.5</text>
<path d="M351.12 319.7L351.12 320.3" stroke="#222" stroke-width="0.2"/>
<text x="351.12" y="321.7" font-size="1.34" class="m">0.3</text>
<path d="M358.81 319.7L358.81 320.3" stroke="#222" stroke-width="0.2"/>
<text x="358.81" y="321.7" font-size="1.34" class="m">0.16</text>
<path d="M366.5 319.7L366.5 320.3" stroke="#222" stroke-width="0.2"/>
<text x="366.5" y="321.7" font-size="1.34" class="m">0.06</text>
<path d="M302.9 323.9L367.7 323.9" stroke="#222" stroke-width="0.4"/>
<path d="M305 323.9L305 324.5" stroke="#222" stroke-width="0.2"/>
<text x="305" y="325.9" font-size="1.34" class="m">0.99</text>
<path d="M311.83 323.9L311.83 324.5" stroke="#222" stroke-width="0.2"/>
<text x="311.83" y="325.9" font-size="1.34" class="m">0.98</text>
<path d="M318.67 323.9L318.67 324.5" stroke="#222" stroke-width="0.2"/>
<text x="318.67" y="325.9" font-size="1.34" class="m">0.96</text>
<path d="M325.5 323.9L325.5 324.5" stroke="#222" stroke-width="0.2"/>
<text x="325.5" y="325.9" font-size="1.34" class="m">0.94</text>
<path d="M332.33 323.9L332.33 324.5" stroke="#222" stroke-width="0.2"/>
<text x="332.33" y="325.9" font-size="1.34" class="m">0.9</text>
<path d="M339.17 323.9L339.17 324.5" stroke="#222" stroke-width="0.2"/>
<text x="339.17" y="325.9" font-size="1.34" class="m">0.85</text>
<path d="M346 323.9L346 324.5" stroke="#222" stroke-width="0.2"/>
<text x="346" y="325.9" font-size="1.34" class="m">0.8</text>
<path d="M352.83 323.9L352.83 324.5" stroke="#222" stroke-width="0.2"/>
<text x="352.83" y="325.9" font-size="1.34" class="m">0.7</text>
<path d="M359.67 323.9L359.67 324.5" stroke="#222" stroke-width="0.2"/>
<text x="359.67" y="325.9" font-size="1.34" class="m">0.6</text>
<path d="M366.5 323.9L366.5 324.5" stroke="#222" stroke-width="0.2"/>
<text x="366.5" y="325.9" font-size="1.34" class="m">0.4</text>
<text x="339" y="314.6" font-size="1.4" class="m n" style="fill:#ee3030;stroke:#ee3030" font-weight="bold">0.339</text>
<text x="339" y="319" font-size="1.4" class="m n" style="fill:#ee3030;stroke:#ee3030" font-weight="bold">0.108</text>
<text x="339" y="323.2" font-size="1.4" class="m n" style="fill:#ee3030;stroke:#ee3030" font-weight="bold">0.0176</text>
<circle cx="342.2" cy="311" r="0.6" fill="#ee3030"/>
<path d="M342.2 308L342.2 324.8" stroke="#ee3030" stroke-width="0.35" stroke-dasharray="0.6,0.5"/>
<path d="M301.3 395.8L368.8 340" stroke="#c8c8c8" stroke-width="0.35"/>
<path d="M345.18 337.5v2.08M359.92 337.5v1.86M350.45 337.5v2.09M348.19 337.5v1.29M356.95 337.5v2.41M329.72 337.5v2.49M346.49 337.5v2.43M345.65 337.5v1.81M349.17 337.5v1.69M358.26 337.5v2.55M350.85 337.5v2.36M362.15 337.5v2.59M337.45 337.5v1.61M364.59 337.5v1.26M335.38 337.5v1.91M358.06 337.5v1.77M363.6 337.5v1.64M361.02 337.5v1.93M348.01 337.5v2.52M339.38 337.5v1.62M350.31 337.5v1.23M362.66 337.5v1.85M343.83 337.5v1.23M333.53 337.5v1.65M348.2 337.5v1.62M363.22 337.5v2.23M353.41 337.5v2.18M341.11 337.5v1.81M352.47 337.5v1.94M347 337.5v2.1M361.98 337.5v2.31M344.52 337.5v1.77M308.82 337.5v1.81M362.97 337.5v2.37M355.67 337.5v1.52M340.54 337.5v1.26M338.41 337.5v2.46M339.85 337.5v1.62M352.42 337.5v2.06M332.67 337.5v1.48M357.36 337.5v2.49M367.19 337.5v2.41M339.51 337.5v1.79M358.26 337.5v1.3M340.78 337.5v1.69M353.52 337.5v1.66M328.5 337.5v1.31M335.18 337.5v1.73M354.79 337.5v1.89M344.89 337.5v1.54M361.41 337.5v1.8M358.02 337.5v2.31M355.41 337.5v2.13M351.49 337.5v1.99M353.04 337.5v2.43M324.62 337.5v2.37M345.79 337.5v2.25M353.98 337.5v2.06M355.29 337.5v1.69M345.24 337.5v1.78M346.15 337.5v2.14M342.6 337.5v1.41M336.79 337.5v1.46M338.76 337.5v1.53M355.95 337.5v1.78M359.54 337.5v1.23M356.61 337.5v1.65M349.82 337.5v2.37M354.13 337.5v2.4M353.42 337.5v2.2M358.58 337.5v1.46M352.97 337.5v1.32M342.17 337.5v2.01M343.85 337.5v2.02M354.24 337.5v1.36M363.99 337.5v1.72M357.34 337.5v2.12M345.4 337.5v2.14M347.8 337.5v2.21M358.84 337.5v2.08M333.31 337.5v2.5M329.15 337.5v1.98M354.81 337.5v1.3M350.02 337.5v1.7M341.48 337.5v2.28M346.92 337.5v2.28M357.4 337.5v1.34M327.47 337.5v1.46M332.67 337.5v2.03M348.99 337.5v2M327.66 337.5v2.53M341.76 337.5v2.57M347.65 337.5v1.2M352.62 337.5v1.84M360.24 337.5v2.1M357.55 337.5v2.07M341.17 337.5v1.95M362.79 337.5v2.04M351.24 337.5v2.33M358.68 337.5v1.88M354.36 337.5v1.43M345.7 337.5v2.11M332.96 337.5v1.45M358.76 337.5v1.94M349.93 337.5v1.49M354.11 337.5v1.89M348.81 337.5v1.24M348.05 337.5v1.68M328.03 337.5v2.3M352.21 337.5v1.57M357.05 337.5v2.16M329 337.5v1.48M357.71 337.5v2.53M338.14 337.5v2.15M339.21 337.5v2.49M352.79 337.5v1.87M333.62 337.5v2.19M356.02 337.5v1.23M340.23 337.5v1.53M339.76 337.5v1.83M359.3 337.5v1.3M358.35 337.5v1.35M343.53 337.5v1.41M366.18 337.5v2.55M342.98 337.5v2.05M360.19 337.5v1.31M338.62 337.5v1.32M332.96 337.5v2.1M355.95 337.5v1.82M332.43 337.5v1.49M352.1 337.5v1.3M350.17 337.5v2.05M342.41 337.5v1.51M329.92 337.5v2.58M348.06 337.5v2.53M356.59 337.5v1.77M353.19 337.5v2.21M337.56 337.5v2.24M347.02 337.5v2.25M348.83 337.5v1.31M330.49 337.5v2.57M339.42 337.5v1.96M350.82 337.5v2.44M359.19 337.5v1.21M335.57 337.5v1.27M340.9 337.5v2.3M361.7 337.5v1.33M330.88 337.5v1.56M325.84 337.5v2.48M361.85 337.5v2.31" stroke="#222" stroke-width="0.25" fill="none"/>
<polyline points="315,387 322.5,382.5 328.8,375.8 335,362.5 337,362.6" fill="none" stroke="#ee3030" stroke-width="0.55" />
<polyline points="315,387 322.5,382.5 328.8,375.8 335,370.8 337,369.5 342.5,353.8" fill="none" stroke="#2a3ae8" stroke-width="0.55" />
<polyline points="346.8,359.5 356.8,352.5 359.5,344.5" fill="none" stroke="#3ad84a" stroke-width="0.55" />
<path d="M315 377.5L315 392" stroke="#000" stroke-width="0.5" stroke-dasharray="1.0,0.3"/>
<path d="M314.4 377.5L315.6 377.5" stroke="#111" stroke-width="0.3"/>
<path d="M314.4 392L315.6 392" stroke="#111" stroke-width="0.3"/>
<rect x="314.4" y="386.4" width="1.2" height="1.2" fill="#16204a"/>
<path d="M322.5 375L322.5 388" stroke="#000" stroke-width="0.5" stroke-dasharray="1.0,0.3"/>
<path d="M321.9 375L323.1 375" stroke="#111" stroke-width="0.3"/>
<path d="M321.9 388L323.1 388" stroke="#111" stroke-width="0.3"/>
<rect x="321.9" y="381.9" width="1.2" height="1.2" fill="#16204a"/>
<path d="M328.8 359.5L328.8 386.3" stroke="#000" stroke-width="0.5" stroke-dasharray="1.0,0.3"/>
<path d="M328.2 359.5L329.4 359.5" stroke="#111" stroke-width="0.3"/>
<path d="M328.2 386.3L329.4 386.3" stroke="#111" stroke-width="0.3"/>
<rect x="328.2" y="375.2" width="1.2" height="1.2" fill="#16204a"/>
<path d="M335 348L335 372.5" stroke="#000" stroke-width="0.5" stroke-dasharray="1.0,0.3"/>
<path d="M334.4 348L335.6 348" stroke="#111" stroke-width="0.3"/>
<path d="M334.4 372.5L335.6 372.5" stroke="#111" stroke-width="0.3"/>
<rect x="334.4" y="361.9" width="1.2" height="1.2" fill="#16204a"/>
<path d="M337 362L337 376.3" stroke="#000" stroke-width="0.5" stroke-dasharray="1.0,0.3"/>
<path d="M336.4 362L337.6 362" stroke="#111" stroke-width="0.3"/>
<path d="M336.4 376.3L337.6 376.3" stroke="#111" stroke-width="0.3"/>
<rect x="336.4" y="368.9" width="1.2" height="1.2" fill="#16204a"/>
<path d="M342.5 346.3L342.5 360.5" stroke="#000" stroke-width="0.5" stroke-dasharray="1.0,0.3"/>
<path d="M341.9 346.3L343.1 346.3" stroke="#111" stroke-width="0.3"/>
<path d="M341.9 360.5L343.1 360.5" stroke="#111" stroke-width="0.3"/>
<rect x="341.9" y="353.2" width="1.2" height="1.2" fill="#16204a"/>
<path d="M346.8 353.8L346.8 365" stroke="#000" stroke-width="0.5" stroke-dasharray="1.0,0.3"/>
<path d="M346.2 353.8L347.4 353.8" stroke="#111" stroke-width="0.3"/>
<path d="M346.2 365L347.4 365" stroke="#111" stroke-width="0.3"/>
<rect x="346.2" y="358.9" width="1.2" height="1.2" fill="#16204a"/>
<path d="M356.8 348L356.8 357.5" stroke="#000" stroke-width="0.5" stroke-dasharray="1.0,0.3"/>
<path d="M356.2 348L357.4 348" stroke="#111" stroke-width="0.3"/>
<path d="M356.2 357.5L357.4 357.5" stroke="#111" stroke-width="0.3"/>
<rect x="356.2" y="351.9" width="1.2" height="1.2" fill="#16204a"/>
<path d="M359.5 340.5L359.5 348" stroke="#000" stroke-width="0.5" stroke-dasharray="1.0,0.3"/>
<path d="M358.9 340.5L360.1 340.5" stroke="#111" stroke-width="0.3"/>
<path d="M358.9 348L360.1 348" stroke="#111" stroke-width="0.3"/>
<rect x="358.9" y="343.9" width="1.2" height="1.2" fill="#16204a"/>
<rect x="334.4" y="370.2" width="1.2" height="1.2" fill="#16204a"/>
<rect x="298.3" y="337.5" width="73" height="60.5" fill="none" stroke="#222" stroke-width="0.4"/>
<path d="M301.3 398L301.3 399" stroke="#222" stroke-width="0.3"/>
<text x="301.3" y="404.8" font-size="3.0" class="m">0.0</text>
<path d="M297.3 395.8L298.3 395.8" stroke="#222" stroke-width="0.3"/>
<text x="295" y="395.8" font-size="2.8" class="m" transform="rotate(-90 295 395.8)">0.0</text>
<path d="M314.8 398L314.8 399" stroke="#222" stroke-width="0.3"/>
<text x="314.8" y="404.8" font-size="3.0" class="m">0.2</text>
<path d="M297.3 384.64L298.3 384.64" stroke="#222" stroke-width="0.3"/>
<text x="295" y="384.64" font-size="2.8" class="m" transform="rotate(-90 295 384.64)">0.2</text>
<path d="M328.3 398L328.3 399" stroke="#222" stroke-width="0.3"/>
<text x="328.3" y="404.8" font-size="3.0" class="m">0.4</text>
<path d="M297.3 373.48L298.3 373.48" stroke="#222" stroke-width="0.3"/>
<text x="295" y="373.48" font-size="2.8" class="m" transform="rotate(-90 295 373.48)">0.4</text>
<path d="M341.8 398L341.8 399" stroke="#222" stroke-width="0.3"/>
<text x="341.8" y="404.8" font-size="3.0" class="m">0.6</text>
<path d="M297.3 362.32L298.3 362.32" stroke="#222" stroke-width="0.3"/>
<text x="295" y="362.32" font-size="2.8" class="m" transform="rotate(-90 295 362.32)">0.6</text>
<path d="M355.3 398L355.3 399" stroke="#222" stroke-width="0.3"/>
<text x="355.3" y="404.8" font-size="3.0" class="m">0.8</text>
<path d="M297.3 351.16L298.3 351.16" stroke="#222" stroke-width="0.3"/>
<text x="295" y="351.16" font-size="2.8" class="m" transform="rotate(-90 295 351.16)">0.8</text>
<path d="M368.8 398L368.8 399" stroke="#222" stroke-width="0.3"/>
<text x="368.8" y="404.8" font-size="3.0" class="m">1.0</text>
<path d="M297.3 340L298.3 340" stroke="#222" stroke-width="0.3"/>
<text x="295" y="340" font-size="2.8" class="m" transform="rotate(-90 295 340)">1.0</text>
<text x="335" y="412.4" font-size="3.3" class="m">Nomogram-predicted OS (%)</text>
<text x="287.6" y="367.5" font-size="3.3" class="m" transform="rotate(-90 287.6 367.5)">Observed OS (%)</text>
<path d="M352 386.3L356.3 386.3" stroke="#3ad84a" stroke-width="0.6"/>
<text x="358.4" y="387.4" font-size="3.3">1-year</text>
<path d="M352 390.3L356.3 390.3" stroke="#2a3ae8" stroke-width="0.6"/>
<text x="358.4" y="391.4" font-size="3.3">3-year</text>
<path d="M352 394.3L356.3 394.3" stroke="#ee3030" stroke-width="0.6"/>
<text x="358.4" y="395.4" font-size="3.3">5-year</text>
<text x="295" y="420" font-size="3.45" class="n" style="stroke:#000;stroke-width:.09px">Patients with Stage I–II</text>
<text x="322" y="426.6" font-size="1.9">Risk</text>
<path d="M326.6 426L329 426" stroke="#e41a1c" stroke-width="0.5"/>
<text x="327.8" y="426.6" font-size="2.02" class="m" style="fill:#e41a1c;stroke:#e41a1c">+</text>
<text x="330" y="426.6" font-size="1.9">high</text>
<path d="M335 426L337.4 426" stroke="#1a1ad0" stroke-width="0.5"/>
<text x="336.2" y="426.6" font-size="2.02" class="m" style="fill:#1a1ad0;stroke:#1a1ad0">+</text>
<text x="338.4" y="426.6" font-size="1.9">low</text>
<path d="M295.8 433L295.8 485.8" stroke="#222" stroke-width="0.4"/>
<path d="M295.8 485.8L373.8 485.8" stroke="#222" stroke-width="0.4"/>
<path d="M294.8 435L295.8 435" stroke="#222" stroke-width="0.3"/>
<text x="294.4" y="435.8" font-size="2.46" class="e">1.00</text>
<path d="M294.8 447L295.8 447" stroke="#222" stroke-width="0.3"/>
<text x="294.4" y="447.8" font-size="2.46" class="e">0.75</text>
<path d="M294.8 459.3L295.8 459.3" stroke="#222" stroke-width="0.3"/>
<text x="294.4" y="460.1" font-size="2.46" class="e">0.50</text>
<path d="M294.8 471.5L295.8 471.5" stroke="#222" stroke-width="0.3"/>
<text x="294.4" y="472.3" font-size="2.46" class="e">0.25</text>
<path d="M294.8 483.5L295.8 483.5" stroke="#222" stroke-width="0.3"/>
<text x="294.4" y="484.3" font-size="2.46" class="e">0.00</text>
<path d="M298.8 485.8L298.8 486.8" stroke="#222" stroke-width="0.3"/>
<text x="298.8" y="489.8" font-size="2.46" class="m">0</text>
<path d="M306.05 485.8L306.05 486.8" stroke="#222" stroke-width="0.3"/>
<text x="306.05" y="489.8" font-size="2.46" class="m">1</text>
<path d="M313.3 485.8L313.3 486.8" stroke="#222" stroke-width="0.3"/>
<text x="313.3" y="489.8" font-size="2.46" class="m">2</text>
<path d="M320.55 485.8L320.55 486.8" stroke="#222" stroke-width="0.3"/>
<text x="320.55" y="489.8" font-size="2.46" class="m">3</text>
<path d="M327.8 485.8L327.8 486.8" stroke="#222" stroke-width="0.3"/>
<text x="327.8" y="489.8" font-size="2.46" class="m">4</text>
<path d="M335.05 485.8L335.05 486.8" stroke="#222" stroke-width="0.3"/>
<text x="335.05" y="489.8" font-size="2.46" class="m">5</text>
<path d="M342.3 485.8L342.3 486.8" stroke="#222" stroke-width="0.3"/>
<text x="342.3" y="489.8" font-size="2.46" class="m">6</text>
<path d="M349.55 485.8L349.55 486.8" stroke="#222" stroke-width="0.3"/>
<text x="349.55" y="489.8" font-size="2.46" class="m">7</text>
<path d="M356.8 485.8L356.8 486.8" stroke="#222" stroke-width="0.3"/>
<text x="356.8" y="489.8" font-size="2.46" class="m">8</text>
<path d="M364.05 485.8L364.05 486.8" stroke="#222" stroke-width="0.3"/>
<text x="364.05" y="489.8" font-size="2.46" class="m">9</text>
<path d="M371.3 485.8L371.3 486.8" stroke="#222" stroke-width="0.3"/>
<text x="371.3" y="489.8" font-size="2.46" class="m">10</text>
<text x="333.8" y="493" font-size="2.91" class="m">Time(years)</text>
<text x="287.4" y="458.8" font-size="3.55" class="m n" style="fill:#333;stroke:#333" transform="rotate(-90 287.4 458.8)">Survival probability</text>
<path d="M298.8,435 H299.97 V435.38 H301.94 V436.01 H303.68 V436.57 H305 V437 H306.96 V438.68 H309.21 V440.62 H310 V441.3 H310.97 V441.87 H312.85 V442.98 H315.2 V444.35 H316.3 V445 H317.88 V446.28 H318.87 V447.09 H320 V448 H332.5 V448 H333.8 V453.8 H335.26 V455.96 H336.3 V457.5 H370 V457.5" fill="none" stroke="#1a1ad0" stroke-width="0.95"/>
<path d="M298.8,435 H300.15 V437.29 H301.81 V440.12 H302.5 V441.3 H303.99 V444.23 H306.3 V448.8 H307.94 V451.02 H309.07 V452.55 H310 V453.8 H311.96 V455.25 H313.01 V456.02 H315 V457.5 H315.76 V457.7 H317.52 V458.15 H319.49 V458.67 H320 V458.8 H321.3 V461.8 H342.5 V461.8 H342.5 V483.5" fill="none" stroke="#e41a1c" stroke-width="0.95"/>
<text x="300" y="475.6" font-size="3.2" style="stroke-width:.12px">p&lt;0.001</text>
</g>
<g id="panel_g">
<text x="386.3" y="258.9" font-size="12" class="n" style="font-family:'Liberation Serif',serif" font-weight="bold">g</text>
<rect x="408.9" y="253.3" width="37.1" height="1.9" fill="#35d0d8"/>
<rect x="446" y="253.3" width="41.5" height="1.9" fill="#f08a88"/>
<path d="M408.9 255.7h0.72v5.18h-0.72zM425.55 255.7h0.72v5.18h-0.72zM432.88 255.7h0.72v5.18h-0.72zM435.54 255.7h0.72v5.18h-0.72zM436.21 255.7h0.72v5.18h-0.72zM441.54 255.7h0.72v5.18h-0.72zM447.53 255.7h0.72v5.18h-0.72zM448.87 255.7h0.72v5.18h-0.72zM449.53 255.7h0.72v5.18h-0.72zM478.84 255.7h0.72v5.18h-0.72zM486.83 255.7h0.72v5.18h-0.72zM412.9 260.88h0.72v5.18h-0.72zM416.23 260.88h0.72v5.18h-0.72zM428.22 260.88h0.72v5.18h-0.72zM431.55 260.88h0.72v5.18h-0.72zM436.88 260.88h0.72v5.18h-0.72zM442.87 260.88h0.72v5.18h-0.72zM461.52 260.88h0.72v5.18h-0.72zM464.85 260.88h0.72v5.18h-0.72zM416.23 266.05h0.72v5.18h-0.72zM416.89 266.05h0.72v5.18h-0.72zM419.56 266.05h0.72v5.18h-0.72zM425.55 266.05h0.72v5.18h-0.72zM448.87 266.05h0.72v5.18h-0.72zM453.53 266.05h0.72v5.18h-0.72zM463.52 266.05h0.72v5.18h-0.72zM469.52 266.05h0.72v5.18h-0.72zM479.51 266.05h0.72v5.18h-0.72zM484.84 266.05h0.72v5.18h-0.72zM412.9 271.23h0.72v5.18h-0.72zM425.55 271.23h0.72v5.18h-0.72zM431.55 271.23h0.72v5.18h-0.72zM452.86 271.23h0.72v5.18h-0.72zM462.19 271.23h0.72v5.18h-0.72zM468.18 271.23h0.72v5.18h-0.72zM469.52 271.23h0.72v5.18h-0.72zM476.84 271.23h0.72v5.18h-0.72zM478.84 271.23h0.72v5.18h-0.72zM409.57 276.41h0.72v5.18h-0.72zM412.9 276.41h0.72v5.18h-0.72zM413.56 276.41h0.72v5.18h-0.72zM414.89 276.41h0.72v5.18h-0.72zM424.89 276.41h0.72v5.18h-0.72zM425.55 276.41h0.72v5.18h-0.72zM429.55 276.41h0.72v5.18h-0.72zM432.88 276.41h0.72v5.18h-0.72zM436.21 276.41h0.72v5.18h-0.72zM437.54 276.41h0.72v5.18h-0.72zM443.54 276.41h0.72v5.18h-0.72zM444.2 276.41h0.72v5.18h-0.72zM453.53 276.41h0.72v5.18h-0.72zM458.19 276.41h0.72v5.18h-0.72zM460.86 276.41h0.72v5.18h-0.72zM469.52 276.41h0.72v5.18h-0.72zM484.84 276.41h0.72v5.18h-0.72zM412.23 281.58h0.72v5.18h-0.72zM416.89 281.58h0.72v5.18h-0.72zM421.56 281.58h0.72v5.18h-0.72zM428.22 281.58h0.72v5.18h-0.72zM436.88 281.58h0.72v5.18h-0.72zM438.87 281.58h0.72v5.18h-0.72zM442.21 281.58h0.72v5.18h-0.72zM445.54 281.58h0.72v5.18h-0.72zM446.2 281.58h0.72v5.18h-0.72zM461.52 281.58h0.72v5.18h-0.72zM465.52 281.58h0.72v5.18h-0.72zM472.18 281.58h0.72v5.18h-0.72zM477.51 281.58h0.72v5.18h-0.72zM478.17 281.58h0.72v5.18h-0.72zM479.51 281.58h0.72v5.18h-0.72zM485.5 281.58h0.72v5.18h-0.72zM424.22 286.76h0.72v5.18h-0.72zM425.55 286.76h0.72v5.18h-0.72zM428.22 286.76h0.72v5.18h-0.72zM431.55 286.76h0.72v5.18h-0.72zM441.54 286.76h0.72v5.18h-0.72zM454.19 286.76h0.72v5.18h-0.72zM467.52 286.76h0.72v5.18h-0.72zM421.56 291.94h0.72v5.18h-0.72zM430.22 291.94h0.72v5.18h-0.72zM436.88 291.94h0.72v5.18h-0.72zM442.87 291.94h0.72v5.18h-0.72zM445.54 291.94h0.72v5.18h-0.72zM460.86 291.94h0.72v5.18h-0.72zM469.52 291.94h0.72v5.18h-0.72zM418.23 297.12h0.72v5.18h-0.72zM424.89 297.12h0.72v5.18h-0.72zM428.22 297.12h0.72v5.18h-0.72zM456.19 297.12h0.72v5.18h-0.72zM463.52 297.12h0.72v5.18h-0.72zM468.18 297.12h0.72v5.18h-0.72zM470.18 297.12h0.72v5.18h-0.72zM409.57 302.29h0.72v5.18h-0.72zM418.23 302.29h0.72v5.18h-0.72zM424.89 302.29h0.72v5.18h-0.72zM433.55 302.29h0.72v5.18h-0.72zM436.21 302.29h0.72v5.18h-0.72zM438.87 302.29h0.72v5.18h-0.72zM453.53 302.29h0.72v5.18h-0.72zM460.86 302.29h0.72v5.18h-0.72zM464.85 302.29h0.72v5.18h-0.72zM477.51 302.29h0.72v5.18h-0.72zM482.17 302.29h0.72v5.18h-0.72zM419.56 307.47h0.72v5.18h-0.72zM440.87 307.47h0.72v5.18h-0.72zM445.54 307.47h0.72v5.18h-0.72zM449.53 307.47h0.72v5.18h-0.72zM462.19 307.47h0.72v5.18h-0.72zM465.52 307.47h0.72v5.18h-0.72zM472.18 307.47h0.72v5.18h-0.72zM484.17 307.47h0.72v5.18h-0.72zM421.56 312.65h0.72v5.18h-0.72zM442.87 312.65h0.72v5.18h-0.72zM453.53 312.65h0.72v5.18h-0.72zM479.51 312.65h0.72v5.18h-0.72zM482.17 312.65h0.72v5.18h-0.72zM484.17 312.65h0.72v5.18h-0.72zM412.9 317.82h0.72v5.18h-0.72zM416.23 317.82h0.72v5.18h-0.72zM418.23 317.82h0.72v5.18h-0.72zM442.87 317.82h0.72v5.18h-0.72zM448.87 317.82h0.72v5.18h-0.72zM456.86 317.82h0.72v5.18h-0.72zM464.85 317.82h0.72v5.18h-0.72zM467.52 317.82h0.72v5.18h-0.72zM470.18 317.82h0.72v5.18h-0.72zM478.17 317.82h0.72v5.18h-0.72zM486.83 317.82h0.72v5.18h-0.72z" fill="#a56cc0"/>
<path d="M409.57 255.7h0.72v5.18h-0.72zM412.9 255.7h0.72v5.18h-0.72zM419.56 255.7h0.72v5.18h-0.72zM424.22 255.7h0.72v5.18h-0.72zM431.55 255.7h0.72v5.18h-0.72zM462.85 255.7h0.72v5.18h-0.72zM464.85 255.7h0.72v5.18h-0.72zM465.52 255.7h0.72v5.18h-0.72zM472.18 255.7h0.72v5.18h-0.72zM480.84 255.7h0.72v5.18h-0.72zM449.53 260.88h0.72v5.18h-0.72zM453.53 260.88h0.72v5.18h-0.72zM470.85 260.88h0.72v5.18h-0.72zM484.17 260.88h0.72v5.18h-0.72zM486.83 260.88h0.72v5.18h-0.72zM427.55 266.05h0.72v5.18h-0.72zM428.22 266.05h0.72v5.18h-0.72zM429.55 266.05h0.72v5.18h-0.72zM436.88 266.05h0.72v5.18h-0.72zM444.2 266.05h0.72v5.18h-0.72zM449.53 266.05h0.72v5.18h-0.72zM480.17 266.05h0.72v5.18h-0.72zM484.17 266.05h0.72v5.18h-0.72zM429.55 271.23h0.72v5.18h-0.72zM432.88 271.23h0.72v5.18h-0.72zM434.88 271.23h0.72v5.18h-0.72zM436.88 271.23h0.72v5.18h-0.72zM446.2 271.23h0.72v5.18h-0.72zM462.85 271.23h0.72v5.18h-0.72zM467.52 271.23h0.72v5.18h-0.72zM472.18 271.23h0.72v5.18h-0.72zM478.17 271.23h0.72v5.18h-0.72zM485.5 271.23h0.72v5.18h-0.72zM486.83 271.23h0.72v5.18h-0.72zM435.54 276.41h0.72v5.18h-0.72zM436.88 276.41h0.72v5.18h-0.72zM438.21 276.41h0.72v5.18h-0.72zM448.87 276.41h0.72v5.18h-0.72zM452.2 276.41h0.72v5.18h-0.72zM420.22 281.58h0.72v5.18h-0.72zM424.89 281.58h0.72v5.18h-0.72zM427.55 281.58h0.72v5.18h-0.72zM433.55 281.58h0.72v5.18h-0.72zM434.88 281.58h0.72v5.18h-0.72zM440.87 281.58h0.72v5.18h-0.72zM447.53 281.58h0.72v5.18h-0.72zM460.86 281.58h0.72v5.18h-0.72zM482.84 281.58h0.72v5.18h-0.72zM416.23 286.76h0.72v5.18h-0.72zM429.55 286.76h0.72v5.18h-0.72zM430.88 286.76h0.72v5.18h-0.72zM438.87 286.76h0.72v5.18h-0.72zM440.21 286.76h0.72v5.18h-0.72zM440.87 286.76h0.72v5.18h-0.72zM442.21 286.76h0.72v5.18h-0.72zM445.54 286.76h0.72v5.18h-0.72zM453.53 286.76h0.72v5.18h-0.72zM456.19 286.76h0.72v5.18h-0.72zM460.86 286.76h0.72v5.18h-0.72zM462.85 286.76h0.72v5.18h-0.72zM425.55 291.94h0.72v5.18h-0.72zM453.53 291.94h0.72v5.18h-0.72zM460.19 291.94h0.72v5.18h-0.72zM465.52 291.94h0.72v5.18h-0.72zM468.18 291.94h0.72v5.18h-0.72zM478.17 291.94h0.72v5.18h-0.72zM484.17 291.94h0.72v5.18h-0.72zM420.22 297.12h0.72v5.18h-0.72zM431.55 297.12h0.72v5.18h-0.72zM440.87 297.12h0.72v5.18h-0.72zM448.2 297.12h0.72v5.18h-0.72zM462.85 297.12h0.72v5.18h-0.72zM476.84 297.12h0.72v5.18h-0.72zM410.23 302.29h0.72v5.18h-0.72zM412.23 302.29h0.72v5.18h-0.72zM428.22 302.29h0.72v5.18h-0.72zM440.87 302.29h0.72v5.18h-0.72zM452.86 302.29h0.72v5.18h-0.72zM462.19 302.29h0.72v5.18h-0.72zM462.85 302.29h0.72v5.18h-0.72zM471.51 302.29h0.72v5.18h-0.72zM472.18 302.29h0.72v5.18h-0.72zM476.84 302.29h0.72v5.18h-0.72zM480.17 302.29h0.72v5.18h-0.72zM410.23 307.47h0.72v5.18h-0.72zM413.56 307.47h0.72v5.18h-0.72zM420.22 307.47h0.72v5.18h-0.72zM428.22 307.47h0.72v5.18h-0.72zM433.55 307.47h0.72v5.18h-0.72zM436.21 307.47h0.72v5.18h-0.72zM448.2 307.47h0.72v5.18h-0.72zM470.18 307.47h0.72v5.18h-0.72zM471.51 307.47h0.72v5.18h-0.72zM479.51 307.47h0.72v5.18h-0.72zM482.17 307.47h0.72v5.18h-0.72zM409.57 312.65h0.72v5.18h-0.72zM418.23 312.65h0.72v5.18h-0.72zM424.22 312.65h0.72v5.18h-0.72zM428.22 312.65h0.72v5.18h-0.72zM429.55 312.65h0.72v5.18h-0.72zM436.88 312.65h0.72v5.18h-0.72zM447.53 312.65h0.72v5.18h-0.72zM449.53 312.65h0.72v5.18h-0.72zM462.19 312.65h0.72v5.18h-0.72zM469.52 312.65h0.72v5.18h-0.72zM478.17 312.65h0.72v5.18h-0.72zM484.84 312.65h0.72v5.18h-0.72zM424.22 317.82h0.72v5.18h-0.72zM452.86 317.82h0.72v5.18h-0.72zM462.19 317.82h0.72v5.18h-0.72zM468.18 317.82h0.72v5.18h-0.72zM469.52 317.82h0.72v5.18h-0.72z" fill="#b272be"/>
<path d="M410.23 255.7h0.72v5.18h-0.72zM411.56 255.7h0.72v5.18h-0.72zM432.21 255.7h0.72v5.18h-0.72zM456.19 255.7h0.72v5.18h-0.72zM451.53 260.88h0.72v5.18h-0.72zM458.86 260.88h0.72v5.18h-0.72zM468.85 260.88h0.72v5.18h-0.72zM473.51 260.88h0.72v5.18h-0.72zM483.5 260.88h0.72v5.18h-0.72zM411.56 266.05h0.72v5.18h-0.72zM476.84 266.05h0.72v5.18h-0.72zM452.2 271.23h0.72v5.18h-0.72zM455.53 271.23h0.72v5.18h-0.72zM458.19 271.23h0.72v5.18h-0.72zM459.52 271.23h0.72v5.18h-0.72zM470.85 271.23h0.72v5.18h-0.72zM482.84 271.23h0.72v5.18h-0.72zM483.5 271.23h0.72v5.18h-0.72zM415.56 276.41h0.72v5.18h-0.72zM442.21 276.41h0.72v5.18h-0.72zM451.53 276.41h0.72v5.18h-0.72zM464.19 276.41h0.72v5.18h-0.72zM432.21 281.58h0.72v5.18h-0.72zM452.2 281.58h0.72v5.18h-0.72zM459.52 281.58h0.72v5.18h-0.72zM451.53 286.76h0.72v5.18h-0.72zM472.85 286.76h0.72v5.18h-0.72zM483.5 286.76h0.72v5.18h-0.72zM419.56 291.94h0.72v5.18h-0.72zM434.88 291.94h0.72v5.18h-0.72zM472.85 291.94h0.72v5.18h-0.72zM435.54 297.12h0.72v5.18h-0.72zM446.87 297.12h0.72v5.18h-0.72zM451.53 297.12h0.72v5.18h-0.72zM476.18 297.12h0.72v5.18h-0.72zM452.2 302.29h0.72v5.18h-0.72zM474.18 302.29h0.72v5.18h-0.72zM415.56 307.47h0.72v5.18h-0.72zM435.54 307.47h0.72v5.18h-0.72zM451.53 307.47h0.72v5.18h-0.72zM455.53 307.47h0.72v5.18h-0.72zM458.86 307.47h0.72v5.18h-0.72zM464.19 307.47h0.72v5.18h-0.72zM473.51 307.47h0.72v5.18h-0.72zM411.56 312.65h0.72v5.18h-0.72zM430.88 312.65h0.72v5.18h-0.72zM452.2 312.65h0.72v5.18h-0.72zM466.85 312.65h0.72v5.18h-0.72zM468.85 312.65h0.72v5.18h-0.72zM430.88 317.82h0.72v5.18h-0.72zM455.53 317.82h0.72v5.18h-0.72zM472.85 317.82h0.72v5.18h-0.72zM476.84 317.82h0.72v5.18h-0.72zM480.84 317.82h0.72v5.18h-0.72zM483.5 317.82h0.72v5.18h-0.72z" fill="#c94d7c"/>
<path d="M410.9 255.7h0.72v5.18h-0.72zM451.53 271.23h0.72v5.18h-0.72zM464.19 271.23h0.72v5.18h-0.72zM473.51 271.23h0.72v5.18h-0.72zM472.85 276.41h0.72v5.18h-0.72zM474.84 281.58h0.72v5.18h-0.72zM481.51 281.58h0.72v5.18h-0.72zM410.9 291.94h0.72v5.18h-0.72zM459.52 291.94h0.72v5.18h-0.72zM464.19 291.94h0.72v5.18h-0.72zM480.84 291.94h0.72v5.18h-0.72zM458.86 297.12h0.72v5.18h-0.72zM459.52 302.29h0.72v5.18h-0.72zM474.84 302.29h0.72v5.18h-0.72zM459.52 307.47h0.72v5.18h-0.72zM474.18 307.47h0.72v5.18h-0.72zM432.21 312.65h0.72v5.18h-0.72z" fill="#d43a5b"/>
<path d="M412.23 255.7h0.72v5.18h-0.72zM415.56 255.7h0.72v5.18h-0.72zM437.54 255.7h0.72v5.18h-0.72zM438.87 255.7h0.72v5.18h-0.72zM444.2 255.7h0.72v5.18h-0.72zM445.54 255.7h0.72v5.18h-0.72zM454.19 255.7h0.72v5.18h-0.72zM412.23 260.88h0.72v5.18h-0.72zM417.56 260.88h0.72v5.18h-0.72zM428.88 260.88h0.72v5.18h-0.72zM432.88 260.88h0.72v5.18h-0.72zM443.54 260.88h0.72v5.18h-0.72zM444.2 260.88h0.72v5.18h-0.72zM478.84 260.88h0.72v5.18h-0.72zM480.17 260.88h0.72v5.18h-0.72zM410.9 266.05h0.72v5.18h-0.72zM424.89 266.05h0.72v5.18h-0.72zM430.22 266.05h0.72v5.18h-0.72zM433.55 266.05h0.72v5.18h-0.72zM437.54 266.05h0.72v5.18h-0.72zM445.54 266.05h0.72v5.18h-0.72zM446.2 266.05h0.72v5.18h-0.72zM456.86 266.05h0.72v5.18h-0.72zM471.51 266.05h0.72v5.18h-0.72zM476.18 266.05h0.72v5.18h-0.72zM416.89 271.23h0.72v5.18h-0.72zM421.56 271.23h0.72v5.18h-0.72zM422.89 271.23h0.72v5.18h-0.72zM427.55 271.23h0.72v5.18h-0.72zM438.87 271.23h0.72v5.18h-0.72zM453.53 271.23h0.72v5.18h-0.72zM461.52 271.23h0.72v5.18h-0.72zM470.18 271.23h0.72v5.18h-0.72zM484.17 271.23h0.72v5.18h-0.72zM418.89 276.41h0.72v5.18h-0.72zM419.56 276.41h0.72v5.18h-0.72zM427.55 276.41h0.72v5.18h-0.72zM430.22 276.41h0.72v5.18h-0.72zM441.54 276.41h0.72v5.18h-0.72zM452.86 276.41h0.72v5.18h-0.72zM456.86 276.41h0.72v5.18h-0.72zM484.17 276.41h0.72v5.18h-0.72zM425.55 281.58h0.72v5.18h-0.72zM431.55 281.58h0.72v5.18h-0.72zM432.88 281.58h0.72v5.18h-0.72zM442.87 281.58h0.72v5.18h-0.72zM443.54 281.58h0.72v5.18h-0.72zM448.2 281.58h0.72v5.18h-0.72zM453.53 281.58h0.72v5.18h-0.72zM463.52 281.58h0.72v5.18h-0.72zM466.18 281.58h0.72v5.18h-0.72zM470.18 281.58h0.72v5.18h-0.72zM412.9 286.76h0.72v5.18h-0.72zM413.56 286.76h0.72v5.18h-0.72zM416.89 286.76h0.72v5.18h-0.72zM418.23 286.76h0.72v5.18h-0.72zM426.22 286.76h0.72v5.18h-0.72zM430.22 286.76h0.72v5.18h-0.72zM433.55 286.76h0.72v5.18h-0.72zM438.21 286.76h0.72v5.18h-0.72zM442.87 286.76h0.72v5.18h-0.72zM452.86 286.76h0.72v5.18h-0.72zM463.52 286.76h0.72v5.18h-0.72zM464.85 286.76h0.72v5.18h-0.72zM478.84 286.76h0.72v5.18h-0.72zM484.17 286.76h0.72v5.18h-0.72zM412.23 291.94h0.72v5.18h-0.72zM413.56 291.94h0.72v5.18h-0.72zM422.89 291.94h0.72v5.18h-0.72zM432.88 291.94h0.72v5.18h-0.72zM448.87 291.94h0.72v5.18h-0.72zM449.53 291.94h0.72v5.18h-0.72zM470.18 291.94h0.72v5.18h-0.72zM476.18 291.94h0.72v5.18h-0.72zM480.17 291.94h0.72v5.18h-0.72zM484.84 291.94h0.72v5.18h-0.72zM432.88 297.12h0.72v5.18h-0.72zM433.55 297.12h0.72v5.18h-0.72zM434.88 297.12h0.72v5.18h-0.72zM436.21 297.12h0.72v5.18h-0.72zM443.54 297.12h0.72v5.18h-0.72zM449.53 297.12h0.72v5.18h-0.72zM460.86 297.12h0.72v5.18h-0.72zM465.52 297.12h0.72v5.18h-0.72zM471.51 297.12h0.72v5.18h-0.72zM413.56 302.29h0.72v5.18h-0.72zM414.89 302.29h0.72v5.18h-0.72zM437.54 302.29h0.72v5.18h-0.72zM445.54 302.29h0.72v5.18h-0.72zM449.53 302.29h0.72v5.18h-0.72zM454.19 302.29h0.72v5.18h-0.72zM461.52 302.29h0.72v5.18h-0.72zM469.52 302.29h0.72v5.18h-0.72zM486.83 302.29h0.72v5.18h-0.72zM412.23 307.47h0.72v5.18h-0.72zM414.23 307.47h0.72v5.18h-0.72zM416.89 307.47h0.72v5.18h-0.72zM425.55 307.47h0.72v5.18h-0.72zM434.88 307.47h0.72v5.18h-0.72zM447.53 307.47h0.72v5.18h-0.72zM454.19 307.47h0.72v5.18h-0.72zM463.52 307.47h0.72v5.18h-0.72zM464.85 307.47h0.72v5.18h-0.72zM480.17 307.47h0.72v5.18h-0.72zM414.89 312.65h0.72v5.18h-0.72zM428.88 312.65h0.72v5.18h-0.72zM441.54 312.65h0.72v5.18h-0.72zM444.2 312.65h0.72v5.18h-0.72zM445.54 312.65h0.72v5.18h-0.72zM448.87 312.65h0.72v5.18h-0.72zM460.86 312.65h0.72v5.18h-0.72zM461.52 312.65h0.72v5.18h-0.72zM486.83 312.65h0.72v5.18h-0.72zM409.57 317.82h0.72v5.18h-0.72zM412.23 317.82h0.72v5.18h-0.72zM413.56 317.82h0.72v5.18h-0.72zM421.56 317.82h0.72v5.18h-0.72zM427.55 317.82h0.72v5.18h-0.72zM428.22 317.82h0.72v5.18h-0.72zM437.54 317.82h0.72v5.18h-0.72z" fill="#8c5fc2"/>
<path d="M413.56 255.7h0.72v5.18h-0.72zM418.23 255.7h0.72v5.18h-0.72zM421.56 255.7h0.72v5.18h-0.72zM428.22 255.7h0.72v5.18h-0.72zM443.54 255.7h0.72v5.18h-0.72zM446.2 255.7h0.72v5.18h-0.72zM420.22 260.88h0.72v5.18h-0.72zM463.52 260.88h0.72v5.18h-0.72zM409.57 266.05h0.72v5.18h-0.72zM412.23 266.05h0.72v5.18h-0.72zM413.56 266.05h0.72v5.18h-0.72zM426.22 266.05h0.72v5.18h-0.72zM428.88 266.05h0.72v5.18h-0.72zM441.54 266.05h0.72v5.18h-0.72zM450.2 266.05h0.72v5.18h-0.72zM464.85 266.05h0.72v5.18h-0.72zM478.17 266.05h0.72v5.18h-0.72zM414.89 271.23h0.72v5.18h-0.72zM419.56 271.23h0.72v5.18h-0.72zM426.22 271.23h0.72v5.18h-0.72zM428.88 271.23h0.72v5.18h-0.72zM440.87 271.23h0.72v5.18h-0.72zM441.54 271.23h0.72v5.18h-0.72zM442.87 271.23h0.72v5.18h-0.72zM443.54 271.23h0.72v5.18h-0.72zM445.54 271.23h0.72v5.18h-0.72zM448.2 271.23h0.72v5.18h-0.72zM428.22 276.41h0.72v5.18h-0.72zM433.55 276.41h0.72v5.18h-0.72zM434.21 276.41h0.72v5.18h-0.72zM440.87 276.41h0.72v5.18h-0.72zM445.54 276.41h0.72v5.18h-0.72zM461.52 276.41h0.72v5.18h-0.72zM463.52 276.41h0.72v5.18h-0.72zM428.88 281.58h0.72v5.18h-0.72zM450.86 281.58h0.72v5.18h-0.72zM464.85 281.58h0.72v5.18h-0.72zM469.52 281.58h0.72v5.18h-0.72zM480.17 281.58h0.72v5.18h-0.72zM434.21 286.76h0.72v5.18h-0.72zM450.2 286.76h0.72v5.18h-0.72zM456.86 286.76h0.72v5.18h-0.72zM480.17 286.76h0.72v5.18h-0.72zM409.57 291.94h0.72v5.18h-0.72zM412.9 291.94h0.72v5.18h-0.72zM428.22 291.94h0.72v5.18h-0.72zM437.54 291.94h0.72v5.18h-0.72zM438.21 291.94h0.72v5.18h-0.72zM440.21 291.94h0.72v5.18h-0.72zM409.57 297.12h0.72v5.18h-0.72zM437.54 297.12h0.72v5.18h-0.72zM454.19 297.12h0.72v5.18h-0.72zM464.85 297.12h0.72v5.18h-0.72zM469.52 297.12h0.72v5.18h-0.72zM480.17 297.12h0.72v5.18h-0.72zM420.22 302.29h0.72v5.18h-0.72zM427.55 302.29h0.72v5.18h-0.72zM430.22 302.29h0.72v5.18h-0.72zM478.84 302.29h0.72v5.18h-0.72zM418.23 307.47h0.72v5.18h-0.72zM428.88 307.47h0.72v5.18h-0.72zM436.88 307.47h0.72v5.18h-0.72zM438.87 307.47h0.72v5.18h-0.72zM446.2 307.47h0.72v5.18h-0.72zM450.2 307.47h0.72v5.18h-0.72zM469.52 307.47h0.72v5.18h-0.72zM408.9 312.65h0.72v5.18h-0.72zM420.22 312.65h0.72v5.18h-0.72zM427.55 312.65h0.72v5.18h-0.72zM438.87 312.65h0.72v5.18h-0.72zM443.54 312.65h0.72v5.18h-0.72zM450.86 312.65h0.72v5.18h-0.72zM471.51 312.65h0.72v5.18h-0.72zM418.89 317.82h0.72v5.18h-0.72zM428.88 317.82h0.72v5.18h-0.72zM434.21 317.82h0.72v5.18h-0.72zM436.88 317.82h0.72v5.18h-0.72zM445.54 317.82h0.72v5.18h-0.72zM446.2 317.82h0.72v5.18h-0.72zM461.52 317.82h0.72v5.18h-0.72zM477.51 317.82h0.72v5.18h-0.72z" fill="#7f58c4"/>
<path d="M414.23 255.7h0.72v5.18h-0.72zM423.55 255.7h0.72v5.18h-0.72zM440.21 255.7h0.72v5.18h-0.72zM450.2 255.7h0.72v5.18h-0.72zM450.86 255.7h0.72v5.18h-0.72zM471.51 255.7h0.72v5.18h-0.72zM422.22 260.88h0.72v5.18h-0.72zM408.9 266.05h0.72v5.18h-0.72zM414.23 266.05h0.72v5.18h-0.72zM417.56 266.05h0.72v5.18h-0.72zM418.89 266.05h0.72v5.18h-0.72zM422.22 266.05h0.72v5.18h-0.72zM417.56 271.23h0.72v5.18h-0.72zM438.21 271.23h0.72v5.18h-0.72zM463.52 271.23h0.72v5.18h-0.72zM414.23 276.41h0.72v5.18h-0.72zM423.55 276.41h0.72v5.18h-0.72zM440.21 276.41h0.72v5.18h-0.72zM414.89 281.58h0.72v5.18h-0.72zM420.89 281.58h0.72v5.18h-0.72zM422.89 281.58h0.72v5.18h-0.72zM444.87 281.58h0.72v5.18h-0.72zM414.23 286.76h0.72v5.18h-0.72zM439.54 286.76h0.72v5.18h-0.72zM444.87 286.76h0.72v5.18h-0.72zM420.89 297.12h0.72v5.18h-0.72zM426.88 297.12h0.72v5.18h-0.72zM430.22 297.12h0.72v5.18h-0.72zM434.21 297.12h0.72v5.18h-0.72zM440.21 297.12h0.72v5.18h-0.72zM450.2 297.12h0.72v5.18h-0.72zM422.89 302.29h0.72v5.18h-0.72zM426.88 302.29h0.72v5.18h-0.72zM440.21 302.29h0.72v5.18h-0.72zM414.89 307.47h0.72v5.18h-0.72zM422.89 307.47h0.72v5.18h-0.72zM430.22 307.47h0.72v5.18h-0.72zM440.21 307.47h0.72v5.18h-0.72zM450.86 307.47h0.72v5.18h-0.72zM422.22 312.65h0.72v5.18h-0.72zM440.21 312.65h0.72v5.18h-0.72zM438.21 317.82h0.72v5.18h-0.72zM450.86 317.82h0.72v5.18h-0.72zM478.84 317.82h0.72v5.18h-0.72z" fill="#4c3fca"/>
<path d="M414.89 255.7h0.72v5.18h-0.72zM427.55 255.7h0.72v5.18h-0.72zM428.88 255.7h0.72v5.18h-0.72zM436.88 255.7h0.72v5.18h-0.72zM442.87 255.7h0.72v5.18h-0.72zM456.86 255.7h0.72v5.18h-0.72zM460.86 255.7h0.72v5.18h-0.72zM477.51 255.7h0.72v5.18h-0.72zM424.89 260.88h0.72v5.18h-0.72zM425.55 260.88h0.72v5.18h-0.72zM433.55 260.88h0.72v5.18h-0.72zM440.87 260.88h0.72v5.18h-0.72zM445.54 260.88h0.72v5.18h-0.72zM447.53 260.88h0.72v5.18h-0.72zM448.87 260.88h0.72v5.18h-0.72zM469.52 260.88h0.72v5.18h-0.72zM478.17 260.88h0.72v5.18h-0.72zM482.17 260.88h0.72v5.18h-0.72zM485.5 260.88h0.72v5.18h-0.72zM412.9 266.05h0.72v5.18h-0.72zM415.56 266.05h0.72v5.18h-0.72zM434.88 266.05h0.72v5.18h-0.72zM436.21 266.05h0.72v5.18h-0.72zM460.86 266.05h0.72v5.18h-0.72zM461.52 266.05h0.72v5.18h-0.72zM465.52 266.05h0.72v5.18h-0.72zM477.51 266.05h0.72v5.18h-0.72zM478.84 266.05h0.72v5.18h-0.72zM409.57 271.23h0.72v5.18h-0.72zM413.56 271.23h0.72v5.18h-0.72zM416.23 271.23h0.72v5.18h-0.72zM420.22 271.23h0.72v5.18h-0.72zM423.55 271.23h0.72v5.18h-0.72zM428.22 271.23h0.72v5.18h-0.72zM444.2 271.23h0.72v5.18h-0.72zM456.86 271.23h0.72v5.18h-0.72zM468.85 271.23h0.72v5.18h-0.72zM477.51 271.23h0.72v5.18h-0.72zM484.84 271.23h0.72v5.18h-0.72zM416.23 276.41h0.72v5.18h-0.72zM446.2 276.41h0.72v5.18h-0.72zM448.2 276.41h0.72v5.18h-0.72zM454.19 276.41h0.72v5.18h-0.72zM482.17 276.41h0.72v5.18h-0.72zM485.5 276.41h0.72v5.18h-0.72zM409.57 281.58h0.72v5.18h-0.72zM416.23 281.58h0.72v5.18h-0.72zM417.56 281.58h0.72v5.18h-0.72zM418.89 281.58h0.72v5.18h-0.72zM419.56 281.58h0.72v5.18h-0.72zM436.21 281.58h0.72v5.18h-0.72zM438.21 281.58h0.72v5.18h-0.72zM440.21 281.58h0.72v5.18h-0.72zM441.54 281.58h0.72v5.18h-0.72zM444.2 281.58h0.72v5.18h-0.72zM450.2 281.58h0.72v5.18h-0.72zM452.86 281.58h0.72v5.18h-0.72zM471.51 281.58h0.72v5.18h-0.72zM480.84 281.58h0.72v5.18h-0.72zM486.83 281.58h0.72v5.18h-0.72zM412.23 286.76h0.72v5.18h-0.72zM418.89 286.76h0.72v5.18h-0.72zM444.2 286.76h0.72v5.18h-0.72zM446.2 286.76h0.72v5.18h-0.72zM448.2 286.76h0.72v5.18h-0.72zM448.87 286.76h0.72v5.18h-0.72zM449.53 286.76h0.72v5.18h-0.72zM461.52 286.76h0.72v5.18h-0.72zM465.52 286.76h0.72v5.18h-0.72zM468.18 286.76h0.72v5.18h-0.72zM469.52 286.76h0.72v5.18h-0.72zM477.51 286.76h0.72v5.18h-0.72zM486.83 286.76h0.72v5.18h-0.72zM416.23 291.94h0.72v5.18h-0.72zM424.89 291.94h0.72v5.18h-0.72zM443.54 291.94h0.72v5.18h-0.72zM452.86 291.94h0.72v5.18h-0.72zM454.19 291.94h0.72v5.18h-0.72zM456.86 291.94h0.72v5.18h-0.72zM464.85 291.94h0.72v5.18h-0.72zM467.52 291.94h0.72v5.18h-0.72zM470.85 291.94h0.72v5.18h-0.72zM471.51 291.94h0.72v5.18h-0.72zM486.83 291.94h0.72v5.18h-0.72zM415.56 297.12h0.72v5.18h-0.72zM416.23 297.12h0.72v5.18h-0.72zM438.87 297.12h0.72v5.18h-0.72zM442.87 297.12h0.72v5.18h-0.72zM456.86 297.12h0.72v5.18h-0.72zM478.84 297.12h0.72v5.18h-0.72zM486.83 297.12h0.72v5.18h-0.72zM419.56 302.29h0.72v5.18h-0.72zM424.22 302.29h0.72v5.18h-0.72zM432.88 302.29h0.72v5.18h-0.72zM441.54 302.29h0.72v5.18h-0.72zM446.2 302.29h0.72v5.18h-0.72zM448.87 302.29h0.72v5.18h-0.72zM463.52 302.29h0.72v5.18h-0.72zM485.5 302.29h0.72v5.18h-0.72zM412.9 307.47h0.72v5.18h-0.72zM416.23 307.47h0.72v5.18h-0.72zM431.55 307.47h0.72v5.18h-0.72zM437.54 307.47h0.72v5.18h-0.72zM444.2 307.47h0.72v5.18h-0.72zM452.2 307.47h0.72v5.18h-0.72zM456.86 307.47h0.72v5.18h-0.72zM462.85 307.47h0.72v5.18h-0.72zM467.52 307.47h0.72v5.18h-0.72zM478.17 307.47h0.72v5.18h-0.72zM485.5 307.47h0.72v5.18h-0.72zM412.9 312.65h0.72v5.18h-0.72zM413.56 312.65h0.72v5.18h-0.72zM416.23 312.65h0.72v5.18h-0.72zM419.56 312.65h0.72v5.18h-0.72zM424.89 312.65h0.72v5.18h-0.72zM426.22 312.65h0.72v5.18h-0.72zM432.88 312.65h0.72v5.18h-0.72zM433.55 312.65h0.72v5.18h-0.72zM434.88 312.65h0.72v5.18h-0.72zM436.21 312.65h0.72v5.18h-0.72zM440.87 312.65h0.72v5.18h-0.72zM464.85 312.65h0.72v5.18h-0.72zM480.17 312.65h0.72v5.18h-0.72zM420.22 317.82h0.72v5.18h-0.72zM425.55 317.82h0.72v5.18h-0.72zM429.55 317.82h0.72v5.18h-0.72zM443.54 317.82h0.72v5.18h-0.72zM460.86 317.82h0.72v5.18h-0.72zM463.52 317.82h0.72v5.18h-0.72zM465.52 317.82h0.72v5.18h-0.72zM480.17 317.82h0.72v5.18h-0.72zM484.17 317.82h0.72v5.18h-0.72zM484.84 317.82h0.72v5.18h-0.72zM485.5 317.82h0.72v5.18h-0.72z" fill="#9865c1"/>
<path d="M416.23 255.7h0.72v5.18h-0.72zM417.56 255.7h0.72v5.18h-0.72zM418.89 255.7h0.72v5.18h-0.72zM422.89 255.7h0.72v5.18h-0.72zM430.22 255.7h0.72v5.18h-0.72zM461.52 255.7h0.72v5.18h-0.72zM414.89 260.88h0.72v5.18h-0.72zM418.89 260.88h0.72v5.18h-0.72zM427.55 260.88h0.72v5.18h-0.72zM438.21 260.88h0.72v5.18h-0.72zM440.21 260.88h0.72v5.18h-0.72zM421.56 266.05h0.72v5.18h-0.72zM434.21 266.05h0.72v5.18h-0.72zM438.21 266.05h0.72v5.18h-0.72zM440.87 266.05h0.72v5.18h-0.72zM450.86 266.05h0.72v5.18h-0.72zM466.18 266.05h0.72v5.18h-0.72zM412.23 271.23h0.72v5.18h-0.72zM418.23 271.23h0.72v5.18h-0.72zM430.22 271.23h0.72v5.18h-0.72zM466.18 271.23h0.72v5.18h-0.72zM408.9 276.41h0.72v5.18h-0.72zM418.23 276.41h0.72v5.18h-0.72zM450.2 276.41h0.72v5.18h-0.72zM450.86 276.41h0.72v5.18h-0.72zM465.52 276.41h0.72v5.18h-0.72zM477.51 276.41h0.72v5.18h-0.72zM408.9 281.58h0.72v5.18h-0.72zM413.56 281.58h0.72v5.18h-0.72zM426.22 281.58h0.72v5.18h-0.72zM426.88 281.58h0.72v5.18h-0.72zM437.54 286.76h0.72v5.18h-0.72zM414.23 291.94h0.72v5.18h-0.72zM436.21 291.94h0.72v5.18h-0.72zM444.2 291.94h0.72v5.18h-0.72zM447.53 291.94h0.72v5.18h-0.72zM477.51 291.94h0.72v5.18h-0.72zM408.9 297.12h0.72v5.18h-0.72zM412.9 297.12h0.72v5.18h-0.72zM418.89 297.12h0.72v5.18h-0.72zM421.56 297.12h0.72v5.18h-0.72zM422.89 297.12h0.72v5.18h-0.72zM426.22 297.12h0.72v5.18h-0.72zM445.54 297.12h0.72v5.18h-0.72zM416.89 302.29h0.72v5.18h-0.72zM450.86 302.29h0.72v5.18h-0.72zM470.18 302.29h0.72v5.18h-0.72zM427.55 307.47h0.72v5.18h-0.72zM432.88 307.47h0.72v5.18h-0.72zM434.21 307.47h0.72v5.18h-0.72zM412.23 312.65h0.72v5.18h-0.72zM422.89 312.65h0.72v5.18h-0.72zM430.22 312.65h0.72v5.18h-0.72zM437.54 312.65h0.72v5.18h-0.72zM446.2 312.65h0.72v5.18h-0.72zM465.52 312.65h0.72v5.18h-0.72zM408.9 317.82h0.72v5.18h-0.72zM422.89 317.82h0.72v5.18h-0.72zM426.22 317.82h0.72v5.18h-0.72zM430.22 317.82h0.72v5.18h-0.72zM433.55 317.82h0.72v5.18h-0.72zM436.21 317.82h0.72v5.18h-0.72zM438.87 317.82h0.72v5.18h-0.72z" fill="#654cc7"/>
<path d="M416.89 255.7h0.72v5.18h-0.72zM433.55 255.7h0.72v5.18h-0.72zM434.21 255.7h0.72v5.18h-0.72zM463.52 255.7h0.72v5.18h-0.72zM480.17 255.7h0.72v5.18h-0.72zM482.17 255.7h0.72v5.18h-0.72zM416.89 260.88h0.72v5.18h-0.72zM426.88 260.88h0.72v5.18h-0.72zM434.21 260.88h0.72v5.18h-0.72zM437.54 260.88h0.72v5.18h-0.72zM438.87 260.88h0.72v5.18h-0.72zM477.51 260.88h0.72v5.18h-0.72zM484.84 260.88h0.72v5.18h-0.72zM438.87 266.05h0.72v5.18h-0.72zM442.87 266.05h0.72v5.18h-0.72zM457.53 266.05h0.72v5.18h-0.72zM437.54 271.23h0.72v5.18h-0.72zM464.85 271.23h0.72v5.18h-0.72zM421.56 276.41h0.72v5.18h-0.72zM422.22 276.41h0.72v5.18h-0.72zM462.85 276.41h0.72v5.18h-0.72zM478.17 276.41h0.72v5.18h-0.72zM418.23 281.58h0.72v5.18h-0.72zM430.22 281.58h0.72v5.18h-0.72zM434.21 281.58h0.72v5.18h-0.72zM457.53 281.58h0.72v5.18h-0.72zM408.9 286.76h0.72v5.18h-0.72zM414.89 286.76h0.72v5.18h-0.72zM421.56 286.76h0.72v5.18h-0.72zM426.88 286.76h0.72v5.18h-0.72zM436.21 286.76h0.72v5.18h-0.72zM450.86 286.76h0.72v5.18h-0.72zM471.51 286.76h0.72v5.18h-0.72zM414.89 291.94h0.72v5.18h-0.72zM427.55 291.94h0.72v5.18h-0.72zM433.55 291.94h0.72v5.18h-0.72zM434.21 291.94h0.72v5.18h-0.72zM461.52 291.94h0.72v5.18h-0.72zM412.23 297.12h0.72v5.18h-0.72zM414.23 297.12h0.72v5.18h-0.72zM414.89 297.12h0.72v5.18h-0.72zM416.89 297.12h0.72v5.18h-0.72zM441.54 297.12h0.72v5.18h-0.72zM444.2 297.12h0.72v5.18h-0.72zM446.2 297.12h0.72v5.18h-0.72zM450.86 297.12h0.72v5.18h-0.72zM461.52 297.12h0.72v5.18h-0.72zM477.51 297.12h0.72v5.18h-0.72zM416.23 302.29h0.72v5.18h-0.72zM421.56 302.29h0.72v5.18h-0.72zM426.22 302.29h0.72v5.18h-0.72zM428.88 302.29h0.72v5.18h-0.72zM438.21 302.29h0.72v5.18h-0.72zM450.2 302.29h0.72v5.18h-0.72zM426.22 307.47h0.72v5.18h-0.72zM438.21 307.47h0.72v5.18h-0.72zM457.53 307.47h0.72v5.18h-0.72zM460.86 307.47h0.72v5.18h-0.72zM461.52 307.47h0.72v5.18h-0.72zM414.23 312.65h0.72v5.18h-0.72zM416.89 312.65h0.72v5.18h-0.72zM418.89 312.65h0.72v5.18h-0.72zM434.21 312.65h0.72v5.18h-0.72zM463.52 312.65h0.72v5.18h-0.72zM477.51 312.65h0.72v5.18h-0.72zM478.84 312.65h0.72v5.18h-0.72zM416.89 317.82h0.72v5.18h-0.72zM419.56 317.82h0.72v5.18h-0.72zM423.55 317.82h0.72v5.18h-0.72zM441.54 317.82h0.72v5.18h-0.72zM482.17 317.82h0.72v5.18h-0.72z" fill="#7252c6"/>
<path d="M420.22 255.7h0.72v5.18h-0.72zM424.89 255.7h0.72v5.18h-0.72zM429.55 255.7h0.72v5.18h-0.72zM434.88 255.7h0.72v5.18h-0.72zM453.53 255.7h0.72v5.18h-0.72zM460.19 255.7h0.72v5.18h-0.72zM468.85 255.7h0.72v5.18h-0.72zM484.17 255.7h0.72v5.18h-0.72zM484.84 255.7h0.72v5.18h-0.72zM485.5 255.7h0.72v5.18h-0.72zM409.57 260.88h0.72v5.18h-0.72zM413.56 260.88h0.72v5.18h-0.72zM418.23 260.88h0.72v5.18h-0.72zM454.19 260.88h0.72v5.18h-0.72zM458.19 260.88h0.72v5.18h-0.72zM460.19 260.88h0.72v5.18h-0.72zM460.86 260.88h0.72v5.18h-0.72zM462.19 260.88h0.72v5.18h-0.72zM462.85 260.88h0.72v5.18h-0.72zM470.18 260.88h0.72v5.18h-0.72zM471.51 260.88h0.72v5.18h-0.72zM472.18 260.88h0.72v5.18h-0.72zM420.22 266.05h0.72v5.18h-0.72zM424.22 266.05h0.72v5.18h-0.72zM432.88 266.05h0.72v5.18h-0.72zM443.54 266.05h0.72v5.18h-0.72zM472.18 266.05h0.72v5.18h-0.72zM424.22 271.23h0.72v5.18h-0.72zM433.55 271.23h0.72v5.18h-0.72zM436.21 271.23h0.72v5.18h-0.72zM442.21 271.23h0.72v5.18h-0.72zM447.53 271.23h0.72v5.18h-0.72zM460.19 271.23h0.72v5.18h-0.72zM480.17 271.23h0.72v5.18h-0.72zM420.22 276.41h0.72v5.18h-0.72zM431.55 276.41h0.72v5.18h-0.72zM449.53 276.41h0.72v5.18h-0.72zM456.19 276.41h0.72v5.18h-0.72zM460.19 276.41h0.72v5.18h-0.72zM464.85 276.41h0.72v5.18h-0.72zM467.52 276.41h0.72v5.18h-0.72zM470.18 276.41h0.72v5.18h-0.72zM471.51 276.41h0.72v5.18h-0.72zM478.84 276.41h0.72v5.18h-0.72zM486.17 276.41h0.72v5.18h-0.72zM424.22 281.58h0.72v5.18h-0.72zM429.55 281.58h0.72v5.18h-0.72zM456.19 281.58h0.72v5.18h-0.72zM456.86 281.58h0.72v5.18h-0.72zM460.19 281.58h0.72v5.18h-0.72zM462.85 281.58h0.72v5.18h-0.72zM467.52 281.58h0.72v5.18h-0.72zM478.84 281.58h0.72v5.18h-0.72zM483.5 281.58h0.72v5.18h-0.72zM484.17 281.58h0.72v5.18h-0.72zM409.57 286.76h0.72v5.18h-0.72zM410.23 286.76h0.72v5.18h-0.72zM415.56 286.76h0.72v5.18h-0.72zM419.56 286.76h0.72v5.18h-0.72zM428.88 286.76h0.72v5.18h-0.72zM432.88 286.76h0.72v5.18h-0.72zM434.88 286.76h0.72v5.18h-0.72zM443.54 286.76h0.72v5.18h-0.72zM452.2 286.76h0.72v5.18h-0.72zM458.19 286.76h0.72v5.18h-0.72zM460.19 286.76h0.72v5.18h-0.72zM470.18 286.76h0.72v5.18h-0.72zM479.51 286.76h0.72v5.18h-0.72zM418.23 291.94h0.72v5.18h-0.72zM424.22 291.94h0.72v5.18h-0.72zM429.55 291.94h0.72v5.18h-0.72zM431.55 291.94h0.72v5.18h-0.72zM440.87 291.94h0.72v5.18h-0.72zM446.2 291.94h0.72v5.18h-0.72zM448.2 291.94h0.72v5.18h-0.72zM452.2 291.94h0.72v5.18h-0.72zM458.19 291.94h0.72v5.18h-0.72zM419.56 297.12h0.72v5.18h-0.72zM424.22 297.12h0.72v5.18h-0.72zM447.53 297.12h0.72v5.18h-0.72zM452.86 297.12h0.72v5.18h-0.72zM455.53 297.12h0.72v5.18h-0.72zM482.17 297.12h0.72v5.18h-0.72zM484.17 297.12h0.72v5.18h-0.72zM485.5 297.12h0.72v5.18h-0.72zM410.9 302.29h0.72v5.18h-0.72zM411.56 302.29h0.72v5.18h-0.72zM412.9 302.29h0.72v5.18h-0.72zM429.55 302.29h0.72v5.18h-0.72zM436.88 302.29h0.72v5.18h-0.72zM443.54 302.29h0.72v5.18h-0.72zM456.86 302.29h0.72v5.18h-0.72zM465.52 302.29h0.72v5.18h-0.72zM468.18 302.29h0.72v5.18h-0.72zM478.17 302.29h0.72v5.18h-0.72zM479.51 302.29h0.72v5.18h-0.72zM480.84 302.29h0.72v5.18h-0.72zM484.17 302.29h0.72v5.18h-0.72zM409.57 307.47h0.72v5.18h-0.72zM441.54 307.47h0.72v5.18h-0.72zM442.87 307.47h0.72v5.18h-0.72zM448.87 307.47h0.72v5.18h-0.72zM452.86 307.47h0.72v5.18h-0.72zM468.18 307.47h0.72v5.18h-0.72zM486.83 307.47h0.72v5.18h-0.72zM410.23 312.65h0.72v5.18h-0.72zM410.9 312.65h0.72v5.18h-0.72zM415.56 312.65h0.72v5.18h-0.72zM454.19 312.65h0.72v5.18h-0.72zM456.19 312.65h0.72v5.18h-0.72zM460.19 312.65h0.72v5.18h-0.72zM467.52 312.65h0.72v5.18h-0.72zM470.18 312.65h0.72v5.18h-0.72zM473.51 312.65h0.72v5.18h-0.72zM480.84 312.65h0.72v5.18h-0.72zM485.5 312.65h0.72v5.18h-0.72zM410.9 317.82h0.72v5.18h-0.72zM440.87 317.82h0.72v5.18h-0.72zM447.53 317.82h0.72v5.18h-0.72zM448.2 317.82h0.72v5.18h-0.72zM454.19 317.82h0.72v5.18h-0.72zM471.51 317.82h0.72v5.18h-0.72zM479.51 317.82h0.72v5.18h-0.72zM486.17 317.82h0.72v5.18h-0.72z" fill="#b66cb3"/>
<path d="M420.89 255.7h0.72v5.18h-0.72zM422.22 255.7h0.72v5.18h-0.72zM426.88 255.7h0.72v5.18h-0.72zM438.21 255.7h0.72v5.18h-0.72zM439.54 255.7h0.72v5.18h-0.72zM444.87 255.7h0.72v5.18h-0.72zM457.53 255.7h0.72v5.18h-0.72zM466.18 255.7h0.72v5.18h-0.72zM408.9 260.88h0.72v5.18h-0.72zM414.23 260.88h0.72v5.18h-0.72zM439.54 260.88h0.72v5.18h-0.72zM444.87 260.88h0.72v5.18h-0.72zM457.53 260.88h0.72v5.18h-0.72zM420.89 266.05h0.72v5.18h-0.72zM423.55 266.05h0.72v5.18h-0.72zM439.54 266.05h0.72v5.18h-0.72zM440.21 266.05h0.72v5.18h-0.72zM444.87 266.05h0.72v5.18h-0.72zM408.9 271.23h0.72v5.18h-0.72zM420.89 271.23h0.72v5.18h-0.72zM422.22 271.23h0.72v5.18h-0.72zM434.21 271.23h0.72v5.18h-0.72zM439.54 271.23h0.72v5.18h-0.72zM444.87 271.23h0.72v5.18h-0.72zM450.2 271.23h0.72v5.18h-0.72zM457.53 271.23h0.72v5.18h-0.72zM420.89 276.41h0.72v5.18h-0.72zM439.54 276.41h0.72v5.18h-0.72zM444.87 276.41h0.72v5.18h-0.72zM439.54 281.58h0.72v5.18h-0.72zM420.89 286.76h0.72v5.18h-0.72zM423.55 286.76h0.72v5.18h-0.72zM416.89 291.94h0.72v5.18h-0.72zM420.89 291.94h0.72v5.18h-0.72zM423.55 291.94h0.72v5.18h-0.72zM426.88 291.94h0.72v5.18h-0.72zM438.87 291.94h0.72v5.18h-0.72zM439.54 291.94h0.72v5.18h-0.72zM444.87 291.94h0.72v5.18h-0.72zM450.2 291.94h0.72v5.18h-0.72zM457.53 291.94h0.72v5.18h-0.72zM423.55 297.12h0.72v5.18h-0.72zM438.21 297.12h0.72v5.18h-0.72zM439.54 297.12h0.72v5.18h-0.72zM444.87 297.12h0.72v5.18h-0.72zM466.18 297.12h0.72v5.18h-0.72zM414.23 302.29h0.72v5.18h-0.72zM420.89 302.29h0.72v5.18h-0.72zM422.22 302.29h0.72v5.18h-0.72zM423.55 302.29h0.72v5.18h-0.72zM439.54 302.29h0.72v5.18h-0.72zM457.53 302.29h0.72v5.18h-0.72zM466.18 302.29h0.72v5.18h-0.72zM417.56 307.47h0.72v5.18h-0.72zM420.89 307.47h0.72v5.18h-0.72zM439.54 307.47h0.72v5.18h-0.72zM444.87 307.47h0.72v5.18h-0.72zM466.18 307.47h0.72v5.18h-0.72zM417.56 312.65h0.72v5.18h-0.72zM420.89 312.65h0.72v5.18h-0.72zM423.55 312.65h0.72v5.18h-0.72zM426.88 312.65h0.72v5.18h-0.72zM438.21 312.65h0.72v5.18h-0.72zM439.54 312.65h0.72v5.18h-0.72zM444.87 312.65h0.72v5.18h-0.72zM457.53 312.65h0.72v5.18h-0.72zM466.18 312.65h0.72v5.18h-0.72zM420.89 317.82h0.72v5.18h-0.72zM422.22 317.82h0.72v5.18h-0.72zM426.88 317.82h0.72v5.18h-0.72zM439.54 317.82h0.72v5.18h-0.72zM444.87 317.82h0.72v5.18h-0.72zM450.2 317.82h0.72v5.18h-0.72zM457.53 317.82h0.72v5.18h-0.72z" fill="#3232cd"/>
<path d="M426.22 255.7h0.72v5.18h-0.72zM421.56 260.88h0.72v5.18h-0.72zM422.89 260.88h0.72v5.18h-0.72zM430.22 260.88h0.72v5.18h-0.72zM441.54 260.88h0.72v5.18h-0.72zM446.2 260.88h0.72v5.18h-0.72zM450.2 260.88h0.72v5.18h-0.72zM450.86 260.88h0.72v5.18h-0.72zM466.18 260.88h0.72v5.18h-0.72zM414.89 266.05h0.72v5.18h-0.72zM422.89 266.05h0.72v5.18h-0.72zM482.17 266.05h0.72v5.18h-0.72zM440.21 271.23h0.72v5.18h-0.72zM450.86 271.23h0.72v5.18h-0.72zM412.23 276.41h0.72v5.18h-0.72zM416.89 276.41h0.72v5.18h-0.72zM417.56 276.41h0.72v5.18h-0.72zM422.89 276.41h0.72v5.18h-0.72zM428.88 276.41h0.72v5.18h-0.72zM438.87 276.41h0.72v5.18h-0.72zM414.23 281.58h0.72v5.18h-0.72zM422.22 281.58h0.72v5.18h-0.72zM423.55 281.58h0.72v5.18h-0.72zM422.22 286.76h0.72v5.18h-0.72zM422.89 286.76h0.72v5.18h-0.72zM457.53 286.76h0.72v5.18h-0.72zM417.56 291.94h0.72v5.18h-0.72zM422.22 291.94h0.72v5.18h-0.72zM426.22 291.94h0.72v5.18h-0.72zM450.86 291.94h0.72v5.18h-0.72zM427.55 297.12h0.72v5.18h-0.72zM428.88 297.12h0.72v5.18h-0.72zM417.56 302.29h0.72v5.18h-0.72zM444.2 302.29h0.72v5.18h-0.72zM444.87 302.29h0.72v5.18h-0.72zM408.9 307.47h0.72v5.18h-0.72zM418.89 307.47h0.72v5.18h-0.72zM421.56 307.47h0.72v5.18h-0.72zM422.22 307.47h0.72v5.18h-0.72zM426.88 307.47h0.72v5.18h-0.72zM450.2 312.65h0.72v5.18h-0.72zM414.23 317.82h0.72v5.18h-0.72zM432.88 317.82h0.72v5.18h-0.72zM440.21 317.82h0.72v5.18h-0.72z" fill="#5845c8"/>
<path d="M430.88 255.7h0.72v5.18h-0.72zM440.87 255.7h0.72v5.18h-0.72zM442.21 255.7h0.72v5.18h-0.72zM455.53 255.7h0.72v5.18h-0.72zM467.52 255.7h0.72v5.18h-0.72zM470.18 255.7h0.72v5.18h-0.72zM473.51 255.7h0.72v5.18h-0.72zM482.84 255.7h0.72v5.18h-0.72zM446.87 260.88h0.72v5.18h-0.72zM452.86 260.88h0.72v5.18h-0.72zM455.53 260.88h0.72v5.18h-0.72zM467.52 260.88h0.72v5.18h-0.72zM474.18 260.88h0.72v5.18h-0.72zM476.18 260.88h0.72v5.18h-0.72zM480.84 260.88h0.72v5.18h-0.72zM459.52 266.05h0.72v5.18h-0.72zM467.52 266.05h0.72v5.18h-0.72zM480.84 266.05h0.72v5.18h-0.72zM435.54 271.23h0.72v5.18h-0.72zM446.87 271.23h0.72v5.18h-0.72zM474.18 271.23h0.72v5.18h-0.72zM480.84 271.23h0.72v5.18h-0.72zM446.87 276.41h0.72v5.18h-0.72zM482.84 276.41h0.72v5.18h-0.72zM483.5 276.41h0.72v5.18h-0.72zM411.56 281.58h0.72v5.18h-0.72zM448.87 281.58h0.72v5.18h-0.72zM484.84 281.58h0.72v5.18h-0.72zM410.9 286.76h0.72v5.18h-0.72zM464.19 286.76h0.72v5.18h-0.72zM410.23 291.94h0.72v5.18h-0.72zM420.22 291.94h0.72v5.18h-0.72zM410.23 297.12h0.72v5.18h-0.72zM411.56 297.12h0.72v5.18h-0.72zM475.51 297.12h0.72v5.18h-0.72zM479.51 297.12h0.72v5.18h-0.72zM486.17 297.12h0.72v5.18h-0.72zM415.56 302.29h0.72v5.18h-0.72zM430.88 302.29h0.72v5.18h-0.72zM432.21 302.29h0.72v5.18h-0.72zM435.54 302.29h0.72v5.18h-0.72zM482.84 302.29h0.72v5.18h-0.72zM411.56 307.47h0.72v5.18h-0.72zM430.88 307.47h0.72v5.18h-0.72zM474.84 307.47h0.72v5.18h-0.72zM476.84 307.47h0.72v5.18h-0.72zM451.53 312.65h0.72v5.18h-0.72zM455.53 312.65h0.72v5.18h-0.72zM486.17 312.65h0.72v5.18h-0.72zM411.56 317.82h0.72v5.18h-0.72zM434.88 317.82h0.72v5.18h-0.72zM446.87 317.82h0.72v5.18h-0.72zM451.53 317.82h0.72v5.18h-0.72zM456.19 317.82h0.72v5.18h-0.72zM468.85 317.82h0.72v5.18h-0.72zM476.18 317.82h0.72v5.18h-0.72z" fill="#c55387"/>
<path d="M446.87 255.7h0.72v5.18h-0.72zM468.18 255.7h0.72v5.18h-0.72zM469.52 255.7h0.72v5.18h-0.72zM478.17 255.7h0.72v5.18h-0.72zM483.5 255.7h0.72v5.18h-0.72zM486.17 255.7h0.72v5.18h-0.72zM419.56 260.88h0.72v5.18h-0.72zM436.21 260.88h0.72v5.18h-0.72zM442.21 260.88h0.72v5.18h-0.72zM456.86 260.88h0.72v5.18h-0.72zM465.52 260.88h0.72v5.18h-0.72zM468.18 260.88h0.72v5.18h-0.72zM479.51 260.88h0.72v5.18h-0.72zM418.23 266.05h0.72v5.18h-0.72zM431.55 266.05h0.72v5.18h-0.72zM447.53 266.05h0.72v5.18h-0.72zM452.86 266.05h0.72v5.18h-0.72zM454.19 266.05h0.72v5.18h-0.72zM458.19 266.05h0.72v5.18h-0.72zM468.18 266.05h0.72v5.18h-0.72zM485.5 266.05h0.72v5.18h-0.72zM424.89 271.23h0.72v5.18h-0.72zM448.87 271.23h0.72v5.18h-0.72zM449.53 271.23h0.72v5.18h-0.72zM456.19 271.23h0.72v5.18h-0.72zM465.52 271.23h0.72v5.18h-0.72zM479.51 271.23h0.72v5.18h-0.72zM482.17 271.23h0.72v5.18h-0.72zM434.88 276.41h0.72v5.18h-0.72zM442.87 276.41h0.72v5.18h-0.72zM468.18 276.41h0.72v5.18h-0.72zM473.51 276.41h0.72v5.18h-0.72zM476.84 276.41h0.72v5.18h-0.72zM480.17 276.41h0.72v5.18h-0.72zM486.83 276.41h0.72v5.18h-0.72zM410.23 281.58h0.72v5.18h-0.72zM410.9 281.58h0.72v5.18h-0.72zM412.9 281.58h0.72v5.18h-0.72zM435.54 281.58h0.72v5.18h-0.72zM437.54 281.58h0.72v5.18h-0.72zM451.53 281.58h0.72v5.18h-0.72zM454.19 281.58h0.72v5.18h-0.72zM455.53 281.58h0.72v5.18h-0.72zM458.19 281.58h0.72v5.18h-0.72zM468.18 281.58h0.72v5.18h-0.72zM468.85 281.58h0.72v5.18h-0.72zM473.51 281.58h0.72v5.18h-0.72zM474.18 281.58h0.72v5.18h-0.72zM476.18 281.58h0.72v5.18h-0.72zM420.22 286.76h0.72v5.18h-0.72zM424.89 286.76h0.72v5.18h-0.72zM427.55 286.76h0.72v5.18h-0.72zM432.21 286.76h0.72v5.18h-0.72zM435.54 286.76h0.72v5.18h-0.72zM436.88 286.76h0.72v5.18h-0.72zM447.53 286.76h0.72v5.18h-0.72zM468.85 286.76h0.72v5.18h-0.72zM478.17 286.76h0.72v5.18h-0.72zM480.84 286.76h0.72v5.18h-0.72zM482.17 286.76h0.72v5.18h-0.72zM485.5 286.76h0.72v5.18h-0.72zM486.17 286.76h0.72v5.18h-0.72zM435.54 291.94h0.72v5.18h-0.72zM442.21 291.94h0.72v5.18h-0.72zM446.87 291.94h0.72v5.18h-0.72zM456.19 291.94h0.72v5.18h-0.72zM462.19 291.94h0.72v5.18h-0.72zM472.18 291.94h0.72v5.18h-0.72zM478.84 291.94h0.72v5.18h-0.72zM479.51 291.94h0.72v5.18h-0.72zM410.9 297.12h0.72v5.18h-0.72zM413.56 297.12h0.72v5.18h-0.72zM425.55 297.12h0.72v5.18h-0.72zM429.55 297.12h0.72v5.18h-0.72zM436.88 297.12h0.72v5.18h-0.72zM448.87 297.12h0.72v5.18h-0.72zM458.19 297.12h0.72v5.18h-0.72zM460.19 297.12h0.72v5.18h-0.72zM484.84 297.12h0.72v5.18h-0.72zM431.55 302.29h0.72v5.18h-0.72zM434.88 302.29h0.72v5.18h-0.72zM447.53 302.29h0.72v5.18h-0.72zM448.2 302.29h0.72v5.18h-0.72zM486.17 302.29h0.72v5.18h-0.72zM424.22 307.47h0.72v5.18h-0.72zM429.55 307.47h0.72v5.18h-0.72zM442.21 307.47h0.72v5.18h-0.72zM443.54 307.47h0.72v5.18h-0.72zM453.53 307.47h0.72v5.18h-0.72zM456.19 307.47h0.72v5.18h-0.72zM470.85 307.47h0.72v5.18h-0.72zM486.17 307.47h0.72v5.18h-0.72zM431.55 312.65h0.72v5.18h-0.72zM435.54 312.65h0.72v5.18h-0.72zM470.85 312.65h0.72v5.18h-0.72zM476.18 312.65h0.72v5.18h-0.72zM483.5 312.65h0.72v5.18h-0.72zM424.89 317.82h0.72v5.18h-0.72zM431.55 317.82h0.72v5.18h-0.72zM444.2 317.82h0.72v5.18h-0.72zM449.53 317.82h0.72v5.18h-0.72zM472.18 317.82h0.72v5.18h-0.72z" fill="#ba66a8"/>
<path d="M448.2 255.7h0.72v5.18h-0.72zM451.53 255.7h0.72v5.18h-0.72zM452.2 255.7h0.72v5.18h-0.72zM476.84 255.7h0.72v5.18h-0.72zM410.23 260.88h0.72v5.18h-0.72zM410.9 260.88h0.72v5.18h-0.72zM424.22 260.88h0.72v5.18h-0.72zM434.88 260.88h0.72v5.18h-0.72zM448.2 260.88h0.72v5.18h-0.72zM476.84 260.88h0.72v5.18h-0.72zM486.17 260.88h0.72v5.18h-0.72zM430.88 266.05h0.72v5.18h-0.72zM442.21 266.05h0.72v5.18h-0.72zM448.2 266.05h0.72v5.18h-0.72zM470.85 266.05h0.72v5.18h-0.72zM472.85 266.05h0.72v5.18h-0.72zM473.51 266.05h0.72v5.18h-0.72zM482.84 266.05h0.72v5.18h-0.72zM411.56 271.23h0.72v5.18h-0.72zM415.56 271.23h0.72v5.18h-0.72zM430.88 271.23h0.72v5.18h-0.72zM460.86 271.23h0.72v5.18h-0.72zM474.84 271.23h0.72v5.18h-0.72zM476.18 271.23h0.72v5.18h-0.72zM410.23 276.41h0.72v5.18h-0.72zM410.9 276.41h0.72v5.18h-0.72zM432.21 276.41h0.72v5.18h-0.72zM415.56 281.58h0.72v5.18h-0.72zM430.88 281.58h0.72v5.18h-0.72zM462.19 281.58h0.72v5.18h-0.72zM470.85 281.58h0.72v5.18h-0.72zM476.84 281.58h0.72v5.18h-0.72zM482.17 281.58h0.72v5.18h-0.72zM411.56 286.76h0.72v5.18h-0.72zM458.86 286.76h0.72v5.18h-0.72zM459.52 286.76h0.72v5.18h-0.72zM466.85 286.76h0.72v5.18h-0.72zM473.51 286.76h0.72v5.18h-0.72zM474.84 286.76h0.72v5.18h-0.72zM481.51 286.76h0.72v5.18h-0.72zM415.56 291.94h0.72v5.18h-0.72zM432.21 291.94h0.72v5.18h-0.72zM442.21 297.12h0.72v5.18h-0.72zM452.2 297.12h0.72v5.18h-0.72zM459.52 297.12h0.72v5.18h-0.72zM462.19 297.12h0.72v5.18h-0.72zM467.52 297.12h0.72v5.18h-0.72zM478.17 297.12h0.72v5.18h-0.72zM480.84 297.12h0.72v5.18h-0.72zM482.84 297.12h0.72v5.18h-0.72zM442.87 302.29h0.72v5.18h-0.72zM458.19 302.29h0.72v5.18h-0.72zM468.85 302.29h0.72v5.18h-0.72zM470.85 302.29h0.72v5.18h-0.72zM476.18 302.29h0.72v5.18h-0.72zM484.84 302.29h0.72v5.18h-0.72zM460.19 307.47h0.72v5.18h-0.72zM477.51 307.47h0.72v5.18h-0.72zM482.84 307.47h0.72v5.18h-0.72zM483.5 307.47h0.72v5.18h-0.72zM442.21 312.65h0.72v5.18h-0.72zM448.2 312.65h0.72v5.18h-0.72zM472.85 312.65h0.72v5.18h-0.72zM474.84 312.65h0.72v5.18h-0.72zM415.56 317.82h0.72v5.18h-0.72zM442.21 317.82h0.72v5.18h-0.72zM473.51 317.82h0.72v5.18h-0.72z" fill="#c15992"/>
<path d="M452.86 255.7h0.72v5.18h-0.72zM458.19 255.7h0.72v5.18h-0.72zM459.52 255.7h0.72v5.18h-0.72zM462.19 255.7h0.72v5.18h-0.72zM470.85 255.7h0.72v5.18h-0.72zM411.56 260.88h0.72v5.18h-0.72zM415.56 260.88h0.72v5.18h-0.72zM429.55 260.88h0.72v5.18h-0.72zM430.88 260.88h0.72v5.18h-0.72zM435.54 260.88h0.72v5.18h-0.72zM452.2 260.88h0.72v5.18h-0.72zM456.19 260.88h0.72v5.18h-0.72zM482.84 260.88h0.72v5.18h-0.72zM435.54 266.05h0.72v5.18h-0.72zM456.19 266.05h0.72v5.18h-0.72zM460.19 266.05h0.72v5.18h-0.72zM462.19 266.05h0.72v5.18h-0.72zM462.85 266.05h0.72v5.18h-0.72zM468.85 266.05h0.72v5.18h-0.72zM470.18 266.05h0.72v5.18h-0.72zM486.17 266.05h0.72v5.18h-0.72zM486.83 266.05h0.72v5.18h-0.72zM454.19 271.23h0.72v5.18h-0.72zM471.51 271.23h0.72v5.18h-0.72zM411.56 276.41h0.72v5.18h-0.72zM424.22 276.41h0.72v5.18h-0.72zM447.53 276.41h0.72v5.18h-0.72zM455.53 276.41h0.72v5.18h-0.72zM459.52 276.41h0.72v5.18h-0.72zM462.19 276.41h0.72v5.18h-0.72zM468.85 276.41h0.72v5.18h-0.72zM470.85 276.41h0.72v5.18h-0.72zM472.18 276.41h0.72v5.18h-0.72zM479.51 276.41h0.72v5.18h-0.72zM480.84 276.41h0.72v5.18h-0.72zM446.87 281.58h0.72v5.18h-0.72zM449.53 281.58h0.72v5.18h-0.72zM486.17 281.58h0.72v5.18h-0.72zM446.87 286.76h0.72v5.18h-0.72zM455.53 286.76h0.72v5.18h-0.72zM462.19 286.76h0.72v5.18h-0.72zM470.85 286.76h0.72v5.18h-0.72zM472.18 286.76h0.72v5.18h-0.72zM474.18 286.76h0.72v5.18h-0.72zM476.18 286.76h0.72v5.18h-0.72zM476.84 286.76h0.72v5.18h-0.72zM482.84 286.76h0.72v5.18h-0.72zM484.84 286.76h0.72v5.18h-0.72zM411.56 291.94h0.72v5.18h-0.72zM428.88 291.94h0.72v5.18h-0.72zM441.54 291.94h0.72v5.18h-0.72zM455.53 291.94h0.72v5.18h-0.72zM462.85 291.94h0.72v5.18h-0.72zM463.52 291.94h0.72v5.18h-0.72zM468.85 291.94h0.72v5.18h-0.72zM482.17 291.94h0.72v5.18h-0.72zM483.5 291.94h0.72v5.18h-0.72zM485.5 291.94h0.72v5.18h-0.72zM486.17 291.94h0.72v5.18h-0.72zM432.21 297.12h0.72v5.18h-0.72zM453.53 297.12h0.72v5.18h-0.72zM468.85 297.12h0.72v5.18h-0.72zM470.85 297.12h0.72v5.18h-0.72zM472.18 297.12h0.72v5.18h-0.72zM483.5 297.12h0.72v5.18h-0.72zM425.55 302.29h0.72v5.18h-0.72zM442.21 302.29h0.72v5.18h-0.72zM451.53 302.29h0.72v5.18h-0.72zM456.19 302.29h0.72v5.18h-0.72zM467.52 302.29h0.72v5.18h-0.72zM424.89 307.47h0.72v5.18h-0.72zM458.19 307.47h0.72v5.18h-0.72zM468.85 307.47h0.72v5.18h-0.72zM478.84 307.47h0.72v5.18h-0.72zM480.84 307.47h0.72v5.18h-0.72zM484.84 307.47h0.72v5.18h-0.72zM425.55 312.65h0.72v5.18h-0.72zM446.87 312.65h0.72v5.18h-0.72zM452.86 312.65h0.72v5.18h-0.72zM456.86 312.65h0.72v5.18h-0.72zM458.19 312.65h0.72v5.18h-0.72zM462.85 312.65h0.72v5.18h-0.72zM468.18 312.65h0.72v5.18h-0.72zM472.18 312.65h0.72v5.18h-0.72zM482.84 312.65h0.72v5.18h-0.72zM410.23 317.82h0.72v5.18h-0.72zM435.54 317.82h0.72v5.18h-0.72zM452.2 317.82h0.72v5.18h-0.72zM453.53 317.82h0.72v5.18h-0.72zM458.19 317.82h0.72v5.18h-0.72zM462.85 317.82h0.72v5.18h-0.72zM482.84 317.82h0.72v5.18h-0.72z" fill="#bd5f9d"/>
<path d="M454.86 255.7h0.72v5.18h-0.72zM466.85 255.7h0.72v5.18h-0.72zM472.85 255.7h0.72v5.18h-0.72zM474.18 255.7h0.72v5.18h-0.72zM475.51 255.7h0.72v5.18h-0.72zM481.51 255.7h0.72v5.18h-0.72zM454.86 260.88h0.72v5.18h-0.72zM464.19 260.88h0.72v5.18h-0.72zM475.51 260.88h0.72v5.18h-0.72zM481.51 260.88h0.72v5.18h-0.72zM454.86 266.05h0.72v5.18h-0.72zM474.18 266.05h0.72v5.18h-0.72zM481.51 266.05h0.72v5.18h-0.72zM483.5 266.05h0.72v5.18h-0.72zM432.21 271.23h0.72v5.18h-0.72zM454.86 271.23h0.72v5.18h-0.72zM466.85 271.23h0.72v5.18h-0.72zM475.51 271.23h0.72v5.18h-0.72zM481.51 271.23h0.72v5.18h-0.72zM454.86 276.41h0.72v5.18h-0.72zM458.86 276.41h0.72v5.18h-0.72zM466.85 276.41h0.72v5.18h-0.72zM474.18 276.41h0.72v5.18h-0.72zM475.51 276.41h0.72v5.18h-0.72zM481.51 276.41h0.72v5.18h-0.72zM454.86 281.58h0.72v5.18h-0.72zM454.86 291.94h0.72v5.18h-0.72zM474.18 291.94h0.72v5.18h-0.72zM475.51 291.94h0.72v5.18h-0.72zM481.51 291.94h0.72v5.18h-0.72zM454.86 297.12h0.72v5.18h-0.72zM466.85 297.12h0.72v5.18h-0.72zM481.51 297.12h0.72v5.18h-0.72zM454.86 302.29h0.72v5.18h-0.72zM458.86 302.29h0.72v5.18h-0.72zM466.85 302.29h0.72v5.18h-0.72zM472.85 302.29h0.72v5.18h-0.72zM473.51 302.29h0.72v5.18h-0.72zM475.51 302.29h0.72v5.18h-0.72zM481.51 302.29h0.72v5.18h-0.72zM454.86 307.47h0.72v5.18h-0.72zM472.85 307.47h0.72v5.18h-0.72zM475.51 307.47h0.72v5.18h-0.72zM481.51 307.47h0.72v5.18h-0.72zM454.86 312.65h0.72v5.18h-0.72zM464.19 312.65h0.72v5.18h-0.72zM475.51 312.65h0.72v5.18h-0.72zM481.51 312.65h0.72v5.18h-0.72zM454.86 317.82h0.72v5.18h-0.72zM458.86 317.82h0.72v5.18h-0.72zM466.85 317.82h0.72v5.18h-0.72zM474.18 317.82h0.72v5.18h-0.72zM481.51 317.82h0.72v5.18h-0.72z" fill="#d83450"/>
<path d="M458.86 255.7h0.72v5.18h-0.72zM476.18 255.7h0.72v5.18h-0.72zM479.51 255.7h0.72v5.18h-0.72zM432.21 260.88h0.72v5.18h-0.72zM466.85 260.88h0.72v5.18h-0.72zM472.85 260.88h0.72v5.18h-0.72zM446.87 266.05h0.72v5.18h-0.72zM451.53 266.05h0.72v5.18h-0.72zM452.2 266.05h0.72v5.18h-0.72zM455.53 266.05h0.72v5.18h-0.72zM410.23 271.23h0.72v5.18h-0.72zM410.9 271.23h0.72v5.18h-0.72zM458.86 271.23h0.72v5.18h-0.72zM472.85 271.23h0.72v5.18h-0.72zM486.17 271.23h0.72v5.18h-0.72zM430.88 276.41h0.72v5.18h-0.72zM476.18 276.41h0.72v5.18h-0.72zM458.86 281.58h0.72v5.18h-0.72zM464.19 281.58h0.72v5.18h-0.72zM466.85 281.58h0.72v5.18h-0.72zM458.86 291.94h0.72v5.18h-0.72zM473.51 291.94h0.72v5.18h-0.72zM474.84 291.94h0.72v5.18h-0.72zM482.84 291.94h0.72v5.18h-0.72zM430.88 297.12h0.72v5.18h-0.72zM472.85 297.12h0.72v5.18h-0.72zM474.18 297.12h0.72v5.18h-0.72zM446.87 302.29h0.72v5.18h-0.72zM460.19 302.29h0.72v5.18h-0.72zM410.9 307.47h0.72v5.18h-0.72zM432.21 307.47h0.72v5.18h-0.72zM466.85 307.47h0.72v5.18h-0.72zM458.86 312.65h0.72v5.18h-0.72zM459.52 312.65h0.72v5.18h-0.72zM474.18 312.65h0.72v5.18h-0.72zM432.21 317.82h0.72v5.18h-0.72zM459.52 317.82h0.72v5.18h-0.72zM475.51 317.82h0.72v5.18h-0.72z" fill="#cd4771"/>
<path d="M464.19 255.7h0.72v5.18h-0.72zM474.84 255.7h0.72v5.18h-0.72zM459.52 260.88h0.72v5.18h-0.72zM474.84 260.88h0.72v5.18h-0.72zM410.23 266.05h0.72v5.18h-0.72zM432.21 266.05h0.72v5.18h-0.72zM458.86 266.05h0.72v5.18h-0.72zM464.19 266.05h0.72v5.18h-0.72zM466.85 266.05h0.72v5.18h-0.72zM474.84 266.05h0.72v5.18h-0.72zM475.51 266.05h0.72v5.18h-0.72zM474.84 276.41h0.72v5.18h-0.72zM472.85 281.58h0.72v5.18h-0.72zM475.51 281.58h0.72v5.18h-0.72zM454.86 286.76h0.72v5.18h-0.72zM475.51 286.76h0.72v5.18h-0.72zM430.88 291.94h0.72v5.18h-0.72zM451.53 291.94h0.72v5.18h-0.72zM466.85 291.94h0.72v5.18h-0.72zM476.84 291.94h0.72v5.18h-0.72zM464.19 297.12h0.72v5.18h-0.72zM473.51 297.12h0.72v5.18h-0.72zM474.84 297.12h0.72v5.18h-0.72zM455.53 302.29h0.72v5.18h-0.72zM464.19 302.29h0.72v5.18h-0.72zM483.5 302.29h0.72v5.18h-0.72zM446.87 307.47h0.72v5.18h-0.72zM476.18 307.47h0.72v5.18h-0.72zM476.84 312.65h0.72v5.18h-0.72zM460.19 317.82h0.72v5.18h-0.72zM464.19 317.82h0.72v5.18h-0.72zM470.85 317.82h0.72v5.18h-0.72zM474.84 317.82h0.72v5.18h-0.72z" fill="#d04066"/>
<path d="M420.89 260.88h0.72v5.18h-0.72zM423.55 260.88h0.72v5.18h-0.72zM426.22 260.88h0.72v5.18h-0.72zM426.88 266.05h0.72v5.18h-0.72zM414.23 271.23h0.72v5.18h-0.72zM418.89 271.23h0.72v5.18h-0.72zM426.88 271.23h0.72v5.18h-0.72zM426.22 276.41h0.72v5.18h-0.72zM426.88 276.41h0.72v5.18h-0.72zM457.53 276.41h0.72v5.18h-0.72zM466.18 276.41h0.72v5.18h-0.72zM417.56 286.76h0.72v5.18h-0.72zM466.18 286.76h0.72v5.18h-0.72zM408.9 291.94h0.72v5.18h-0.72zM418.89 291.94h0.72v5.18h-0.72zM466.18 291.94h0.72v5.18h-0.72zM417.56 297.12h0.72v5.18h-0.72zM422.22 297.12h0.72v5.18h-0.72zM457.53 297.12h0.72v5.18h-0.72zM408.9 302.29h0.72v5.18h-0.72zM418.89 302.29h0.72v5.18h-0.72zM434.21 302.29h0.72v5.18h-0.72zM423.55 307.47h0.72v5.18h-0.72zM414.89 317.82h0.72v5.18h-0.72zM417.56 317.82h0.72v5.18h-0.72zM466.18 317.82h0.72v5.18h-0.72z" fill="#3f38cc"/>
<text x="488.6" y="258.9" font-size="1.79">MHC_I_APM_Balance*</text>
<text x="488.6" y="264.08" font-size="1.79">APC_co_inhibition</text>
<text x="488.6" y="269.26" font-size="1.79">T_cell_co-inhibition*</text>
<text x="488.6" y="274.44" font-size="1.79">Check-point**</text>
<text x="488.6" y="279.62" font-size="1.79">T_cell_co_stimulation*</text>
<text x="488.6" y="284.8" font-size="1.79">Cytolytic_activity</text>
<text x="488.6" y="289.98" font-size="1.79">Inflammation-promoting</text>
<text x="488.6" y="295.16" font-size="1.79">CCR*</text>
<text x="488.6" y="300.34" font-size="1.79">APC_co_stimulation*</text>
<text x="488.6" y="305.52" font-size="1.79">HLA**</text>
<text x="488.6" y="310.7" font-size="1.79">Parainflammation*</text>
<text x="488.6" y="315.88" font-size="1.79">Type_I_IFN_Reponse*</text>
<text x="488.6" y="321.06" font-size="1.79">Type_II_IFN_Reponse**</text>
<text x="488.2" y="255.6" font-size="1.74">Risk</text>
<path d="M405.6 258.29L405.6 263.47" stroke="#333" stroke-width="0.3"/>
<path d="M405.6 258.29L408.9 258.29" stroke="#333" stroke-width="0.3"/>
<path d="M405.6 263.47L408.9 263.47" stroke="#333" stroke-width="0.3"/>
<path d="M406.23 268.65L406.23 273.83" stroke="#333" stroke-width="0.3"/>
<path d="M406.23 268.65L408.9 268.65" stroke="#333" stroke-width="0.3"/>
<path d="M406.23 273.83L408.9 273.83" stroke="#333" stroke-width="0.3"/>
<path d="M405.98 279.01L405.98 284.19" stroke="#333" stroke-width="0.3"/>
<path d="M405.98 279.01L408.9 279.01" stroke="#333" stroke-width="0.3"/>
<path d="M405.98 284.19L408.9 284.19" stroke="#333" stroke-width="0.3"/>
<path d="M406.49 294.55L406.49 299.73" stroke="#333" stroke-width="0.3"/>
<path d="M406.49 294.55L408.9 294.55" stroke="#333" stroke-width="0.3"/>
<path d="M406.49 299.73L408.9 299.73" stroke="#333" stroke-width="0.3"/>
<path d="M405.72 304.91L405.72 310.09" stroke="#333" stroke-width="0.3"/>
<path d="M405.72 304.91L408.9 304.91" stroke="#333" stroke-width="0.3"/>
<path d="M405.72 310.09L408.9 310.09" stroke="#333" stroke-width="0.3"/>
<path d="M405.22 315.27L405.22 320.45" stroke="#333" stroke-width="0.3"/>
<path d="M405.22 315.27L408.9 315.27" stroke="#333" stroke-width="0.3"/>
<path d="M405.22 320.45L408.9 320.45" stroke="#333" stroke-width="0.3"/>
<path d="M408.9 289.37L404.33 289.37" stroke="#333" stroke-width="0.3"/>
<path d="M403.69 260.88L403.69 271.24" stroke="#333" stroke-width="0.3"/>
<path d="M403.69 260.88L405.6 260.88" stroke="#333" stroke-width="0.3"/>
<path d="M403.69 271.24L406.23 271.24" stroke="#333" stroke-width="0.3"/>
<path d="M402.42 281.6L402.42 289.37" stroke="#333" stroke-width="0.3"/>
<path d="M402.42 281.6L405.98 281.6" stroke="#333" stroke-width="0.3"/>
<path d="M402.42 289.37L404.33 289.37" stroke="#333" stroke-width="0.3"/>
<path d="M401.91 297.14L401.91 307.5" stroke="#333" stroke-width="0.3"/>
<path d="M401.91 297.14L406.49 297.14" stroke="#333" stroke-width="0.3"/>
<path d="M401.91 307.5L405.72 307.5" stroke="#333" stroke-width="0.3"/>
<path d="M400.52 266.06L400.52 285.48" stroke="#333" stroke-width="0.3"/>
<path d="M400.52 266.06L403.69 266.06" stroke="#333" stroke-width="0.3"/>
<path d="M400.52 285.48L402.42 285.48" stroke="#333" stroke-width="0.3"/>
<path d="M398.99 302.32L398.99 317.86" stroke="#333" stroke-width="0.3"/>
<path d="M398.99 302.32L401.91 302.32" stroke="#333" stroke-width="0.3"/>
<path d="M398.99 317.86L405.22 317.86" stroke="#333" stroke-width="0.3"/>
<path d="M396.45 275L396.45 305" stroke="#333" stroke-width="0.3"/>
<path d="M396.45 275L400.52 275" stroke="#333" stroke-width="0.3"/>
<path d="M396.45 305L398.99 305" stroke="#333" stroke-width="0.3"/>
<defs><linearGradient id="gg1" x1="0" y1="0" x2="0" y2="1"><stop offset="0" stop-color="#ea2424"/><stop offset="0.42" stop-color="#f04848"/><stop offset="0.5" stop-color="#fdf4f8"/><stop offset="0.58" stop-color="#3a3ae4"/><stop offset="1" stop-color="#2020e0"/></linearGradient></defs>
<rect x="506" y="254" width="2.6" height="30.5" fill="url(#gg1)"/>
<text x="509.8" y="257" font-size="1.57">4</text>
<text x="509.8" y="264" font-size="1.57">2</text>
<text x="509.8" y="271" font-size="1.57">0</text>
<text x="509.8" y="278" font-size="1.57">-2</text>
<text x="509.8" y="285" font-size="1.57">-4</text>
<text x="511" y="254.6" font-size="1.57">Risk</text>
<rect x="511" y="255.2" width="1.5" height="1.5" fill="#35d0d8"/>
<text x="513" y="256.5" font-size="1.34">Low-risk</text>
<rect x="511" y="257.2" width="1.5" height="1.5" fill="#f08a88"/>
<text x="513" y="258.5" font-size="1.34">High-risk</text>
<text x="433.3" y="327.8" font-size="2.5" class="n" font-weight="bold">Risk</text>
<rect x="440.7" y="325" width="3.5" height="3.5" fill="#1166ee" stroke="#0a3a99" stroke-width="0.3"/>
<text x="445.4" y="327.7" font-size="2.35">Low-risk</text>
<rect x="454.6" y="325" width="3.5" height="3.5" fill="#ee1111" stroke="#880a0a" stroke-width="0.3"/>
<text x="459.3" y="327.7" font-size="2.35">High-risk</text>
<path d="M409.1 338.1L409.1 398.1" stroke="#999" stroke-width="0.4"/>
<path d="M409.1 398.1L495.8 398.1" stroke="#999" stroke-width="0.4"/>
<path d="M408.1 348.3L409.1 348.3" stroke="#555" stroke-width="0.3"/>
<text x="407.2" y="349.2" font-size="2.8" class="e">0.2</text>
<path d="M408.1 360.4L409.1 360.4" stroke="#555" stroke-width="0.3"/>
<text x="407.2" y="361.3" font-size="2.8" class="e">0.0</text>
<path d="M408.1 373.1L409.1 373.1" stroke="#555" stroke-width="0.3"/>
<text x="407.2" y="374" font-size="2.8" class="e">-0.2</text>
<path d="M408.1 386L409.1 386" stroke="#555" stroke-width="0.3"/>
<text x="407.2" y="386.9" font-size="2.8" class="e">-0.4</text>
<text x="399.4" y="367.7" font-size="2.8" class="m" transform="rotate(-90 399.4 367.7)">TIDE</text>
<path d="M432.4,344.8 C432.28,345.33 432.05,346.97 431.7,348 C431.35,349.03 431.03,350 430.3,351 C429.57,352 428.53,353 427.3,354 C426.07,355 424.45,356 422.9,357 C421.35,358 419.45,359 418,360 C416.55,361 415.02,362.17 414.2,363 C413.38,363.83 413.15,364.33 413.1,365 C413.05,365.67 413.25,366.25 413.9,367 C414.55,367.75 415.73,368.67 417,369.5 C418.27,370.33 420.05,371.08 421.5,372 C422.95,372.92 424.5,374 425.7,375 C426.9,376 427.85,376.83 428.7,378 C429.55,379.17 430.3,380.67 430.8,382 C431.3,383.33 431.47,384.67 431.7,386 C431.93,387.33 432.08,388.78 432.2,390 C432.32,391.22 432.33,392.75 432.4,393.3 C432.47,393.85 432.53,393.85 432.6,393.3 C432.67,392.75 432.68,391.22 432.8,390 C432.92,388.78 433.07,387.33 433.3,386 C433.53,384.67 433.7,383.33 434.2,382 C434.7,380.67 435.45,379.17 436.3,378 C437.15,376.83 438.1,376 439.3,375 C440.5,374 442.05,372.92 443.5,372 C444.95,371.08 446.73,370.33 448,369.5 C449.27,368.67 450.45,367.75 451.1,367 C451.75,366.25 451.95,365.67 451.9,365 C451.85,364.33 451.62,363.83 450.8,363 C449.98,362.17 448.45,361 447,360 C445.55,359 443.65,358 442.1,357 C440.55,356 438.93,355 437.7,354 C436.47,353 435.43,352 434.7,351 C433.97,350 433.65,349.03 433.3,348 C432.95,346.97 432.72,345.33 432.6,344.8Z" fill="#1166ee" stroke="#111" stroke-width="0.3" />
<path d="M472.3,338.1 C472.23,338.75 472.12,340.77 471.9,342 C471.68,343.23 471.48,344.42 471,345.5 C470.52,346.58 470.02,347.5 469,348.5 C467.98,349.5 466.3,350.58 464.9,351.5 C463.5,352.42 461.95,353.08 460.6,354 C459.25,354.92 457.72,356.08 456.8,357 C455.88,357.92 455.42,358.75 455.1,359.5 C454.78,360.25 454.83,360.75 454.9,361.5 C454.97,362.25 455.12,363.17 455.5,364 C455.88,364.83 456.38,365.58 457.2,366.5 C458.02,367.42 459.28,368.5 460.4,369.5 C461.52,370.5 462.77,371.42 463.9,372.5 C465.03,373.58 466.25,374.75 467.2,376 C468.15,377.25 468.93,378.5 469.6,380 C470.27,381.5 470.82,383.33 471.2,385 C471.58,386.67 471.72,388.17 471.9,390 C472.08,391.83 472.2,395 472.3,396 C472.4,397 472.4,397 472.5,396 C472.6,395 472.72,391.83 472.9,390 C473.08,388.17 473.22,386.67 473.6,385 C473.98,383.33 474.53,381.5 475.2,380 C475.87,378.5 476.65,377.25 477.6,376 C478.55,374.75 479.77,373.58 480.9,372.5 C482.03,371.42 483.28,370.5 484.4,369.5 C485.52,368.5 486.78,367.42 487.6,366.5 C488.42,365.58 488.92,364.83 489.3,364 C489.68,363.17 489.83,362.25 489.9,361.5 C489.97,360.75 490.02,360.25 489.7,359.5 C489.38,358.75 488.92,357.92 488,357 C487.08,356.08 485.55,354.92 484.2,354 C482.85,353.08 481.3,352.42 479.9,351.5 C478.5,350.58 476.82,349.5 475.8,348.5 C474.78,347.5 474.28,346.58 473.8,345.5 C473.32,344.42 473.12,343.23 472.9,342 C472.68,340.77 472.57,338.75 472.5,338.1Z" fill="#ee1111" stroke="#111" stroke-width="0.3" />
<path d="M432.5 344.8L432.5 393.3" stroke="#111" stroke-width="0.3"/>
<path d="M472.4 338.1L472.4 396" stroke="#111" stroke-width="0.3"/>
<rect x="429.3" y="361" width="6.7" height="9.9" fill="#fff" stroke="#111" stroke-width="0.35"/>
<path d="M429.3 365.8L436 365.8" stroke="#111" stroke-width="0.7"/>
<rect x="469.1" y="358.3" width="6.8" height="10.7" fill="#fff" stroke="#111" stroke-width="0.35"/>
<path d="M469.1 363.7L475.9 363.7" stroke="#111" stroke-width="0.7"/>
<polyline points="432.5,343.6 432.5,342.7 472.4,342.7 472.4,343.6" fill="none" stroke="#555" stroke-width="0.3" />
<text x="452.5" y="342.3" font-size="2.69" class="m">*</text>
<text x="432.5" y="402.4" font-size="2.91" class="m">Low-risk</text>
<text x="472.4" y="402.4" font-size="2.91" class="m">High-risk</text>
<path d="M432.5 398.1L432.5 399.1" stroke="#555" stroke-width="0.3"/>
<path d="M472.4 398.1L472.4 399.1" stroke="#555" stroke-width="0.3"/>
</g>
<g id="panel_h">
<text x="388.9" y="434.3" font-size="11.1" class="n">h</text>
<circle cx="434.6" cy="419.2" r="0.7" fill="#2a7ae0"/>
<text x="436.6" y="420.1" font-size="2.4" class="n" font-weight="bold">Low-risk</text>
<circle cx="450.8" cy="419.2" r="0.7" fill="#e8204a"/>
<text x="452.8" y="420.1" font-size="2.4" class="n" font-weight="bold">High-risk</text>
<path d="M416.6 486.7L450.3 467.9" stroke="#d0d0d0" stroke-width="0.25"/>
<path d="M414.72 483.57L459.62 483.57" stroke="#d0d0d0" stroke-width="0.25"/>
<path d="M424.1 486.7L457.8 467.9" stroke="#d0d0d0" stroke-width="0.25"/>
<path d="M420.33 480.43L465.23 480.43" stroke="#d0d0d0" stroke-width="0.25"/>
<path d="M431.6 486.7L465.3 467.9" stroke="#d0d0d0" stroke-width="0.25"/>
<path d="M425.95 477.3L470.85 477.3" stroke="#d0d0d0" stroke-width="0.25"/>
<path d="M439.1 486.7L472.8 467.9" stroke="#d0d0d0" stroke-width="0.25"/>
<path d="M431.57 474.17L476.47 474.17" stroke="#d0d0d0" stroke-width="0.25"/>
<path d="M446.6 486.7L480.3 467.9" stroke="#d0d0d0" stroke-width="0.25"/>
<path d="M437.18 471.03L482.08 471.03" stroke="#d0d0d0" stroke-width="0.25"/>
<path d="M409.1 486.7L454 486.7" stroke="#333" stroke-width="0.4"/>
<path d="M409.1 486.7L409.1 448.2" stroke="#333" stroke-width="0.4"/>
<path d="M409.1 448.2L454 448.2" stroke="#333" stroke-width="0.4"/>
<path d="M454 448.2L454 486.7" stroke="#333" stroke-width="0.4"/>
<path d="M409.1 486.7L442.8 467.9" stroke="#333" stroke-width="0.4"/>
<path d="M454 486.7L487.7 467.9" stroke="#333" stroke-width="0.4"/>
<path d="M409.1 448.2L442.8 429.4" stroke="#333" stroke-width="0.4"/>
<path d="M454 448.2L487.7 429.4" stroke="#333" stroke-width="0.4"/>
<path d="M442.8 467.9L487.7 467.9" stroke="#333" stroke-width="0.4"/>
<path d="M442.8 467.9L442.8 429.4" stroke="#333" stroke-width="0.4"/>
<path d="M442.8 429.4L487.7 429.4" stroke="#333" stroke-width="0.4"/>
<path d="M487.7 429.4L487.7 467.9" stroke="#333" stroke-width="0.4"/>
<path d="M437.19 456.46h1.1v1.1h-1.1zM451.74 454.86h1.1v1.1h-1.1zM448.13 450.97h1.1v1.1h-1.1zM445.82 454.91h1.1v1.1h-1.1zM452.69 455.93h1.1v1.1h-1.1zM447.15 453.62h1.1v1.1h-1.1zM442.36 456.61h1.1v1.1h-1.1zM454.93 448.79h1.1v1.1h-1.1zM430.84 464.69h1.1v1.1h-1.1zM456.73 457.14h1.1v1.1h-1.1zM449.52 454.49h1.1v1.1h-1.1zM445.28 452.35h1.1v1.1h-1.1zM450.94 455h1.1v1.1h-1.1zM436.03 455.75h1.1v1.1h-1.1zM444.15 454.31h1.1v1.1h-1.1zM458.81 458.4h1.1v1.1h-1.1zM428.75 460.01h1.1v1.1h-1.1zM453.7 459.82h1.1v1.1h-1.1zM452.13 448.84h1.1v1.1h-1.1zM452.62 455.75h1.1v1.1h-1.1zM456.11 456.69h1.1v1.1h-1.1zM438.58 463.5h1.1v1.1h-1.1zM440.42 460.78h1.1v1.1h-1.1zM450.04 453.97h1.1v1.1h-1.1zM434.07 454.82h1.1v1.1h-1.1zM442.04 456.17h1.1v1.1h-1.1zM446.19 461.77h1.1v1.1h-1.1zM449.93 459.8h1.1v1.1h-1.1zM440.57 455.46h1.1v1.1h-1.1zM452.89 458.78h1.1v1.1h-1.1zM451.5 454.14h1.1v1.1h-1.1zM441.2 462.87h1.1v1.1h-1.1zM443.31 455.32h1.1v1.1h-1.1zM456.6 455.26h1.1v1.1h-1.1zM443.62 459.42h1.1v1.1h-1.1zM446.13 460.67h1.1v1.1h-1.1zM446.62 453.39h1.1v1.1h-1.1zM461.93 458.56h1.1v1.1h-1.1zM448.22 455.58h1.1v1.1h-1.1zM439.41 455.08h1.1v1.1h-1.1zM439.8 459.91h1.1v1.1h-1.1zM454.49 454.11h1.1v1.1h-1.1zM444.38 457.72h1.1v1.1h-1.1zM447.22 457.88h1.1v1.1h-1.1zM450.23 457.11h1.1v1.1h-1.1zM451.05 452.27h1.1v1.1h-1.1zM451.51 448.77h1.1v1.1h-1.1zM447.91 455.02h1.1v1.1h-1.1zM449.46 455.15h1.1v1.1h-1.1zM448.66 449.82h1.1v1.1h-1.1zM444.12 453.71h1.1v1.1h-1.1zM449.36 456.41h1.1v1.1h-1.1zM444.52 454.58h1.1v1.1h-1.1zM442.94 456.06h1.1v1.1h-1.1zM449.67 458.05h1.1v1.1h-1.1zM446.23 452.52h1.1v1.1h-1.1zM442.2 458.96h1.1v1.1h-1.1zM440.89 455.53h1.1v1.1h-1.1zM433.46 460.54h1.1v1.1h-1.1zM447.29 453.74h1.1v1.1h-1.1zM445.74 458.11h1.1v1.1h-1.1zM446.37 456.73h1.1v1.1h-1.1zM447 451.94h1.1v1.1h-1.1zM436.77 460.47h1.1v1.1h-1.1zM443.75 460.17h1.1v1.1h-1.1zM453.7 453.53h1.1v1.1h-1.1zM443.18 454.54h1.1v1.1h-1.1zM456.64 454.86h1.1v1.1h-1.1zM445.52 459.09h1.1v1.1h-1.1zM441.57 454.63h1.1v1.1h-1.1zM443.63 456.18h1.1v1.1h-1.1zM439.48 454.7h1.1v1.1h-1.1zM447.83 452.5h1.1v1.1h-1.1zM441 458.07h1.1v1.1h-1.1zM441.06 455.97h1.1v1.1h-1.1zM451.62 455.72h1.1v1.1h-1.1zM457.7 454.34h1.1v1.1h-1.1zM438.09 458.24h1.1v1.1h-1.1zM448.31 458.37h1.1v1.1h-1.1zM438.62 456.54h1.1v1.1h-1.1zM453.48 455.93h1.1v1.1h-1.1zM453.65 452.83h1.1v1.1h-1.1zM449.8 455.68h1.1v1.1h-1.1zM456.21 451.66h1.1v1.1h-1.1zM454.1 455.88h1.1v1.1h-1.1zM447.48 453.76h1.1v1.1h-1.1zM440.79 451.79h1.1v1.1h-1.1zM448.86 452.6h1.1v1.1h-1.1zM453.76 456.7h1.1v1.1h-1.1zM449.89 459.42h1.1v1.1h-1.1zM446.62 459.06h1.1v1.1h-1.1zM437.28 455.64h1.1v1.1h-1.1zM452.89 454.87h1.1v1.1h-1.1zM456.57 455.18h1.1v1.1h-1.1zM442.24 461.21h1.1v1.1h-1.1zM447.96 455.23h1.1v1.1h-1.1zM446.7 453.51h1.1v1.1h-1.1zM445.05 458.91h1.1v1.1h-1.1zM443.19 455.97h1.1v1.1h-1.1zM442.68 456.69h1.1v1.1h-1.1zM450.26 457.4h1.1v1.1h-1.1zM445.22 453.79h1.1v1.1h-1.1zM448.89 458.76h1.1v1.1h-1.1zM450.91 464.61h1.1v1.1h-1.1zM447.99 454.18h1.1v1.1h-1.1zM445.62 459.54h1.1v1.1h-1.1zM441.78 456.15h1.1v1.1h-1.1zM437.89 456.38h1.1v1.1h-1.1zM451.31 458.94h1.1v1.1h-1.1zM450.8 459.03h1.1v1.1h-1.1zM443.12 461.81h1.1v1.1h-1.1zM457.54 449.36h1.1v1.1h-1.1zM440.78 459.27h1.1v1.1h-1.1zM451.57 459.93h1.1v1.1h-1.1zM448.29 452.6h1.1v1.1h-1.1zM443.14 461.4h1.1v1.1h-1.1zM447.27 450.31h1.1v1.1h-1.1zM446.25 458.49h1.1v1.1h-1.1zM447.24 458.14h1.1v1.1h-1.1zM450.11 455.78h1.1v1.1h-1.1zM441.31 456.92h1.1v1.1h-1.1zM451.45 453.55h1.1v1.1h-1.1zM453.46 461.79h1.1v1.1h-1.1zM451.83 456.79h1.1v1.1h-1.1zM447.67 453.19h1.1v1.1h-1.1zM456.25 453.78h1.1v1.1h-1.1zM443.25 462.49h1.1v1.1h-1.1zM453.18 453.52h1.1v1.1h-1.1zM448.88 457.03h1.1v1.1h-1.1zM452.1 449.37h1.1v1.1h-1.1zM441.77 452.17h1.1v1.1h-1.1zM448.37 453.65h1.1v1.1h-1.1zM449.83 462h1.1v1.1h-1.1zM450.44 452.77h1.1v1.1h-1.1zM446.96 457.37h1.1v1.1h-1.1zM437.13 461.22h1.1v1.1h-1.1zM448.66 458.55h1.1v1.1h-1.1zM454.34 456.11h1.1v1.1h-1.1zM455.05 456.88h1.1v1.1h-1.1zM441.38 456.92h1.1v1.1h-1.1zM446.97 458.8h1.1v1.1h-1.1zM457.67 450.06h1.1v1.1h-1.1zM447.3 453.83h1.1v1.1h-1.1zM448.64 458.82h1.1v1.1h-1.1zM456.77 449.52h1.1v1.1h-1.1zM448.25 460.43h1.1v1.1h-1.1zM442.76 459.01h1.1v1.1h-1.1zM450.14 460.55h1.1v1.1h-1.1zM449.9 448.31h1.1v1.1h-1.1zM441.23 457.11h1.1v1.1h-1.1zM445.45 454.92h1.1v1.1h-1.1zM454.16 451.44h1.1v1.1h-1.1zM448.04 459.17h1.1v1.1h-1.1zM436.35 457.91h1.1v1.1h-1.1zM445.79 454.01h1.1v1.1h-1.1zM459.56 452.34h1.1v1.1h-1.1zM451.34 452.65h1.1v1.1h-1.1zM441.61 457.27h1.1v1.1h-1.1zM453.61 454.78h1.1v1.1h-1.1zM450.71 455.12h1.1v1.1h-1.1zM453.47 455.99h1.1v1.1h-1.1zM448.61 458.22h1.1v1.1h-1.1zM450.06 456.08h1.1v1.1h-1.1zM445.02 456.81h1.1v1.1h-1.1zM445.03 460.54h1.1v1.1h-1.1zM446.95 458.84h1.1v1.1h-1.1zM444.09 458.16h1.1v1.1h-1.1zM438.31 454.97h1.1v1.1h-1.1zM454.06 456h1.1v1.1h-1.1zM435.01 455.97h1.1v1.1h-1.1zM445.97 453.74h1.1v1.1h-1.1zM438.28 452.54h1.1v1.1h-1.1zM456.37 453.31h1.1v1.1h-1.1zM451.46 457.48h1.1v1.1h-1.1zM442.29 457.03h1.1v1.1h-1.1zM447.6 452.28h1.1v1.1h-1.1zM447.95 455.91h1.1v1.1h-1.1zM448.23 454.46h1.1v1.1h-1.1zM444.09 456.22h1.1v1.1h-1.1zM441.56 459.7h1.1v1.1h-1.1zM448.81 455.63h1.1v1.1h-1.1zM445.15 457.27h1.1v1.1h-1.1zM447.11 454.29h1.1v1.1h-1.1zM450.59 461.15h1.1v1.1h-1.1zM458.4 456.65h1.1v1.1h-1.1zM445.12 466.89h1.1v1.1h-1.1zM449.23 456.7h1.1v1.1h-1.1zM442.49 457.03h1.1v1.1h-1.1zM444.31 454.26h1.1v1.1h-1.1zM446.75 456.62h1.1v1.1h-1.1z" fill="#2a7ae0"/>
<path d="M454.35 461.94h1.1v1.1h-1.1zM442.05 465.4h1.1v1.1h-1.1zM448.79 461.89h1.1v1.1h-1.1zM444.06 464.89h1.1v1.1h-1.1zM455.77 460.42h1.1v1.1h-1.1zM450.9 459.9h1.1v1.1h-1.1zM462.65 458.05h1.1v1.1h-1.1zM446.45 460.12h1.1v1.1h-1.1zM454.12 460.45h1.1v1.1h-1.1zM453.21 462.87h1.1v1.1h-1.1zM461.74 467.48h1.1v1.1h-1.1zM450.34 461.34h1.1v1.1h-1.1zM452.2 465.72h1.1v1.1h-1.1zM463.42 463.81h1.1v1.1h-1.1zM452.45 462.91h1.1v1.1h-1.1zM447.78 462.43h1.1v1.1h-1.1zM454.33 458.99h1.1v1.1h-1.1zM454.47 466.01h1.1v1.1h-1.1zM451.34 463.31h1.1v1.1h-1.1zM452.85 454.83h1.1v1.1h-1.1zM458.24 456.6h1.1v1.1h-1.1zM443.52 464.57h1.1v1.1h-1.1zM454.61 463.34h1.1v1.1h-1.1zM456.01 465.79h1.1v1.1h-1.1zM455.62 465.32h1.1v1.1h-1.1zM457.14 456.76h1.1v1.1h-1.1zM454.91 463.45h1.1v1.1h-1.1zM455.89 461.6h1.1v1.1h-1.1zM453.26 467.62h1.1v1.1h-1.1zM456.79 458.3h1.1v1.1h-1.1zM461.32 462.05h1.1v1.1h-1.1zM454.95 461.5h1.1v1.1h-1.1zM439.29 454.81h1.1v1.1h-1.1zM450.36 466.7h1.1v1.1h-1.1zM457.28 456.41h1.1v1.1h-1.1zM458.87 466.71h1.1v1.1h-1.1zM446.39 460.27h1.1v1.1h-1.1zM444.83 459.3h1.1v1.1h-1.1zM441.71 460.15h1.1v1.1h-1.1zM454.96 462.2h1.1v1.1h-1.1zM458.58 464.41h1.1v1.1h-1.1zM451.32 454.36h1.1v1.1h-1.1zM454.7 461.76h1.1v1.1h-1.1zM447.45 466.37h1.1v1.1h-1.1zM450.04 464.17h1.1v1.1h-1.1zM456.73 466.87h1.1v1.1h-1.1zM442.33 458.08h1.1v1.1h-1.1zM450.77 465.95h1.1v1.1h-1.1zM463 459.18h1.1v1.1h-1.1zM453.26 467.75h1.1v1.1h-1.1zM451.49 462.73h1.1v1.1h-1.1zM459.51 463.61h1.1v1.1h-1.1zM452.2 464.7h1.1v1.1h-1.1zM453.18 459.23h1.1v1.1h-1.1zM447.14 464.17h1.1v1.1h-1.1zM464.77 460.55h1.1v1.1h-1.1zM453.55 464.03h1.1v1.1h-1.1zM449.81 462.24h1.1v1.1h-1.1zM456.84 461.77h1.1v1.1h-1.1zM459.38 461.88h1.1v1.1h-1.1zM452.05 464.33h1.1v1.1h-1.1zM459.21 467.25h1.1v1.1h-1.1zM446.66 460.69h1.1v1.1h-1.1zM467.52 460.31h1.1v1.1h-1.1zM463.94 461.59h1.1v1.1h-1.1zM450.44 459.33h1.1v1.1h-1.1zM450.13 466.29h1.1v1.1h-1.1zM443.88 459.97h1.1v1.1h-1.1zM456.38 462.03h1.1v1.1h-1.1zM450.47 460.3h1.1v1.1h-1.1zM448.79 460.92h1.1v1.1h-1.1zM464.87 461.64h1.1v1.1h-1.1zM456.04 464.53h1.1v1.1h-1.1zM453.41 453.96h1.1v1.1h-1.1zM462.52 454.06h1.1v1.1h-1.1zM452.1 464.51h1.1v1.1h-1.1zM443.07 465.21h1.1v1.1h-1.1zM448.98 458.53h1.1v1.1h-1.1zM452.81 459.61h1.1v1.1h-1.1zM448.16 461.17h1.1v1.1h-1.1zM457.73 459.17h1.1v1.1h-1.1zM445.79 461.67h1.1v1.1h-1.1zM451.05 456.2h1.1v1.1h-1.1zM453.9 459.93h1.1v1.1h-1.1zM455.57 461.39h1.1v1.1h-1.1zM453.36 458.9h1.1v1.1h-1.1zM458.54 463.18h1.1v1.1h-1.1zM457.07 463.01h1.1v1.1h-1.1zM464.68 458.88h1.1v1.1h-1.1zM449.15 465.63h1.1v1.1h-1.1zM449.68 460.66h1.1v1.1h-1.1zM458.24 464.12h1.1v1.1h-1.1zM462.56 453.01h1.1v1.1h-1.1zM445.55 459.05h1.1v1.1h-1.1zM444.77 466.32h1.1v1.1h-1.1zM458.71 453.91h1.1v1.1h-1.1zM456.5 465.58h1.1v1.1h-1.1zM461.03 462.91h1.1v1.1h-1.1zM446.04 463.86h1.1v1.1h-1.1zM448.56 462h1.1v1.1h-1.1zM457.3 463.8h1.1v1.1h-1.1zM454.86 458.87h1.1v1.1h-1.1zM465.15 458.69h1.1v1.1h-1.1zM453.38 465.87h1.1v1.1h-1.1zM454.19 461.35h1.1v1.1h-1.1zM454.72 458.09h1.1v1.1h-1.1zM453.59 461.48h1.1v1.1h-1.1zM452.73 461.04h1.1v1.1h-1.1zM452.19 466.97h1.1v1.1h-1.1zM450.16 459.87h1.1v1.1h-1.1zM453.67 465.32h1.1v1.1h-1.1zM452.57 464.51h1.1v1.1h-1.1zM454.07 466.05h1.1v1.1h-1.1zM454.1 455.14h1.1v1.1h-1.1zM442.6 468.9h1.1v1.1h-1.1zM447.44 468.43h1.1v1.1h-1.1zM457.88 455.72h1.1v1.1h-1.1zM460.84 458.19h1.1v1.1h-1.1zM457.47 459.37h1.1v1.1h-1.1zM446.17 462.83h1.1v1.1h-1.1zM451.89 461.9h1.1v1.1h-1.1zM453.56 466.99h1.1v1.1h-1.1zM447.68 466.94h1.1v1.1h-1.1zM453.16 457.43h1.1v1.1h-1.1zM458.34 464.09h1.1v1.1h-1.1zM458.56 459.69h1.1v1.1h-1.1zM462.62 463.84h1.1v1.1h-1.1zM451.26 464.03h1.1v1.1h-1.1zM440.68 463.19h1.1v1.1h-1.1zM450.12 461.48h1.1v1.1h-1.1zM460.22 461.11h1.1v1.1h-1.1zM452.66 471.27h1.1v1.1h-1.1zM466.22 453.38h1.1v1.1h-1.1zM458.11 459.72h1.1v1.1h-1.1zM448.94 459.17h1.1v1.1h-1.1zM446.61 462.04h1.1v1.1h-1.1zM454.66 463.79h1.1v1.1h-1.1zM462.59 462.42h1.1v1.1h-1.1zM459.94 467.19h1.1v1.1h-1.1zM450.9 459.83h1.1v1.1h-1.1zM456.03 460.57h1.1v1.1h-1.1zM457.08 467.5h1.1v1.1h-1.1zM444.96 468.91h1.1v1.1h-1.1zM453.88 461.86h1.1v1.1h-1.1zM470.12 454.88h1.1v1.1h-1.1zM444.87 464.9h1.1v1.1h-1.1zM452.81 460.5h1.1v1.1h-1.1zM454.19 457.63h1.1v1.1h-1.1zM453.75 461.55h1.1v1.1h-1.1zM450.61 463.65h1.1v1.1h-1.1zM455.27 461.26h1.1v1.1h-1.1zM459.2 461.57h1.1v1.1h-1.1zM455.56 459.46h1.1v1.1h-1.1zM449.6 456.73h1.1v1.1h-1.1zM449.06 460.57h1.1v1.1h-1.1zM453.85 460.05h1.1v1.1h-1.1zM452.61 469.2h1.1v1.1h-1.1zM454.96 464.41h1.1v1.1h-1.1zM458.81 464.48h1.1v1.1h-1.1zM456.97 460.52h1.1v1.1h-1.1zM441.3 463.1h1.1v1.1h-1.1zM459.84 463.12h1.1v1.1h-1.1zM451.61 466.53h1.1v1.1h-1.1zM467.13 456.85h1.1v1.1h-1.1zM451.96 464.25h1.1v1.1h-1.1zM441.45 478.15h1.1v1.1h-1.1zM443.95 477.45h1.1v1.1h-1.1zM437.45 470.95h1.1v1.1h-1.1zM435.95 474.45h1.1v1.1h-1.1zM445.45 471.45h1.1v1.1h-1.1zM448.95 470.95h1.1v1.1h-1.1zM460.45 469.45h1.1v1.1h-1.1zM465.45 449.45h1.1v1.1h-1.1zM463.45 445.95h1.1v1.1h-1.1zM469.45 457.45h1.1v1.1h-1.1zM467.45 461.45h1.1v1.1h-1.1zM440.45 467.95h1.1v1.1h-1.1zM451.45 471.95h1.1v1.1h-1.1zM456.45 470.45h1.1v1.1h-1.1z" fill="#e8204a"/>
<path d="M409.1 486.7L409.1 487.6" stroke="#333" stroke-width="0.25"/>
<text x="409.1" y="490.9" font-size="2.35" class="m">-4</text>
<path d="M408.2 486.7L409.1 486.7" stroke="#333" stroke-width="0.25"/>
<text x="407.4" y="487.4" font-size="2.35" class="e">-4</text>
<path d="M418.1 486.7L418.1 487.6" stroke="#333" stroke-width="0.25"/>
<text x="418.1" y="490.9" font-size="2.35" class="m">-2</text>
<path d="M408.2 479L409.1 479" stroke="#333" stroke-width="0.25"/>
<text x="407.4" y="479.7" font-size="2.35" class="e">-2</text>
<path d="M427.1 486.7L427.1 487.6" stroke="#333" stroke-width="0.25"/>
<text x="427.1" y="490.9" font-size="2.35" class="m">0</text>
<path d="M408.2 471.3L409.1 471.3" stroke="#333" stroke-width="0.25"/>
<text x="407.4" y="472" font-size="2.35" class="e">0</text>
<path d="M436.1 486.7L436.1 487.6" stroke="#333" stroke-width="0.25"/>
<text x="436.1" y="490.9" font-size="2.35" class="m">2</text>
<path d="M408.2 463.6L409.1 463.6" stroke="#333" stroke-width="0.25"/>
<text x="407.4" y="464.3" font-size="2.35" class="e">2</text>
<path d="M445.1 486.7L445.1 487.6" stroke="#333" stroke-width="0.25"/>
<text x="445.1" y="490.9" font-size="2.35" class="m">4</text>
<path d="M408.2 455.9L409.1 455.9" stroke="#333" stroke-width="0.25"/>
<text x="407.4" y="456.6" font-size="2.35" class="e">4</text>
<path d="M454.1 486.7L454.1 487.6" stroke="#333" stroke-width="0.25"/>
<text x="454.1" y="490.9" font-size="2.35" class="m">6</text>
<path d="M408.2 448.2L409.1 448.2" stroke="#333" stroke-width="0.25"/>
<text x="407.4" y="448.9" font-size="2.35" class="e">6</text>
<path d="M454 486.7L454.8 487" stroke="#333" stroke-width="0.25"/>
<text x="455.4" y="488.5" font-size="2.35">-4</text>
<path d="M462.02 482.22L462.82 482.52" stroke="#333" stroke-width="0.25"/>
<text x="463.42" y="484.02" font-size="2.35">-2</text>
<path d="M470.05 477.75L470.85 478.05" stroke="#333" stroke-width="0.25"/>
<text x="471.45" y="479.55" font-size="2.35">0</text>
<path d="M478.07 473.27L478.87 473.57" stroke="#333" stroke-width="0.25"/>
<text x="479.47" y="475.07" font-size="2.35">2</text>
<path d="M486.1 468.8L486.9 469.1" stroke="#333" stroke-width="0.25"/>
<text x="487.5" y="470.6" font-size="2.35">4</text>
<text x="431.2" y="496.2" font-size="2.8" class="m n" font-weight="bold">PC1</text>
<text x="497.4" y="469.8" font-size="2.8" class="m n" font-weight="bold" transform="rotate(-90 497.4 469.8)">PC2</text>
<text x="400.2" y="467.1" font-size="2.8" class="m n" font-weight="bold" transform="rotate(-90 400.2 467.1)">PC3</text>
</g>
</g>
</svg>
</body></html>
